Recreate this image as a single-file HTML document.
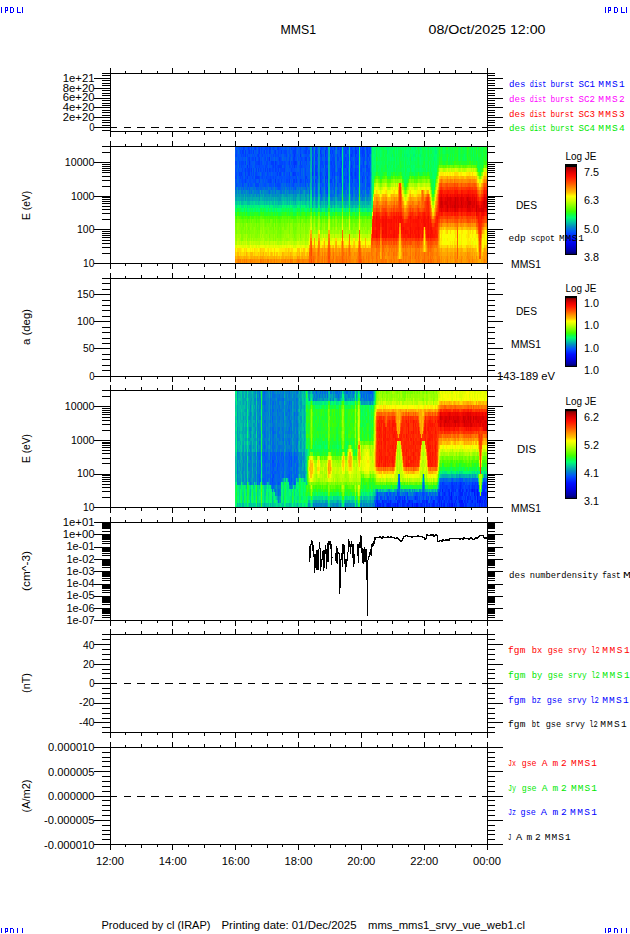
<!DOCTYPE html>
<html><head><meta charset="utf-8"><style>
html,body{margin:0;padding:0;background:#fff;width:630px;height:934px;overflow:hidden}
svg{display:block}
text{font-family:"Liberation Sans",sans-serif}
.m{font-family:"Liberation Mono",monospace}
</style></head><body>
<svg width="630" height="934" viewBox="0 0 630 934" shape-rendering="crispEdges">
<rect width="630" height="934" fill="#fff"/>
<path fill="#0033ff" d="M312 146h1v4h-1zM326 146h1v4h-1zM347 146h1v4h-1zM355 146h1v4h-1zM320 150h1v4h-1zM325 150h1v4h-1zM340 150h1v4h-1zM355 150h2v4h-2zM294 154h1v3h-1zM300 154h1v3h-1zM325 154h1v3h-1zM351 154h1v3h-1zM355 154h1v3h-1zM269 157h1v4h-1zM249 161h1v4h-1zM275 161h1v4h-1zM294 161h2v4h-2zM247 165h1v3h-1zM294 165h1v3h-1zM351 165h1v3h-1zM340 168h1v4h-1zM293 172h1v4h-1zM312 172h1v4h-1zM316 172h1v4h-1zM340 172h1v4h-1zM351 172h1v4h-1zM355 172h1v4h-1zM325 176h1v3h-1zM327 176h1v3h-1zM275 179h1v4h-1z"/>
<path fill="#003cff" d="M243 146h1v4h-1zM248 146h1v4h-1zM255 146h1v4h-1zM259 146h1v4h-1zM269 146h2v4h-2zM277 146h2v4h-2zM295 146h1v4h-1zM306 146h1v4h-1zM316 146h1v4h-1zM334 146h1v4h-1zM338 146h1v4h-1zM362 146h2v4h-2zM366 146h2v4h-2zM242 150h2v4h-2zM245 150h1v4h-1zM249 150h1v4h-1zM253 150h1v4h-1zM259 150h1v4h-1zM264 150h1v4h-1zM269 150h1v4h-1zM275 150h1v4h-1zM281 150h1v4h-1zM293 150h3v4h-3zM305 150h2v4h-2zM315 150h2v4h-2zM330 150h1v4h-1zM332 150h1v4h-1zM345 150h1v4h-1zM352 150h1v4h-1zM362 150h2v4h-2zM367 150h1v4h-1zM245 154h1v3h-1zM258 154h1v3h-1zM317 154h1v3h-1zM321 154h1v3h-1zM340 154h1v3h-1zM362 154h1v3h-1zM364 154h1v3h-1zM367 154h2v3h-2zM249 157h1v4h-1zM255 157h1v4h-1zM259 157h1v4h-1zM279 157h1v4h-1zM293 157h2v4h-2zM305 157h2v4h-2zM315 157h2v4h-2zM345 157h1v4h-1zM245 161h1v4h-1zM258 161h2v4h-2zM271 161h3v4h-3zM289 161h1v4h-1zM293 161h1v4h-1zM296 161h1v4h-1zM300 161h1v4h-1zM312 161h1v4h-1zM325 161h2v4h-2zM331 161h1v4h-1zM334 161h1v4h-1zM341 161h1v4h-1zM344 161h1v4h-1zM351 161h1v4h-1zM355 161h1v4h-1zM357 161h1v4h-1zM363 161h1v4h-1zM249 165h1v3h-1zM273 165h1v3h-1zM275 165h1v3h-1zM278 165h4v3h-4zM315 165h2v3h-2zM325 165h1v3h-1zM334 165h1v3h-1zM344 165h2v3h-2zM366 165h2v3h-2zM245 168h1v4h-1zM248 168h2v4h-2zM251 168h1v4h-1zM256 168h1v4h-1zM258 168h1v4h-1zM265 168h1v4h-1zM267 168h1v4h-1zM269 168h1v4h-1zM275 168h1v4h-1zM278 168h1v4h-1zM284 168h1v4h-1zM312 168h1v4h-1zM315 168h2v4h-2zM327 168h1v4h-1zM334 168h1v4h-1zM347 168h1v4h-1zM355 168h1v4h-1zM239 172h1v4h-1zM241 172h1v4h-1zM245 172h1v4h-1zM248 172h2v4h-2zM277 172h1v4h-1zM279 172h2v4h-2zM289 172h1v4h-1zM294 172h2v4h-2zM315 172h1v4h-1zM320 172h1v4h-1zM326 172h2v4h-2zM332 172h1v4h-1zM334 172h1v4h-1zM247 176h1v3h-1zM255 176h4v3h-4zM305 176h2v3h-2zM320 176h1v3h-1zM334 176h1v3h-1zM340 176h1v3h-1zM344 176h1v3h-1zM347 176h1v3h-1zM351 176h2v3h-2zM355 176h1v3h-1zM362 176h1v3h-1zM367 176h1v3h-1zM245 179h1v4h-1zM270 179h1v4h-1zM289 179h1v4h-1zM293 179h2v4h-2zM296 179h1v4h-1zM300 179h1v4h-1zM305 179h1v4h-1zM315 179h1v4h-1zM320 179h1v4h-1zM325 179h1v4h-1zM327 179h1v4h-1zM330 179h2v4h-2zM334 179h1v4h-1zM340 179h1v4h-1zM352 179h1v4h-1zM362 179h1v4h-1zM320 187h1v3h-1zM327 187h1v3h-1z"/>
<path fill="#0045ff" d="M235 146h1v4h-1zM244 146h1v4h-1zM249 146h1v4h-1zM251 146h1v4h-1zM254 146h1v4h-1zM258 146h1v4h-1zM261 146h1v4h-1zM265 146h3v4h-3zM273 146h1v4h-1zM291 146h1v4h-1zM294 146h1v4h-1zM300 146h1v4h-1zM305 146h1v4h-1zM307 146h1v4h-1zM321 146h1v4h-1zM327 146h1v4h-1zM331 146h1v4h-1zM337 146h1v4h-1zM340 146h2v4h-2zM345 146h1v4h-1zM351 146h1v4h-1zM358 146h1v4h-1zM360 146h1v4h-1zM369 146h1v4h-1zM236 150h1v4h-1zM240 150h1v4h-1zM248 150h1v4h-1zM251 150h1v4h-1zM258 150h1v4h-1zM261 150h1v4h-1zM266 150h1v4h-1zM270 150h1v4h-1zM274 150h1v4h-1zM278 150h1v4h-1zM284 150h3v4h-3zM300 150h1v4h-1zM304 150h1v4h-1zM308 150h2v4h-2zM312 150h1v4h-1zM326 150h1v4h-1zM346 150h1v4h-1zM351 150h1v4h-1zM361 150h1v4h-1zM364 150h1v4h-1zM369 150h1v4h-1zM236 154h1v3h-1zM241 154h1v3h-1zM243 154h1v3h-1zM247 154h1v3h-1zM257 154h1v3h-1zM262 154h1v3h-1zM273 154h1v3h-1zM275 154h1v3h-1zM278 154h1v3h-1zM286 154h1v3h-1zM293 154h1v3h-1zM295 154h1v3h-1zM315 154h2v3h-2zM320 154h1v3h-1zM331 154h1v3h-1zM333 154h1v3h-1zM337 154h1v3h-1zM344 154h1v3h-1zM347 154h1v3h-1zM350 154h1v3h-1zM352 154h1v3h-1zM363 154h1v3h-1zM248 157h1v4h-1zM252 157h2v4h-2zM258 157h1v4h-1zM265 157h1v4h-1zM267 157h1v4h-1zM280 157h1v4h-1zM289 157h1v4h-1zM301 157h1v4h-1zM309 157h1v4h-1zM312 157h1v4h-1zM321 157h1v4h-1zM325 157h2v4h-2zM332 157h3v4h-3zM337 157h2v4h-2zM344 157h1v4h-1zM348 157h1v4h-1zM350 157h1v4h-1zM355 157h3v4h-3zM363 157h2v4h-2zM367 157h1v4h-1zM369 157h1v4h-1zM235 161h2v4h-2zM239 161h1v4h-1zM241 161h3v4h-3zM255 161h3v4h-3zM261 161h1v4h-1zM266 161h2v4h-2zM276 161h1v4h-1zM279 161h4v4h-4zM284 161h1v4h-1zM291 161h1v4h-1zM306 161h1v4h-1zM316 161h1v4h-1zM320 161h3v4h-3zM327 161h1v4h-1zM330 161h1v4h-1zM333 161h1v4h-1zM340 161h1v4h-1zM346 161h1v4h-1zM356 161h1v4h-1zM367 161h1v4h-1zM239 165h1v3h-1zM241 165h1v3h-1zM255 165h1v3h-1zM259 165h1v3h-1zM265 165h2v3h-2zM272 165h1v3h-1zM277 165h1v3h-1zM284 165h1v3h-1zM289 165h1v3h-1zM292 165h1v3h-1zM296 165h1v3h-1zM300 165h2v3h-2zM312 165h1v3h-1zM317 165h1v3h-1zM320 165h1v3h-1zM323 165h1v3h-1zM331 165h2v3h-2zM341 165h1v3h-1zM352 165h1v3h-1zM355 165h1v3h-1zM361 165h1v3h-1zM363 165h1v3h-1zM242 168h1v4h-1zM247 168h1v4h-1zM253 168h1v4h-1zM260 168h1v4h-1zM263 168h1v4h-1zM270 168h1v4h-1zM272 168h2v4h-2zM276 168h1v4h-1zM280 168h4v4h-4zM291 168h1v4h-1zM300 168h1v4h-1zM305 168h1v4h-1zM320 168h1v4h-1zM325 168h2v4h-2zM331 168h3v4h-3zM338 168h2v4h-2zM350 168h3v4h-3zM356 168h2v4h-2zM361 168h1v4h-1zM366 168h4v4h-4zM236 172h1v4h-1zM240 172h1v4h-1zM251 172h1v4h-1zM253 172h1v4h-1zM255 172h2v4h-2zM262 172h1v4h-1zM267 172h1v4h-1zM284 172h1v4h-1zM292 172h1v4h-1zM300 172h1v4h-1zM305 172h1v4h-1zM317 172h1v4h-1zM321 172h1v4h-1zM337 172h1v4h-1zM339 172h1v4h-1zM347 172h1v4h-1zM350 172h1v4h-1zM352 172h1v4h-1zM354 172h1v4h-1zM356 172h2v4h-2zM363 172h1v4h-1zM368 172h1v4h-1zM235 176h2v3h-2zM240 176h1v3h-1zM242 176h1v3h-1zM245 176h1v3h-1zM252 176h1v3h-1zM259 176h1v3h-1zM262 176h1v3h-1zM266 176h1v3h-1zM270 176h1v3h-1zM273 176h1v3h-1zM275 176h1v3h-1zM289 176h1v3h-1zM296 176h1v3h-1zM317 176h1v3h-1zM326 176h1v3h-1zM332 176h1v3h-1zM339 176h1v3h-1zM356 176h2v3h-2zM364 176h1v3h-1zM242 179h1v4h-1zM255 179h1v4h-1zM259 179h1v4h-1zM268 179h2v4h-2zM271 179h1v4h-1zM278 179h1v4h-1zM281 179h1v4h-1zM286 179h2v4h-2zM301 179h1v4h-1zM307 179h1v4h-1zM316 179h1v4h-1zM321 179h1v4h-1zM339 179h1v4h-1zM347 179h1v4h-1zM357 179h1v4h-1zM367 179h1v4h-1zM236 183h1v4h-1zM242 183h1v4h-1zM248 183h1v4h-1zM255 183h4v4h-4zM275 183h1v4h-1zM277 183h3v4h-3zM293 183h1v4h-1zM305 183h1v4h-1zM316 183h1v4h-1zM326 183h1v4h-1zM334 183h1v4h-1zM337 183h1v4h-1zM341 183h1v4h-1zM344 183h1v4h-1zM351 183h1v4h-1zM367 183h3v4h-3zM320 190h1v4h-1zM327 190h1v4h-1z"/>
<path fill="#004eff" d="M239 146h1v4h-1zM241 146h1v4h-1zM247 146h1v4h-1zM256 146h1v4h-1zM262 146h1v4h-1zM264 146h1v4h-1zM272 146h1v4h-1zM274 146h1v4h-1zM279 146h2v4h-2zM285 146h1v4h-1zM289 146h1v4h-1zM292 146h2v4h-2zM296 146h1v4h-1zM315 146h1v4h-1zM320 146h1v4h-1zM322 146h2v4h-2zM325 146h1v4h-1zM330 146h1v4h-1zM332 146h1v4h-1zM339 146h1v4h-1zM344 146h1v4h-1zM346 146h1v4h-1zM348 146h1v4h-1zM350 146h1v4h-1zM352 146h1v4h-1zM356 146h2v4h-2zM364 146h1v4h-1zM368 146h1v4h-1zM241 150h1v4h-1zM250 150h1v4h-1zM255 150h1v4h-1zM263 150h1v4h-1zM267 150h1v4h-1zM279 150h2v4h-2zM283 150h1v4h-1zM289 150h1v4h-1zM292 150h1v4h-1zM303 150h1v4h-1zM321 150h1v4h-1zM327 150h1v4h-1zM331 150h1v4h-1zM333 150h2v4h-2zM341 150h1v4h-1zM344 150h1v4h-1zM350 150h1v4h-1zM353 150h2v4h-2zM357 150h2v4h-2zM360 150h1v4h-1zM366 150h1v4h-1zM368 150h1v4h-1zM370 150h1v4h-1zM235 154h1v3h-1zM242 154h1v3h-1zM244 154h1v3h-1zM249 154h1v3h-1zM252 154h1v3h-1zM254 154h1v3h-1zM259 154h1v3h-1zM261 154h1v3h-1zM264 154h2v3h-2zM267 154h1v3h-1zM269 154h1v3h-1zM271 154h1v3h-1zM276 154h2v3h-2zM280 154h1v3h-1zM284 154h2v3h-2zM289 154h2v3h-2zM305 154h4v3h-4zM312 154h1v3h-1zM323 154h1v3h-1zM326 154h2v3h-2zM334 154h1v3h-1zM348 154h1v3h-1zM353 154h1v3h-1zM356 154h3v3h-3zM361 154h1v3h-1zM238 157h1v4h-1zM242 157h1v4h-1zM245 157h1v4h-1zM247 157h1v4h-1zM251 157h1v4h-1zM261 157h1v4h-1zM264 157h1v4h-1zM268 157h1v4h-1zM271 157h1v4h-1zM275 157h1v4h-1zM278 157h1v4h-1zM281 157h1v4h-1zM286 157h1v4h-1zM295 157h2v4h-2zM298 157h1v4h-1zM300 157h1v4h-1zM302 157h1v4h-1zM304 157h1v4h-1zM313 157h1v4h-1zM320 157h1v4h-1zM327 157h1v4h-1zM330 157h2v4h-2zM340 157h2v4h-2zM346 157h2v4h-2zM351 157h2v4h-2zM361 157h2v4h-2zM366 157h1v4h-1zM240 161h1v4h-1zM247 161h2v4h-2zM250 161h1v4h-1zM260 161h1v4h-1zM264 161h1v4h-1zM269 161h2v4h-2zM277 161h1v4h-1zM283 161h1v4h-1zM285 161h1v4h-1zM288 161h1v4h-1zM292 161h1v4h-1zM302 161h1v4h-1zM304 161h1v4h-1zM315 161h1v4h-1zM317 161h1v4h-1zM332 161h1v4h-1zM337 161h1v4h-1zM347 161h2v4h-2zM352 161h2v4h-2zM362 161h1v4h-1zM368 161h1v4h-1zM236 165h1v3h-1zM242 165h2v3h-2zM250 165h2v3h-2zM256 165h3v3h-3zM260 165h4v3h-4zM267 165h1v3h-1zM269 165h1v3h-1zM274 165h1v3h-1zM276 165h1v3h-1zM285 165h1v3h-1zM290 165h1v3h-1zM293 165h1v3h-1zM295 165h1v3h-1zM299 165h1v3h-1zM302 165h1v3h-1zM304 165h2v3h-2zM309 165h1v3h-1zM313 165h1v3h-1zM321 165h2v3h-2zM326 165h2v3h-2zM330 165h1v3h-1zM333 165h1v3h-1zM337 165h1v3h-1zM339 165h2v3h-2zM343 165h1v3h-1zM346 165h2v3h-2zM356 165h1v3h-1zM362 165h1v3h-1zM364 165h1v3h-1zM369 165h1v3h-1zM235 168h2v4h-2zM238 168h1v4h-1zM244 168h1v4h-1zM246 168h1v4h-1zM250 168h1v4h-1zM261 168h1v4h-1zM271 168h1v4h-1zM277 168h1v4h-1zM292 168h3v4h-3zM330 168h1v4h-1zM343 168h2v4h-2zM360 168h1v4h-1zM235 172h1v4h-1zM242 172h1v4h-1zM247 172h1v4h-1zM257 172h1v4h-1zM263 172h2v4h-2zM268 172h1v4h-1zM270 172h1v4h-1zM273 172h1v4h-1zM275 172h2v4h-2zM281 172h1v4h-1zM283 172h1v4h-1zM286 172h2v4h-2zM297 172h2v4h-2zM313 172h1v4h-1zM325 172h1v4h-1zM330 172h2v4h-2zM333 172h1v4h-1zM338 172h1v4h-1zM341 172h1v4h-1zM345 172h1v4h-1zM361 172h1v4h-1zM366 172h1v4h-1zM369 172h1v4h-1zM239 176h1v3h-1zM241 176h1v3h-1zM246 176h1v3h-1zM249 176h2v3h-2zM253 176h1v3h-1zM261 176h1v3h-1zM264 176h1v3h-1zM267 176h3v3h-3zM271 176h2v3h-2zM276 176h1v3h-1zM279 176h4v3h-4zM284 176h1v3h-1zM286 176h3v3h-3zM290 176h1v3h-1zM292 176h2v3h-2zM295 176h1v3h-1zM300 176h1v3h-1zM312 176h1v3h-1zM316 176h1v3h-1zM321 176h2v3h-2zM331 176h1v3h-1zM345 176h2v3h-2zM354 176h1v3h-1zM363 176h1v3h-1zM366 176h1v3h-1zM368 176h1v3h-1zM236 179h1v4h-1zM239 179h1v4h-1zM241 179h1v4h-1zM243 179h2v4h-2zM246 179h1v4h-1zM249 179h2v4h-2zM253 179h2v4h-2zM263 179h1v4h-1zM265 179h1v4h-1zM267 179h1v4h-1zM273 179h1v4h-1zM277 179h1v4h-1zM279 179h1v4h-1zM284 179h1v4h-1zM288 179h1v4h-1zM291 179h1v4h-1zM295 179h1v4h-1zM303 179h1v4h-1zM309 179h1v4h-1zM312 179h2v4h-2zM345 179h1v4h-1zM348 179h1v4h-1zM350 179h2v4h-2zM355 179h2v4h-2zM363 179h1v4h-1zM368 179h2v4h-2zM243 183h1v4h-1zM250 183h2v4h-2zM264 183h2v4h-2zM269 183h3v4h-3zM273 183h1v4h-1zM276 183h1v4h-1zM280 183h1v4h-1zM286 183h1v4h-1zM289 183h1v4h-1zM292 183h1v4h-1zM300 183h1v4h-1zM308 183h1v4h-1zM312 183h1v4h-1zM320 183h1v4h-1zM322 183h1v4h-1zM325 183h1v4h-1zM327 183h1v4h-1zM330 183h1v4h-1zM332 183h1v4h-1zM347 183h1v4h-1zM355 183h1v4h-1zM358 183h1v4h-1zM364 183h1v4h-1zM366 183h1v4h-1zM278 187h2v3h-2zM295 187h1v3h-1zM316 187h1v3h-1zM325 187h2v3h-2zM334 187h1v3h-1zM344 187h2v3h-2zM351 187h1v3h-1zM355 187h2v3h-2zM362 187h1v3h-1zM366 187h1v3h-1zM369 187h1v3h-1zM316 190h1v4h-1zM326 190h1v4h-1zM334 190h1v4h-1zM352 190h1v4h-1z"/>
<path fill="#0058f8" d="M236 146h1v4h-1zM238 146h1v4h-1zM240 146h1v4h-1zM242 146h1v4h-1zM245 146h2v4h-2zM253 146h1v4h-1zM260 146h1v4h-1zM263 146h1v4h-1zM268 146h1v4h-1zM275 146h1v4h-1zM281 146h2v4h-2zM284 146h1v4h-1zM286 146h1v4h-1zM299 146h1v4h-1zM301 146h1v4h-1zM303 146h2v4h-2zM313 146h1v4h-1zM317 146h1v4h-1zM333 146h1v4h-1zM335 146h1v4h-1zM343 146h1v4h-1zM361 146h1v4h-1zM370 146h1v4h-1zM237 150h1v4h-1zM239 150h1v4h-1zM246 150h2v4h-2zM252 150h1v4h-1zM256 150h1v4h-1zM260 150h1v4h-1zM262 150h1v4h-1zM268 150h1v4h-1zM273 150h1v4h-1zM276 150h2v4h-2zM282 150h1v4h-1zM288 150h1v4h-1zM296 150h1v4h-1zM298 150h2v4h-2zM301 150h2v4h-2zM307 150h1v4h-1zM313 150h1v4h-1zM317 150h1v4h-1zM337 150h3v4h-3zM347 150h1v4h-1zM237 154h4v3h-4zM246 154h1v3h-1zM248 154h1v3h-1zM250 154h1v3h-1zM253 154h1v3h-1zM255 154h2v3h-2zM260 154h1v3h-1zM263 154h1v3h-1zM266 154h1v3h-1zM270 154h1v3h-1zM272 154h1v3h-1zM274 154h1v3h-1zM279 154h1v3h-1zM281 154h1v3h-1zM287 154h1v3h-1zM292 154h1v3h-1zM296 154h3v3h-3zM301 154h1v3h-1zM304 154h1v3h-1zM313 154h1v3h-1zM322 154h1v3h-1zM330 154h1v3h-1zM332 154h1v3h-1zM338 154h2v3h-2zM341 154h1v3h-1zM345 154h1v3h-1zM360 154h1v3h-1zM366 154h1v3h-1zM369 154h1v3h-1zM236 157h1v4h-1zM239 157h3v4h-3zM243 157h1v4h-1zM250 157h1v4h-1zM254 157h1v4h-1zM256 157h2v4h-2zM260 157h1v4h-1zM263 157h1v4h-1zM272 157h2v4h-2zM277 157h1v4h-1zM284 157h1v4h-1zM290 157h1v4h-1zM292 157h1v4h-1zM299 157h1v4h-1zM303 157h1v4h-1zM308 157h1v4h-1zM317 157h1v4h-1zM354 157h1v4h-1zM358 157h1v4h-1zM237 161h1v4h-1zM244 161h1v4h-1zM251 161h3v4h-3zM262 161h1v4h-1zM265 161h1v4h-1zM268 161h1v4h-1zM274 161h1v4h-1zM278 161h1v4h-1zM286 161h2v4h-2zM297 161h1v4h-1zM303 161h1v4h-1zM305 161h1v4h-1zM308 161h1v4h-1zM323 161h1v4h-1zM338 161h2v4h-2zM345 161h1v4h-1zM358 161h1v4h-1zM361 161h1v4h-1zM366 161h1v4h-1zM235 165h1v3h-1zM237 165h1v3h-1zM240 165h1v3h-1zM244 165h3v3h-3zM248 165h1v3h-1zM252 165h1v3h-1zM254 165h1v3h-1zM264 165h1v3h-1zM270 165h2v3h-2zM283 165h1v3h-1zM287 165h1v3h-1zM291 165h1v3h-1zM303 165h1v3h-1zM306 165h2v3h-2zM338 165h1v3h-1zM348 165h1v3h-1zM350 165h1v3h-1zM357 165h1v3h-1zM360 165h1v3h-1zM368 165h1v3h-1zM239 168h3v4h-3zM243 168h1v4h-1zM255 168h1v4h-1zM259 168h1v4h-1zM262 168h1v4h-1zM264 168h1v4h-1zM266 168h1v4h-1zM268 168h1v4h-1zM274 168h1v4h-1zM279 168h1v4h-1zM285 168h2v4h-2zM288 168h3v4h-3zM295 168h2v4h-2zM299 168h1v4h-1zM302 168h1v4h-1zM304 168h1v4h-1zM306 168h1v4h-1zM308 168h2v4h-2zM313 168h1v4h-1zM317 168h1v4h-1zM321 168h2v4h-2zM337 168h1v4h-1zM345 168h2v4h-2zM353 168h2v4h-2zM358 168h1v4h-1zM362 168h3v4h-3zM237 172h2v4h-2zM243 172h1v4h-1zM246 172h1v4h-1zM250 172h1v4h-1zM252 172h1v4h-1zM258 172h2v4h-2zM261 172h1v4h-1zM266 172h1v4h-1zM269 172h1v4h-1zM272 172h1v4h-1zM274 172h1v4h-1zM278 172h1v4h-1zM288 172h1v4h-1zM296 172h1v4h-1zM299 172h1v4h-1zM302 172h1v4h-1zM304 172h1v4h-1zM306 172h4v4h-4zM322 172h1v4h-1zM335 172h1v4h-1zM343 172h1v4h-1zM348 172h1v4h-1zM360 172h1v4h-1zM362 172h1v4h-1zM364 172h1v4h-1zM367 172h1v4h-1zM238 176h1v3h-1zM243 176h1v3h-1zM248 176h1v3h-1zM251 176h1v3h-1zM260 176h1v3h-1zM263 176h1v3h-1zM265 176h1v3h-1zM274 176h1v3h-1zM277 176h2v3h-2zM283 176h1v3h-1zM285 176h1v3h-1zM291 176h1v3h-1zM294 176h1v3h-1zM298 176h2v3h-2zM301 176h2v3h-2zM307 176h1v3h-1zM309 176h1v3h-1zM315 176h1v3h-1zM323 176h1v3h-1zM330 176h1v3h-1zM333 176h1v3h-1zM337 176h1v3h-1zM348 176h1v3h-1zM350 176h1v3h-1zM353 176h1v3h-1zM361 176h1v3h-1zM369 176h1v3h-1zM235 179h1v4h-1zM240 179h1v4h-1zM247 179h2v4h-2zM251 179h2v4h-2zM256 179h1v4h-1zM258 179h1v4h-1zM262 179h1v4h-1zM266 179h1v4h-1zM274 179h1v4h-1zM276 179h1v4h-1zM280 179h1v4h-1zM282 179h2v4h-2zM285 179h1v4h-1zM297 179h1v4h-1zM299 179h1v4h-1zM302 179h1v4h-1zM306 179h1v4h-1zM308 179h1v4h-1zM317 179h1v4h-1zM326 179h1v4h-1zM332 179h1v4h-1zM337 179h2v4h-2zM341 179h1v4h-1zM344 179h1v4h-1zM358 179h1v4h-1zM360 179h2v4h-2zM364 179h1v4h-1zM237 183h1v4h-1zM239 183h2v4h-2zM245 183h1v4h-1zM247 183h1v4h-1zM252 183h1v4h-1zM260 183h1v4h-1zM262 183h2v4h-2zM266 183h1v4h-1zM272 183h1v4h-1zM288 183h1v4h-1zM291 183h1v4h-1zM294 183h1v4h-1zM297 183h1v4h-1zM299 183h1v4h-1zM302 183h2v4h-2zM321 183h1v4h-1zM323 183h1v4h-1zM331 183h1v4h-1zM338 183h1v4h-1zM340 183h1v4h-1zM345 183h1v4h-1zM350 183h1v4h-1zM352 183h1v4h-1zM354 183h1v4h-1zM356 183h2v4h-2zM362 183h2v4h-2zM235 187h1v3h-1zM243 187h1v3h-1zM247 187h1v3h-1zM249 187h1v3h-1zM256 187h1v3h-1zM271 187h1v3h-1zM277 187h1v3h-1zM280 187h1v3h-1zM289 187h1v3h-1zM293 187h1v3h-1zM306 187h1v3h-1zM312 187h1v3h-1zM330 187h2v3h-2zM333 187h1v3h-1zM338 187h1v3h-1zM352 187h1v3h-1zM363 187h2v3h-2zM367 187h1v3h-1zM312 190h1v4h-1zM321 190h1v4h-1zM337 190h2v4h-2zM347 190h1v4h-1zM351 190h1v4h-1zM357 190h1v4h-1zM361 190h1v4h-1zM367 190h2v4h-2zM321 194h1v3h-1zM327 194h1v3h-1zM352 194h1v3h-1z"/>
<path fill="#0062ed" d="M250 146h1v4h-1zM252 146h1v4h-1zM257 146h1v4h-1zM271 146h1v4h-1zM276 146h1v4h-1zM283 146h1v4h-1zM287 146h1v4h-1zM290 146h1v4h-1zM297 146h2v4h-2zM302 146h1v4h-1zM308 146h2v4h-2zM353 146h2v4h-2zM235 150h1v4h-1zM244 150h1v4h-1zM254 150h1v4h-1zM257 150h1v4h-1zM265 150h1v4h-1zM271 150h2v4h-2zM287 150h1v4h-1zM290 150h2v4h-2zM322 150h2v4h-2zM343 150h1v4h-1zM348 150h1v4h-1zM251 154h1v3h-1zM268 154h1v3h-1zM282 154h2v3h-2zM291 154h1v3h-1zM299 154h1v3h-1zM303 154h1v3h-1zM309 154h1v3h-1zM346 154h1v3h-1zM354 154h1v3h-1zM235 157h1v4h-1zM237 157h1v4h-1zM244 157h1v4h-1zM262 157h1v4h-1zM266 157h1v4h-1zM270 157h1v4h-1zM276 157h1v4h-1zM283 157h1v4h-1zM285 157h1v4h-1zM287 157h2v4h-2zM307 157h1v4h-1zM322 157h2v4h-2zM339 157h1v4h-1zM343 157h1v4h-1zM368 157h1v4h-1zM238 161h1v4h-1zM254 161h1v4h-1zM263 161h1v4h-1zM290 161h1v4h-1zM299 161h1v4h-1zM301 161h1v4h-1zM307 161h1v4h-1zM309 161h1v4h-1zM313 161h1v4h-1zM324 161h1v4h-1zM343 161h1v4h-1zM350 161h1v4h-1zM360 161h1v4h-1zM364 161h1v4h-1zM369 161h2v4h-2zM253 165h1v3h-1zM268 165h1v3h-1zM282 165h1v3h-1zM286 165h1v3h-1zM288 165h1v3h-1zM297 165h2v3h-2zM308 165h1v3h-1zM335 165h1v3h-1zM353 165h1v3h-1zM358 165h1v3h-1zM252 168h1v4h-1zM254 168h1v4h-1zM257 168h1v4h-1zM287 168h1v4h-1zM297 168h2v4h-2zM301 168h1v4h-1zM307 168h1v4h-1zM323 168h1v4h-1zM341 168h1v4h-1zM244 172h1v4h-1zM254 172h1v4h-1zM265 172h1v4h-1zM271 172h1v4h-1zM285 172h1v4h-1zM291 172h1v4h-1zM301 172h1v4h-1zM324 172h1v4h-1zM336 172h1v4h-1zM344 172h1v4h-1zM346 172h1v4h-1zM353 172h1v4h-1zM358 172h1v4h-1zM365 172h1v4h-1zM244 176h1v3h-1zM254 176h1v3h-1zM303 176h2v3h-2zM308 176h1v3h-1zM338 176h1v3h-1zM341 176h1v3h-1zM360 176h1v3h-1zM238 179h1v4h-1zM257 179h1v4h-1zM260 179h2v4h-2zM264 179h1v4h-1zM272 179h1v4h-1zM290 179h1v4h-1zM292 179h1v4h-1zM298 179h1v4h-1zM304 179h1v4h-1zM322 179h1v4h-1zM335 179h1v4h-1zM346 179h1v4h-1zM354 179h1v4h-1zM366 179h1v4h-1zM238 183h1v4h-1zM241 183h1v4h-1zM249 183h1v4h-1zM253 183h1v4h-1zM259 183h1v4h-1zM261 183h1v4h-1zM267 183h2v4h-2zM281 183h1v4h-1zM283 183h2v4h-2zM287 183h1v4h-1zM290 183h1v4h-1zM295 183h2v4h-2zM301 183h1v4h-1zM304 183h1v4h-1zM306 183h1v4h-1zM313 183h1v4h-1zM315 183h1v4h-1zM317 183h1v4h-1zM339 183h1v4h-1zM343 183h1v4h-1zM353 183h1v4h-1zM361 183h1v4h-1zM238 187h1v3h-1zM241 187h1v3h-1zM257 187h2v3h-2zM260 187h2v3h-2zM265 187h1v3h-1zM267 187h1v3h-1zM275 187h1v3h-1zM284 187h1v3h-1zM287 187h1v3h-1zM291 187h1v3h-1zM294 187h1v3h-1zM315 187h1v3h-1zM317 187h1v3h-1zM321 187h1v3h-1zM340 187h2v3h-2zM343 187h1v3h-1zM346 187h1v3h-1zM357 187h1v3h-1zM360 187h2v3h-2zM269 190h1v4h-1zM309 190h1v4h-1zM315 190h1v4h-1zM325 190h1v4h-1zM331 190h1v4h-1zM344 190h1v4h-1zM350 190h1v4h-1zM355 190h1v4h-1zM364 190h1v4h-1zM366 190h1v4h-1zM312 194h1v3h-1zM316 194h1v3h-1zM330 194h2v3h-2zM337 194h1v3h-1zM351 194h1v3h-1zM356 194h1v3h-1zM362 194h1v3h-1z"/>
<path fill="#006ce3" d="M237 146h1v4h-1zM288 146h1v4h-1zM324 146h1v4h-1zM365 146h1v4h-1zM238 150h1v4h-1zM297 150h1v4h-1zM324 150h1v4h-1zM288 154h1v3h-1zM302 154h1v3h-1zM335 154h2v3h-2zM343 154h1v3h-1zM246 157h1v4h-1zM274 157h1v4h-1zM282 157h1v4h-1zM291 157h1v4h-1zM297 157h1v4h-1zM324 157h1v4h-1zM353 157h1v4h-1zM360 157h1v4h-1zM365 157h1v4h-1zM370 157h1v4h-1zM246 161h1v4h-1zM298 161h1v4h-1zM354 161h1v4h-1zM238 165h1v3h-1zM354 165h1v3h-1zM365 165h1v3h-1zM237 168h1v4h-1zM303 168h1v4h-1zM324 168h1v4h-1zM335 168h1v4h-1zM348 168h1v4h-1zM260 172h1v4h-1zM282 172h1v4h-1zM290 172h1v4h-1zM303 172h1v4h-1zM323 172h1v4h-1zM370 172h1v4h-1zM237 176h1v3h-1zM297 176h1v3h-1zM313 176h1v3h-1zM343 176h1v3h-1zM358 176h1v3h-1zM237 179h1v4h-1zM323 179h1v4h-1zM333 179h1v4h-1zM343 179h1v4h-1zM353 179h1v4h-1zM235 183h1v4h-1zM244 183h1v4h-1zM246 183h1v4h-1zM254 183h1v4h-1zM274 183h1v4h-1zM282 183h1v4h-1zM285 183h1v4h-1zM298 183h1v4h-1zM309 183h1v4h-1zM333 183h1v4h-1zM335 183h1v4h-1zM346 183h1v4h-1zM348 183h1v4h-1zM360 183h1v4h-1zM239 187h1v3h-1zM245 187h2v3h-2zM253 187h2v3h-2zM259 187h1v3h-1zM262 187h2v3h-2zM266 187h1v3h-1zM269 187h1v3h-1zM272 187h2v3h-2zM276 187h1v3h-1zM281 187h2v3h-2zM296 187h1v3h-1zM298 187h1v3h-1zM300 187h1v3h-1zM305 187h1v3h-1zM309 187h1v3h-1zM313 187h1v3h-1zM322 187h2v3h-2zM332 187h1v3h-1zM337 187h1v3h-1zM339 187h1v3h-1zM347 187h1v3h-1zM350 187h1v3h-1zM353 187h1v3h-1zM368 187h1v3h-1zM249 190h1v4h-1zM251 190h1v4h-1zM258 190h1v4h-1zM275 190h1v4h-1zM280 190h2v4h-2zM289 190h1v4h-1zM293 190h1v4h-1zM300 190h1v4h-1zM317 190h1v4h-1zM322 190h1v4h-1zM330 190h1v4h-1zM339 190h2v4h-2zM343 190h1v4h-1zM345 190h1v4h-1zM356 190h1v4h-1zM362 190h1v4h-1zM317 194h1v3h-1zM326 194h1v3h-1zM332 194h3v3h-3zM345 194h1v3h-1zM355 194h1v3h-1zM358 194h1v3h-1zM363 194h2v3h-2zM367 194h2v3h-2zM351 197h1v4h-1z"/>
<path fill="#0077d9" d="M335 150h1v4h-1zM365 150h1v4h-1zM324 154h1v3h-1zM365 154h1v3h-1zM370 154h1v3h-1zM335 157h2v4h-2zM335 161h2v4h-2zM370 165h1v3h-1zM365 168h1v4h-1zM370 168h1v4h-1zM335 176h1v3h-1zM370 176h1v3h-1zM365 179h1v4h-1zM370 179h1v4h-1zM307 183h1v4h-1zM324 183h1v4h-1zM370 183h1v4h-1zM236 187h1v3h-1zM242 187h1v3h-1zM244 187h1v3h-1zM248 187h1v3h-1zM250 187h3v3h-3zM255 187h1v3h-1zM264 187h1v3h-1zM270 187h1v3h-1zM283 187h1v3h-1zM286 187h1v3h-1zM288 187h1v3h-1zM290 187h1v3h-1zM292 187h1v3h-1zM302 187h3v3h-3zM348 187h1v3h-1zM358 187h1v3h-1zM365 187h1v3h-1zM236 190h1v4h-1zM241 190h2v4h-2zM254 190h1v4h-1zM256 190h2v4h-2zM259 190h1v4h-1zM261 190h1v4h-1zM268 190h1v4h-1zM272 190h1v4h-1zM283 190h2v4h-2zM286 190h1v4h-1zM295 190h1v4h-1zM301 190h1v4h-1zM306 190h1v4h-1zM313 190h1v4h-1zM323 190h1v4h-1zM332 190h2v4h-2zM341 190h1v4h-1zM348 190h1v4h-1zM354 190h1v4h-1zM360 190h1v4h-1zM363 190h1v4h-1zM369 190h1v4h-1zM313 194h1v3h-1zM315 194h1v3h-1zM320 194h1v3h-1zM322 194h1v3h-1zM325 194h1v3h-1zM338 194h1v3h-1zM344 194h1v3h-1zM360 194h1v3h-1zM320 197h2v4h-2zM331 197h1v4h-1zM340 197h1v4h-1zM352 197h1v4h-1zM355 197h1v4h-1zM357 197h1v4h-1zM362 197h1v4h-1z"/>
<path fill="#0081cf" d="M336 146h1v4h-1zM336 150h1v4h-1zM314 154h1v3h-1zM365 161h1v4h-1zM324 165h1v3h-1zM336 165h1v3h-1zM336 168h1v4h-1zM319 172h1v4h-1zM324 176h1v3h-1zM336 176h1v3h-1zM365 176h1v3h-1zM324 179h1v4h-1zM336 179h1v4h-1zM314 183h1v4h-1zM336 183h1v4h-1zM240 187h1v3h-1zM268 187h1v3h-1zM274 187h1v3h-1zM285 187h1v3h-1zM297 187h1v3h-1zM299 187h1v3h-1zM301 187h1v3h-1zM307 187h2v3h-2zM354 187h1v3h-1zM238 190h1v4h-1zM244 190h2v4h-2zM247 190h2v4h-2zM250 190h1v4h-1zM255 190h1v4h-1zM264 190h1v4h-1zM266 190h2v4h-2zM270 190h1v4h-1zM273 190h1v4h-1zM278 190h2v4h-2zM288 190h1v4h-1zM290 190h3v4h-3zM294 190h1v4h-1zM296 190h3v4h-3zM302 190h1v4h-1zM305 190h1v4h-1zM307 190h1v4h-1zM353 190h1v4h-1zM358 190h1v4h-1zM256 194h1v3h-1zM259 194h1v3h-1zM305 194h1v3h-1zM309 194h1v3h-1zM323 194h1v3h-1zM339 194h2v3h-2zM343 194h1v3h-1zM346 194h2v3h-2zM353 194h1v3h-1zM357 194h1v3h-1zM361 194h1v3h-1zM366 194h1v3h-1zM312 197h1v4h-1zM316 197h1v4h-1zM325 197h3v4h-3zM330 197h1v4h-1zM332 197h1v4h-1zM334 197h1v4h-1zM338 197h1v4h-1zM344 197h2v4h-2zM347 197h1v4h-1zM356 197h1v4h-1zM361 197h1v4h-1zM364 197h1v4h-1zM367 197h1v4h-1z"/>
<path fill="#008bc5" d="M318 146h2v4h-2zM318 150h1v4h-1zM319 154h1v3h-1zM319 157h1v4h-1zM314 161h1v4h-1zM319 165h1v3h-1zM314 168h1v4h-1zM319 168h1v4h-1zM314 176h1v3h-1zM318 176h1v3h-1zM365 183h1v4h-1zM237 187h1v3h-1zM324 187h1v3h-1zM335 187h2v3h-2zM370 187h1v3h-1zM235 190h1v4h-1zM243 190h1v4h-1zM252 190h2v4h-2zM262 190h1v4h-1zM265 190h1v4h-1zM271 190h1v4h-1zM274 190h1v4h-1zM276 190h2v4h-2zM282 190h1v4h-1zM287 190h1v4h-1zM336 190h1v4h-1zM346 190h1v4h-1zM370 190h1v4h-1zM243 194h1v3h-1zM245 194h1v3h-1zM247 194h1v3h-1zM249 194h1v3h-1zM253 194h1v3h-1zM264 194h2v3h-2zM269 194h1v3h-1zM272 194h2v3h-2zM275 194h1v3h-1zM277 194h2v3h-2zM280 194h1v3h-1zM286 194h1v3h-1zM293 194h1v3h-1zM295 194h2v3h-2zM300 194h1v3h-1zM341 194h1v3h-1zM348 194h1v3h-1zM350 194h1v3h-1zM354 194h1v3h-1zM369 194h2v3h-2zM309 197h1v4h-1zM315 197h1v4h-1zM317 197h1v4h-1zM322 197h1v4h-1zM337 197h1v4h-1zM339 197h1v4h-1zM341 197h1v4h-1zM346 197h1v4h-1zM363 197h1v4h-1zM366 197h1v4h-1z"/>
<path fill="#0096bc" d="M314 146h1v4h-1zM314 150h1v4h-1zM319 150h1v4h-1zM318 154h1v3h-1zM310 157h1v4h-1zM314 157h1v4h-1zM318 157h1v4h-1zM318 161h2v4h-2zM314 165h1v3h-1zM318 168h1v4h-1zM314 172h1v4h-1zM318 172h1v4h-1zM319 176h1v3h-1zM314 179h1v4h-1zM318 179h2v4h-2zM239 190h2v4h-2zM246 190h1v4h-1zM263 190h1v4h-1zM285 190h1v4h-1zM299 190h1v4h-1zM303 190h1v4h-1zM308 190h1v4h-1zM324 190h1v4h-1zM335 190h1v4h-1zM365 190h1v4h-1zM235 194h2v3h-2zM239 194h1v3h-1zM241 194h2v3h-2zM248 194h1v3h-1zM250 194h1v3h-1zM252 194h1v3h-1zM254 194h1v3h-1zM257 194h2v3h-2zM262 194h1v3h-1zM266 194h3v3h-3zM271 194h1v3h-1zM274 194h1v3h-1zM276 194h1v3h-1zM279 194h1v3h-1zM281 194h1v3h-1zM284 194h2v3h-2zM287 194h1v3h-1zM289 194h1v3h-1zM294 194h1v3h-1zM306 194h1v3h-1zM324 194h1v3h-1zM335 194h2v3h-2zM365 194h1v3h-1zM245 197h1v4h-1zM259 197h1v4h-1zM279 197h2v4h-2zM293 197h1v4h-1zM295 197h1v4h-1zM300 197h1v4h-1zM306 197h1v4h-1zM313 197h1v4h-1zM333 197h1v4h-1zM343 197h1v4h-1zM350 197h1v4h-1zM353 197h2v4h-2zM368 197h3v4h-3zM312 201h1v4h-1zM316 201h1v4h-1zM320 201h1v4h-1zM327 201h1v4h-1zM334 201h1v4h-1z"/>
<path fill="#00a2b6" d="M310 146h1v4h-1zM310 150h1v4h-1zM310 154h1v3h-1zM310 161h1v4h-1zM318 165h1v3h-1zM310 172h1v4h-1zM310 176h1v3h-1zM310 179h1v4h-1zM319 183h1v4h-1zM314 187h1v3h-1zM237 190h1v4h-1zM260 190h1v4h-1zM304 190h1v4h-1zM314 190h1v4h-1zM319 190h1v4h-1zM237 194h2v3h-2zM240 194h1v3h-1zM246 194h1v3h-1zM251 194h1v3h-1zM255 194h1v3h-1zM260 194h2v3h-2zM270 194h1v3h-1zM283 194h1v3h-1zM288 194h1v3h-1zM290 194h3v3h-3zM299 194h1v3h-1zM301 194h3v3h-3zM236 197h1v4h-1zM241 197h3v4h-3zM247 197h3v4h-3zM252 197h1v4h-1zM264 197h1v4h-1zM266 197h2v4h-2zM269 197h1v4h-1zM271 197h1v4h-1zM273 197h1v4h-1zM275 197h1v4h-1zM277 197h2v4h-2zM287 197h1v4h-1zM289 197h1v4h-1zM294 197h1v4h-1zM305 197h1v4h-1zM323 197h1v4h-1zM348 197h1v4h-1zM358 197h1v4h-1zM360 197h1v4h-1zM325 201h1v4h-1zM330 201h2v4h-2zM345 201h1v4h-1zM351 201h3v4h-3zM355 201h1v4h-1zM357 201h1v4h-1zM368 201h1v4h-1z"/>
<path fill="#00aeaf" d="M311 146h1v4h-1zM311 150h1v4h-1zM328 150h1v4h-1zM311 154h1v3h-1zM328 154h2v3h-2zM328 161h2v4h-2zM310 165h2v3h-2zM329 165h1v3h-1zM310 168h1v4h-1zM329 168h1v4h-1zM311 172h1v4h-1zM311 176h1v3h-1zM329 179h1v4h-1zM311 183h1v4h-1zM318 183h1v4h-1zM319 187h1v3h-1zM244 194h1v3h-1zM263 194h1v3h-1zM282 194h1v3h-1zM297 194h2v3h-2zM304 194h1v3h-1zM307 194h2v3h-2zM314 194h1v3h-1zM235 197h1v4h-1zM238 197h3v4h-3zM250 197h2v4h-2zM253 197h6v4h-6zM262 197h2v4h-2zM265 197h1v4h-1zM268 197h1v4h-1zM270 197h1v4h-1zM272 197h1v4h-1zM276 197h1v4h-1zM281 197h1v4h-1zM284 197h1v4h-1zM286 197h1v4h-1zM291 197h2v4h-2zM296 197h1v4h-1zM299 197h1v4h-1zM301 197h3v4h-3zM324 197h1v4h-1zM335 197h2v4h-2zM278 201h1v4h-1zM295 201h1v4h-1zM315 201h1v4h-1zM317 201h1v4h-1zM321 201h1v4h-1zM323 201h1v4h-1zM326 201h1v4h-1zM332 201h2v4h-2zM337 201h2v4h-2zM340 201h2v4h-2zM344 201h1v4h-1zM346 201h2v4h-2zM350 201h1v4h-1zM354 201h1v4h-1zM356 201h1v4h-1zM358 201h1v4h-1zM362 201h3v4h-3zM366 201h2v4h-2zM312 205h1v3h-1zM316 205h1v3h-1zM320 205h1v3h-1zM331 205h1v3h-1zM334 205h1v3h-1zM352 205h1v3h-1z"/>
<path fill="#00baa8" d="M328 146h2v4h-2zM329 150h1v4h-1zM371 150h1v4h-1zM311 157h1v4h-1zM328 157h2v4h-2zM311 161h1v4h-1zM328 165h1v3h-1zM311 168h1v4h-1zM328 168h1v4h-1zM328 172h2v4h-2zM371 172h1v4h-1zM328 176h2v3h-2zM311 179h1v4h-1zM310 183h1v4h-1zM310 187h2v3h-2zM318 187h1v3h-1zM318 190h1v4h-1zM319 194h1v3h-1zM237 197h1v4h-1zM244 197h1v4h-1zM246 197h1v4h-1zM260 197h2v4h-2zM274 197h1v4h-1zM282 197h2v4h-2zM285 197h1v4h-1zM288 197h1v4h-1zM290 197h1v4h-1zM297 197h2v4h-2zM304 197h1v4h-1zM307 197h2v4h-2zM365 197h1v4h-1zM241 201h2v4h-2zM247 201h3v4h-3zM258 201h1v4h-1zM264 201h1v4h-1zM266 201h1v4h-1zM269 201h1v4h-1zM272 201h2v4h-2zM275 201h1v4h-1zM279 201h3v4h-3zM287 201h1v4h-1zM289 201h1v4h-1zM293 201h1v4h-1zM305 201h1v4h-1zM309 201h1v4h-1zM322 201h1v4h-1zM335 201h1v4h-1zM339 201h1v4h-1zM343 201h1v4h-1zM348 201h1v4h-1zM360 201h2v4h-2zM369 201h2v4h-2zM317 205h1v3h-1zM325 205h2v3h-2zM340 205h2v3h-2zM344 205h2v3h-2zM351 205h1v3h-1zM355 205h2v3h-2zM362 205h1v3h-1zM364 205h1v3h-1z"/>
<path fill="#00c6a1" d="M349 146h1v4h-1zM371 146h1v4h-1zM371 154h1v3h-1zM349 157h1v4h-1zM371 157h1v4h-1zM371 161h1v4h-1zM371 165h1v3h-1zM371 168h1v4h-1zM371 176h1v3h-1zM328 179h1v4h-1zM371 179h1v4h-1zM328 183h2v4h-2zM371 183h1v4h-1zM371 187h1v3h-1zM310 190h1v4h-1zM318 194h1v3h-1zM371 194h1v3h-1zM236 201h1v4h-1zM239 201h1v4h-1zM243 201h1v4h-1zM252 201h1v4h-1zM255 201h2v4h-2zM259 201h1v4h-1zM267 201h1v4h-1zM276 201h2v4h-2zM284 201h1v4h-1zM286 201h1v4h-1zM291 201h1v4h-1zM294 201h1v4h-1zM300 201h1v4h-1zM302 201h1v4h-1zM306 201h1v4h-1zM313 201h1v4h-1zM324 201h1v4h-1zM365 201h1v4h-1zM309 205h1v3h-1zM315 205h1v3h-1zM321 205h3v3h-3zM327 205h1v3h-1zM330 205h1v3h-1zM332 205h1v3h-1zM337 205h1v3h-1zM339 205h1v3h-1zM347 205h2v3h-2zM350 205h1v3h-1zM353 205h1v3h-1zM357 205h1v3h-1zM361 205h1v3h-1zM366 205h2v3h-2z"/>
<path fill="#00d198" d="M349 150h1v4h-1zM349 154h1v3h-1zM349 165h1v3h-1zM349 168h1v4h-1zM349 172h1v4h-1zM328 187h2v3h-2zM328 190h2v4h-2zM371 190h1v4h-1zM314 197h1v4h-1zM319 197h1v4h-1zM371 197h1v4h-1zM235 201h1v4h-1zM237 201h1v4h-1zM244 201h3v4h-3zM250 201h2v4h-2zM253 201h1v4h-1zM257 201h1v4h-1zM260 201h4v4h-4zM265 201h1v4h-1zM268 201h1v4h-1zM270 201h2v4h-2zM282 201h1v4h-1zM285 201h1v4h-1zM288 201h1v4h-1zM292 201h1v4h-1zM296 201h2v4h-2zM303 201h2v4h-2zM308 201h1v4h-1zM314 201h1v4h-1zM319 201h1v4h-1zM336 201h1v4h-1zM313 205h1v3h-1zM338 205h1v3h-1zM346 205h1v3h-1zM354 205h1v3h-1zM358 205h1v3h-1zM360 205h1v3h-1zM363 205h1v3h-1zM365 205h1v3h-1zM368 205h3v3h-3z"/>
<path fill="#00dd8e" d="M349 161h1v4h-1zM349 176h1v3h-1zM349 179h1v4h-1zM311 190h1v4h-1zM310 194h1v3h-1zM328 194h1v3h-1zM318 197h1v4h-1zM238 201h1v4h-1zM240 201h1v4h-1zM254 201h1v4h-1zM274 201h1v4h-1zM283 201h1v4h-1zM290 201h1v4h-1zM298 201h2v4h-2zM301 201h1v4h-1zM307 201h1v4h-1zM236 205h1v3h-1zM247 205h1v3h-1zM269 205h1v3h-1zM273 205h1v3h-1zM275 205h1v3h-1zM277 205h2v3h-2zM281 205h1v3h-1zM294 205h1v3h-1zM296 205h1v3h-1zM300 205h1v3h-1zM306 205h1v3h-1zM324 205h1v3h-1zM333 205h1v3h-1zM335 205h1v3h-1zM343 205h1v3h-1zM320 208h2v4h-2zM325 208h2v4h-2zM334 208h1v4h-1zM351 208h1v4h-1zM355 208h1v4h-1z"/>
<path fill="#00e884" d="M342 146h1v4h-1zM342 150h1v4h-1zM342 154h1v3h-1zM342 157h1v4h-1zM342 161h1v4h-1zM342 176h1v3h-1zM349 183h1v4h-1zM349 187h1v3h-1zM311 194h1v3h-1zM329 194h1v3h-1zM310 197h1v4h-1zM318 201h1v4h-1zM371 201h1v4h-1zM241 205h3v3h-3zM245 205h1v3h-1zM249 205h1v3h-1zM251 205h1v3h-1zM253 205h1v3h-1zM259 205h1v3h-1zM264 205h1v3h-1zM274 205h1v3h-1zM276 205h1v3h-1zM279 205h2v3h-2zM286 205h1v3h-1zM289 205h1v3h-1zM292 205h2v3h-2zM295 205h1v3h-1zM305 205h1v3h-1zM314 205h1v3h-1zM336 205h1v3h-1zM371 205h1v3h-1zM312 208h1v4h-1zM315 208h2v4h-2zM327 208h1v4h-1zM331 208h1v4h-1zM345 208h1v4h-1zM352 208h1v4h-1zM362 208h1v4h-1zM367 208h2v4h-2zM370 208h1v4h-1z"/>
<path fill="#00f47a" d="M359 146h1v4h-1zM375 146h1v4h-1zM387 146h1v4h-1zM414 146h1v4h-1zM420 146h1v4h-1zM435 146h1v4h-1zM374 150h1v4h-1zM387 150h1v4h-1zM435 150h2v4h-2zM359 154h1v3h-1zM375 154h1v3h-1zM392 154h1v3h-1zM404 154h1v3h-1zM407 154h1v3h-1zM413 154h2v3h-2zM420 154h1v3h-1zM374 157h1v4h-1zM411 157h1v4h-1zM434 157h1v4h-1zM342 165h1v3h-1zM374 165h1v3h-1zM387 165h1v3h-1zM342 168h1v4h-1zM373 168h1v4h-1zM342 172h1v4h-1zM342 179h1v4h-1zM342 183h1v4h-1zM349 190h1v4h-1zM311 197h1v4h-1zM328 197h1v4h-1zM310 201h2v4h-2zM328 201h2v4h-2zM239 205h1v3h-1zM248 205h1v3h-1zM250 205h1v3h-1zM252 205h1v3h-1zM254 205h5v3h-5zM260 205h1v3h-1zM262 205h1v3h-1zM265 205h3v3h-3zM270 205h3v3h-3zM283 205h2v3h-2zM287 205h1v3h-1zM299 205h1v3h-1zM302 205h2v3h-2zM307 205h2v3h-2zM310 205h1v3h-1zM319 205h1v3h-1zM247 208h1v4h-1zM273 208h1v4h-1zM300 208h1v4h-1zM309 208h1v4h-1zM317 208h1v4h-1zM323 208h1v4h-1zM330 208h1v4h-1zM337 208h5v4h-5zM347 208h1v4h-1zM350 208h1v4h-1zM353 208h1v4h-1zM356 208h2v4h-2zM361 208h1v4h-1zM363 208h2v4h-2zM366 208h1v4h-1zM369 208h1v4h-1z"/>
<path fill="#00ff6f" d="M373 146h2v4h-2zM378 146h1v4h-1zM389 146h1v4h-1zM392 146h1v4h-1zM395 146h1v4h-1zM397 146h1v4h-1zM404 146h1v4h-1zM407 146h1v4h-1zM409 146h1v4h-1zM411 146h3v4h-3zM416 146h1v4h-1zM426 146h1v4h-1zM429 146h1v4h-1zM433 146h2v4h-2zM436 146h1v4h-1zM359 150h1v4h-1zM375 150h1v4h-1zM380 150h1v4h-1zM388 150h1v4h-1zM395 150h1v4h-1zM397 150h1v4h-1zM404 150h1v4h-1zM406 150h3v4h-3zM411 150h1v4h-1zM413 150h2v4h-2zM420 150h2v4h-2zM434 150h1v4h-1zM373 154h2v3h-2zM380 154h1v3h-1zM387 154h1v3h-1zM395 154h1v3h-1zM402 154h1v3h-1zM408 154h2v3h-2zM416 154h1v3h-1zM419 154h1v3h-1zM426 154h1v3h-1zM434 154h3v3h-3zM373 157h1v4h-1zM375 157h1v4h-1zM387 157h1v4h-1zM390 157h1v4h-1zM392 157h1v4h-1zM395 157h1v4h-1zM404 157h1v4h-1zM408 157h1v4h-1zM412 157h1v4h-1zM414 157h1v4h-1zM420 157h1v4h-1zM435 157h2v4h-2zM359 161h1v4h-1zM373 161h3v4h-3zM387 161h1v4h-1zM395 161h1v4h-1zM404 161h1v4h-1zM407 161h1v4h-1zM409 161h1v4h-1zM420 161h1v4h-1zM429 161h1v4h-1zM434 161h1v4h-1zM436 161h1v4h-1zM359 165h1v3h-1zM372 165h1v3h-1zM375 165h1v3h-1zM392 165h1v3h-1zM395 165h1v3h-1zM404 165h1v3h-1zM411 165h1v3h-1zM413 165h2v3h-2zM434 165h1v3h-1zM374 168h2v4h-2zM404 168h1v4h-1zM407 168h3v4h-3zM412 168h2v4h-2zM420 168h1v4h-1zM426 168h1v4h-1zM435 168h2v4h-2zM359 172h1v4h-1zM387 172h1v4h-1zM433 172h1v4h-1zM359 176h1v3h-1zM372 176h1v3h-1zM433 176h2v3h-2zM359 179h1v4h-1zM373 179h1v4h-1zM434 179h1v4h-1zM359 183h1v4h-1zM372 183h1v4h-1zM434 183h1v4h-1zM372 190h1v4h-1zM349 194h1v3h-1zM372 194h1v3h-1zM329 197h1v4h-1zM372 197h1v4h-1zM372 201h1v4h-1zM235 205h1v3h-1zM237 205h2v3h-2zM240 205h1v3h-1zM244 205h1v3h-1zM246 205h1v3h-1zM261 205h1v3h-1zM263 205h1v3h-1zM268 205h1v3h-1zM282 205h1v3h-1zM285 205h1v3h-1zM288 205h1v3h-1zM290 205h2v3h-2zM297 205h2v3h-2zM301 205h1v3h-1zM304 205h1v3h-1zM311 205h1v3h-1zM318 205h1v3h-1zM242 208h2v4h-2zM245 208h1v4h-1zM248 208h1v4h-1zM253 208h1v4h-1zM256 208h1v4h-1zM258 208h2v4h-2zM266 208h2v4h-2zM269 208h1v4h-1zM272 208h1v4h-1zM275 208h1v4h-1zM277 208h4v4h-4zM293 208h2v4h-2zM305 208h2v4h-2zM313 208h1v4h-1zM322 208h1v4h-1zM332 208h2v4h-2zM343 208h2v4h-2zM346 208h1v4h-1zM348 208h1v4h-1zM354 208h1v4h-1zM358 208h1v4h-1zM371 208h1v4h-1z"/>
<path fill="#06ff5e" d="M372 146h1v4h-1zM377 146h1v4h-1zM379 146h2v4h-2zM384 146h3v4h-3zM388 146h1v4h-1zM390 146h1v4h-1zM393 146h1v4h-1zM399 146h1v4h-1zM401 146h3v4h-3zM406 146h1v4h-1zM408 146h1v4h-1zM419 146h1v4h-1zM421 146h1v4h-1zM425 146h1v4h-1zM427 146h1v4h-1zM431 146h2v4h-2zM443 146h2v4h-2zM453 146h1v4h-1zM464 146h1v4h-1zM471 146h1v4h-1zM473 146h1v4h-1zM477 146h1v4h-1zM372 150h2v4h-2zM377 150h3v4h-3zM381 150h1v4h-1zM389 150h4v4h-4zM402 150h1v4h-1zM405 150h1v4h-1zM409 150h2v4h-2zM412 150h1v4h-1zM415 150h1v4h-1zM417 150h1v4h-1zM426 150h1v4h-1zM429 150h1v4h-1zM432 150h2v4h-2zM437 150h1v4h-1zM443 150h2v4h-2zM459 150h1v4h-1zM471 150h1v4h-1zM473 150h1v4h-1zM372 154h1v3h-1zM377 154h2v3h-2zM381 154h1v3h-1zM384 154h1v3h-1zM388 154h3v3h-3zM397 154h1v3h-1zM405 154h2v3h-2zM411 154h2v3h-2zM417 154h1v3h-1zM421 154h1v3h-1zM429 154h1v3h-1zM431 154h1v3h-1zM433 154h1v3h-1zM459 154h1v3h-1zM464 154h1v3h-1zM473 154h1v3h-1zM477 154h1v3h-1zM359 157h1v4h-1zM372 157h1v4h-1zM378 157h1v4h-1zM380 157h1v4h-1zM388 157h2v4h-2zM391 157h1v4h-1zM393 157h1v4h-1zM397 157h2v4h-2zM402 157h1v4h-1zM406 157h2v4h-2zM409 157h1v4h-1zM413 157h1v4h-1zM415 157h2v4h-2zM419 157h1v4h-1zM421 157h2v4h-2zM425 157h3v4h-3zM432 157h2v4h-2zM448 157h1v4h-1zM453 157h1v4h-1zM459 157h1v4h-1zM464 157h1v4h-1zM471 157h1v4h-1zM477 157h1v4h-1zM372 161h1v4h-1zM377 161h5v4h-5zM384 161h1v4h-1zM390 161h1v4h-1zM392 161h1v4h-1zM397 161h2v4h-2zM406 161h1v4h-1zM408 161h1v4h-1zM411 161h4v4h-4zM416 161h1v4h-1zM419 161h1v4h-1zM421 161h2v4h-2zM425 161h2v4h-2zM431 161h2v4h-2zM435 161h1v4h-1zM373 165h1v3h-1zM379 165h2v3h-2zM389 165h1v3h-1zM391 165h1v3h-1zM406 165h1v3h-1zM408 165h1v3h-1zM412 165h1v3h-1zM420 165h2v3h-2zM425 165h3v3h-3zM429 165h1v3h-1zM432 165h2v3h-2zM435 165h2v3h-2zM359 168h1v4h-1zM372 168h1v4h-1zM378 168h1v4h-1zM380 168h1v4h-1zM387 168h6v4h-6zM395 168h1v4h-1zM402 168h1v4h-1zM411 168h1v4h-1zM414 168h1v4h-1zM416 168h2v4h-2zM419 168h1v4h-1zM421 168h2v4h-2zM429 168h1v4h-1zM431 168h4v4h-4zM372 172h3v4h-3zM389 172h2v4h-2zM403 172h2v4h-2zM406 172h3v4h-3zM414 172h1v4h-1zM432 172h1v4h-1zM434 172h2v4h-2zM373 176h1v3h-1zM404 176h2v3h-2zM432 176h1v3h-1zM435 176h1v3h-1zM373 183h1v4h-1zM342 187h1v3h-1zM372 187h2v3h-2zM433 187h1v3h-1zM349 201h1v4h-1zM328 205h1v3h-1zM235 208h2v4h-2zM241 208h1v4h-1zM249 208h1v4h-1zM251 208h1v4h-1zM254 208h1v4h-1zM257 208h1v4h-1zM262 208h1v4h-1zM270 208h1v4h-1zM281 208h1v4h-1zM284 208h1v4h-1zM287 208h1v4h-1zM289 208h1v4h-1zM295 208h2v4h-2zM304 208h1v4h-1zM324 208h1v4h-1zM335 208h2v4h-2zM360 208h1v4h-1zM365 208h1v4h-1z"/>
<path fill="#0cff4d" d="M376 146h1v4h-1zM381 146h3v4h-3zM391 146h1v4h-1zM396 146h1v4h-1zM398 146h1v4h-1zM400 146h1v4h-1zM405 146h1v4h-1zM415 146h1v4h-1zM417 146h1v4h-1zM422 146h3v4h-3zM430 146h1v4h-1zM437 146h2v4h-2zM448 146h1v4h-1zM451 146h1v4h-1zM458 146h3v4h-3zM462 146h2v4h-2zM475 146h1v4h-1zM482 146h1v4h-1zM382 150h1v4h-1zM384 150h2v4h-2zM394 150h1v4h-1zM396 150h1v4h-1zM398 150h2v4h-2zM403 150h1v4h-1zM416 150h1v4h-1zM419 150h1v4h-1zM422 150h1v4h-1zM424 150h2v4h-2zM427 150h1v4h-1zM440 150h1v4h-1zM442 150h1v4h-1zM445 150h1v4h-1zM448 150h2v4h-2zM453 150h1v4h-1zM458 150h1v4h-1zM464 150h2v4h-2zM475 150h1v4h-1zM477 150h1v4h-1zM482 150h1v4h-1zM379 154h1v3h-1zM382 154h1v3h-1zM386 154h1v3h-1zM391 154h1v3h-1zM393 154h1v3h-1zM396 154h1v3h-1zM398 154h2v3h-2zM403 154h1v3h-1zM410 154h1v3h-1zM415 154h1v3h-1zM418 154h1v3h-1zM422 154h2v3h-2zM425 154h1v3h-1zM427 154h1v3h-1zM430 154h1v3h-1zM432 154h1v3h-1zM437 154h2v3h-2zM443 154h2v3h-2zM449 154h1v3h-1zM451 154h1v3h-1zM453 154h1v3h-1zM458 154h1v3h-1zM463 154h1v3h-1zM465 154h1v3h-1zM471 154h1v3h-1zM475 154h1v3h-1zM482 154h1v3h-1zM379 157h1v4h-1zM381 157h5v4h-5zM394 157h1v4h-1zM400 157h2v4h-2zM403 157h1v4h-1zM405 157h1v4h-1zM417 157h1v4h-1zM423 157h1v4h-1zM429 157h3v4h-3zM437 157h1v4h-1zM442 157h4v4h-4zM451 157h1v4h-1zM458 157h1v4h-1zM462 157h2v4h-2zM465 157h2v4h-2zM473 157h1v4h-1zM475 157h1v4h-1zM382 161h2v4h-2zM386 161h1v4h-1zM388 161h2v4h-2zM391 161h1v4h-1zM393 161h1v4h-1zM396 161h1v4h-1zM401 161h3v4h-3zM410 161h1v4h-1zM415 161h1v4h-1zM417 161h1v4h-1zM427 161h1v4h-1zM433 161h1v4h-1zM437 161h1v4h-1zM478 161h1v4h-1zM378 165h1v3h-1zM381 165h4v3h-4zM388 165h1v3h-1zM390 165h1v3h-1zM394 165h1v3h-1zM396 165h2v3h-2zM399 165h1v3h-1zM402 165h2v3h-2zM407 165h1v3h-1zM409 165h2v3h-2zM415 165h3v3h-3zM419 165h1v3h-1zM430 165h2v3h-2zM477 165h2v3h-2zM482 165h1v3h-1zM379 168h1v4h-1zM383 168h2v4h-2zM393 168h1v4h-1zM397 168h3v4h-3zM401 168h1v4h-1zM403 168h1v4h-1zM406 168h1v4h-1zM415 168h1v4h-1zM418 168h1v4h-1zM423 168h2v4h-2zM427 168h1v4h-1zM478 168h2v4h-2zM375 172h1v4h-1zM379 172h3v4h-3zM388 172h1v4h-1zM397 172h1v4h-1zM402 172h1v4h-1zM413 172h1v4h-1zM420 172h2v4h-2zM430 172h1v4h-1zM436 172h1v4h-1zM406 176h3v3h-3zM430 176h2v3h-2zM372 179h1v4h-1zM404 179h3v4h-3zM432 179h2v4h-2zM405 183h1v4h-1zM432 183h2v4h-2zM359 187h1v3h-1zM342 190h1v4h-1zM432 190h2v4h-2zM342 194h1v3h-1zM349 197h1v4h-1zM342 201h1v4h-1zM359 201h1v4h-1zM329 205h1v3h-1zM372 205h1v3h-1zM239 208h2v4h-2zM246 208h1v4h-1zM250 208h1v4h-1zM252 208h1v4h-1zM255 208h1v4h-1zM264 208h2v4h-2zM271 208h1v4h-1zM274 208h1v4h-1zM276 208h1v4h-1zM282 208h2v4h-2zM285 208h2v4h-2zM290 208h3v4h-3zM298 208h1v4h-1zM301 208h2v4h-2zM307 208h2v4h-2zM314 208h1v4h-1zM319 208h1v4h-1zM316 212h1v4h-1zM320 212h1v4h-1zM325 212h2v4h-2zM330 212h1v4h-1zM351 212h1v4h-1zM355 212h1v4h-1zM370 212h1v4h-1z"/>
<path fill="#13ff3d" d="M394 146h1v4h-1zM410 146h1v4h-1zM418 146h1v4h-1zM428 146h1v4h-1zM439 146h2v4h-2zM442 146h1v4h-1zM445 146h1v4h-1zM449 146h1v4h-1zM455 146h2v4h-2zM465 146h2v4h-2zM469 146h1v4h-1zM472 146h1v4h-1zM478 146h1v4h-1zM480 146h2v4h-2zM483 146h1v4h-1zM376 150h1v4h-1zM383 150h1v4h-1zM386 150h1v4h-1zM393 150h1v4h-1zM400 150h2v4h-2zM418 150h1v4h-1zM423 150h1v4h-1zM428 150h1v4h-1zM430 150h2v4h-2zM438 150h1v4h-1zM446 150h2v4h-2zM450 150h3v4h-3zM454 150h1v4h-1zM460 150h1v4h-1zM462 150h2v4h-2zM466 150h1v4h-1zM469 150h2v4h-2zM474 150h1v4h-1zM479 150h3v4h-3zM485 150h2v4h-2zM376 154h1v3h-1zM383 154h1v3h-1zM385 154h1v3h-1zM394 154h1v3h-1zM400 154h2v3h-2zM424 154h1v3h-1zM428 154h1v3h-1zM440 154h1v3h-1zM442 154h1v3h-1zM445 154h2v3h-2zM448 154h1v3h-1zM455 154h2v3h-2zM460 154h3v3h-3zM466 154h1v3h-1zM468 154h1v3h-1zM470 154h1v3h-1zM472 154h1v3h-1zM474 154h1v3h-1zM481 154h1v3h-1zM483 154h1v3h-1zM485 154h1v3h-1zM377 157h1v4h-1zM386 157h1v4h-1zM396 157h1v4h-1zM399 157h1v4h-1zM410 157h1v4h-1zM418 157h1v4h-1zM424 157h1v4h-1zM428 157h1v4h-1zM438 157h1v4h-1zM446 157h1v4h-1zM449 157h2v4h-2zM460 157h1v4h-1zM474 157h1v4h-1zM476 157h1v4h-1zM478 157h5v4h-5zM485 157h1v4h-1zM376 161h1v4h-1zM385 161h1v4h-1zM394 161h1v4h-1zM399 161h1v4h-1zM405 161h1v4h-1zM418 161h1v4h-1zM423 161h1v4h-1zM428 161h1v4h-1zM430 161h1v4h-1zM438 161h1v4h-1zM443 161h2v4h-2zM448 161h2v4h-2zM451 161h1v4h-1zM473 161h1v4h-1zM475 161h1v4h-1zM477 161h1v4h-1zM479 161h4v4h-4zM376 165h2v3h-2zM386 165h1v3h-1zM393 165h1v3h-1zM398 165h1v3h-1zM401 165h1v3h-1zM405 165h1v3h-1zM418 165h1v3h-1zM422 165h3v3h-3zM437 165h1v3h-1zM479 165h1v3h-1zM376 168h2v4h-2zM381 168h2v4h-2zM385 168h2v4h-2zM394 168h1v4h-1zM396 168h1v4h-1zM400 168h1v4h-1zM405 168h1v4h-1zM410 168h1v4h-1zM425 168h1v4h-1zM428 168h1v4h-1zM430 168h1v4h-1zM378 172h1v4h-1zM382 172h1v4h-1zM392 172h1v4h-1zM395 172h1v4h-1zM405 172h1v4h-1zM409 172h1v4h-1zM411 172h2v4h-2zM415 172h3v4h-3zM419 172h1v4h-1zM422 172h1v4h-1zM426 172h1v4h-1zM429 172h1v4h-1zM431 172h1v4h-1zM374 176h1v3h-1zM380 176h1v3h-1zM402 176h2v3h-2zM407 179h1v4h-1zM404 183h1v4h-1zM431 183h1v4h-1zM432 187h1v3h-1zM434 187h1v3h-1zM342 205h1v3h-1zM349 205h1v3h-1zM237 208h2v4h-2zM244 208h1v4h-1zM260 208h2v4h-2zM263 208h1v4h-1zM268 208h1v4h-1zM288 208h1v4h-1zM297 208h1v4h-1zM299 208h1v4h-1zM303 208h1v4h-1zM318 208h1v4h-1zM236 212h1v4h-1zM245 212h1v4h-1zM247 212h3v4h-3zM259 212h1v4h-1zM273 212h1v4h-1zM275 212h1v4h-1zM278 212h3v4h-3zM289 212h1v4h-1zM293 212h3v4h-3zM300 212h1v4h-1zM306 212h1v4h-1zM312 212h1v4h-1zM327 212h1v4h-1zM331 212h2v4h-2zM334 212h1v4h-1zM340 212h1v4h-1zM345 212h1v4h-1zM350 212h1v4h-1zM357 212h1v4h-1zM367 212h1v4h-1zM371 212h1v4h-1z"/>
<path fill="#1fff2c" d="M446 146h1v4h-1zM450 146h1v4h-1zM452 146h1v4h-1zM454 146h1v4h-1zM470 146h1v4h-1zM474 146h1v4h-1zM479 146h1v4h-1zM484 146h3v4h-3zM441 150h1v4h-1zM455 150h3v4h-3zM461 150h1v4h-1zM468 150h1v4h-1zM472 150h1v4h-1zM478 150h1v4h-1zM483 150h2v4h-2zM439 154h1v3h-1zM441 154h1v3h-1zM450 154h1v3h-1zM452 154h1v3h-1zM454 154h1v3h-1zM469 154h1v3h-1zM476 154h1v3h-1zM478 154h3v3h-3zM484 154h1v3h-1zM486 154h1v3h-1zM376 157h1v4h-1zM440 157h1v4h-1zM452 157h1v4h-1zM454 157h3v4h-3zM461 157h1v4h-1zM468 157h3v4h-3zM472 157h1v4h-1zM483 157h1v4h-1zM486 157h1v4h-1zM400 161h1v4h-1zM424 161h1v4h-1zM442 161h1v4h-1zM445 161h1v4h-1zM450 161h1v4h-1zM452 161h2v4h-2zM459 161h1v4h-1zM461 161h6v4h-6zM468 161h1v4h-1zM471 161h1v4h-1zM474 161h1v4h-1zM483 161h1v4h-1zM385 165h1v3h-1zM400 165h1v3h-1zM428 165h1v3h-1zM480 165h2v3h-2zM480 168h2v4h-2zM377 172h1v4h-1zM383 172h1v4h-1zM391 172h1v4h-1zM396 172h1v4h-1zM398 172h2v4h-2zM401 172h1v4h-1zM410 172h1v4h-1zM424 172h2v4h-2zM480 172h1v4h-1zM381 176h1v3h-1zM387 176h4v3h-4zM431 179h1v4h-1zM435 179h1v4h-1zM406 183h1v4h-1zM359 190h1v4h-1zM310 208h1v4h-1zM329 208h1v4h-1zM239 212h1v4h-1zM242 212h1v4h-1zM251 212h3v4h-3zM258 212h1v4h-1zM264 212h4v4h-4zM269 212h2v4h-2zM276 212h1v4h-1zM281 212h1v4h-1zM287 212h1v4h-1zM296 212h1v4h-1zM305 212h1v4h-1zM315 212h1v4h-1zM317 212h1v4h-1zM321 212h1v4h-1zM323 212h1v4h-1zM337 212h2v4h-2zM341 212h1v4h-1zM343 212h2v4h-2zM347 212h2v4h-2zM352 212h1v4h-1zM356 212h1v4h-1zM358 212h1v4h-1zM361 212h5v4h-5zM368 212h1v4h-1z"/>
<path fill="#2cff1b" d="M441 146h1v4h-1zM447 146h1v4h-1zM457 146h1v4h-1zM461 146h1v4h-1zM467 146h2v4h-2zM476 146h1v4h-1zM439 150h1v4h-1zM467 150h1v4h-1zM476 150h1v4h-1zM447 154h1v3h-1zM457 154h1v3h-1zM467 154h1v3h-1zM439 157h1v4h-1zM441 157h1v4h-1zM447 157h1v4h-1zM457 157h1v4h-1zM467 157h1v4h-1zM484 157h1v4h-1zM440 161h2v4h-2zM446 161h2v4h-2zM456 161h3v4h-3zM460 161h1v4h-1zM467 161h1v4h-1zM472 161h1v4h-1zM476 161h1v4h-1zM485 161h1v4h-1zM437 168h1v4h-1zM376 172h1v4h-1zM384 172h3v4h-3zM393 172h2v4h-2zM423 172h1v4h-1zM427 172h1v4h-1zM382 176h1v3h-1zM414 176h3v3h-3zM403 179h1v4h-1zM430 179h1v4h-1zM405 187h1v3h-1zM431 187h1v3h-1zM359 194h1v3h-1zM432 194h2v3h-2zM342 197h1v4h-1zM359 205h1v3h-1zM311 208h1v4h-1zM328 208h1v4h-1zM235 212h1v4h-1zM240 212h2v4h-2zM243 212h2v4h-2zM250 212h1v4h-1zM254 212h4v4h-4zM260 212h1v4h-1zM262 212h1v4h-1zM268 212h1v4h-1zM271 212h2v4h-2zM274 212h1v4h-1zM277 212h1v4h-1zM282 212h3v4h-3zM286 212h1v4h-1zM288 212h1v4h-1zM290 212h3v4h-3zM298 212h2v4h-2zM301 212h1v4h-1zM308 212h2v4h-2zM313 212h1v4h-1zM322 212h1v4h-1zM333 212h1v4h-1zM339 212h1v4h-1zM346 212h1v4h-1zM353 212h2v4h-2zM360 212h1v4h-1zM366 212h1v4h-1zM369 212h1v4h-1zM320 216h1v3h-1zM327 216h1v3h-1zM331 216h1v3h-1zM355 216h1v3h-1z"/>
<path fill="#38ff0a" d="M439 161h1v4h-1zM454 161h2v4h-2zM469 161h2v4h-2zM484 161h1v4h-1zM486 161h1v4h-1zM438 165h1v3h-1zM483 165h1v3h-1zM477 168h1v4h-1zM482 168h1v4h-1zM400 172h1v4h-1zM418 172h1v4h-1zM428 172h1v4h-1zM479 172h1v4h-1zM378 176h2v3h-2zM392 176h1v3h-1zM395 176h1v3h-1zM397 176h1v3h-1zM409 176h1v3h-1zM411 176h1v3h-1zM417 176h1v3h-1zM420 176h1v3h-1zM429 176h1v3h-1zM380 179h1v4h-1zM408 179h1v4h-1zM373 190h1v4h-1zM359 197h1v4h-1zM238 212h1v4h-1zM246 212h1v4h-1zM261 212h1v4h-1zM263 212h1v4h-1zM285 212h1v4h-1zM302 212h3v4h-3zM307 212h1v4h-1zM324 212h1v4h-1zM335 212h1v4h-1zM236 216h1v3h-1zM242 216h1v3h-1zM248 216h1v3h-1zM278 216h2v3h-2zM293 216h1v3h-1zM295 216h1v3h-1zM306 216h1v3h-1zM334 216h1v3h-1zM347 216h1v3h-1zM351 216h1v3h-1zM356 216h2v3h-2zM367 216h1v3h-1zM370 216h1v3h-1z"/>
<path fill="#45ff00" d="M476 165h1v3h-1zM437 172h1v4h-1zM375 176h1v3h-1zM383 176h2v3h-2zM391 176h1v3h-1zM398 176h2v3h-2zM412 176h2v3h-2zM419 176h1v3h-1zM421 176h1v3h-1zM425 176h2v3h-2zM436 176h1v3h-1zM381 179h1v4h-1zM402 179h1v4h-1zM407 183h1v4h-1zM434 190h1v4h-1zM349 208h1v4h-1zM237 212h1v4h-1zM297 212h1v4h-1zM336 212h1v4h-1zM241 216h1v3h-1zM243 216h1v3h-1zM245 216h1v3h-1zM247 216h1v3h-1zM249 216h1v3h-1zM251 216h3v3h-3zM256 216h1v3h-1zM258 216h2v3h-2zM264 216h2v3h-2zM267 216h1v3h-1zM269 216h5v3h-5zM275 216h1v3h-1zM277 216h1v3h-1zM280 216h2v3h-2zM287 216h1v3h-1zM291 216h2v3h-2zM294 216h1v3h-1zM300 216h1v3h-1zM305 216h1v3h-1zM312 216h1v3h-1zM316 216h2v3h-2zM321 216h1v3h-1zM323 216h1v3h-1zM325 216h2v3h-2zM330 216h1v3h-1zM337 216h1v3h-1zM340 216h2v3h-2zM343 216h3v3h-3zM350 216h1v3h-1zM352 216h2v3h-2zM362 216h1v3h-1zM371 216h1v3h-1z"/>
<path fill="#52ff00" d="M443 165h1v3h-1zM445 165h1v3h-1zM453 165h1v3h-1zM459 165h1v3h-1zM463 165h1v3h-1zM465 165h1v3h-1zM471 165h1v3h-1zM376 176h1v3h-1zM394 176h1v3h-1zM396 176h1v3h-1zM400 176h1v3h-1zM418 176h1v3h-1zM422 176h2v3h-2zM427 176h2v3h-2zM374 179h1v4h-1zM387 179h4v4h-4zM414 179h1v4h-1zM416 179h1v4h-1zM435 183h1v4h-1zM404 187h1v3h-1zM406 187h1v3h-1zM372 208h1v4h-1zM310 212h1v4h-1zM314 212h1v4h-1zM319 212h1v4h-1zM239 216h2v3h-2zM244 216h1v3h-1zM246 216h1v3h-1zM255 216h1v3h-1zM257 216h1v3h-1zM262 216h2v3h-2zM266 216h1v3h-1zM268 216h1v3h-1zM274 216h1v3h-1zM276 216h1v3h-1zM283 216h4v3h-4zM289 216h2v3h-2zM296 216h1v3h-1zM298 216h1v3h-1zM301 216h3v3h-3zM307 216h3v3h-3zM313 216h1v3h-1zM315 216h1v3h-1zM322 216h1v3h-1zM332 216h1v3h-1zM338 216h2v3h-2zM346 216h1v3h-1zM348 216h1v3h-1zM354 216h1v3h-1zM358 216h1v3h-1zM360 216h2v3h-2zM363 216h2v3h-2zM366 216h1v3h-1zM368 216h2v3h-2zM247 219h1v4h-1zM256 219h1v4h-1zM269 219h1v4h-1zM273 219h1v4h-1zM275 219h1v4h-1zM279 219h2v4h-2zM300 219h1v4h-1zM321 219h1v4h-1zM351 219h1v4h-1z"/>
<path fill="#5eff00" d="M440 165h1v3h-1zM442 165h1v3h-1zM444 165h1v3h-1zM446 165h1v3h-1zM448 165h2v3h-2zM460 165h1v3h-1zM462 165h1v3h-1zM464 165h1v3h-1zM466 165h1v3h-1zM473 165h3v3h-3zM438 168h1v4h-1zM478 172h1v4h-1zM377 176h1v3h-1zM385 176h2v3h-2zM393 176h1v3h-1zM401 176h1v3h-1zM410 176h1v3h-1zM424 176h1v3h-1zM379 179h1v4h-1zM415 179h1v4h-1zM417 179h1v4h-1zM405 190h1v4h-1zM432 197h2v4h-2zM342 208h1v4h-1zM359 208h1v4h-1zM318 212h1v4h-1zM329 212h1v4h-1zM235 216h1v3h-1zM238 216h1v3h-1zM250 216h1v3h-1zM254 216h1v3h-1zM260 216h2v3h-2zM282 216h1v3h-1zM288 216h1v3h-1zM299 216h1v3h-1zM304 216h1v3h-1zM324 216h1v3h-1zM333 216h1v3h-1zM365 216h1v3h-1zM236 219h1v4h-1zM242 219h2v4h-2zM249 219h1v4h-1zM251 219h1v4h-1zM258 219h2v4h-2zM265 219h1v4h-1zM267 219h1v4h-1zM277 219h2v4h-2zM284 219h1v4h-1zM287 219h1v4h-1zM289 219h1v4h-1zM293 219h4v4h-4zM305 219h2v4h-2zM312 219h1v4h-1zM316 219h1v4h-1zM320 219h1v4h-1zM325 219h3v4h-3zM331 219h1v4h-1zM334 219h1v4h-1zM338 219h1v4h-1zM340 219h1v4h-1zM345 219h1v4h-1zM352 219h1v4h-1zM354 219h3v4h-3zM362 219h1v4h-1zM275 223h1v4h-1zM316 223h1v4h-1z"/>
<path fill="#6bff00" d="M439 165h1v3h-1zM441 165h1v3h-1zM451 165h2v3h-2zM454 165h1v3h-1zM457 165h2v3h-2zM467 165h1v3h-1zM469 165h2v3h-2zM472 165h1v3h-1zM485 165h2v3h-2zM481 172h1v4h-1zM375 179h1v4h-1zM378 179h1v4h-1zM411 179h1v4h-1zM420 179h2v4h-2zM426 179h1v4h-1zM403 183h1v4h-1zM430 183h1v4h-1zM431 190h1v4h-1zM311 212h1v4h-1zM328 212h1v4h-1zM237 216h1v3h-1zM297 216h1v3h-1zM335 216h2v3h-2zM235 219h1v4h-1zM240 219h2v4h-2zM244 219h3v4h-3zM248 219h1v4h-1zM253 219h3v4h-3zM257 219h1v4h-1zM264 219h1v4h-1zM266 219h1v4h-1zM268 219h1v4h-1zM272 219h1v4h-1zM274 219h1v4h-1zM281 219h3v4h-3zM285 219h2v4h-2zM290 219h2v4h-2zM298 219h1v4h-1zM303 219h2v4h-2zM308 219h2v4h-2zM315 219h1v4h-1zM317 219h1v4h-1zM323 219h1v4h-1zM330 219h1v4h-1zM337 219h1v4h-1zM341 219h1v4h-1zM343 219h2v4h-2zM347 219h1v4h-1zM350 219h1v4h-1zM353 219h1v4h-1zM357 219h2v4h-2zM363 219h2v4h-2zM366 219h2v4h-2zM370 219h2v4h-2zM243 223h1v4h-1zM256 223h1v4h-1zM259 223h1v4h-1zM265 223h1v4h-1zM272 223h2v4h-2zM278 223h3v4h-3zM284 223h1v4h-1zM289 223h1v4h-1zM293 223h1v4h-1zM300 223h1v4h-1zM312 223h1v4h-1zM321 223h1v4h-1zM327 223h1v4h-1zM331 223h1v4h-1zM334 223h1v4h-1zM337 223h1v4h-1zM340 223h1v4h-1zM345 223h1v4h-1zM347 223h1v4h-1zM351 223h2v4h-2zM355 223h2v4h-2zM248 227h1v3h-1zM259 227h1v3h-1zM273 227h1v3h-1zM278 227h1v3h-1zM280 227h1v3h-1zM293 227h1v3h-1zM295 227h1v3h-1zM320 227h1v3h-1zM351 227h1v3h-1zM280 230h1v4h-1z"/>
<path fill="#78ff00" d="M447 165h1v3h-1zM450 165h1v3h-1zM455 165h2v3h-2zM461 165h1v3h-1zM468 165h1v3h-1zM484 165h1v3h-1zM437 176h1v3h-1zM479 176h2v3h-2zM382 179h2v4h-2zM391 179h2v4h-2zM395 179h1v4h-1zM397 179h1v4h-1zM409 179h1v4h-1zM412 179h2v4h-2zM419 179h1v4h-1zM429 179h1v4h-1zM436 179h1v4h-1zM380 183h1v4h-1zM388 183h1v4h-1zM435 187h1v3h-1zM434 194h1v3h-1zM349 212h1v4h-1zM237 219h3v4h-3zM250 219h1v4h-1zM252 219h1v4h-1zM260 219h3v4h-3zM270 219h2v4h-2zM276 219h1v4h-1zM288 219h1v4h-1zM292 219h1v4h-1zM297 219h1v4h-1zM299 219h1v4h-1zM301 219h1v4h-1zM307 219h1v4h-1zM313 219h1v4h-1zM322 219h1v4h-1zM332 219h1v4h-1zM339 219h1v4h-1zM348 219h1v4h-1zM361 219h1v4h-1zM368 219h2v4h-2zM235 223h2v4h-2zM240 223h1v4h-1zM242 223h1v4h-1zM245 223h1v4h-1zM247 223h3v4h-3zM252 223h3v4h-3zM258 223h1v4h-1zM264 223h1v4h-1zM266 223h1v4h-1zM268 223h2v4h-2zM271 223h1v4h-1zM277 223h1v4h-1zM281 223h2v4h-2zM285 223h2v4h-2zM294 223h3v4h-3zM302 223h1v4h-1zM305 223h2v4h-2zM315 223h1v4h-1zM317 223h1v4h-1zM320 223h1v4h-1zM325 223h2v4h-2zM330 223h1v4h-1zM332 223h1v4h-1zM343 223h1v4h-1zM350 223h1v4h-1zM357 223h1v4h-1zM361 223h3v4h-3zM367 223h1v4h-1zM370 223h2v4h-2zM236 227h1v3h-1zM241 227h3v3h-3zM245 227h1v3h-1zM249 227h1v3h-1zM252 227h1v3h-1zM256 227h3v3h-3zM269 227h3v3h-3zM275 227h1v3h-1zM277 227h1v3h-1zM281 227h1v3h-1zM284 227h2v3h-2zM289 227h1v3h-1zM294 227h1v3h-1zM296 227h1v3h-1zM300 227h1v3h-1zM305 227h1v3h-1zM316 227h1v3h-1zM321 227h1v3h-1zM325 227h3v3h-3zM331 227h1v3h-1zM334 227h1v3h-1zM352 227h1v3h-1zM367 227h1v3h-1zM236 230h1v4h-1zM241 230h1v4h-1zM245 230h1v4h-1zM247 230h1v4h-1zM249 230h1v4h-1zM257 230h1v4h-1zM259 230h1v4h-1zM266 230h1v4h-1zM273 230h1v4h-1zM277 230h3v4h-3zM281 230h1v4h-1zM289 230h1v4h-1zM293 230h3v4h-3zM269 234h1v4h-1zM277 234h1v4h-1zM280 234h1v4h-1zM294 234h1v4h-1zM300 234h1v4h-1z"/>
<path fill="#84ff00" d="M384 179h3v4h-3zM396 179h1v4h-1zM398 179h1v4h-1zM400 179h1v4h-1zM410 179h1v4h-1zM418 179h1v4h-1zM422 179h2v4h-2zM425 179h1v4h-1zM427 179h1v4h-1zM381 183h1v4h-1zM387 183h1v4h-1zM389 183h1v4h-1zM402 183h1v4h-1zM408 183h1v4h-1zM404 190h1v4h-1zM406 190h1v4h-1zM342 212h1v4h-1zM310 216h1v3h-1zM314 216h1v3h-1zM318 216h2v3h-2zM263 219h1v4h-1zM302 219h1v4h-1zM324 219h1v4h-1zM333 219h1v4h-1zM335 219h1v4h-1zM346 219h1v4h-1zM360 219h1v4h-1zM365 219h1v4h-1zM239 223h1v4h-1zM241 223h1v4h-1zM244 223h1v4h-1zM250 223h2v4h-2zM255 223h1v4h-1zM257 223h1v4h-1zM260 223h3v4h-3zM267 223h1v4h-1zM270 223h1v4h-1zM276 223h1v4h-1zM283 223h1v4h-1zM287 223h1v4h-1zM292 223h1v4h-1zM297 223h1v4h-1zM303 223h1v4h-1zM307 223h3v4h-3zM323 223h1v4h-1zM333 223h1v4h-1zM335 223h1v4h-1zM338 223h2v4h-2zM341 223h1v4h-1zM344 223h1v4h-1zM346 223h1v4h-1zM348 223h1v4h-1zM353 223h2v4h-2zM364 223h3v4h-3zM368 223h2v4h-2zM235 227h1v3h-1zM239 227h2v3h-2zM247 227h1v3h-1zM251 227h1v3h-1zM253 227h1v3h-1zM255 227h1v3h-1zM262 227h1v3h-1zM264 227h4v3h-4zM272 227h1v3h-1zM276 227h1v3h-1zM279 227h1v3h-1zM286 227h1v3h-1zM303 227h1v3h-1zM306 227h2v3h-2zM312 227h1v3h-1zM317 227h1v3h-1zM330 227h1v3h-1zM337 227h2v3h-2zM340 227h1v3h-1zM344 227h2v3h-2zM350 227h1v3h-1zM354 227h4v3h-4zM362 227h1v3h-1zM364 227h1v3h-1zM368 227h1v3h-1zM370 227h1v3h-1zM240 230h1v4h-1zM242 230h3v4h-3zM248 230h1v4h-1zM250 230h4v4h-4zM255 230h2v4h-2zM258 230h1v4h-1zM262 230h1v4h-1zM265 230h1v4h-1zM267 230h1v4h-1zM269 230h4v4h-4zM274 230h2v4h-2zM282 230h2v4h-2zM296 230h1v4h-1zM300 230h1v4h-1zM305 230h3v4h-3zM312 230h1v4h-1zM316 230h1v4h-1zM320 230h1v4h-1zM351 230h1v4h-1zM353 230h3v4h-3zM367 230h1v4h-1zM241 234h2v4h-2zM248 234h2v4h-2zM251 234h1v4h-1zM255 234h3v4h-3zM259 234h1v4h-1zM273 234h1v4h-1zM275 234h1v4h-1zM278 234h2v4h-2zM281 234h1v4h-1zM295 234h1v4h-1zM241 238h2v3h-2zM247 238h1v3h-1zM273 238h1v3h-1zM275 238h1v3h-1zM280 238h1v3h-1zM295 238h1v3h-1z"/>
<path fill="#91ff00" d="M476 168h1v4h-1zM483 168h1v4h-1zM482 172h1v4h-1zM376 179h2v4h-2zM393 179h2v4h-2zM399 179h1v4h-1zM401 179h1v4h-1zM424 179h1v4h-1zM390 183h1v4h-1zM416 183h1v4h-1zM403 187h1v3h-1zM407 187h1v3h-1zM431 194h1v3h-1zM433 201h1v4h-1zM328 216h1v3h-1zM314 219h1v4h-1zM336 219h1v4h-1zM237 223h2v4h-2zM263 223h1v4h-1zM274 223h1v4h-1zM288 223h1v4h-1zM290 223h2v4h-2zM298 223h2v4h-2zM301 223h1v4h-1zM304 223h1v4h-1zM313 223h1v4h-1zM322 223h1v4h-1zM358 223h1v4h-1zM360 223h1v4h-1zM238 227h1v3h-1zM244 227h1v3h-1zM246 227h1v3h-1zM250 227h1v3h-1zM254 227h1v3h-1zM260 227h2v3h-2zM268 227h1v3h-1zM274 227h1v3h-1zM282 227h2v3h-2zM287 227h2v3h-2zM290 227h3v3h-3zM297 227h3v3h-3zM301 227h2v3h-2zM308 227h2v3h-2zM313 227h1v3h-1zM315 227h1v3h-1zM322 227h2v3h-2zM332 227h1v3h-1zM339 227h1v3h-1zM341 227h1v3h-1zM343 227h1v3h-1zM346 227h3v3h-3zM353 227h1v3h-1zM358 227h1v3h-1zM360 227h2v3h-2zM366 227h1v3h-1zM369 227h1v3h-1zM235 230h1v4h-1zM237 230h3v4h-3zM246 230h1v4h-1zM254 230h1v4h-1zM264 230h1v4h-1zM268 230h1v4h-1zM276 230h1v4h-1zM284 230h5v4h-5zM291 230h2v4h-2zM297 230h3v4h-3zM301 230h3v4h-3zM308 230h1v4h-1zM321 230h1v4h-1zM323 230h1v4h-1zM325 230h3v4h-3zM330 230h2v4h-2zM334 230h1v4h-1zM337 230h2v4h-2zM340 230h2v4h-2zM345 230h1v4h-1zM352 230h1v4h-1zM360 230h1v4h-1zM362 230h1v4h-1zM365 230h2v4h-2zM370 230h1v4h-1zM236 234h1v4h-1zM243 234h1v4h-1zM245 234h1v4h-1zM247 234h1v4h-1zM252 234h3v4h-3zM258 234h1v4h-1zM261 234h1v4h-1zM264 234h2v4h-2zM267 234h1v4h-1zM270 234h3v4h-3zM276 234h1v4h-1zM282 234h2v4h-2zM285 234h1v4h-1zM289 234h1v4h-1zM292 234h2v4h-2zM296 234h1v4h-1zM305 234h2v4h-2zM236 238h1v3h-1zM249 238h1v3h-1zM251 238h1v3h-1zM253 238h1v3h-1zM256 238h1v3h-1zM265 238h2v3h-2zM269 238h2v3h-2zM278 238h2v3h-2zM281 238h1v3h-1zM286 238h2v3h-2zM293 238h2v3h-2zM296 238h1v3h-1zM300 238h1v3h-1zM305 238h1v3h-1z"/>
<path fill="#9dff00" d="M438 172h1v4h-1zM477 172h1v4h-1zM428 179h1v4h-1zM374 183h1v4h-1zM379 183h1v4h-1zM414 183h2v4h-2zM430 187h1v3h-1zM373 194h1v3h-1zM432 201h1v4h-1zM359 212h1v4h-1zM311 216h1v3h-1zM329 216h1v3h-1zM318 219h2v4h-2zM246 223h1v4h-1zM324 223h1v4h-1zM336 223h1v4h-1zM237 227h1v3h-1zM263 227h1v3h-1zM304 227h1v3h-1zM333 227h1v3h-1zM335 227h1v3h-1zM363 227h1v3h-1zM365 227h1v3h-1zM260 230h2v4h-2zM263 230h1v4h-1zM290 230h1v4h-1zM304 230h1v4h-1zM314 230h2v4h-2zM317 230h1v4h-1zM324 230h1v4h-1zM332 230h2v4h-2zM335 230h2v4h-2zM344 230h1v4h-1zM347 230h4v4h-4zM356 230h3v4h-3zM363 230h2v4h-2zM369 230h1v4h-1zM235 234h1v4h-1zM238 234h2v4h-2zM244 234h1v4h-1zM250 234h1v4h-1zM263 234h1v4h-1zM266 234h1v4h-1zM268 234h1v4h-1zM274 234h1v4h-1zM284 234h1v4h-1zM286 234h2v4h-2zM290 234h2v4h-2zM297 234h2v4h-2zM301 234h3v4h-3zM308 234h1v4h-1zM334 234h1v4h-1zM353 234h1v4h-1zM240 238h1v3h-1zM243 238h1v3h-1zM245 238h1v3h-1zM248 238h1v3h-1zM254 238h2v3h-2zM257 238h4v3h-4zM264 238h1v3h-1zM267 238h1v3h-1zM271 238h2v3h-2zM274 238h1v3h-1zM276 238h2v3h-2zM282 238h1v3h-1zM284 238h2v3h-2zM288 238h2v3h-2zM298 238h1v3h-1zM301 238h1v3h-1zM306 238h2v3h-2z"/>
<path fill="#aaff00" d="M443 168h2v4h-2zM459 168h1v4h-1zM464 168h1v4h-1zM437 179h1v4h-1zM375 183h1v4h-1zM378 183h1v4h-1zM382 183h1v4h-1zM395 183h1v4h-1zM397 183h1v4h-1zM412 183h1v4h-1zM420 183h2v4h-2zM436 183h1v4h-1zM380 187h1v3h-1zM402 187h1v3h-1zM408 187h1v3h-1zM405 194h1v3h-1zM434 197h1v4h-1zM349 216h1v3h-1zM311 219h1v4h-1zM314 223h1v4h-1zM319 223h1v4h-1zM319 227h1v3h-1zM324 227h1v3h-1zM313 230h1v4h-1zM322 230h1v4h-1zM339 230h1v4h-1zM343 230h1v4h-1zM346 230h1v4h-1zM361 230h1v4h-1zM368 230h1v4h-1zM237 234h1v4h-1zM240 234h1v4h-1zM246 234h1v4h-1zM260 234h1v4h-1zM262 234h1v4h-1zM288 234h1v4h-1zM299 234h1v4h-1zM304 234h1v4h-1zM307 234h1v4h-1zM320 234h1v4h-1zM323 234h1v4h-1zM340 234h2v4h-2zM354 234h2v4h-2zM367 234h1v4h-1zM235 238h1v3h-1zM239 238h1v3h-1zM244 238h1v3h-1zM250 238h1v3h-1zM252 238h1v3h-1zM261 238h2v3h-2zM268 238h1v3h-1zM283 238h1v3h-1zM290 238h3v3h-3zM297 238h1v3h-1zM302 238h1v3h-1zM304 238h1v3h-1zM308 238h1v3h-1zM236 241h1v4h-1zM241 241h1v4h-1zM247 241h2v4h-2zM259 241h1v4h-1zM264 241h1v4h-1zM269 241h1v4h-1zM277 241h2v4h-2zM280 241h2v4h-2zM284 241h1v4h-1zM294 241h1v4h-1zM305 241h1v4h-1z"/>
<path fill="#b7ff00" d="M439 168h1v4h-1zM445 168h1v4h-1zM448 168h1v4h-1zM451 168h1v4h-1zM458 168h1v4h-1zM460 168h1v4h-1zM462 168h2v4h-2zM465 168h1v4h-1zM471 168h1v4h-1zM473 168h1v4h-1zM475 168h1v4h-1zM481 176h1v3h-1zM383 183h2v4h-2zM386 183h1v4h-1zM391 183h3v4h-3zM409 183h3v4h-3zM413 183h1v4h-1zM417 183h1v4h-1zM422 183h1v4h-1zM425 183h2v4h-2zM429 183h1v4h-1zM388 187h2v3h-2zM407 190h1v4h-1zM435 190h1v4h-1zM342 216h1v3h-1zM359 216h1v3h-1zM310 219h1v4h-1zM328 219h1v4h-1zM310 223h1v4h-1zM318 223h1v4h-1zM314 227h1v3h-1zM318 227h1v3h-1zM336 227h1v3h-1zM309 230h1v4h-1zM312 234h1v4h-1zM316 234h1v4h-1zM321 234h1v4h-1zM325 234h3v4h-3zM331 234h2v4h-2zM337 234h2v4h-2zM343 234h2v4h-2zM350 234h3v4h-3zM356 234h2v4h-2zM362 234h5v4h-5zM237 238h2v3h-2zM246 238h1v3h-1zM263 238h1v3h-1zM299 238h1v3h-1zM303 238h1v3h-1zM235 241h1v4h-1zM239 241h1v4h-1zM243 241h1v4h-1zM245 241h1v4h-1zM249 241h1v4h-1zM251 241h1v4h-1zM253 241h1v4h-1zM255 241h4v4h-4zM266 241h1v4h-1zM273 241h1v4h-1zM275 241h1v4h-1zM279 241h1v4h-1zM286 241h1v4h-1zM291 241h1v4h-1zM293 241h1v4h-1zM295 241h2v4h-2zM300 241h1v4h-1zM302 241h1v4h-1zM306 241h2v4h-2z"/>
<path fill="#c3ff00" d="M442 168h1v4h-1zM446 168h1v4h-1zM449 168h1v4h-1zM452 168h3v4h-3zM466 168h1v4h-1zM478 176h1v3h-1zM419 183h1v4h-1zM423 183h1v4h-1zM427 183h2v4h-2zM379 187h1v3h-1zM381 187h1v3h-1zM387 187h1v3h-1zM414 187h2v3h-2zM403 190h1v4h-1zM430 190h1v4h-1zM404 194h1v3h-1zM406 194h1v3h-1zM431 197h1v4h-1zM433 205h1v3h-1zM329 219h1v4h-1zM371 227h1v3h-1zM313 234h1v4h-1zM315 234h1v4h-1zM317 234h1v4h-1zM330 234h1v4h-1zM333 234h1v4h-1zM335 234h2v4h-2zM339 234h1v4h-1zM345 234h4v4h-4zM361 234h1v4h-1zM368 234h3v4h-3zM316 238h1v3h-1zM355 238h1v3h-1zM238 241h1v4h-1zM240 241h1v4h-1zM242 241h1v4h-1zM244 241h1v4h-1zM252 241h1v4h-1zM254 241h1v4h-1zM260 241h4v4h-4zM265 241h1v4h-1zM267 241h2v4h-2zM270 241h3v4h-3zM276 241h1v4h-1zM282 241h2v4h-2zM285 241h1v4h-1zM287 241h1v4h-1zM289 241h2v4h-2zM292 241h1v4h-1zM299 241h1v4h-1zM301 241h1v4h-1zM303 241h2v4h-2z"/>
<path fill="#d0ff00" d="M440 168h2v4h-2zM450 168h1v4h-1zM456 168h2v4h-2zM461 168h1v4h-1zM468 168h3v4h-3zM472 168h1v4h-1zM474 168h1v4h-1zM485 168h2v4h-2zM438 176h1v3h-1zM479 179h1v4h-1zM376 183h2v4h-2zM385 183h1v4h-1zM394 183h1v4h-1zM396 183h1v4h-1zM418 183h1v4h-1zM424 183h1v4h-1zM374 187h1v3h-1zM382 187h1v3h-1zM390 187h1v3h-1zM416 187h2v3h-2zM436 187h1v3h-1zM380 190h1v4h-1zM405 197h1v4h-1zM432 205h1v3h-1zM342 219h1v4h-1zM349 219h1v4h-1zM311 223h1v4h-1zM328 223h2v4h-2zM310 227h1v3h-1zM329 227h1v3h-1zM309 234h1v4h-1zM314 234h1v4h-1zM322 234h1v4h-1zM324 234h1v4h-1zM360 234h1v4h-1zM312 238h1v3h-1zM320 238h2v3h-2zM325 238h3v3h-3zM330 238h2v3h-2zM340 238h1v3h-1zM351 238h2v3h-2zM356 238h1v3h-1zM362 238h1v3h-1zM367 238h1v3h-1zM237 241h1v4h-1zM246 241h1v4h-1zM250 241h1v4h-1zM274 241h1v4h-1zM288 241h1v4h-1zM297 241h2v4h-2zM308 241h1v4h-1zM248 245h2v3h-2zM256 245h1v3h-1zM293 245h1v3h-1zM295 245h1v3h-1zM305 245h1v3h-1z"/>
<path fill="#daff00" d="M447 168h1v4h-1zM455 168h1v4h-1zM467 168h1v4h-1zM484 168h1v4h-1zM477 176h1v3h-1zM480 179h1v4h-1zM437 183h1v4h-1zM378 187h1v3h-1zM392 187h1v3h-1zM395 187h1v3h-1zM409 187h1v3h-1zM420 187h1v3h-1zM426 187h1v3h-1zM359 219h1v4h-1zM311 227h1v3h-1zM328 227h1v3h-1zM358 234h1v4h-1zM315 238h1v3h-1zM317 238h1v3h-1zM322 238h1v3h-1zM334 238h1v3h-1zM337 238h2v3h-2zM344 238h2v3h-2zM347 238h1v3h-1zM357 238h1v3h-1zM361 238h1v3h-1zM363 238h2v3h-2zM366 238h1v3h-1zM369 238h2v3h-2zM236 245h1v3h-1zM242 245h2v3h-2zM245 245h1v3h-1zM247 245h1v3h-1zM252 245h1v3h-1zM258 245h2v3h-2zM265 245h1v3h-1zM269 245h1v3h-1zM273 245h1v3h-1zM275 245h1v3h-1zM278 245h2v3h-2zM281 245h1v3h-1zM286 245h1v3h-1zM294 245h1v3h-1zM300 245h1v3h-1zM306 245h1v3h-1z"/>
<path fill="#e4ff00" d="M476 172h1v4h-1zM482 176h1v3h-1zM375 187h1v3h-1zM377 187h1v3h-1zM397 187h1v3h-1zM411 187h3v3h-3zM421 187h1v3h-1zM425 187h1v3h-1zM429 187h1v3h-1zM381 190h1v4h-1zM387 190h1v4h-1zM408 190h1v4h-1zM416 190h1v4h-1zM435 194h1v3h-1zM406 197h1v4h-1zM434 201h1v4h-1zM433 208h1v4h-1zM342 223h1v4h-1zM349 223h1v4h-1zM359 223h1v4h-1zM349 227h1v3h-1zM459 234h1v4h-1zM313 238h1v3h-1zM332 238h2v3h-2zM339 238h1v3h-1zM346 238h1v3h-1zM348 238h1v3h-1zM350 238h1v3h-1zM368 238h1v3h-1zM316 241h1v4h-1zM320 241h1v4h-1zM334 241h1v4h-1zM351 241h1v4h-1zM235 245h1v3h-1zM239 245h3v3h-3zM244 245h1v3h-1zM251 245h1v3h-1zM253 245h1v3h-1zM255 245h1v3h-1zM264 245h1v3h-1zM266 245h1v3h-1zM268 245h1v3h-1zM270 245h3v3h-3zM276 245h2v3h-2zM280 245h1v3h-1zM283 245h2v3h-2zM287 245h1v3h-1zM289 245h1v3h-1zM291 245h1v3h-1zM296 245h1v3h-1zM301 245h1v3h-1zM304 245h1v3h-1zM307 245h1v3h-1z"/>
<path fill="#eeff00" d="M483 172h1v4h-1zM376 187h1v3h-1zM383 187h2v3h-2zM386 187h1v3h-1zM391 187h1v3h-1zM394 187h1v3h-1zM396 187h1v3h-1zM410 187h1v3h-1zM419 187h1v3h-1zM422 187h2v3h-2zM427 187h2v3h-2zM388 190h3v4h-3zM402 190h1v4h-1zM414 190h2v4h-2zM403 194h1v3h-1zM407 194h1v3h-1zM430 194h1v3h-1zM404 197h1v4h-1zM432 208h1v4h-1zM342 227h1v3h-1zM475 234h1v4h-1zM309 238h1v3h-1zM444 238h1v3h-1zM459 238h1v3h-1zM471 238h1v3h-1zM475 238h1v3h-1zM477 238h1v3h-1zM312 241h1v4h-1zM325 241h3v4h-3zM330 241h2v4h-2zM340 241h1v4h-1zM344 241h1v4h-1zM352 241h1v4h-1zM355 241h1v4h-1zM362 241h1v4h-1zM367 241h1v4h-1zM370 241h1v4h-1zM459 241h2v4h-2zM471 241h1v4h-1zM473 241h1v4h-1zM475 241h1v4h-1zM237 245h2v3h-2zM246 245h1v3h-1zM254 245h1v3h-1zM257 245h1v3h-1zM260 245h4v3h-4zM267 245h1v3h-1zM274 245h1v3h-1zM282 245h1v3h-1zM285 245h1v3h-1zM288 245h1v3h-1zM292 245h1v3h-1zM297 245h3v3h-3zM302 245h2v3h-2zM308 245h1v3h-1z"/>
<path fill="#f8ff00" d="M439 172h1v4h-1zM448 172h1v4h-1zM459 172h1v4h-1zM464 172h1v4h-1zM438 179h1v4h-1zM478 179h1v4h-1zM481 179h1v4h-1zM393 187h1v3h-1zM418 187h1v3h-1zM424 187h1v3h-1zM374 190h2v4h-2zM378 190h2v4h-2zM382 190h1v4h-1zM395 190h1v4h-1zM411 190h1v4h-1zM420 190h1v4h-1zM436 190h1v4h-1zM431 201h1v4h-1zM444 230h1v4h-1zM449 230h1v4h-1zM453 230h1v4h-1zM465 230h1v4h-1zM471 230h1v4h-1zM442 234h3v4h-3zM448 234h2v4h-2zM451 234h1v4h-1zM453 234h1v4h-1zM460 234h1v4h-1zM463 234h1v4h-1zM465 234h1v4h-1zM473 234h1v4h-1zM341 238h1v3h-1zM442 238h2v3h-2zM445 238h2v3h-2zM449 238h1v3h-1zM451 238h2v3h-2zM460 238h1v3h-1zM463 238h2v3h-2zM473 238h1v3h-1zM485 238h1v3h-1zM309 241h1v4h-1zM315 241h1v4h-1zM321 241h1v4h-1zM332 241h2v4h-2zM337 241h3v4h-3zM345 241h3v4h-3zM356 241h2v4h-2zM361 241h1v4h-1zM364 241h1v4h-1zM443 241h4v4h-4zM449 241h1v4h-1zM453 241h1v4h-1zM462 241h1v4h-1zM465 241h2v4h-2zM474 241h1v4h-1zM477 241h1v4h-1zM250 245h1v3h-1zM290 245h1v3h-1zM477 245h1v3h-1zM247 248h1v4h-1zM273 248h1v4h-1zM295 248h1v4h-1z"/>
<path fill="#fffb00" d="M444 172h1v4h-1zM446 172h1v4h-1zM451 172h1v4h-1zM453 172h1v4h-1zM462 172h2v4h-2zM465 172h1v4h-1zM471 172h1v4h-1zM473 172h3v4h-3zM385 187h1v3h-1zM383 190h2v4h-2zM391 190h2v4h-2zM396 190h2v4h-2zM412 190h2v4h-2zM429 190h1v4h-1zM380 194h1v3h-1zM388 194h2v3h-2zM408 194h1v3h-1zM373 197h1v4h-1zM405 201h1v4h-1zM434 205h1v3h-1zM372 212h1v4h-1zM359 227h1v3h-1zM319 230h1v4h-1zM443 230h1v4h-1zM448 230h1v4h-1zM451 230h2v4h-2zM458 230h3v4h-3zM463 230h2v4h-2zM466 230h1v4h-1zM474 230h2v4h-2zM485 230h1v4h-1zM440 234h1v4h-1zM445 234h3v4h-3zM450 234h1v4h-1zM452 234h1v4h-1zM454 234h1v4h-1zM458 234h1v4h-1zM462 234h1v4h-1zM464 234h1v4h-1zM470 234h2v4h-2zM474 234h1v4h-1zM485 234h2v4h-2zM323 238h1v3h-1zM343 238h1v3h-1zM360 238h1v3h-1zM448 238h1v3h-1zM450 238h1v3h-1zM453 238h1v3h-1zM456 238h1v3h-1zM458 238h1v3h-1zM462 238h1v3h-1zM465 238h2v3h-2zM469 238h1v3h-1zM472 238h1v3h-1zM476 238h1v3h-1zM482 238h2v3h-2zM313 241h1v4h-1zM317 241h1v4h-1zM322 241h1v4h-1zM350 241h1v4h-1zM363 241h1v4h-1zM366 241h1v4h-1zM368 241h2v4h-2zM424 241h1v4h-1zM442 241h1v4h-1zM447 241h2v4h-2zM451 241h1v4h-1zM458 241h1v4h-1zM463 241h2v4h-2zM476 241h1v4h-1zM482 241h2v4h-2zM485 241h1v4h-1zM482 245h2v3h-2zM236 248h1v4h-1zM242 248h2v4h-2zM248 248h2v4h-2zM251 248h1v4h-1zM253 248h1v4h-1zM258 248h1v4h-1zM265 248h2v4h-2zM269 248h1v4h-1zM272 248h1v4h-1zM275 248h4v4h-4zM293 248h2v4h-2zM296 248h1v4h-1zM300 248h1v4h-1zM306 248h1v4h-1zM477 248h1v4h-1z"/>
<path fill="#ffea00" d="M440 172h4v4h-4zM445 172h1v4h-1zM447 172h1v4h-1zM449 172h2v4h-2zM452 172h1v4h-1zM458 172h1v4h-1zM460 172h2v4h-2zM466 172h3v4h-3zM470 172h1v4h-1zM486 172h1v4h-1zM477 179h1v4h-1zM479 183h2v4h-2zM437 187h1v3h-1zM377 190h1v4h-1zM385 190h1v4h-1zM393 190h1v4h-1zM409 190h1v4h-1zM417 190h3v4h-3zM425 190h1v4h-1zM381 194h1v3h-1zM402 194h1v3h-1zM414 194h2v3h-2zM407 197h1v4h-1zM435 197h1v4h-1zM404 201h1v4h-1zM424 230h1v4h-1zM440 230h1v4h-1zM442 230h1v4h-1zM445 230h1v4h-1zM454 230h1v4h-1zM456 230h1v4h-1zM461 230h2v4h-2zM467 230h1v4h-1zM469 230h1v4h-1zM473 230h1v4h-1zM486 230h1v4h-1zM424 234h1v4h-1zM456 234h1v4h-1zM461 234h1v4h-1zM466 234h2v4h-2zM469 234h1v4h-1zM472 234h1v4h-1zM476 234h2v4h-2zM482 234h3v4h-3zM353 238h2v3h-2zM358 238h1v3h-1zM424 238h1v3h-1zM440 238h1v3h-1zM447 238h1v3h-1zM454 238h2v3h-2zM461 238h1v3h-1zM467 238h2v3h-2zM470 238h1v3h-1zM474 238h1v3h-1zM484 238h1v3h-1zM486 238h1v3h-1zM323 241h1v4h-1zM440 241h2v4h-2zM450 241h1v4h-1zM452 241h1v4h-1zM455 241h2v4h-2zM461 241h1v4h-1zM467 241h4v4h-4zM472 241h1v4h-1zM484 241h1v4h-1zM486 241h1v4h-1zM316 245h1v3h-1zM320 245h2v3h-2zM334 245h1v3h-1zM356 245h2v3h-2zM367 245h1v3h-1zM449 245h1v3h-1zM453 245h1v3h-1zM458 245h1v3h-1zM462 245h4v3h-4zM473 245h2v3h-2zM476 245h1v3h-1zM241 248h1v4h-1zM245 248h1v4h-1zM250 248h1v4h-1zM252 248h1v4h-1zM255 248h3v4h-3zM259 248h1v4h-1zM267 248h1v4h-1zM270 248h2v4h-2zM279 248h6v4h-6zM287 248h1v4h-1zM290 248h1v4h-1zM302 248h1v4h-1zM305 248h1v4h-1zM307 248h1v4h-1zM399 248h1v4h-1zM424 248h1v4h-1zM482 248h1v4h-1zM269 252h1v4h-1zM273 252h1v4h-1zM275 252h1v4h-1zM278 252h1v4h-1zM399 256h1v3h-1z"/>
<path fill="#ffda00" d="M454 172h4v4h-4zM469 172h1v4h-1zM472 172h1v4h-1zM484 172h2v4h-2zM482 179h1v4h-1zM376 190h1v4h-1zM386 190h1v4h-1zM394 190h1v4h-1zM410 190h1v4h-1zM379 194h1v3h-1zM387 194h1v3h-1zM390 194h1v3h-1zM411 194h1v3h-1zM413 194h1v3h-1zM416 194h1v3h-1zM380 197h1v4h-1zM403 197h1v4h-1zM406 201h1v4h-1zM431 205h1v3h-1zM433 212h1v4h-1zM424 227h1v3h-1zM444 227h1v3h-1zM318 230h1v4h-1zM441 230h1v4h-1zM446 230h1v4h-1zM450 230h1v4h-1zM455 230h1v4h-1zM468 230h1v4h-1zM470 230h1v4h-1zM472 230h1v4h-1zM484 230h1v4h-1zM441 234h1v4h-1zM455 234h1v4h-1zM468 234h1v4h-1zM324 238h1v3h-1zM335 238h2v3h-2zM441 238h1v3h-1zM348 241h1v4h-1zM353 241h1v4h-1zM399 241h1v4h-1zM454 241h1v4h-1zM315 245h1v3h-1zM325 245h2v3h-2zM331 245h1v3h-1zM337 245h1v3h-1zM339 245h2v3h-2zM344 245h2v3h-2zM347 245h1v3h-1zM351 245h2v3h-2zM355 245h1v3h-1zM361 245h1v3h-1zM364 245h1v3h-1zM366 245h1v3h-1zM369 245h1v3h-1zM399 245h1v3h-1zM424 245h1v3h-1zM440 245h1v3h-1zM442 245h5v3h-5zM448 245h1v3h-1zM451 245h1v3h-1zM456 245h1v3h-1zM459 245h2v3h-2zM469 245h1v3h-1zM471 245h2v3h-2zM475 245h1v3h-1zM485 245h1v3h-1zM235 248h1v4h-1zM237 248h4v4h-4zM244 248h1v4h-1zM246 248h1v4h-1zM254 248h1v4h-1zM261 248h4v4h-4zM268 248h1v4h-1zM274 248h1v4h-1zM285 248h2v4h-2zM289 248h1v4h-1zM291 248h2v4h-2zM301 248h1v4h-1zM308 248h1v4h-1zM400 248h1v4h-1zM236 252h1v4h-1zM239 252h1v4h-1zM241 252h3v4h-3zM245 252h1v4h-1zM248 252h2v4h-2zM253 252h1v4h-1zM255 252h3v4h-3zM259 252h1v4h-1zM264 252h1v4h-1zM267 252h1v4h-1zM279 252h3v4h-3zM293 252h3v4h-3zM300 252h1v4h-1zM305 252h1v4h-1zM399 252h2v4h-2z"/>
<path fill="#ffc900" d="M439 176h1v3h-1zM459 176h1v3h-1zM464 176h2v3h-2zM475 176h1v3h-1zM483 176h1v3h-1zM398 183h1v4h-1zM401 183h1v4h-1zM438 183h1v4h-1zM424 190h1v4h-1zM426 190h1v4h-1zM395 194h1v3h-1zM397 194h1v3h-1zM409 194h1v3h-1zM412 194h1v3h-1zM417 194h1v3h-1zM420 194h1v3h-1zM436 194h1v3h-1zM408 197h1v4h-1zM405 205h1v3h-1zM434 208h1v4h-1zM432 212h1v4h-1zM442 227h1v3h-1zM445 227h1v3h-1zM458 227h3v3h-3zM463 227h3v3h-3zM371 230h1v4h-1zM447 230h1v4h-1zM354 241h1v4h-1zM400 241h1v4h-1zM439 241h1v4h-1zM317 245h1v3h-1zM322 245h2v3h-2zM332 245h1v3h-1zM338 245h1v3h-1zM346 245h1v3h-1zM362 245h2v3h-2zM368 245h1v3h-1zM370 245h1v3h-1zM400 245h1v3h-1zM441 245h1v3h-1zM450 245h1v3h-1zM452 245h1v3h-1zM454 245h1v3h-1zM461 245h1v3h-1zM466 245h3v3h-3zM470 245h1v3h-1zM484 245h1v3h-1zM260 248h1v4h-1zM288 248h1v4h-1zM297 248h3v4h-3zM303 248h2v4h-2zM425 248h1v4h-1zM463 248h3v4h-3zM476 248h1v4h-1zM483 248h1v4h-1zM235 252h1v4h-1zM240 252h1v4h-1zM244 252h1v4h-1zM247 252h1v4h-1zM254 252h1v4h-1zM258 252h1v4h-1zM261 252h2v4h-2zM265 252h2v4h-2zM268 252h1v4h-1zM270 252h1v4h-1zM272 252h1v4h-1zM276 252h2v4h-2zM284 252h4v4h-4zM289 252h1v4h-1zM292 252h1v4h-1zM296 252h1v4h-1zM298 252h1v4h-1zM306 252h1v4h-1zM308 252h1v4h-1zM477 252h1v4h-1zM482 252h1v4h-1zM249 256h1v3h-1zM280 256h1v3h-1zM293 256h1v3h-1zM400 256h1v3h-1z"/>
<path fill="#ffbb00" d="M440 176h1v3h-1zM443 176h3v3h-3zM448 176h2v3h-2zM451 176h3v3h-3zM460 176h1v3h-1zM471 176h1v3h-1zM473 176h1v3h-1zM476 176h1v3h-1zM374 194h2v3h-2zM377 194h2v3h-2zM382 194h1v3h-1zM384 194h1v3h-1zM386 194h1v3h-1zM392 194h1v3h-1zM394 194h1v3h-1zM396 194h1v3h-1zM418 194h2v3h-2zM387 197h4v4h-4zM416 197h1v4h-1zM430 197h1v4h-1zM435 201h1v4h-1zM404 205h1v3h-1zM440 227h1v3h-1zM443 227h1v3h-1zM448 227h6v3h-6zM466 227h1v3h-1zM468 227h1v3h-1zM471 227h5v3h-5zM485 227h1v3h-1zM310 230h1v4h-1zM483 230h1v4h-1zM318 234h2v4h-2zM399 238h2v3h-2zM439 238h1v3h-1zM335 241h1v4h-1zM341 241h1v4h-1zM343 241h1v4h-1zM365 241h1v4h-1zM312 245h2v3h-2zM327 245h1v3h-1zM333 245h1v3h-1zM353 245h2v3h-2zM425 245h1v3h-1zM447 245h1v3h-1zM455 245h1v3h-1zM486 245h1v3h-1zM423 248h1v4h-1zM442 248h3v4h-3zM448 248h2v4h-2zM453 248h1v4h-1zM459 248h1v4h-1zM466 248h1v4h-1zM471 248h1v4h-1zM474 248h2v4h-2zM478 248h1v4h-1zM481 248h1v4h-1zM237 252h2v4h-2zM250 252h3v4h-3zM260 252h1v4h-1zM271 252h1v4h-1zM274 252h1v4h-1zM283 252h1v4h-1zM288 252h1v4h-1zM291 252h1v4h-1zM297 252h1v4h-1zM301 252h1v4h-1zM303 252h1v4h-1zM380 252h1v4h-1zM478 252h1v4h-1zM481 252h1v4h-1zM236 256h1v3h-1zM242 256h1v3h-1zM248 256h1v3h-1zM258 256h2v3h-2zM266 256h1v3h-1zM269 256h1v3h-1zM275 256h1v3h-1zM277 256h2v3h-2zM284 256h1v3h-1zM294 256h3v3h-3zM300 256h1v3h-1z"/>
<path fill="#ffb100" d="M442 176h1v3h-1zM446 176h1v3h-1zM456 176h3v3h-3zM461 176h3v3h-3zM466 176h1v3h-1zM469 176h2v3h-2zM472 176h1v3h-1zM474 176h1v3h-1zM485 176h2v3h-2zM477 183h2v4h-2zM481 183h1v4h-1zM398 187h1v3h-1zM479 187h1v3h-1zM428 190h1v4h-1zM437 190h1v4h-1zM376 194h1v3h-1zM383 194h1v3h-1zM391 194h1v3h-1zM393 194h1v3h-1zM381 197h1v4h-1zM402 197h1v4h-1zM414 197h2v4h-2zM407 201h1v4h-1zM441 227h1v3h-1zM446 227h2v3h-2zM454 227h1v3h-1zM461 227h2v3h-2zM467 227h1v3h-1zM469 227h1v3h-1zM484 227h1v3h-1zM311 230h1v4h-1zM328 230h2v4h-2zM439 230h1v4h-1zM476 230h1v4h-1zM399 234h1v4h-1zM439 234h1v4h-1zM365 238h1v3h-1zM324 241h1v4h-1zM336 241h1v4h-1zM358 241h1v4h-1zM360 241h1v4h-1zM478 241h1v4h-1zM481 241h1v4h-1zM330 245h1v3h-1zM350 245h1v3h-1zM365 245h1v3h-1zM423 245h1v3h-1zM439 245h1v3h-1zM478 245h1v3h-1zM481 245h1v3h-1zM316 248h1v4h-1zM334 248h1v4h-1zM355 248h1v4h-1zM440 248h1v4h-1zM445 248h2v4h-2zM450 248h3v4h-3zM456 248h1v4h-1zM458 248h1v4h-1zM460 248h1v4h-1zM462 248h1v4h-1zM468 248h1v4h-1zM473 248h1v4h-1zM246 252h1v4h-1zM263 252h1v4h-1zM282 252h1v4h-1zM290 252h1v4h-1zM299 252h1v4h-1zM302 252h1v4h-1zM304 252h1v4h-1zM307 252h1v4h-1zM398 252h1v4h-1zM401 252h1v4h-1zM453 252h1v4h-1zM459 252h1v4h-1zM473 252h1v4h-1zM475 252h1v4h-1zM240 256h2v3h-2zM243 256h1v3h-1zM245 256h1v3h-1zM247 256h1v3h-1zM250 256h1v3h-1zM252 256h2v3h-2zM255 256h2v3h-2zM264 256h2v3h-2zM268 256h1v3h-1zM270 256h4v3h-4zM279 256h1v3h-1zM281 256h1v3h-1zM287 256h1v3h-1zM289 256h1v3h-1zM303 256h1v3h-1zM305 256h2v3h-2zM380 256h1v3h-1zM398 256h1v3h-1zM475 256h1v3h-1zM477 256h2v3h-2zM481 256h1v3h-1zM480 259h1v4h-1z"/>
<path fill="#ffa700" d="M441 176h1v3h-1zM450 176h1v3h-1zM454 176h2v3h-2zM467 176h2v3h-2zM484 176h1v3h-1zM439 179h1v4h-1zM476 179h1v4h-1zM483 179h1v4h-1zM401 187h1v3h-1zM480 187h1v3h-1zM427 190h1v4h-1zM385 194h1v3h-1zM410 194h1v3h-1zM424 194h1v3h-1zM375 197h1v4h-1zM378 197h2v4h-2zM392 197h1v4h-1zM397 197h1v4h-1zM409 197h1v4h-1zM412 197h2v4h-2zM436 197h1v4h-1zM403 201h1v4h-1zM406 205h1v3h-1zM459 223h1v4h-1zM464 223h1v4h-1zM455 227h2v3h-2zM470 227h1v3h-1zM486 227h1v3h-1zM400 230h1v4h-1zM477 230h1v4h-1zM482 230h1v4h-1zM400 234h1v4h-1zM423 241h1v4h-1zM425 241h1v4h-1zM309 245h1v3h-1zM324 245h1v3h-1zM335 245h1v3h-1zM348 245h1v3h-1zM320 248h1v4h-1zM323 248h1v4h-1zM326 248h1v4h-1zM331 248h1v4h-1zM337 248h1v4h-1zM340 248h1v4h-1zM351 248h1v4h-1zM353 248h2v4h-2zM356 248h2v4h-2zM362 248h1v4h-1zM380 248h1v4h-1zM454 248h2v4h-2zM461 248h1v4h-1zM469 248h2v4h-2zM472 248h1v4h-1zM485 248h2v4h-2zM442 252h5v4h-5zM448 252h2v4h-2zM458 252h1v4h-1zM462 252h3v4h-3zM466 252h1v4h-1zM471 252h1v4h-1zM476 252h1v4h-1zM235 256h1v3h-1zM237 256h1v3h-1zM239 256h1v3h-1zM244 256h1v3h-1zM246 256h1v3h-1zM251 256h1v3h-1zM254 256h1v3h-1zM257 256h1v3h-1zM261 256h1v3h-1zM263 256h1v3h-1zM267 256h1v3h-1zM274 256h1v3h-1zM276 256h1v3h-1zM282 256h2v3h-2zM285 256h2v3h-2zM288 256h1v3h-1zM291 256h2v3h-2zM301 256h1v3h-1zM304 256h1v3h-1zM307 256h1v3h-1zM381 256h1v3h-1zM401 256h1v3h-1zM449 256h1v3h-1zM453 256h1v3h-1zM458 256h1v3h-1zM463 256h1v3h-1zM465 256h1v3h-1zM473 256h1v3h-1zM482 256h1v3h-1zM444 259h1v4h-1zM453 259h1v4h-1zM478 259h2v4h-2zM482 259h1v4h-1z"/>
<path fill="#ff9d00" d="M447 176h1v3h-1zM443 179h2v4h-2zM453 179h1v4h-1zM482 183h1v4h-1zM438 187h1v3h-1zM401 190h1v4h-1zM421 190h1v4h-1zM423 190h1v4h-1zM425 194h1v3h-1zM429 194h1v3h-1zM374 197h1v4h-1zM382 197h1v4h-1zM384 197h1v4h-1zM391 197h1v4h-1zM393 197h1v4h-1zM395 197h1v4h-1zM411 197h1v4h-1zM417 197h1v4h-1zM419 197h2v4h-2zM380 201h1v4h-1zM388 201h1v4h-1zM407 205h1v3h-1zM404 208h2v4h-2zM431 208h1v4h-1zM434 212h1v4h-1zM432 216h1v3h-1zM443 223h3v4h-3zM449 223h1v4h-1zM451 223h1v4h-1zM453 223h1v4h-1zM465 223h1v4h-1zM399 227h1v3h-1zM399 230h1v4h-1zM310 234h2v4h-2zM314 238h1v3h-1zM318 238h2v3h-2zM478 238h1v3h-1zM314 241h1v4h-1zM380 241h1v4h-1zM438 241h1v4h-1zM336 245h1v3h-1zM341 245h1v3h-1zM343 245h1v3h-1zM438 245h1v3h-1zM315 248h1v4h-1zM321 248h1v4h-1zM325 248h1v4h-1zM338 248h1v4h-1zM345 248h1v4h-1zM347 248h1v4h-1zM352 248h1v4h-1zM365 248h2v4h-2zM368 248h3v4h-3zM381 248h1v4h-1zM398 248h1v4h-1zM401 248h1v4h-1zM426 248h1v4h-1zM439 248h1v4h-1zM441 248h1v4h-1zM447 248h1v4h-1zM467 248h1v4h-1zM484 248h1v4h-1zM316 252h1v4h-1zM321 252h1v4h-1zM323 252h1v4h-1zM331 252h1v4h-1zM352 252h2v4h-2zM381 252h1v4h-1zM440 252h2v4h-2zM450 252h3v4h-3zM456 252h1v4h-1zM460 252h2v4h-2zM465 252h1v4h-1zM470 252h1v4h-1zM472 252h1v4h-1zM474 252h1v4h-1zM483 252h3v4h-3zM238 256h1v3h-1zM260 256h1v3h-1zM262 256h1v3h-1zM290 256h1v3h-1zM298 256h2v3h-2zM302 256h1v3h-1zM308 256h1v3h-1zM385 256h1v3h-1zM397 256h1v3h-1zM440 256h1v3h-1zM442 256h4v3h-4zM448 256h1v3h-1zM451 256h1v3h-1zM459 256h2v3h-2zM464 256h1v3h-1zM471 256h1v3h-1zM474 256h1v3h-1zM483 256h1v3h-1zM485 256h1v3h-1zM236 259h1v4h-1zM241 259h1v4h-1zM259 259h1v4h-1zM269 259h1v4h-1zM275 259h1v4h-1zM280 259h1v4h-1zM293 259h1v4h-1zM442 259h1v4h-1zM448 259h2v4h-2zM451 259h2v4h-2zM458 259h1v4h-1zM462 259h4v4h-4zM475 259h1v4h-1zM477 259h1v4h-1zM481 259h1v4h-1z"/>
<path fill="#ff9300" d="M445 179h2v4h-2zM448 179h2v4h-2zM459 179h2v4h-2zM463 179h4v4h-4zM471 179h1v4h-1zM475 179h1v4h-1zM485 179h1v4h-1zM478 187h1v3h-1zM398 190h1v4h-1zM421 194h1v3h-1zM437 194h1v3h-1zM377 197h1v4h-1zM383 197h1v4h-1zM385 197h1v4h-1zM396 197h1v4h-1zM410 197h1v4h-1zM418 197h1v4h-1zM373 201h3v4h-3zM379 201h1v4h-1zM381 201h1v4h-1zM387 201h1v4h-1zM389 201h1v4h-1zM395 201h1v4h-1zM408 201h1v4h-1zM414 201h3v4h-3zM435 205h1v3h-1zM433 216h1v3h-1zM442 223h1v4h-1zM446 223h1v4h-1zM448 223h1v4h-1zM452 223h1v4h-1zM458 223h1v4h-1zM462 223h2v4h-2zM466 223h1v4h-1zM471 223h1v4h-1zM473 223h3v4h-3zM485 223h1v4h-1zM400 227h1v3h-1zM476 227h1v3h-1zM483 227h1v3h-1zM423 238h1v3h-1zM425 238h1v3h-1zM481 238h1v3h-1zM314 245h1v3h-1zM358 245h1v3h-1zM360 245h1v3h-1zM380 245h2v3h-2zM398 245h1v3h-1zM401 245h1v3h-1zM426 245h1v3h-1zM313 248h2v4h-2zM317 248h1v4h-1zM322 248h1v4h-1zM324 248h1v4h-1zM332 248h1v4h-1zM335 248h2v4h-2zM339 248h1v4h-1zM344 248h1v4h-1zM350 248h1v4h-1zM361 248h1v4h-1zM363 248h2v4h-2zM367 248h1v4h-1zM375 248h1v4h-1zM387 248h1v4h-1zM411 248h1v4h-1zM420 248h1v4h-1zM422 248h1v4h-1zM434 248h3v4h-3zM438 248h1v4h-1zM320 252h1v4h-1zM326 252h1v4h-1zM334 252h1v4h-1zM337 252h2v4h-2zM340 252h1v4h-1zM347 252h1v4h-1zM351 252h1v4h-1zM355 252h2v4h-2zM362 252h1v4h-1zM365 252h1v4h-1zM386 252h1v4h-1zM411 252h1v4h-1zM439 252h1v4h-1zM447 252h1v4h-1zM454 252h1v4h-1zM468 252h2v4h-2zM297 256h1v3h-1zM316 256h1v3h-1zM323 256h1v3h-1zM334 256h1v3h-1zM351 256h6v3h-6zM365 256h1v3h-1zM386 256h2v3h-2zM402 256h1v3h-1zM411 256h1v3h-1zM435 256h1v3h-1zM446 256h1v3h-1zM452 256h1v3h-1zM456 256h1v3h-1zM462 256h1v3h-1zM466 256h1v3h-1zM469 256h2v3h-2zM484 256h1v3h-1zM243 259h1v4h-1zM245 259h1v4h-1zM247 259h3v4h-3zM253 259h1v4h-1zM255 259h4v4h-4zM264 259h1v4h-1zM266 259h1v4h-1zM272 259h2v4h-2zM277 259h3v4h-3zM286 259h1v4h-1zM289 259h1v4h-1zM294 259h2v4h-2zM316 259h1v4h-1zM323 259h1v4h-1zM334 259h1v4h-1zM354 259h2v4h-2zM387 259h1v4h-1zM411 259h1v4h-1zM440 259h1v4h-1zM443 259h1v4h-1zM445 259h2v4h-2zM450 259h1v4h-1zM454 259h1v4h-1zM459 259h2v4h-2zM466 259h2v4h-2zM470 259h2v4h-2zM473 259h2v4h-2zM476 259h1v4h-1zM483 259h1v4h-1zM485 259h1v4h-1z"/>
<path fill="#ff8800" d="M440 179h1v4h-1zM442 179h1v4h-1zM451 179h2v4h-2zM455 179h4v4h-4zM461 179h2v4h-2zM467 179h2v4h-2zM472 179h3v4h-3zM484 179h1v4h-1zM481 187h1v3h-1zM480 190h1v4h-1zM398 194h1v3h-1zM376 197h1v4h-1zM386 197h1v4h-1zM394 197h1v4h-1zM424 197h1v4h-1zM390 201h1v4h-1zM392 201h1v4h-1zM402 201h1v4h-1zM409 201h1v4h-1zM411 201h1v4h-1zM417 201h1v4h-1zM420 201h1v4h-1zM430 201h1v4h-1zM436 201h1v4h-1zM402 205h2v3h-2zM406 208h1v4h-1zM435 208h1v4h-1zM400 223h1v4h-1zM440 223h1v4h-1zM450 223h1v4h-1zM454 223h1v4h-1zM460 223h2v4h-2zM467 223h1v4h-1zM469 223h1v4h-1zM472 223h1v4h-1zM486 223h1v4h-1zM439 227h1v3h-1zM328 234h2v4h-2zM319 241h1v4h-1zM381 241h1v4h-1zM312 248h1v4h-1zM327 248h1v4h-1zM330 248h1v4h-1zM333 248h1v4h-1zM341 248h1v4h-1zM346 248h1v4h-1zM374 248h1v4h-1zM385 248h1v4h-1zM388 248h1v4h-1zM390 248h1v4h-1zM395 248h1v4h-1zM402 248h1v4h-1zM404 248h1v4h-1zM407 248h3v4h-3zM412 248h3v4h-3zM421 248h1v4h-1zM315 252h1v4h-1zM325 252h1v4h-1zM332 252h1v4h-1zM335 252h2v4h-2zM345 252h1v4h-1zM354 252h1v4h-1zM357 252h1v4h-1zM363 252h2v4h-2zM367 252h1v4h-1zM370 252h1v4h-1zM373 252h3v4h-3zM385 252h1v4h-1zM387 252h1v4h-1zM390 252h1v4h-1zM392 252h1v4h-1zM397 252h1v4h-1zM402 252h1v4h-1zM408 252h2v4h-2zM414 252h1v4h-1zM420 252h1v4h-1zM429 252h1v4h-1zM434 252h2v4h-2zM438 252h1v4h-1zM455 252h1v4h-1zM467 252h1v4h-1zM486 252h1v4h-1zM320 256h2v3h-2zM325 256h1v3h-1zM331 256h2v3h-2zM335 256h1v3h-1zM347 256h1v3h-1zM362 256h1v3h-1zM364 256h1v3h-1zM367 256h1v3h-1zM370 256h1v3h-1zM374 256h2v3h-2zM378 256h1v3h-1zM388 256h3v3h-3zM392 256h1v3h-1zM395 256h1v3h-1zM404 256h1v3h-1zM407 256h1v3h-1zM413 256h1v3h-1zM421 256h1v3h-1zM429 256h1v3h-1zM433 256h2v3h-2zM436 256h1v3h-1zM441 256h1v3h-1zM447 256h1v3h-1zM450 256h1v3h-1zM454 256h2v3h-2zM461 256h1v3h-1zM467 256h2v3h-2zM472 256h1v3h-1zM476 256h1v3h-1zM486 256h1v3h-1zM235 259h1v4h-1zM237 259h1v4h-1zM239 259h1v4h-1zM242 259h1v4h-1zM251 259h2v4h-2zM254 259h1v4h-1zM262 259h1v4h-1zM265 259h1v4h-1zM270 259h2v4h-2zM276 259h1v4h-1zM281 259h4v4h-4zM287 259h2v4h-2zM296 259h1v4h-1zM300 259h2v4h-2zM304 259h4v4h-4zM315 259h1v4h-1zM320 259h1v4h-1zM325 259h1v4h-1zM351 259h3v4h-3zM365 259h1v4h-1zM367 259h1v4h-1zM370 259h2v4h-2zM373 259h3v4h-3zM378 259h1v4h-1zM388 259h1v4h-1zM392 259h1v4h-1zM395 259h1v4h-1zM397 259h1v4h-1zM402 259h1v4h-1zM404 259h1v4h-1zM407 259h1v4h-1zM412 259h3v4h-3zM420 259h2v4h-2zM434 259h3v4h-3zM441 259h1v4h-1zM456 259h2v4h-2zM468 259h1v4h-1zM486 259h1v4h-1z"/>
<path fill="#ff7d00" d="M447 179h1v4h-1zM450 179h1v4h-1zM469 179h2v4h-2zM477 187h1v3h-1zM479 190h1v4h-1zM426 194h1v3h-1zM437 197h1v4h-1zM378 201h1v4h-1zM382 201h1v4h-1zM384 201h1v4h-1zM391 201h1v4h-1zM393 201h1v4h-1zM397 201h1v4h-1zM410 201h1v4h-1zM413 201h1v4h-1zM374 205h1v3h-1zM380 205h1v3h-1zM387 205h1v3h-1zM390 205h1v3h-1zM408 205h1v3h-1zM414 205h1v3h-1zM420 205h1v3h-1zM436 205h1v3h-1zM380 208h1v4h-1zM399 223h1v4h-1zM447 223h1v4h-1zM455 223h2v4h-2zM468 223h1v4h-1zM470 223h1v4h-1zM484 223h1v4h-1zM477 227h1v3h-1zM438 234h1v4h-1zM478 234h1v4h-1zM310 238h2v3h-2zM328 238h1v3h-1zM380 238h1v3h-1zM438 238h1v3h-1zM318 241h1v4h-1zM349 241h1v4h-1zM398 241h1v4h-1zM426 241h1v4h-1zM318 245h2v3h-2zM386 245h2v3h-2zM408 245h1v3h-1zM411 245h1v3h-1zM422 245h1v3h-1zM435 245h1v3h-1zM437 245h1v3h-1zM309 248h1v4h-1zM319 248h1v4h-1zM343 248h1v4h-1zM348 248h1v4h-1zM372 248h2v4h-2zM384 248h1v4h-1zM386 248h1v4h-1zM392 248h2v4h-2zM397 248h1v4h-1zM403 248h1v4h-1zM406 248h1v4h-1zM417 248h2v4h-2zM427 248h1v4h-1zM432 248h2v4h-2zM437 248h1v4h-1zM312 252h3v4h-3zM317 252h1v4h-1zM319 252h1v4h-1zM322 252h1v4h-1zM324 252h1v4h-1zM339 252h1v4h-1zM341 252h1v4h-1zM344 252h1v4h-1zM348 252h1v4h-1zM350 252h1v4h-1zM361 252h1v4h-1zM366 252h1v4h-1zM368 252h2v4h-2zM372 252h1v4h-1zM378 252h2v4h-2zM383 252h1v4h-1zM389 252h1v4h-1zM391 252h1v4h-1zM395 252h1v4h-1zM404 252h1v4h-1zM407 252h1v4h-1zM412 252h2v4h-2zM417 252h1v4h-1zM421 252h3v4h-3zM425 252h2v4h-2zM433 252h1v4h-1zM436 252h2v4h-2zM315 256h1v3h-1zM317 256h1v3h-1zM319 256h1v3h-1zM326 256h1v3h-1zM330 256h1v3h-1zM337 256h4v3h-4zM344 256h2v3h-2zM349 256h2v3h-2zM357 256h1v3h-1zM369 256h1v3h-1zM371 256h1v3h-1zM373 256h1v3h-1zM377 256h1v3h-1zM383 256h2v3h-2zM391 256h1v3h-1zM394 256h1v3h-1zM396 256h1v3h-1zM405 256h2v3h-2zM408 256h2v3h-2zM412 256h1v3h-1zM414 256h1v3h-1zM416 256h2v3h-2zM419 256h2v3h-2zM422 256h2v3h-2zM425 256h3v3h-3zM431 256h1v3h-1zM437 256h3v3h-3zM238 259h1v4h-1zM240 259h1v4h-1zM244 259h1v4h-1zM246 259h1v4h-1zM250 259h1v4h-1zM261 259h1v4h-1zM263 259h1v4h-1zM267 259h2v4h-2zM274 259h1v4h-1zM285 259h1v4h-1zM291 259h2v4h-2zM297 259h1v4h-1zM299 259h1v4h-1zM302 259h2v4h-2zM308 259h1v4h-1zM319 259h1v4h-1zM321 259h1v4h-1zM326 259h1v4h-1zM331 259h1v4h-1zM335 259h1v4h-1zM338 259h1v4h-1zM345 259h1v4h-1zM347 259h2v4h-2zM350 259h1v4h-1zM356 259h2v4h-2zM362 259h1v4h-1zM364 259h1v4h-1zM366 259h1v4h-1zM369 259h1v4h-1zM379 259h2v4h-2zM384 259h1v4h-1zM389 259h2v4h-2zM393 259h1v4h-1zM396 259h1v4h-1zM398 259h1v4h-1zM406 259h1v4h-1zM408 259h2v4h-2zM415 259h1v4h-1zM417 259h1v4h-1zM425 259h3v4h-3zM429 259h1v4h-1zM432 259h1v4h-1zM438 259h1v4h-1zM447 259h1v4h-1zM455 259h1v4h-1zM461 259h1v4h-1zM469 259h1v4h-1zM472 259h1v4h-1zM484 259h1v4h-1z"/>
<path fill="#ff7200" d="M441 179h1v4h-1zM454 179h1v4h-1zM486 179h1v4h-1zM459 183h1v4h-1zM476 183h1v4h-1zM482 187h1v3h-1zM438 190h1v4h-1zM401 194h1v3h-1zM423 194h1v3h-1zM398 197h1v4h-1zM421 197h1v4h-1zM376 201h1v4h-1zM383 201h1v4h-1zM396 201h1v4h-1zM412 201h1v4h-1zM419 201h1v4h-1zM421 201h1v4h-1zM375 205h1v3h-1zM378 205h1v3h-1zM381 205h1v3h-1zM388 205h2v3h-2zM392 205h1v3h-1zM395 205h1v3h-1zM412 205h2v3h-2zM415 205h2v3h-2zM419 205h1v3h-1zM407 208h1v4h-1zM404 212h3v4h-3zM431 212h1v4h-1zM435 212h1v4h-1zM372 216h1v3h-1zM444 219h1v4h-1zM459 219h1v4h-1zM441 223h1v4h-1zM482 227h1v3h-1zM349 234h1v4h-1zM425 234h1v4h-1zM481 234h1v4h-1zM329 238h1v3h-1zM349 238h1v3h-1zM401 241h1v4h-1zM422 241h1v4h-1zM349 245h1v3h-1zM373 245h3v3h-3zM384 245h1v3h-1zM388 245h1v3h-1zM391 245h1v3h-1zM395 245h1v3h-1zM397 245h1v3h-1zM404 245h1v3h-1zM406 245h1v3h-1zM409 245h1v3h-1zM413 245h2v3h-2zM420 245h2v3h-2zM433 245h2v3h-2zM436 245h1v3h-1zM371 248h1v4h-1zM376 248h4v4h-4zM389 248h1v4h-1zM391 248h1v4h-1zM394 248h1v4h-1zM396 248h1v4h-1zM405 248h1v4h-1zM410 248h1v4h-1zM415 248h2v4h-2zM419 248h1v4h-1zM429 248h1v4h-1zM431 248h1v4h-1zM327 252h1v4h-1zM330 252h1v4h-1zM333 252h1v4h-1zM346 252h1v4h-1zM358 252h1v4h-1zM371 252h1v4h-1zM377 252h1v4h-1zM384 252h1v4h-1zM388 252h1v4h-1zM394 252h1v4h-1zM396 252h1v4h-1zM405 252h2v4h-2zM410 252h1v4h-1zM416 252h1v4h-1zM418 252h2v4h-2zM427 252h1v4h-1zM430 252h3v4h-3zM312 256h1v3h-1zM314 256h1v3h-1zM318 256h1v3h-1zM322 256h1v3h-1zM324 256h1v3h-1zM327 256h1v3h-1zM336 256h1v3h-1zM341 256h1v3h-1zM343 256h1v3h-1zM346 256h1v3h-1zM348 256h1v3h-1zM361 256h1v3h-1zM363 256h1v3h-1zM366 256h1v3h-1zM368 256h1v3h-1zM372 256h1v3h-1zM379 256h1v3h-1zM393 256h1v3h-1zM403 256h1v3h-1zM428 256h1v3h-1zM432 256h1v3h-1zM260 259h1v4h-1zM290 259h1v4h-1zM298 259h1v4h-1zM312 259h1v4h-1zM314 259h1v4h-1zM317 259h2v4h-2zM322 259h1v4h-1zM324 259h1v4h-1zM327 259h1v4h-1zM330 259h1v4h-1zM332 259h2v4h-2zM336 259h2v4h-2zM339 259h3v4h-3zM344 259h1v4h-1zM349 259h1v4h-1zM363 259h1v4h-1zM368 259h1v4h-1zM372 259h1v4h-1zM376 259h2v4h-2zM381 259h3v4h-3zM385 259h2v4h-2zM391 259h1v4h-1zM394 259h1v4h-1zM400 259h2v4h-2zM403 259h1v4h-1zM405 259h1v4h-1zM410 259h1v4h-1zM416 259h1v4h-1zM418 259h2v4h-2zM422 259h2v4h-2zM433 259h1v4h-1zM437 259h1v4h-1zM439 259h1v4h-1z"/>
<path fill="#ff6600" d="M439 183h1v4h-1zM442 183h3v4h-3zM448 183h1v4h-1zM458 183h1v4h-1zM460 183h1v4h-1zM462 183h3v4h-3zM466 183h1v4h-1zM471 183h1v4h-1zM483 183h1v4h-1zM422 190h1v4h-1zM478 190h1v4h-1zM422 194h1v3h-1zM479 194h1v3h-1zM401 197h1v4h-1zM423 197h1v4h-1zM425 197h1v4h-1zM429 197h1v4h-1zM377 201h1v4h-1zM385 201h2v4h-2zM394 201h1v4h-1zM418 201h1v4h-1zM423 201h1v4h-1zM437 201h1v4h-1zM373 205h1v3h-1zM377 205h1v3h-1zM379 205h1v3h-1zM383 205h2v3h-2zM391 205h1v3h-1zM397 205h1v3h-1zM409 205h1v3h-1zM411 205h1v3h-1zM421 205h3v3h-3zM430 205h1v3h-1zM387 208h2v4h-2zM402 208h2v4h-2zM408 208h1v4h-1zM414 208h1v4h-1zM407 212h1v4h-1zM404 216h1v3h-1zM434 216h1v3h-1zM440 219h1v4h-1zM443 219h1v4h-1zM445 219h1v4h-1zM448 219h2v4h-2zM451 219h1v4h-1zM453 219h1v4h-1zM458 219h1v4h-1zM462 219h1v4h-1zM464 219h2v4h-2zM471 219h1v4h-1zM473 219h1v4h-1zM475 219h1v4h-1zM439 223h1v4h-1zM457 223h1v4h-1zM457 227h1v3h-1zM342 230h1v4h-1zM438 230h1v4h-1zM371 234h1v4h-1zM423 234h1v4h-1zM342 238h1v3h-1zM381 238h1v3h-1zM457 238h1v3h-1zM310 241h1v4h-1zM328 241h2v4h-2zM373 241h2v4h-2zM387 241h1v4h-1zM392 241h1v4h-1zM397 241h1v4h-1zM412 241h3v4h-3zM420 241h1v4h-1zM434 241h1v4h-1zM437 241h1v4h-1zM457 241h1v4h-1zM310 245h1v3h-1zM342 245h1v3h-1zM371 245h2v3h-2zM377 245h1v3h-1zM379 245h1v3h-1zM385 245h1v3h-1zM389 245h2v3h-2zM392 245h3v3h-3zM396 245h1v3h-1zM402 245h1v3h-1zM407 245h1v3h-1zM410 245h1v3h-1zM412 245h1v3h-1zM416 245h1v3h-1zM419 245h1v3h-1zM427 245h1v3h-1zM429 245h1v3h-1zM432 245h1v3h-1zM457 245h1v3h-1zM318 248h1v4h-1zM342 248h1v4h-1zM349 248h1v4h-1zM358 248h1v4h-1zM360 248h1v4h-1zM382 248h2v4h-2zM428 248h1v4h-1zM430 248h1v4h-1zM318 252h1v4h-1zM342 252h2v4h-2zM349 252h1v4h-1zM376 252h1v4h-1zM382 252h1v4h-1zM393 252h1v4h-1zM403 252h1v4h-1zM415 252h1v4h-1zM424 252h1v4h-1zM428 252h1v4h-1zM479 252h1v4h-1zM309 256h1v3h-1zM313 256h1v3h-1zM333 256h1v3h-1zM358 256h1v3h-1zM376 256h1v3h-1zM382 256h1v3h-1zM410 256h1v3h-1zM415 256h1v3h-1zM418 256h1v3h-1zM424 256h1v3h-1zM430 256h1v3h-1zM310 259h1v4h-1zM343 259h1v4h-1zM346 259h1v4h-1zM358 259h1v4h-1zM399 259h1v4h-1zM424 259h1v4h-1zM428 259h1v4h-1zM430 259h2v4h-2z"/>
<path fill="#ff5b00" d="M445 183h1v4h-1zM449 183h5v4h-5zM456 183h1v4h-1zM465 183h1v4h-1zM467 183h1v4h-1zM470 183h1v4h-1zM472 183h2v4h-2zM475 183h1v4h-1zM485 183h1v4h-1zM481 190h2v4h-2zM427 194h1v3h-1zM480 194h1v3h-1zM422 197h1v4h-1zM398 201h1v4h-1zM401 201h1v4h-1zM422 201h1v4h-1zM376 205h1v3h-1zM382 205h1v3h-1zM385 205h2v3h-2zM393 205h1v3h-1zM396 205h1v3h-1zM410 205h1v3h-1zM417 205h2v3h-2zM373 208h3v4h-3zM381 208h1v4h-1zM389 208h2v4h-2zM392 208h1v4h-1zM395 208h1v4h-1zM411 208h1v4h-1zM415 208h2v4h-2zM420 208h2v4h-2zM430 208h1v4h-1zM436 208h1v4h-1zM405 216h1v3h-1zM431 216h1v3h-1zM432 219h2v4h-2zM442 219h1v4h-1zM446 219h1v4h-1zM450 219h1v4h-1zM452 219h1v4h-1zM460 219h1v4h-1zM463 219h1v4h-1zM466 219h1v4h-1zM476 223h2v4h-2zM483 223h1v4h-1zM438 227h1v3h-1zM359 230h1v4h-1zM457 230h1v4h-1zM481 230h1v4h-1zM342 234h1v4h-1zM380 234h1v4h-1zM457 234h1v4h-1zM359 238h1v3h-1zM398 238h1v3h-1zM311 241h1v4h-1zM342 241h1v4h-1zM359 241h1v4h-1zM375 241h1v4h-1zM378 241h1v4h-1zM390 241h1v4h-1zM395 241h1v4h-1zM402 241h1v4h-1zM406 241h1v4h-1zM408 241h1v4h-1zM416 241h1v4h-1zM421 241h1v4h-1zM427 241h1v4h-1zM433 241h1v4h-1zM435 241h2v4h-2zM328 245h2v3h-2zM378 245h1v3h-1zM382 245h2v3h-2zM403 245h1v3h-1zM405 245h1v3h-1zM415 245h1v3h-1zM417 245h1v3h-1zM431 245h1v3h-1zM479 245h2v3h-2zM310 248h1v4h-1zM359 248h1v4h-1zM457 248h1v4h-1zM480 248h1v4h-1zM309 252h2v4h-2zM360 252h1v4h-1zM457 252h1v4h-1zM480 252h1v4h-1zM310 256h2v3h-2zM342 256h1v3h-1zM359 256h2v3h-2zM457 256h1v3h-1zM480 256h1v3h-1zM309 259h1v4h-1zM313 259h1v4h-1zM342 259h1v4h-1zM361 259h1v4h-1z"/>
<path fill="#ff5000" d="M440 183h1v4h-1zM446 183h2v4h-2zM455 183h1v4h-1zM461 183h1v4h-1zM468 183h2v4h-2zM474 183h1v4h-1zM484 183h1v4h-1zM486 183h1v4h-1zM439 187h1v3h-1zM444 187h1v3h-1zM483 187h1v3h-1zM477 190h1v4h-1zM428 194h1v3h-1zM424 201h1v4h-1zM394 205h1v3h-1zM398 205h1v3h-1zM401 205h1v3h-1zM424 205h1v3h-1zM378 208h2v4h-2zM409 208h1v4h-1zM413 208h1v4h-1zM419 208h1v4h-1zM422 208h1v4h-1zM388 212h1v4h-1zM403 212h1v4h-1zM430 212h1v4h-1zM406 216h1v3h-1zM453 216h1v3h-1zM459 216h2v3h-2zM463 216h3v3h-3zM475 216h1v3h-1zM434 219h1v4h-1zM441 219h1v4h-1zM454 219h3v4h-3zM461 219h1v4h-1zM469 219h2v4h-2zM472 219h1v4h-1zM474 219h1v4h-1zM485 219h1v4h-1zM438 223h1v4h-1zM482 223h1v4h-1zM423 230h1v4h-1zM425 230h1v4h-1zM478 230h1v4h-1zM359 234h1v4h-1zM401 238h1v3h-1zM480 238h1v3h-1zM371 241h2v4h-2zM376 241h1v4h-1zM383 241h4v4h-4zM388 241h2v4h-2zM403 241h2v4h-2zM407 241h1v4h-1zM409 241h1v4h-1zM411 241h1v4h-1zM415 241h1v4h-1zM418 241h2v4h-2zM429 241h1v4h-1zM432 241h1v4h-1zM479 241h1v4h-1zM311 245h1v3h-1zM359 245h1v3h-1zM376 245h1v3h-1zM418 245h1v3h-1zM428 245h1v3h-1zM430 245h1v3h-1zM328 248h2v4h-2zM479 248h1v4h-1zM328 252h2v4h-2zM359 252h1v4h-1zM479 256h1v3h-1zM328 259h2v4h-2zM359 259h2v4h-2z"/>
<path fill="#ff4600" d="M400 183h1v4h-1zM441 183h1v4h-1zM454 183h1v4h-1zM457 183h1v4h-1zM443 187h1v3h-1zM445 187h1v3h-1zM448 187h1v3h-1zM459 187h2v3h-2zM473 187h1v3h-1zM399 194h1v3h-1zM438 194h1v3h-1zM478 194h1v3h-1zM426 197h1v4h-1zM399 201h1v4h-1zM429 201h1v4h-1zM429 205h1v3h-1zM437 205h1v3h-1zM377 208h1v4h-1zM382 208h1v4h-1zM386 208h1v4h-1zM391 208h1v4h-1zM394 208h1v4h-1zM396 208h3v4h-3zM412 208h1v4h-1zM417 208h1v4h-1zM423 208h1v4h-1zM380 212h1v4h-1zM402 212h1v4h-1zM408 212h1v4h-1zM416 212h1v4h-1zM407 216h1v3h-1zM443 216h2v3h-2zM448 216h1v3h-1zM451 216h2v3h-2zM471 216h1v3h-1zM485 216h1v3h-1zM447 219h1v4h-1zM457 219h1v4h-1zM467 219h2v4h-2zM476 219h1v4h-1zM484 219h1v4h-1zM486 219h1v4h-1zM481 227h1v3h-1zM380 230h1v4h-1zM479 234h1v4h-1zM371 238h1v3h-1zM404 238h1v3h-1zM436 238h2v3h-2zM377 241h1v4h-1zM379 241h1v4h-1zM391 241h1v4h-1zM393 241h2v4h-2zM396 241h1v4h-1zM405 241h1v4h-1zM410 241h1v4h-1zM417 241h1v4h-1zM428 241h1v4h-1zM430 241h2v4h-2zM480 241h1v4h-1zM311 248h1v4h-1zM311 252h1v4h-1zM328 256h2v3h-2zM311 259h1v4h-1z"/>
<path fill="#ff3d00" d="M399 183h1v4h-1zM399 187h1v3h-1zM442 187h1v3h-1zM446 187h1v3h-1zM449 187h1v3h-1zM451 187h1v3h-1zM453 187h1v3h-1zM458 187h1v3h-1zM462 187h4v3h-4zM471 187h1v3h-1zM474 187h3v3h-3zM485 187h1v3h-1zM399 190h1v4h-1zM400 194h1v3h-1zM481 194h1v3h-1zM399 197h1v4h-1zM479 197h2v4h-2zM425 201h1v4h-1zM399 205h2v3h-2zM425 205h1v3h-1zM376 208h1v4h-1zM383 208h3v4h-3zM393 208h1v4h-1zM399 208h1v4h-1zM401 208h1v4h-1zM410 208h1v4h-1zM425 208h1v4h-1zM429 208h1v4h-1zM437 208h1v4h-1zM381 212h1v4h-1zM387 212h1v4h-1zM389 212h1v4h-1zM414 212h1v4h-1zM435 216h1v3h-1zM440 216h3v3h-3zM445 216h2v3h-2zM449 216h2v3h-2zM454 216h1v3h-1zM458 216h1v3h-1zM461 216h2v3h-2zM466 216h1v3h-1zM468 216h3v3h-3zM473 216h2v3h-2zM484 216h1v3h-1zM404 219h1v4h-1zM431 219h1v4h-1zM439 219h1v4h-1zM477 219h1v4h-1zM483 219h1v4h-1zM432 223h2v4h-2zM380 227h1v3h-1zM478 227h1v3h-1zM381 230h1v4h-1zM381 234h1v4h-1zM373 238h3v3h-3zM378 238h1v3h-1zM384 238h1v3h-1zM387 238h1v3h-1zM392 238h1v3h-1zM397 238h1v3h-1zM402 238h1v3h-1zM407 238h3v3h-3zM411 238h1v3h-1zM413 238h2v3h-2zM420 238h1v3h-1zM429 238h1v3h-1zM435 238h1v3h-1zM479 238h1v3h-1zM382 241h1v4h-1z"/>
<path fill="#ff3300" d="M400 187h1v3h-1zM440 187h1v3h-1zM447 187h1v3h-1zM450 187h1v3h-1zM452 187h1v3h-1zM455 187h1v3h-1zM457 187h1v3h-1zM461 187h1v3h-1zM466 187h3v3h-3zM470 187h1v3h-1zM472 187h1v3h-1zM400 190h1v4h-1zM482 194h1v3h-1zM400 197h1v4h-1zM427 197h2v4h-2zM438 197h1v4h-1zM400 201h1v4h-1zM426 201h1v4h-1zM426 205h1v3h-1zM400 208h1v4h-1zM418 208h1v4h-1zM424 208h1v4h-1zM374 212h2v4h-2zM390 212h1v4h-1zM392 212h1v4h-1zM395 212h1v4h-1zM409 212h1v4h-1zM413 212h1v4h-1zM415 212h1v4h-1zM417 212h1v4h-1zM421 212h1v4h-1zM443 212h1v4h-1zM459 212h1v4h-1zM475 212h1v4h-1zM380 216h1v3h-1zM403 216h1v3h-1zM455 216h3v3h-3zM467 216h1v3h-1zM472 216h1v3h-1zM405 219h1v4h-1zM438 219h1v4h-1zM482 219h1v4h-1zM478 223h1v4h-1zM481 223h1v4h-1zM381 227h1v3h-1zM423 227h1v3h-1zM437 227h1v3h-1zM437 230h1v4h-1zM479 230h2v4h-2zM398 234h1v4h-1zM480 234h1v4h-1zM372 238h1v3h-1zM382 238h1v3h-1zM386 238h1v3h-1zM388 238h4v3h-4zM394 238h2v3h-2zM403 238h1v3h-1zM410 238h1v3h-1zM412 238h1v3h-1zM417 238h1v3h-1zM419 238h1v3h-1zM421 238h2v3h-2zM426 238h2v3h-2zM432 238h3v3h-3z"/>
<path fill="#ff2a00" d="M441 187h1v3h-1zM454 187h1v3h-1zM456 187h1v3h-1zM469 187h1v3h-1zM484 187h1v3h-1zM486 187h1v3h-1zM439 190h1v4h-1zM443 190h1v4h-1zM453 190h1v4h-1zM458 190h3v4h-3zM483 190h1v4h-1zM477 194h1v3h-1zM428 201h1v4h-1zM438 201h1v4h-1zM427 205h1v3h-1zM426 208h2v4h-2zM373 212h1v4h-1zM379 212h1v4h-1zM382 212h3v4h-3zM397 212h1v4h-1zM399 212h1v4h-1zM411 212h1v4h-1zM420 212h1v4h-1zM426 212h1v4h-1zM429 212h1v4h-1zM436 212h2v4h-2zM444 212h1v4h-1zM453 212h1v4h-1zM460 212h1v4h-1zM463 212h1v4h-1zM465 212h1v4h-1zM387 216h1v3h-1zM389 216h1v3h-1zM402 216h1v3h-1zM414 216h1v3h-1zM430 216h1v3h-1zM439 216h1v3h-1zM447 216h1v3h-1zM486 216h1v3h-1zM372 219h1v4h-1zM406 219h1v4h-1zM435 219h1v4h-1zM380 223h1v4h-1zM434 223h1v4h-1zM480 223h1v4h-1zM375 227h1v3h-1zM425 227h1v3h-1zM436 227h1v3h-1zM479 227h2v3h-2zM401 234h1v4h-1zM420 234h1v4h-1zM437 234h1v4h-1zM376 238h2v3h-2zM379 238h1v3h-1zM383 238h1v3h-1zM393 238h1v3h-1zM396 238h1v3h-1zM405 238h2v3h-2zM415 238h2v3h-2zM428 238h1v3h-1zM431 238h1v3h-1z"/>
<path fill="#ff2000" d="M444 190h3v4h-3zM449 190h4v4h-4zM463 190h4v4h-4zM471 190h1v4h-1zM473 190h4v4h-4zM485 190h1v4h-1zM477 197h2v4h-2zM481 197h1v4h-1zM427 201h1v4h-1zM428 205h1v3h-1zM438 205h1v3h-1zM428 208h1v4h-1zM438 208h1v4h-1zM377 212h2v4h-2zM386 212h1v4h-1zM391 212h1v4h-1zM393 212h2v4h-2zM401 212h1v4h-1zM410 212h1v4h-1zM412 212h1v4h-1zM418 212h2v4h-2zM422 212h1v4h-1zM425 212h1v4h-1zM427 212h1v4h-1zM440 212h1v4h-1zM445 212h2v4h-2zM448 212h3v4h-3zM456 212h1v4h-1zM458 212h1v4h-1zM462 212h1v4h-1zM464 212h1v4h-1zM471 212h3v4h-3zM480 212h1v4h-1zM485 212h1v4h-1zM375 216h1v3h-1zM381 216h1v3h-1zM388 216h1v3h-1zM390 216h1v3h-1zM392 216h1v3h-1zM408 216h1v3h-1zM412 216h2v3h-2zM416 216h1v3h-1zM421 216h1v3h-1zM426 216h1v3h-1zM429 216h1v3h-1zM438 216h1v3h-1zM476 216h2v3h-2zM479 216h2v3h-2zM482 216h2v3h-2zM374 219h1v4h-1zM397 219h1v4h-1zM403 219h1v4h-1zM407 219h1v4h-1zM409 219h1v4h-1zM420 219h1v4h-1zM429 219h1v4h-1zM436 219h1v4h-1zM479 219h3v4h-3zM381 223h1v4h-1zM387 223h1v4h-1zM395 223h1v4h-1zM397 223h1v4h-1zM404 223h1v4h-1zM411 223h1v4h-1zM421 223h1v4h-1zM436 223h2v4h-2zM479 223h1v4h-1zM374 227h1v3h-1zM387 227h1v3h-1zM395 227h1v3h-1zM407 227h2v3h-2zM432 227h4v3h-4zM387 230h1v4h-1zM390 230h1v4h-1zM409 230h1v4h-1zM413 230h1v4h-1zM421 230h1v4h-1zM433 230h2v4h-2zM436 230h1v4h-1zM387 234h1v4h-1zM402 234h1v4h-1zM406 234h1v4h-1zM411 234h1v4h-1zM414 234h1v4h-1zM421 234h1v4h-1zM435 234h2v4h-2zM385 238h1v3h-1zM418 238h1v3h-1zM430 238h1v3h-1z"/>
<path fill="#ff1600" d="M442 190h1v4h-1zM447 190h2v4h-2zM454 190h1v4h-1zM456 190h1v4h-1zM462 190h1v4h-1zM467 190h1v4h-1zM469 190h2v4h-2zM472 190h1v4h-1zM484 190h1v4h-1zM475 194h1v3h-1zM483 194h1v3h-1zM479 201h1v4h-1zM376 212h1v4h-1zM385 212h1v4h-1zM396 212h1v4h-1zM398 212h1v4h-1zM400 212h1v4h-1zM423 212h1v4h-1zM428 212h1v4h-1zM438 212h2v4h-2zM442 212h1v4h-1zM447 212h1v4h-1zM451 212h2v4h-2zM466 212h1v4h-1zM468 212h2v4h-2zM474 212h1v4h-1zM479 212h1v4h-1zM374 216h1v3h-1zM378 216h1v3h-1zM384 216h1v3h-1zM391 216h1v3h-1zM395 216h1v3h-1zM397 216h1v3h-1zM409 216h1v3h-1zM411 216h1v3h-1zM415 216h1v3h-1zM417 216h1v3h-1zM419 216h2v3h-2zM422 216h1v3h-1zM436 216h1v3h-1zM375 219h1v4h-1zM380 219h2v4h-2zM387 219h1v4h-1zM392 219h1v4h-1zM395 219h1v4h-1zM399 219h1v4h-1zM408 219h1v4h-1zM411 219h2v4h-2zM414 219h1v4h-1zM419 219h1v4h-1zM422 219h1v4h-1zM437 219h1v4h-1zM478 219h1v4h-1zM372 223h4v4h-4zM388 223h2v4h-2zM392 223h1v4h-1zM402 223h2v4h-2zM405 223h5v4h-5zM412 223h5v4h-5zM419 223h2v4h-2zM422 223h1v4h-1zM426 223h1v4h-1zM429 223h1v4h-1zM431 223h1v4h-1zM435 223h1v4h-1zM373 227h1v3h-1zM388 227h1v3h-1zM392 227h1v3h-1zM397 227h1v3h-1zM404 227h3v3h-3zM409 227h1v3h-1zM411 227h4v3h-4zM420 227h2v3h-2zM426 227h1v3h-1zM429 227h1v3h-1zM374 230h2v4h-2zM378 230h1v4h-1zM388 230h1v4h-1zM391 230h2v4h-2zM395 230h1v4h-1zM397 230h1v4h-1zM402 230h1v4h-1zM404 230h1v4h-1zM408 230h1v4h-1zM411 230h1v4h-1zM416 230h2v4h-2zM419 230h2v4h-2zM426 230h1v4h-1zM429 230h1v4h-1zM435 230h1v4h-1zM373 234h3v4h-3zM378 234h1v4h-1zM389 234h1v4h-1zM392 234h1v4h-1zM395 234h1v4h-1zM397 234h1v4h-1zM403 234h3v4h-3zM407 234h1v4h-1zM409 234h1v4h-1zM412 234h2v4h-2zM417 234h1v4h-1zM426 234h1v4h-1zM429 234h1v4h-1zM433 234h2v4h-2z"/>
<path fill="#fd0f00" d="M440 190h2v4h-2zM455 190h1v4h-1zM457 190h1v4h-1zM461 190h1v4h-1zM468 190h1v4h-1zM486 190h1v4h-1zM439 194h1v3h-1zM442 194h1v3h-1zM444 194h2v3h-2zM448 194h2v3h-2zM451 194h1v3h-1zM453 194h1v3h-1zM460 194h1v3h-1zM463 194h1v3h-1zM471 194h1v3h-1zM482 197h1v4h-1zM480 201h1v4h-1zM459 208h1v4h-1zM424 212h1v4h-1zM441 212h1v4h-1zM454 212h2v4h-2zM457 212h1v4h-1zM461 212h1v4h-1zM467 212h1v4h-1zM470 212h1v4h-1zM484 212h1v4h-1zM486 212h1v4h-1zM373 216h1v3h-1zM377 216h1v3h-1zM379 216h1v3h-1zM382 216h2v3h-2zM385 216h1v3h-1zM393 216h1v3h-1zM396 216h1v3h-1zM398 216h2v3h-2zM423 216h1v3h-1zM425 216h1v3h-1zM427 216h1v3h-1zM437 216h1v3h-1zM478 216h1v3h-1zM481 216h1v3h-1zM373 219h1v4h-1zM377 219h3v4h-3zM384 219h1v4h-1zM388 219h3v4h-3zM393 219h2v4h-2zM401 219h2v4h-2zM410 219h1v4h-1zM413 219h1v4h-1zM415 219h4v4h-4zM421 219h1v4h-1zM425 219h3v4h-3zM430 219h1v4h-1zM377 223h2v4h-2zM384 223h1v4h-1zM390 223h2v4h-2zM393 223h2v4h-2zM396 223h1v4h-1zM410 223h1v4h-1zM417 223h2v4h-2zM423 223h1v4h-1zM427 223h1v4h-1zM430 223h1v4h-1zM372 227h1v3h-1zM376 227h3v3h-3zM382 227h3v3h-3zM389 227h2v3h-2zM393 227h2v3h-2zM396 227h1v3h-1zM398 227h1v3h-1zM402 227h1v3h-1zM415 227h3v3h-3zM419 227h1v3h-1zM422 227h1v3h-1zM427 227h1v3h-1zM372 230h2v4h-2zM377 230h1v4h-1zM379 230h1v4h-1zM384 230h1v4h-1zM389 230h1v4h-1zM393 230h1v4h-1zM396 230h1v4h-1zM398 230h1v4h-1zM401 230h1v4h-1zM403 230h1v4h-1zM406 230h2v4h-2zM412 230h1v4h-1zM414 230h2v4h-2zM422 230h1v4h-1zM427 230h2v4h-2zM430 230h1v4h-1zM432 230h1v4h-1zM372 234h1v4h-1zM377 234h1v4h-1zM379 234h1v4h-1zM383 234h3v4h-3zM388 234h1v4h-1zM390 234h2v4h-2zM396 234h1v4h-1zM408 234h1v4h-1zM415 234h2v4h-2zM419 234h1v4h-1zM427 234h1v4h-1zM431 234h2v4h-2z"/>
<path fill="#f60b00" d="M440 194h1v3h-1zM443 194h1v3h-1zM452 194h1v3h-1zM455 194h2v3h-2zM458 194h2v3h-2zM464 194h2v3h-2zM469 194h2v3h-2zM473 194h2v3h-2zM476 194h1v3h-1zM485 194h1v3h-1zM479 205h2v3h-2zM444 208h1v4h-1zM449 208h1v4h-1zM460 208h1v4h-1zM463 208h3v4h-3zM473 208h1v4h-1zM477 212h2v4h-2zM481 212h1v4h-1zM386 216h1v3h-1zM394 216h1v3h-1zM400 216h2v3h-2zM410 216h1v3h-1zM424 216h1v3h-1zM376 219h1v4h-1zM382 219h2v4h-2zM385 219h2v4h-2zM391 219h1v4h-1zM396 219h1v4h-1zM398 219h1v4h-1zM400 219h1v4h-1zM423 219h2v4h-2zM428 219h1v4h-1zM376 223h1v4h-1zM379 223h1v4h-1zM382 223h2v4h-2zM385 223h2v4h-2zM398 223h1v4h-1zM401 223h1v4h-1zM424 223h2v4h-2zM428 223h1v4h-1zM379 227h1v3h-1zM385 227h2v3h-2zM391 227h1v3h-1zM401 227h1v3h-1zM403 227h1v3h-1zM410 227h1v3h-1zM418 227h1v3h-1zM428 227h1v3h-1zM430 227h2v3h-2zM376 230h1v4h-1zM383 230h1v4h-1zM385 230h2v4h-2zM394 230h1v4h-1zM405 230h1v4h-1zM410 230h1v4h-1zM418 230h1v4h-1zM431 230h1v4h-1zM382 234h1v4h-1zM386 234h1v4h-1zM393 234h2v4h-2zM410 234h1v4h-1zM418 234h1v4h-1zM422 234h1v4h-1zM428 234h1v4h-1zM430 234h1v4h-1z"/>
<path fill="#f00800" d="M446 194h1v3h-1zM450 194h1v3h-1zM454 194h1v3h-1zM462 194h1v3h-1zM466 194h2v3h-2zM472 194h1v3h-1zM486 194h1v3h-1zM439 197h1v4h-1zM443 197h2v4h-2zM459 197h1v4h-1zM464 197h2v4h-2zM471 197h1v4h-1zM473 197h1v4h-1zM475 197h1v4h-1zM483 197h1v4h-1zM475 201h1v4h-1zM477 201h2v4h-2zM481 201h1v4h-1zM444 205h1v3h-1zM475 205h1v3h-1zM439 208h2v4h-2zM442 208h2v4h-2zM448 208h1v4h-1zM451 208h1v4h-1zM453 208h1v4h-1zM458 208h1v4h-1zM462 208h1v4h-1zM466 208h1v4h-1zM471 208h1v4h-1zM474 208h2v4h-2zM485 208h1v4h-1zM482 212h2v4h-2zM376 216h1v3h-1zM418 216h1v3h-1zM428 216h1v3h-1zM382 230h1v4h-1zM376 234h1v4h-1z"/>
<path fill="#e90500" d="M441 194h1v3h-1zM447 194h1v3h-1zM457 194h1v3h-1zM461 194h1v3h-1zM468 194h1v3h-1zM484 194h1v3h-1zM442 197h1v4h-1zM446 197h1v4h-1zM452 197h2v4h-2zM476 197h1v4h-1zM439 201h1v4h-1zM443 201h1v4h-1zM448 201h1v4h-1zM459 201h2v4h-2zM464 201h1v4h-1zM482 201h1v4h-1zM439 205h1v3h-1zM443 205h1v3h-1zM445 205h1v3h-1zM449 205h1v3h-1zM459 205h1v3h-1zM463 205h2v3h-2zM466 205h1v3h-1zM471 205h1v3h-1zM482 205h1v3h-1zM445 208h2v4h-2zM450 208h1v4h-1zM452 208h1v4h-1zM456 208h1v4h-1zM461 208h1v4h-1zM472 208h1v4h-1zM477 208h1v4h-1zM484 208h1v4h-1zM476 212h1v4h-1z"/>
<path fill="#e30100" d="M440 197h1v4h-1zM445 197h1v4h-1zM448 197h2v4h-2zM451 197h1v4h-1zM454 197h1v4h-1zM456 197h1v4h-1zM458 197h1v4h-1zM460 197h1v4h-1zM462 197h2v4h-2zM466 197h1v4h-1zM469 197h2v4h-2zM472 197h1v4h-1zM474 197h1v4h-1zM485 197h1v4h-1zM444 201h1v4h-1zM449 201h1v4h-1zM451 201h3v4h-3zM456 201h1v4h-1zM458 201h1v4h-1zM462 201h2v4h-2zM465 201h2v4h-2zM471 201h3v4h-3zM485 201h1v4h-1zM446 205h1v3h-1zM448 205h1v3h-1zM451 205h1v3h-1zM453 205h1v3h-1zM456 205h1v3h-1zM460 205h1v3h-1zM465 205h1v3h-1zM470 205h1v3h-1zM473 205h2v3h-2zM477 205h2v3h-2zM481 205h1v3h-1zM441 208h1v4h-1zM454 208h1v4h-1zM457 208h1v4h-1zM467 208h4v4h-4zM478 208h3v4h-3zM486 208h1v4h-1z"/>
<path fill="#d80000" d="M441 197h1v4h-1zM447 197h1v4h-1zM450 197h1v4h-1zM457 197h1v4h-1zM461 197h1v4h-1zM468 197h1v4h-1zM484 197h1v4h-1zM486 197h1v4h-1zM440 201h1v4h-1zM442 201h1v4h-1zM445 201h3v4h-3zM450 201h1v4h-1zM454 201h1v4h-1zM457 201h1v4h-1zM467 201h1v4h-1zM474 201h1v4h-1zM476 201h1v4h-1zM483 201h1v4h-1zM486 201h1v4h-1zM440 205h3v3h-3zM450 205h1v3h-1zM452 205h1v3h-1zM457 205h2v3h-2zM461 205h2v3h-2zM468 205h2v3h-2zM472 205h1v3h-1zM483 205h3v3h-3zM447 208h1v4h-1zM455 208h1v4h-1zM481 208h3v4h-3z"/>
<path fill="#ca0000" d="M455 197h1v4h-1zM467 197h1v4h-1zM441 201h1v4h-1zM455 201h1v4h-1zM461 201h1v4h-1zM468 201h3v4h-3zM484 201h1v4h-1zM447 205h1v3h-1zM454 205h2v3h-2zM467 205h1v3h-1zM476 205h1v3h-1zM486 205h1v3h-1zM476 208h1v4h-1z"/>
<path fill="#000dfa" d="M477 496h1v4h-1zM477 500h1v3h-1zM397 503h1v4h-1zM452 503h1v4h-1z"/>
<path fill="#0010fe" d="M472 489h1v3h-1zM477 489h1v3h-1zM451 492h1v4h-1zM474 492h1v4h-1zM477 492h1v4h-1zM451 496h1v4h-1zM461 500h2v3h-2zM479 500h2v3h-2zM377 503h1v4h-1zM412 503h1v4h-1zM416 503h2v4h-2z"/>
<path fill="#0018ff" d="M442 489h1v3h-1zM474 489h1v3h-1zM483 492h1v4h-1zM485 492h1v4h-1zM480 496h1v4h-1zM485 496h1v4h-1zM382 500h1v3h-1zM402 500h1v3h-1zM409 500h1v3h-1zM426 500h1v3h-1zM433 500h1v3h-1zM439 500h1v3h-1zM459 500h2v3h-2zM472 500h1v3h-1zM482 500h1v3h-1zM484 500h1v3h-1zM383 503h1v4h-1zM387 503h2v4h-2zM395 503h1v4h-1zM407 503h1v4h-1zM433 503h1v4h-1zM439 503h1v4h-1zM441 503h1v4h-1zM444 503h1v4h-1zM449 503h1v4h-1zM451 503h1v4h-1zM454 503h1v4h-1zM460 503h4v4h-4zM479 503h1v4h-1z"/>
<path fill="#0021ff" d="M460 485h1v4h-1zM459 489h2v3h-2zM462 489h1v3h-1zM466 489h1v3h-1zM471 489h1v3h-1zM473 489h1v3h-1zM483 489h2v3h-2zM444 492h1v4h-1zM449 492h1v4h-1zM460 492h3v4h-3zM478 492h1v4h-1zM482 492h1v4h-1zM484 492h1v4h-1zM404 496h1v4h-1zM439 496h1v4h-1zM442 496h1v4h-1zM450 496h1v4h-1zM456 496h1v4h-1zM467 496h1v4h-1zM475 496h1v4h-1zM377 500h1v3h-1zM390 500h1v3h-1zM397 500h1v3h-1zM399 500h1v3h-1zM404 500h1v3h-1zM422 500h1v3h-1zM427 500h1v3h-1zM434 500h1v3h-1zM438 500h1v3h-1zM441 500h1v3h-1zM444 500h1v3h-1zM451 500h1v3h-1zM455 500h1v3h-1zM464 500h1v3h-1zM467 500h1v3h-1zM379 503h2v4h-2zM389 503h2v4h-2zM402 503h2v4h-2zM408 503h1v4h-1zM414 503h1v4h-1zM421 503h1v4h-1zM424 503h1v4h-1zM426 503h1v4h-1zM429 503h1v4h-1zM432 503h1v4h-1zM434 503h1v4h-1zM437 503h1v4h-1zM443 503h1v4h-1zM447 503h1v4h-1zM465 503h1v4h-1zM475 503h1v4h-1zM481 503h1v4h-1zM485 503h1v4h-1z"/>
<path fill="#002aff" d="M460 482h1v3h-1zM484 482h1v3h-1zM452 485h1v4h-1zM472 485h1v4h-1zM474 485h1v4h-1zM484 485h2v4h-2zM448 489h2v3h-2zM452 489h2v3h-2zM455 489h1v3h-1zM469 489h1v3h-1zM476 489h1v3h-1zM439 492h1v4h-1zM459 492h1v4h-1zM415 496h1v4h-1zM440 496h1v4h-1zM449 496h1v4h-1zM458 496h3v4h-3zM465 496h1v4h-1zM468 496h1v4h-1zM470 496h1v4h-1zM481 496h1v4h-1zM376 500h1v3h-1zM398 500h1v3h-1zM403 500h1v3h-1zM405 500h1v3h-1zM408 500h1v3h-1zM412 500h1v3h-1zM423 500h2v3h-2zM448 500h2v3h-2zM452 500h1v3h-1zM465 500h1v3h-1zM471 500h1v3h-1zM478 500h1v3h-1zM481 500h1v3h-1zM486 500h1v3h-1zM375 503h1v4h-1zM378 503h1v4h-1zM382 503h1v4h-1zM386 503h1v4h-1zM393 503h2v4h-2zM398 503h1v4h-1zM404 503h1v4h-1zM415 503h1v4h-1zM420 503h1v4h-1zM422 503h1v4h-1zM427 503h1v4h-1zM450 503h1v4h-1zM456 503h1v4h-1zM466 503h1v4h-1zM482 503h1v4h-1zM484 503h1v4h-1z"/>
<path fill="#0033ff" d="M442 482h1v3h-1zM451 482h2v3h-2zM456 482h1v3h-1zM461 482h1v3h-1zM472 482h1v3h-1zM475 482h1v3h-1zM477 482h1v3h-1zM446 485h1v4h-1zM451 485h1v4h-1zM453 485h1v4h-1zM459 485h1v4h-1zM461 485h1v4h-1zM469 485h1v4h-1zM473 485h1v4h-1zM477 485h1v4h-1zM483 485h1v4h-1zM440 489h1v3h-1zM445 489h1v3h-1zM451 489h1v3h-1zM458 489h1v3h-1zM463 489h1v3h-1zM467 489h1v3h-1zM475 489h1v3h-1zM482 489h1v3h-1zM438 492h1v4h-1zM442 492h2v4h-2zM445 492h1v4h-1zM448 492h1v4h-1zM453 492h1v4h-1zM464 492h3v4h-3zM468 492h2v4h-2zM475 492h2v4h-2zM481 492h1v4h-1zM486 492h1v4h-1zM396 496h1v4h-1zM398 496h3v4h-3zM402 496h1v4h-1zM407 496h1v4h-1zM431 496h1v4h-1zM438 496h1v4h-1zM443 496h1v4h-1zM445 496h2v4h-2zM452 496h1v4h-1zM461 496h1v4h-1zM474 496h1v4h-1zM478 496h2v4h-2zM482 496h3v4h-3zM383 500h4v3h-4zM388 500h1v3h-1zM410 500h2v3h-2zM446 500h1v3h-1zM475 500h1v3h-1zM485 500h1v3h-1zM392 503h1v4h-1zM396 503h1v4h-1zM400 503h1v4h-1zM406 503h1v4h-1zM409 503h3v4h-3zM418 503h1v4h-1zM431 503h1v4h-1zM436 503h1v4h-1zM448 503h1v4h-1zM459 503h1v4h-1zM470 503h2v4h-2zM474 503h1v4h-1zM477 503h1v4h-1z"/>
<path fill="#003cff" d="M443 482h1v3h-1zM454 482h1v3h-1zM459 482h1v3h-1zM463 482h2v3h-2zM483 482h1v3h-1zM485 482h1v3h-1zM440 485h1v4h-1zM442 485h4v4h-4zM447 485h1v4h-1zM454 485h3v4h-3zM458 485h1v4h-1zM462 485h1v4h-1zM465 485h1v4h-1zM468 485h1v4h-1zM471 485h1v4h-1zM475 485h2v4h-2zM478 485h1v4h-1zM482 485h1v4h-1zM486 485h1v4h-1zM446 489h2v3h-2zM454 489h1v3h-1zM470 489h1v3h-1zM397 492h1v4h-1zM452 492h1v4h-1zM458 492h1v4h-1zM471 492h2v4h-2zM377 496h1v4h-1zM380 496h1v4h-1zM387 496h2v4h-2zM395 496h1v4h-1zM416 496h2v4h-2zM423 496h1v4h-1zM426 496h1v4h-1zM428 496h1v4h-1zM437 496h1v4h-1zM441 496h1v4h-1zM447 496h2v4h-2zM454 496h2v4h-2zM463 496h1v4h-1zM469 496h1v4h-1zM472 496h1v4h-1zM378 500h2v3h-2zM389 500h1v3h-1zM391 500h1v3h-1zM400 500h1v3h-1zM417 500h1v3h-1zM419 500h1v3h-1zM425 500h1v3h-1zM430 500h1v3h-1zM432 500h1v3h-1zM437 500h1v3h-1zM440 500h1v3h-1zM443 500h1v3h-1zM445 500h1v3h-1zM450 500h1v3h-1zM453 500h2v3h-2zM458 500h1v3h-1zM466 500h1v3h-1zM468 500h1v3h-1zM470 500h1v3h-1zM474 500h1v3h-1zM483 500h1v3h-1zM381 503h1v4h-1zM391 503h1v4h-1zM405 503h1v4h-1zM413 503h1v4h-1zM419 503h1v4h-1zM423 503h1v4h-1zM428 503h1v4h-1zM440 503h1v4h-1zM442 503h1v4h-1zM453 503h1v4h-1zM455 503h1v4h-1zM464 503h1v4h-1zM469 503h1v4h-1zM472 503h2v4h-2zM478 503h1v4h-1zM480 503h1v4h-1zM483 503h1v4h-1zM486 503h1v4h-1z"/>
<path fill="#0045ff" d="M272 460h2v3h-2zM273 474h1v4h-1zM272 478h1v4h-1zM399 482h1v3h-1zM440 482h1v3h-1zM444 482h1v3h-1zM449 482h1v3h-1zM453 482h1v3h-1zM455 482h1v3h-1zM458 482h1v3h-1zM462 482h1v3h-1zM466 482h1v3h-1zM469 482h1v3h-1zM473 482h2v3h-2zM476 482h1v3h-1zM399 485h1v4h-1zM441 485h1v4h-1zM448 485h3v4h-3zM457 485h1v4h-1zM463 485h1v4h-1zM466 485h2v4h-2zM439 489h1v3h-1zM443 489h2v3h-2zM461 489h1v3h-1zM465 489h1v3h-1zM468 489h1v3h-1zM377 492h1v4h-1zM398 492h1v4h-1zM407 492h1v4h-1zM416 492h1v4h-1zM422 492h2v4h-2zM446 492h2v4h-2zM450 492h1v4h-1zM455 492h3v4h-3zM376 496h1v4h-1zM381 496h1v4h-1zM384 496h1v4h-1zM414 496h1v4h-1zM419 496h1v4h-1zM435 496h2v4h-2zM444 496h1v4h-1zM453 496h1v4h-1zM462 496h1v4h-1zM464 496h1v4h-1zM471 496h1v4h-1zM473 496h1v4h-1zM486 496h1v4h-1zM387 500h1v3h-1zM394 500h2v3h-2zM407 500h1v3h-1zM416 500h1v3h-1zM418 500h1v3h-1zM431 500h1v3h-1zM442 500h1v3h-1zM447 500h1v3h-1zM456 500h2v3h-2zM463 500h1v3h-1zM469 500h1v3h-1zM473 500h1v3h-1zM476 500h1v3h-1zM376 503h1v4h-1zM384 503h1v4h-1zM399 503h1v4h-1zM401 503h1v4h-1zM430 503h1v4h-1zM435 503h1v4h-1zM438 503h1v4h-1zM445 503h2v4h-2zM467 503h2v4h-2zM476 503h1v4h-1z"/>
<path fill="#004eff" d="M370 390h1v4h-1zM264 452h1v4h-1zM289 452h1v4h-1zM272 456h1v4h-1zM283 456h1v4h-1zM291 456h1v4h-1zM294 456h1v4h-1zM278 460h1v3h-1zM289 460h1v3h-1zM291 460h1v3h-1zM272 463h2v4h-2zM277 463h1v4h-1zM291 463h1v4h-1zM273 467h1v4h-1zM277 467h1v4h-1zM272 471h1v3h-1zM272 474h1v4h-1zM289 474h1v4h-1zM289 478h1v4h-1zM291 478h1v4h-1zM452 478h1v4h-1zM460 478h1v4h-1zM462 478h1v4h-1zM272 482h1v3h-1zM278 482h1v3h-1zM294 482h1v3h-1zM441 482h1v3h-1zM445 482h4v3h-4zM450 482h1v3h-1zM457 482h1v3h-1zM470 482h2v3h-2zM486 482h1v3h-1zM464 485h1v4h-1zM470 485h1v4h-1zM456 489h1v3h-1zM464 489h1v3h-1zM478 489h1v3h-1zM485 489h1v3h-1zM386 492h2v4h-2zM389 492h2v4h-2zM399 492h1v4h-1zM417 492h1v4h-1zM424 492h1v4h-1zM426 492h1v4h-1zM440 492h1v4h-1zM463 492h1v4h-1zM467 492h1v4h-1zM473 492h1v4h-1zM390 496h1v4h-1zM393 496h1v4h-1zM401 496h1v4h-1zM403 496h1v4h-1zM405 496h1v4h-1zM408 496h1v4h-1zM427 496h1v4h-1zM432 496h2v4h-2zM457 496h1v4h-1zM466 496h1v4h-1zM375 500h1v3h-1zM381 500h1v3h-1zM392 500h2v3h-2zM401 500h1v3h-1zM414 500h1v3h-1zM420 500h1v3h-1zM435 500h2v3h-2zM385 503h1v4h-1zM425 503h1v4h-1zM457 503h2v4h-2z"/>
<path fill="#0058f8" d="M316 390h1v4h-1zM371 390h1v4h-1zM361 394h1v4h-1zM366 394h1v4h-1zM272 416h1v4h-1zM273 431h1v3h-1zM270 452h1v4h-1zM273 452h2v4h-2zM277 452h1v4h-1zM279 452h1v4h-1zM281 452h2v4h-2zM291 452h1v4h-1zM294 452h1v4h-1zM259 456h1v4h-1zM265 456h1v4h-1zM270 456h1v4h-1zM273 456h3v4h-3zM277 456h1v4h-1zM281 456h1v4h-1zM289 456h2v4h-2zM296 456h1v4h-1zM264 460h2v3h-2zM283 460h1v3h-1zM294 460h1v3h-1zM264 463h1v4h-1zM270 463h1v4h-1zM274 463h2v4h-2zM278 463h2v4h-2zM282 463h2v4h-2zM288 463h2v4h-2zM297 463h1v4h-1zM265 467h1v4h-1zM267 467h1v4h-1zM270 467h1v4h-1zM272 467h1v4h-1zM283 467h1v4h-1zM289 467h1v4h-1zM296 467h1v4h-1zM274 471h2v3h-2zM278 471h1v3h-1zM283 471h1v3h-1zM289 471h1v3h-1zM291 471h1v3h-1zM296 471h1v3h-1zM259 474h1v4h-1zM270 474h1v4h-1zM279 474h1v4h-1zM282 474h2v4h-2zM288 474h1v4h-1zM291 474h1v4h-1zM423 474h1v4h-1zM259 478h1v4h-1zM263 478h1v4h-1zM265 478h1v4h-1zM267 478h1v4h-1zM270 478h1v4h-1zM273 478h1v4h-1zM399 478h1v4h-1zM443 478h1v4h-1zM459 478h1v4h-1zM461 478h1v4h-1zM484 478h1v4h-1zM264 482h1v3h-1zM270 482h1v3h-1zM273 482h2v3h-2zM279 482h1v3h-1zM289 482h1v3h-1zM465 482h1v3h-1zM467 482h2v3h-2zM439 485h1v4h-1zM438 489h1v3h-1zM441 489h1v3h-1zM450 489h1v3h-1zM457 489h1v3h-1zM486 489h1v3h-1zM393 492h1v4h-1zM405 492h1v4h-1zM415 492h1v4h-1zM420 492h1v4h-1zM429 492h1v4h-1zM441 492h1v4h-1zM454 492h1v4h-1zM470 492h1v4h-1zM479 492h1v4h-1zM382 496h1v4h-1zM386 496h1v4h-1zM391 496h1v4h-1zM397 496h1v4h-1zM410 496h2v4h-2zM413 496h1v4h-1zM421 496h2v4h-2zM430 496h1v4h-1zM476 496h1v4h-1zM374 500h1v3h-1zM380 500h1v3h-1zM396 500h1v3h-1zM406 500h1v3h-1zM413 500h1v3h-1zM415 500h1v3h-1zM421 500h1v3h-1zM428 500h1v3h-1z"/>
<path fill="#0062ed" d="M264 390h1v4h-1zM320 390h1v4h-1zM322 390h1v4h-1zM327 390h1v4h-1zM337 390h1v4h-1zM346 390h2v4h-2zM368 390h2v4h-2zM372 390h1v4h-1zM338 394h1v4h-1zM363 394h1v4h-1zM372 394h1v4h-1zM283 398h1v3h-1zM369 398h1v3h-1zM264 401h1v4h-1zM273 401h1v4h-1zM289 401h1v4h-1zM272 405h1v4h-1zM272 409h2v3h-2zM277 409h1v3h-1zM289 409h1v3h-1zM294 412h1v4h-1zM264 420h1v3h-1zM272 420h1v3h-1zM272 427h2v4h-2zM289 427h1v4h-1zM264 431h1v3h-1zM272 431h1v3h-1zM273 434h1v4h-1zM283 438h1v3h-1zM264 441h1v4h-1zM273 441h1v4h-1zM289 441h1v4h-1zM264 445h1v4h-1zM272 445h1v4h-1zM273 449h1v3h-1zM257 452h1v4h-1zM259 452h1v4h-1zM263 452h1v4h-1zM266 452h2v4h-2zM272 452h1v4h-1zM278 452h1v4h-1zM283 452h1v4h-1zM286 452h1v4h-1zM288 452h1v4h-1zM263 456h2v4h-2zM266 456h2v4h-2zM278 456h2v4h-2zM285 456h4v4h-4zM295 456h1v4h-1zM297 456h1v4h-1zM268 460h1v3h-1zM270 460h1v3h-1zM274 460h1v3h-1zM280 460h3v3h-3zM286 460h1v3h-1zM288 460h1v3h-1zM295 460h1v3h-1zM297 460h1v3h-1zM259 463h1v4h-1zM290 463h1v4h-1zM294 463h1v4h-1zM296 463h1v4h-1zM263 467h2v4h-2zM278 467h2v4h-2zM281 467h1v4h-1zM287 467h2v4h-2zM293 467h2v4h-2zM297 467h1v4h-1zM263 471h3v3h-3zM270 471h2v3h-2zM273 471h1v3h-1zM276 471h2v3h-2zM279 471h1v3h-1zM282 471h1v3h-1zM286 471h1v3h-1zM288 471h1v3h-1zM290 471h1v3h-1zM294 471h1v3h-1zM264 474h2v4h-2zM267 474h2v4h-2zM274 474h1v4h-1zM277 474h2v4h-2zM287 474h1v4h-1zM294 474h4v4h-4zM264 478h1v4h-1zM271 478h1v4h-1zM274 478h1v4h-1zM277 478h4v4h-4zM294 478h1v4h-1zM446 478h1v4h-1zM451 478h1v4h-1zM456 478h1v4h-1zM465 478h2v4h-2zM469 478h1v4h-1zM472 478h3v4h-3zM477 478h1v4h-1zM483 478h1v4h-1zM486 478h1v4h-1zM257 482h1v3h-1zM259 482h1v3h-1zM271 482h1v3h-1zM275 482h1v3h-1zM277 482h1v3h-1zM290 482h2v3h-2zM295 482h1v3h-1zM398 482h1v3h-1zM439 482h1v3h-1zM272 485h2v4h-2zM423 485h1v4h-1zM278 489h1v3h-1zM397 489h1v3h-1zM423 489h1v3h-1zM278 492h1v4h-1zM376 492h1v4h-1zM379 492h1v4h-1zM384 492h1v4h-1zM394 492h1v4h-1zM403 492h1v4h-1zM406 492h1v4h-1zM414 492h1v4h-1zM418 492h2v4h-2zM427 492h1v4h-1zM430 492h1v4h-1zM432 492h1v4h-1zM435 492h1v4h-1zM389 496h1v4h-1zM392 496h1v4h-1zM409 496h1v4h-1zM412 496h1v4h-1zM418 496h1v4h-1zM424 496h1v4h-1zM434 496h1v4h-1zM429 500h1v3h-1z"/>
<path fill="#006ce3" d="M263 390h1v4h-1zM270 390h1v4h-1zM272 390h2v4h-2zM283 390h1v4h-1zM289 390h1v4h-1zM297 390h1v4h-1zM324 390h2v4h-2zM330 390h1v4h-1zM335 390h2v4h-2zM339 390h1v4h-1zM350 390h1v4h-1zM353 390h1v4h-1zM361 390h1v4h-1zM363 390h2v4h-2zM366 390h2v4h-2zM259 394h1v4h-1zM263 394h2v4h-2zM272 394h3v4h-3zM279 394h1v4h-1zM319 394h1v4h-1zM327 394h1v4h-1zM364 394h1v4h-1zM368 394h2v4h-2zM263 398h1v3h-1zM270 398h1v3h-1zM277 398h3v3h-3zM282 398h1v3h-1zM296 398h1v3h-1zM364 398h1v3h-1zM366 398h1v3h-1zM370 398h2v3h-2zM263 401h1v4h-1zM265 401h1v4h-1zM270 401h1v4h-1zM272 401h1v4h-1zM275 401h1v4h-1zM278 401h1v4h-1zM283 401h1v4h-1zM291 401h1v4h-1zM264 405h1v4h-1zM279 405h1v4h-1zM288 405h1v4h-1zM291 405h1v4h-1zM264 409h2v3h-2zM270 409h1v3h-1zM279 409h1v3h-1zM288 409h1v3h-1zM296 409h1v3h-1zM270 412h1v4h-1zM272 412h1v4h-1zM277 412h1v4h-1zM283 412h1v4h-1zM286 412h1v4h-1zM289 412h1v4h-1zM297 412h1v4h-1zM279 416h1v4h-1zM283 416h1v4h-1zM288 416h2v4h-2zM294 416h1v4h-1zM265 420h1v3h-1zM270 420h1v3h-1zM283 420h1v3h-1zM289 420h2v3h-2zM296 420h1v3h-1zM273 423h1v4h-1zM290 423h2v4h-2zM297 423h1v4h-1zM265 427h1v4h-1zM270 427h1v4h-1zM278 427h2v4h-2zM282 427h1v4h-1zM291 427h1v4h-1zM270 431h1v3h-1zM274 431h2v3h-2zM277 431h2v3h-2zM283 431h1v3h-1zM288 431h2v3h-2zM291 431h1v3h-1zM297 431h1v3h-1zM264 434h2v4h-2zM272 434h1v4h-1zM277 434h3v4h-3zM283 434h1v4h-1zM291 434h1v4h-1zM270 438h1v3h-1zM272 438h2v3h-2zM279 438h1v3h-1zM282 438h1v3h-1zM288 438h2v3h-2zM297 438h1v3h-1zM259 441h1v4h-1zM270 441h1v4h-1zM272 441h1v4h-1zM277 441h1v4h-1zM283 441h1v4h-1zM286 441h1v4h-1zM297 441h1v4h-1zM263 445h1v4h-1zM265 445h1v4h-1zM273 445h2v4h-2zM278 445h2v4h-2zM291 445h1v4h-1zM296 445h1v4h-1zM264 449h1v3h-1zM267 449h1v3h-1zM272 449h1v3h-1zM277 449h1v3h-1zM279 449h1v3h-1zM283 449h1v3h-1zM286 449h1v3h-1zM288 449h1v3h-1zM290 449h1v3h-1zM294 449h1v3h-1zM297 449h1v3h-1zM258 452h1v4h-1zM262 452h1v4h-1zM265 452h1v4h-1zM271 452h1v4h-1zM275 452h2v4h-2zM285 452h1v4h-1zM287 452h1v4h-1zM290 452h1v4h-1zM295 452h3v4h-3zM250 456h1v4h-1zM258 456h1v4h-1zM280 456h1v4h-1zM282 456h1v4h-1zM257 460h1v3h-1zM259 460h1v3h-1zM262 460h2v3h-2zM266 460h2v3h-2zM269 460h1v3h-1zM275 460h3v3h-3zM279 460h1v3h-1zM285 460h1v3h-1zM287 460h1v3h-1zM290 460h1v3h-1zM293 460h1v3h-1zM296 460h1v3h-1zM257 463h1v4h-1zM260 463h1v4h-1zM263 463h1v4h-1zM265 463h1v4h-1zM268 463h1v4h-1zM271 463h1v4h-1zM280 463h2v4h-2zM286 463h2v4h-2zM293 463h1v4h-1zM257 467h1v4h-1zM259 467h1v4h-1zM268 467h1v4h-1zM271 467h1v4h-1zM274 467h3v4h-3zM280 467h1v4h-1zM282 467h1v4h-1zM286 467h1v4h-1zM290 467h2v4h-2zM257 471h1v3h-1zM259 471h2v3h-2zM267 471h1v3h-1zM280 471h1v3h-1zM287 471h1v3h-1zM293 471h1v3h-1zM297 471h1v3h-1zM257 474h2v4h-2zM263 474h1v4h-1zM266 474h1v4h-1zM269 474h1v4h-1zM275 474h2v4h-2zM281 474h1v4h-1zM286 474h1v4h-1zM290 474h1v4h-1zM257 478h1v4h-1zM260 478h1v4h-1zM262 478h1v4h-1zM275 478h2v4h-2zM290 478h1v4h-1zM295 478h1v4h-1zM398 478h1v4h-1zM440 478h3v4h-3zM444 478h2v4h-2zM447 478h1v4h-1zM453 478h1v4h-1zM457 478h2v4h-2zM467 478h1v4h-1zM475 478h2v4h-2zM485 478h1v4h-1zM250 482h1v3h-1zM263 482h1v3h-1zM265 482h1v3h-1zM280 482h1v3h-1zM423 482h1v3h-1zM398 485h1v4h-1zM272 489h1v3h-1zM275 489h1v3h-1zM279 489h1v3h-1zM398 489h2v3h-2zM378 492h1v4h-1zM380 492h2v4h-2zM385 492h1v4h-1zM391 492h1v4h-1zM413 492h1v4h-1zM421 492h1v4h-1zM425 492h1v4h-1zM378 496h1v4h-1zM383 496h1v4h-1zM394 496h1v4h-1zM420 496h1v4h-1zM425 496h1v4h-1zM278 500h1v3h-1zM373 503h1v4h-1z"/>
<path fill="#0077d9" d="M259 390h1v4h-1zM265 390h1v4h-1zM277 390h1v4h-1zM280 390h1v4h-1zM296 390h1v4h-1zM313 390h1v4h-1zM331 390h1v4h-1zM333 390h1v4h-1zM352 390h1v4h-1zM360 390h1v4h-1zM365 390h1v4h-1zM270 394h1v4h-1zM275 394h1v4h-1zM277 394h2v4h-2zM282 394h2v4h-2zM286 394h1v4h-1zM288 394h2v4h-2zM294 394h1v4h-1zM314 394h1v4h-1zM317 394h1v4h-1zM322 394h1v4h-1zM325 394h1v4h-1zM336 394h1v4h-1zM348 394h1v4h-1zM353 394h1v4h-1zM370 394h1v4h-1zM257 398h1v3h-1zM264 398h2v3h-2zM272 398h3v3h-3zM280 398h2v3h-2zM289 398h1v3h-1zM297 398h1v3h-1zM313 398h1v3h-1zM316 398h1v3h-1zM365 398h1v3h-1zM368 398h1v3h-1zM372 398h1v3h-1zM277 401h1v4h-1zM282 401h1v4h-1zM287 401h1v4h-1zM290 401h1v4h-1zM294 401h1v4h-1zM296 401h2v4h-2zM265 405h1v4h-1zM267 405h1v4h-1zM270 405h1v4h-1zM273 405h1v4h-1zM275 405h1v4h-1zM278 405h1v4h-1zM282 405h2v4h-2zM286 405h1v4h-1zM289 405h1v4h-1zM294 405h1v4h-1zM296 405h2v4h-2zM259 409h1v3h-1zM267 409h1v3h-1zM275 409h1v3h-1zM280 409h2v3h-2zM285 409h1v3h-1zM287 409h1v3h-1zM291 409h1v3h-1zM263 412h2v4h-2zM268 412h1v4h-1zM273 412h1v4h-1zM278 412h1v4h-1zM282 412h1v4h-1zM285 412h1v4h-1zM287 412h1v4h-1zM296 412h1v4h-1zM259 416h1v4h-1zM263 416h1v4h-1zM265 416h1v4h-1zM270 416h1v4h-1zM273 416h3v4h-3zM277 416h2v4h-2zM282 416h1v4h-1zM291 416h1v4h-1zM296 416h1v4h-1zM257 420h1v3h-1zM273 420h1v3h-1zM277 420h3v3h-3zM287 420h1v3h-1zM294 420h1v3h-1zM297 420h1v3h-1zM264 423h2v4h-2zM267 423h1v4h-1zM272 423h1v4h-1zM274 423h1v4h-1zM277 423h1v4h-1zM283 423h1v4h-1zM289 423h1v4h-1zM294 423h1v4h-1zM296 423h1v4h-1zM263 427h2v4h-2zM275 427h1v4h-1zM277 427h1v4h-1zM283 427h1v4h-1zM286 427h1v4h-1zM288 427h1v4h-1zM294 427h1v4h-1zM296 427h2v4h-2zM257 431h1v3h-1zM263 431h1v3h-1zM265 431h1v3h-1zM267 431h1v3h-1zM282 431h1v3h-1zM285 431h3v3h-3zM290 431h1v3h-1zM296 431h1v3h-1zM259 434h1v4h-1zM263 434h1v4h-1zM267 434h1v4h-1zM270 434h1v4h-1zM282 434h1v4h-1zM287 434h1v4h-1zM289 434h1v4h-1zM294 434h1v4h-1zM297 434h1v4h-1zM263 438h2v3h-2zM267 438h1v3h-1zM275 438h1v3h-1zM280 438h1v3h-1zM285 438h1v3h-1zM287 438h1v3h-1zM290 438h1v3h-1zM296 438h1v3h-1zM267 441h2v4h-2zM275 441h1v4h-1zM288 441h1v4h-1zM291 441h1v4h-1zM296 441h1v4h-1zM257 445h1v4h-1zM267 445h1v4h-1zM275 445h1v4h-1zM280 445h4v4h-4zM286 445h1v4h-1zM290 445h1v4h-1zM259 449h1v3h-1zM270 449h1v3h-1zM275 449h1v3h-1zM278 449h1v3h-1zM282 449h1v3h-1zM289 449h1v3h-1zM291 449h1v3h-1zM237 452h1v4h-1zM249 452h1v4h-1zM254 452h1v4h-1zM260 452h1v4h-1zM268 452h1v4h-1zM280 452h1v4h-1zM293 452h1v4h-1zM255 456h1v4h-1zM257 456h1v4h-1zM260 456h1v4h-1zM262 456h1v4h-1zM268 456h1v4h-1zM271 456h1v4h-1zM292 456h2v4h-2zM271 460h1v3h-1zM292 460h1v3h-1zM301 460h1v3h-1zM249 463h1v4h-1zM255 463h1v4h-1zM266 463h2v4h-2zM284 463h2v4h-2zM292 463h1v4h-1zM298 463h1v4h-1zM237 467h1v4h-1zM258 467h1v4h-1zM260 467h1v4h-1zM269 467h1v4h-1zM284 467h2v4h-2zM295 467h1v4h-1zM237 471h1v3h-1zM255 471h1v3h-1zM258 471h1v3h-1zM262 471h1v3h-1zM266 471h1v3h-1zM268 471h2v3h-2zM281 471h1v3h-1zM285 471h1v3h-1zM292 471h1v3h-1zM298 471h1v3h-1zM250 474h1v4h-1zM255 474h1v4h-1zM280 474h1v4h-1zM285 474h1v4h-1zM293 474h1v4h-1zM399 474h1v4h-1zM249 478h1v4h-1zM255 478h1v4h-1zM258 478h1v4h-1zM266 478h1v4h-1zM268 478h1v4h-1zM281 478h1v4h-1zM288 478h1v4h-1zM292 478h2v4h-2zM423 478h1v4h-1zM448 478h3v4h-3zM454 478h2v4h-2zM463 478h2v4h-2zM468 478h1v4h-1zM470 478h2v4h-2zM276 482h1v3h-1zM293 482h1v3h-1zM482 482h1v3h-1zM274 485h1v4h-1zM277 485h2v4h-2zM422 489h1v3h-1zM279 492h1v4h-1zM382 492h1v4h-1zM392 492h1v4h-1zM395 492h1v4h-1zM401 492h2v4h-2zM404 492h1v4h-1zM410 492h1v4h-1zM433 492h2v4h-2zM436 492h1v4h-1zM375 496h1v4h-1zM379 496h1v4h-1zM385 496h1v4h-1zM406 496h1v4h-1zM429 496h1v4h-1zM313 503h1v4h-1zM316 503h1v4h-1zM345 503h1v4h-1zM361 503h1v4h-1z"/>
<path fill="#0081cf" d="M255 390h1v4h-1zM257 390h1v4h-1zM266 390h2v4h-2zM274 390h2v4h-2zM278 390h1v4h-1zM282 390h1v4h-1zM285 390h4v4h-4zM291 390h1v4h-1zM294 390h1v4h-1zM315 390h1v4h-1zM318 390h1v4h-1zM338 390h1v4h-1zM341 390h1v4h-1zM345 390h1v4h-1zM349 390h1v4h-1zM362 390h1v4h-1zM257 394h1v4h-1zM265 394h2v4h-2zM276 394h1v4h-1zM280 394h2v4h-2zM290 394h2v4h-2zM293 394h1v4h-1zM296 394h1v4h-1zM316 394h1v4h-1zM337 394h1v4h-1zM339 394h1v4h-1zM349 394h1v4h-1zM362 394h1v4h-1zM371 394h1v4h-1zM255 398h1v3h-1zM258 398h3v3h-3zM267 398h2v3h-2zM271 398h1v3h-1zM275 398h1v3h-1zM285 398h2v3h-2zM290 398h2v3h-2zM293 398h2v3h-2zM315 398h1v3h-1zM323 398h1v3h-1zM330 398h1v3h-1zM333 398h1v3h-1zM338 398h1v3h-1zM345 398h1v3h-1zM360 398h2v3h-2zM363 398h1v3h-1zM367 398h1v3h-1zM260 401h1v4h-1zM262 401h1v4h-1zM266 401h3v4h-3zM274 401h1v4h-1zM281 401h1v4h-1zM286 401h1v4h-1zM288 401h1v4h-1zM370 401h1v4h-1zM250 405h1v4h-1zM257 405h1v4h-1zM259 405h2v4h-2zM263 405h1v4h-1zM266 405h1v4h-1zM274 405h1v4h-1zM276 405h2v4h-2zM281 405h1v4h-1zM285 405h1v4h-1zM290 405h1v4h-1zM257 409h1v3h-1zM263 409h1v3h-1zM266 409h1v3h-1zM274 409h1v3h-1zM278 409h1v3h-1zM282 409h2v3h-2zM286 409h1v3h-1zM290 409h1v3h-1zM294 409h1v3h-1zM297 409h1v3h-1zM250 412h1v4h-1zM265 412h2v4h-2zM271 412h1v4h-1zM274 412h2v4h-2zM279 412h3v4h-3zM288 412h1v4h-1zM290 412h2v4h-2zM295 412h1v4h-1zM255 416h1v4h-1zM260 416h1v4h-1zM264 416h1v4h-1zM267 416h1v4h-1zM280 416h2v4h-2zM286 416h2v4h-2zM297 416h1v4h-1zM263 420h1v3h-1zM267 420h2v3h-2zM274 420h2v3h-2zM281 420h2v3h-2zM286 420h1v3h-1zM288 420h1v3h-1zM291 420h1v3h-1zM295 420h1v3h-1zM257 423h3v4h-3zM262 423h2v4h-2zM270 423h1v4h-1zM275 423h1v4h-1zM278 423h2v4h-2zM281 423h2v4h-2zM286 423h3v4h-3zM293 423h1v4h-1zM295 423h1v4h-1zM250 427h1v4h-1zM258 427h2v4h-2zM267 427h1v4h-1zM271 427h1v4h-1zM274 427h1v4h-1zM281 427h1v4h-1zM290 427h1v4h-1zM293 427h1v4h-1zM259 431h1v3h-1zM262 431h1v3h-1zM268 431h1v3h-1zM280 431h1v3h-1zM293 431h2v3h-2zM250 434h1v4h-1zM257 434h1v4h-1zM260 434h1v4h-1zM268 434h1v4h-1zM274 434h2v4h-2zM280 434h2v4h-2zM285 434h1v4h-1zM288 434h1v4h-1zM295 434h2v4h-2zM257 438h1v3h-1zM259 438h1v3h-1zM265 438h1v3h-1zM274 438h1v3h-1zM277 438h2v3h-2zM286 438h1v3h-1zM291 438h1v3h-1zM293 438h3v3h-3zM263 441h1v4h-1zM265 441h1v4h-1zM274 441h1v4h-1zM278 441h2v4h-2zM282 441h1v4h-1zM285 441h1v4h-1zM290 441h1v4h-1zM294 441h2v4h-2zM250 445h1v4h-1zM270 445h1v4h-1zM277 445h1v4h-1zM287 445h3v4h-3zM294 445h1v4h-1zM297 445h1v4h-1zM250 449h1v3h-1zM257 449h1v3h-1zM262 449h2v3h-2zM265 449h1v3h-1zM274 449h1v3h-1zM281 449h1v3h-1zM287 449h1v3h-1zM296 449h1v3h-1zM250 452h2v4h-2zM255 452h1v4h-1zM298 452h1v4h-1zM301 452h1v4h-1zM237 456h1v4h-1zM243 456h1v4h-1zM246 456h1v4h-1zM249 456h1v4h-1zM251 456h1v4h-1zM269 456h1v4h-1zM276 456h1v4h-1zM301 456h1v4h-1zM243 460h1v3h-1zM250 460h2v3h-2zM255 460h1v3h-1zM258 460h1v3h-1zM260 460h1v3h-1zM284 460h1v3h-1zM298 460h1v3h-1zM300 460h1v3h-1zM237 463h1v4h-1zM248 463h1v4h-1zM250 463h2v4h-2zM253 463h2v4h-2zM258 463h1v4h-1zM262 463h1v4h-1zM269 463h1v4h-1zM276 463h1v4h-1zM295 463h1v4h-1zM301 463h1v4h-1zM243 467h1v4h-1zM249 467h3v4h-3zM253 467h1v4h-1zM262 467h1v4h-1zM266 467h1v4h-1zM292 467h1v4h-1zM242 471h1v3h-1zM250 471h2v3h-2zM254 471h1v3h-1zM295 471h1v3h-1zM237 474h1v4h-1zM254 474h1v4h-1zM260 474h1v4h-1zM262 474h1v4h-1zM271 474h1v4h-1zM304 474h1v4h-1zM237 478h1v4h-1zM243 478h1v4h-1zM246 478h1v4h-1zM250 478h1v4h-1zM253 478h1v4h-1zM269 478h1v4h-1zM237 482h1v3h-1zM251 482h1v3h-1zM253 482h1v3h-1zM258 482h1v3h-1zM266 482h1v3h-1zM271 485h1v4h-1zM279 485h2v4h-2zM290 485h2v4h-2zM274 489h1v3h-1zM277 489h1v3h-1zM409 489h1v3h-1zM275 492h1v4h-1zM277 492h1v4h-1zM280 492h1v4h-1zM383 492h1v4h-1zM388 492h1v4h-1zM396 492h1v4h-1zM409 492h1v4h-1zM411 492h1v4h-1zM431 492h1v4h-1zM437 492h1v4h-1zM278 496h1v4h-1zM318 503h1v4h-1zM321 503h1v4h-1zM325 503h2v4h-2zM333 503h1v4h-1zM336 503h2v4h-2zM347 503h1v4h-1zM360 503h1v4h-1zM363 503h1v4h-1zM370 503h1v4h-1zM372 503h1v4h-1zM374 503h1v4h-1z"/>
<path fill="#008bc5" d="M237 390h1v4h-1zM258 390h1v4h-1zM279 390h1v4h-1zM281 390h1v4h-1zM290 390h1v4h-1zM293 390h1v4h-1zM309 390h1v4h-1zM317 390h1v4h-1zM319 390h1v4h-1zM321 390h1v4h-1zM323 390h1v4h-1zM326 390h1v4h-1zM344 390h1v4h-1zM348 390h1v4h-1zM354 390h1v4h-1zM373 390h1v4h-1zM267 394h2v4h-2zM285 394h1v4h-1zM295 394h1v4h-1zM297 394h1v4h-1zM320 394h2v4h-2zM324 394h1v4h-1zM333 394h1v4h-1zM335 394h1v4h-1zM345 394h1v4h-1zM352 394h1v4h-1zM365 394h1v4h-1zM367 394h1v4h-1zM254 398h1v3h-1zM266 398h1v3h-1zM287 398h2v3h-2zM292 398h1v3h-1zM295 398h1v3h-1zM309 398h1v3h-1zM337 398h1v3h-1zM339 398h1v3h-1zM346 398h1v3h-1zM350 398h1v3h-1zM362 398h1v3h-1zM254 401h2v4h-2zM257 401h3v4h-3zM271 401h1v4h-1zM276 401h1v4h-1zM279 401h2v4h-2zM285 401h1v4h-1zM295 401h1v4h-1zM255 405h1v4h-1zM268 405h1v4h-1zM280 405h1v4h-1zM287 405h1v4h-1zM293 405h1v4h-1zM295 405h1v4h-1zM250 409h1v3h-1zM262 409h1v3h-1zM268 409h1v3h-1zM271 409h1v3h-1zM276 409h1v3h-1zM254 412h2v4h-2zM257 412h3v4h-3zM262 412h1v4h-1zM267 412h1v4h-1zM276 412h1v4h-1zM293 412h1v4h-1zM249 416h2v4h-2zM257 416h1v4h-1zM262 416h1v4h-1zM266 416h1v4h-1zM268 416h1v4h-1zM271 416h1v4h-1zM276 416h1v4h-1zM290 416h1v4h-1zM293 416h1v4h-1zM295 416h1v4h-1zM255 420h1v3h-1zM259 420h1v3h-1zM262 420h1v3h-1zM266 420h1v3h-1zM269 420h1v3h-1zM271 420h1v3h-1zM280 420h1v3h-1zM285 420h1v3h-1zM293 420h1v3h-1zM266 423h1v4h-1zM268 423h1v4h-1zM271 423h1v4h-1zM276 423h1v4h-1zM280 423h1v4h-1zM249 427h1v4h-1zM255 427h1v4h-1zM257 427h1v4h-1zM262 427h1v4h-1zM268 427h2v4h-2zM276 427h1v4h-1zM280 427h1v4h-1zM284 427h2v4h-2zM287 427h1v4h-1zM250 431h1v3h-1zM255 431h1v3h-1zM260 431h1v3h-1zM266 431h1v3h-1zM276 431h1v3h-1zM279 431h1v3h-1zM281 431h1v3h-1zM292 431h1v3h-1zM258 434h1v4h-1zM266 434h1v4h-1zM271 434h1v4h-1zM286 434h1v4h-1zM290 434h1v4h-1zM266 438h1v3h-1zM271 438h1v3h-1zM276 438h1v3h-1zM281 438h1v3h-1zM257 441h1v4h-1zM260 441h1v4h-1zM262 441h1v4h-1zM276 441h1v4h-1zM280 441h2v4h-2zM287 441h1v4h-1zM249 445h1v4h-1zM259 445h2v4h-2zM271 445h1v4h-1zM276 445h1v4h-1zM284 445h1v4h-1zM293 445h1v4h-1zM295 445h1v4h-1zM260 449h1v3h-1zM266 449h1v3h-1zM268 449h2v3h-2zM280 449h1v3h-1zM238 452h2v4h-2zM242 452h1v4h-1zM245 452h1v4h-1zM248 452h1v4h-1zM253 452h1v4h-1zM269 452h1v4h-1zM292 452h1v4h-1zM300 452h1v4h-1zM303 452h1v4h-1zM238 456h2v4h-2zM245 456h1v4h-1zM253 456h2v4h-2zM284 456h1v4h-1zM299 456h2v4h-2zM303 456h1v4h-1zM237 460h1v3h-1zM239 460h1v3h-1zM246 460h1v3h-1zM249 460h1v3h-1zM254 460h1v3h-1zM243 463h1v4h-1zM245 463h1v4h-1zM300 463h1v4h-1zM304 463h1v4h-1zM242 467h1v4h-1zM245 467h1v4h-1zM248 467h1v4h-1zM254 467h2v4h-2zM298 467h1v4h-1zM300 467h1v4h-1zM304 467h1v4h-1zM245 471h1v3h-1zM249 471h1v3h-1zM253 471h1v3h-1zM284 471h1v3h-1zM300 471h2v3h-2zM303 471h1v3h-1zM242 474h2v4h-2zM245 474h2v4h-2zM249 474h1v4h-1zM251 474h1v4h-1zM284 474h1v4h-1zM292 474h1v4h-1zM301 474h1v4h-1zM398 474h1v4h-1zM242 478h1v4h-1zM254 478h1v4h-1zM282 478h1v4h-1zM439 478h1v4h-1zM238 482h2v3h-2zM246 482h1v3h-1zM262 482h1v3h-1zM269 482h1v3h-1zM292 482h1v3h-1zM478 482h1v3h-1zM275 485h1v4h-1zM422 485h1v4h-1zM424 485h1v4h-1zM276 489h1v3h-1zM280 489h1v3h-1zM377 489h1v3h-1zM412 489h1v3h-1zM414 489h1v3h-1zM419 489h1v3h-1zM424 489h1v3h-1zM437 489h1v3h-1zM400 492h1v4h-1zM408 492h1v4h-1zM412 492h1v4h-1zM428 492h1v4h-1zM374 496h1v4h-1zM314 503h2v4h-2zM317 503h1v4h-1zM319 503h2v4h-2zM323 503h2v4h-2zM340 503h1v4h-1zM350 503h1v4h-1zM353 503h1v4h-1zM364 503h1v4h-1zM366 503h2v4h-2zM369 503h1v4h-1z"/>
<path fill="#0096bc" d="M246 390h1v4h-1zM254 390h1v4h-1zM262 390h1v4h-1zM268 390h2v4h-2zM271 390h1v4h-1zM276 390h1v4h-1zM292 390h1v4h-1zM295 390h1v4h-1zM298 390h1v4h-1zM300 390h1v4h-1zM308 390h1v4h-1zM312 390h1v4h-1zM314 390h1v4h-1zM334 390h1v4h-1zM340 390h1v4h-1zM237 394h1v4h-1zM254 394h2v4h-2zM258 394h1v4h-1zM260 394h1v4h-1zM262 394h1v4h-1zM271 394h1v4h-1zM287 394h1v4h-1zM313 394h1v4h-1zM315 394h1v4h-1zM318 394h1v4h-1zM323 394h1v4h-1zM340 394h1v4h-1zM346 394h2v4h-2zM350 394h2v4h-2zM356 394h1v4h-1zM373 394h1v4h-1zM237 398h1v3h-1zM251 398h1v3h-1zM262 398h1v3h-1zM269 398h1v3h-1zM276 398h1v3h-1zM284 398h1v3h-1zM298 398h1v3h-1zM314 398h1v3h-1zM317 398h3v3h-3zM322 398h1v3h-1zM327 398h1v3h-1zM348 398h1v3h-1zM352 398h1v3h-1zM373 398h1v3h-1zM246 401h1v4h-1zM250 401h1v4h-1zM269 401h1v4h-1zM293 401h1v4h-1zM300 401h2v4h-2zM361 401h1v4h-1zM364 401h1v4h-1zM369 401h1v4h-1zM372 401h1v4h-1zM262 405h1v4h-1zM269 405h1v4h-1zM271 405h1v4h-1zM284 405h1v4h-1zM298 405h1v4h-1zM301 405h1v4h-1zM246 409h1v3h-1zM254 409h2v3h-2zM258 409h1v3h-1zM260 409h1v3h-1zM269 409h1v3h-1zM293 409h1v3h-1zM295 409h1v3h-1zM300 409h1v3h-1zM237 412h1v4h-1zM249 412h1v4h-1zM251 412h1v4h-1zM260 412h1v4h-1zM298 412h1v4h-1zM237 416h1v4h-1zM243 416h1v4h-1zM253 416h2v4h-2zM258 416h1v4h-1zM269 416h1v4h-1zM285 416h1v4h-1zM292 416h1v4h-1zM300 416h2v4h-2zM246 420h1v3h-1zM250 420h1v3h-1zM276 420h1v3h-1zM284 420h1v3h-1zM301 420h1v3h-1zM253 423h2v4h-2zM269 423h1v4h-1zM284 423h2v4h-2zM298 423h1v4h-1zM237 427h1v4h-1zM251 427h1v4h-1zM260 427h1v4h-1zM266 427h1v4h-1zM295 427h1v4h-1zM237 431h1v3h-1zM249 431h1v3h-1zM254 431h1v3h-1zM258 431h1v3h-1zM269 431h1v3h-1zM271 431h1v3h-1zM284 431h1v3h-1zM295 431h1v3h-1zM300 431h1v3h-1zM237 434h1v4h-1zM253 434h1v4h-1zM276 434h1v4h-1zM292 434h2v4h-2zM298 434h1v4h-1zM300 434h1v4h-1zM237 438h1v3h-1zM249 438h1v3h-1zM254 438h2v3h-2zM260 438h1v3h-1zM262 438h1v3h-1zM268 438h1v3h-1zM284 438h1v3h-1zM298 438h1v3h-1zM250 441h2v4h-2zM258 441h1v4h-1zM266 441h1v4h-1zM269 441h1v4h-1zM271 441h1v4h-1zM293 441h1v4h-1zM300 441h1v4h-1zM243 445h1v4h-1zM251 445h1v4h-1zM253 445h1v4h-1zM262 445h1v4h-1zM266 445h1v4h-1zM268 445h1v4h-1zM285 445h1v4h-1zM292 445h1v4h-1zM300 445h1v4h-1zM237 449h1v3h-1zM243 449h1v3h-1zM246 449h1v3h-1zM251 449h1v3h-1zM255 449h1v3h-1zM258 449h1v3h-1zM271 449h1v3h-1zM276 449h1v3h-1zM285 449h1v3h-1zM292 449h2v3h-2zM295 449h1v3h-1zM243 452h1v4h-1zM246 452h1v4h-1zM284 452h1v4h-1zM299 452h1v4h-1zM304 452h1v4h-1zM242 456h1v4h-1zM248 456h1v4h-1zM298 456h1v4h-1zM302 456h1v4h-1zM304 456h1v4h-1zM244 460h2v3h-2zM248 460h1v3h-1zM253 460h1v3h-1zM303 460h1v3h-1zM239 463h2v4h-2zM242 463h1v4h-1zM246 463h1v4h-1zM299 463h1v4h-1zM240 467h1v4h-1zM246 467h1v4h-1zM301 467h1v4h-1zM238 471h2v3h-2zM243 471h1v3h-1zM246 471h1v3h-1zM302 471h1v3h-1zM304 471h1v3h-1zM239 474h1v4h-1zM248 474h1v4h-1zM253 474h1v4h-1zM298 474h1v4h-1zM303 474h1v4h-1zM459 474h1v4h-1zM484 474h1v4h-1zM238 478h3v4h-3zM245 478h1v4h-1zM248 478h1v4h-1zM251 478h1v4h-1zM240 482h1v3h-1zM244 482h2v3h-2zM249 482h1v3h-1zM289 485h1v4h-1zM292 485h1v4h-1zM389 489h1v3h-1zM401 489h1v3h-1zM404 489h2v3h-2zM420 489h1v3h-1zM276 492h1v4h-1zM279 496h1v4h-1zM280 500h1v3h-1zM361 500h1v3h-1zM370 500h1v3h-1zM308 503h2v4h-2zM322 503h1v4h-1zM327 503h1v4h-1zM330 503h1v4h-1zM332 503h1v4h-1zM334 503h2v4h-2zM338 503h1v4h-1zM346 503h1v4h-1zM348 503h2v4h-2zM351 503h1v4h-1zM365 503h1v4h-1zM371 503h1v4h-1z"/>
<path fill="#00a2b6" d="M242 390h1v4h-1zM249 390h2v4h-2zM253 390h1v4h-1zM260 390h1v4h-1zM284 390h1v4h-1zM304 390h1v4h-1zM332 390h1v4h-1zM351 390h1v4h-1zM356 390h2v4h-2zM242 394h2v4h-2zM245 394h2v4h-2zM248 394h4v4h-4zM253 394h1v4h-1zM269 394h1v4h-1zM292 394h1v4h-1zM298 394h3v4h-3zM308 394h2v4h-2zM326 394h1v4h-1zM330 394h2v4h-2zM334 394h1v4h-1zM341 394h1v4h-1zM344 394h1v4h-1zM360 394h1v4h-1zM243 398h1v3h-1zM245 398h1v3h-1zM249 398h2v3h-2zM300 398h2v3h-2zM320 398h2v3h-2zM325 398h2v3h-2zM332 398h1v3h-1zM347 398h1v3h-1zM354 398h1v3h-1zM243 401h1v4h-1zM251 401h1v4h-1zM292 401h1v4h-1zM298 401h1v4h-1zM362 401h2v4h-2zM365 401h3v4h-3zM237 405h1v4h-1zM246 405h1v4h-1zM253 405h1v4h-1zM258 405h1v4h-1zM292 405h1v4h-1zM300 405h1v4h-1zM304 405h1v4h-1zM237 409h1v3h-1zM245 409h1v3h-1zM249 409h1v3h-1zM284 409h1v3h-1zM292 409h1v3h-1zM304 409h1v3h-1zM246 412h1v4h-1zM269 412h1v4h-1zM292 412h1v4h-1zM245 416h1v4h-1zM248 416h1v4h-1zM251 416h1v4h-1zM284 416h1v4h-1zM304 416h1v4h-1zM237 420h1v3h-1zM251 420h1v3h-1zM258 420h1v3h-1zM260 420h1v3h-1zM292 420h1v3h-1zM298 420h1v3h-1zM300 420h1v3h-1zM243 423h1v4h-1zM249 423h3v4h-3zM255 423h1v4h-1zM260 423h1v4h-1zM292 423h1v4h-1zM300 423h1v4h-1zM243 427h1v4h-1zM245 427h2v4h-2zM254 427h1v4h-1zM292 427h1v4h-1zM298 427h1v4h-1zM304 427h1v4h-1zM239 431h1v3h-1zM242 431h1v3h-1zM245 431h2v3h-2zM298 431h1v3h-1zM304 431h1v3h-1zM243 434h1v4h-1zM249 434h1v4h-1zM251 434h1v4h-1zM254 434h2v4h-2zM262 434h1v4h-1zM269 434h1v4h-1zM284 434h1v4h-1zM238 438h2v3h-2zM245 438h2v3h-2zM248 438h1v3h-1zM250 438h1v3h-1zM258 438h1v3h-1zM269 438h1v3h-1zM292 438h1v3h-1zM301 438h1v3h-1zM304 438h1v3h-1zM237 441h1v4h-1zM243 441h1v4h-1zM253 441h3v4h-3zM284 441h1v4h-1zM292 441h1v4h-1zM301 441h1v4h-1zM237 445h1v4h-1zM242 445h1v4h-1zM245 445h1v4h-1zM254 445h2v4h-2zM258 445h1v4h-1zM269 445h1v4h-1zM301 445h1v4h-1zM304 445h1v4h-1zM242 449h1v3h-1zM248 449h1v3h-1zM284 449h1v3h-1zM304 449h1v3h-1zM252 452h1v4h-1zM240 456h1v4h-1zM244 456h1v4h-1zM256 456h1v4h-1zM241 460h2v3h-2zM299 460h1v3h-1zM304 460h1v3h-1zM238 463h1v4h-1zM244 463h1v4h-1zM238 467h2v4h-2zM244 467h1v4h-1zM256 467h1v4h-1zM299 467h1v4h-1zM303 467h1v4h-1zM241 471h1v3h-1zM248 471h1v3h-1zM299 471h1v3h-1zM305 471h1v3h-1zM238 474h1v4h-1zM240 474h1v4h-1zM256 474h1v4h-1zM300 474h1v4h-1zM302 474h1v4h-1zM456 474h1v4h-1zM460 474h1v4h-1zM469 474h1v4h-1zM472 474h1v4h-1zM475 474h1v4h-1zM485 474h1v4h-1zM252 478h1v4h-1zM256 478h1v4h-1zM283 478h1v4h-1zM285 478h1v4h-1zM297 478h1v4h-1zM243 482h1v3h-1zM252 482h1v3h-1zM255 482h1v3h-1zM422 482h1v3h-1zM276 485h1v4h-1zM438 485h1v4h-1zM376 489h1v3h-1zM388 489h1v3h-1zM396 489h1v3h-1zM402 489h1v3h-1zM406 489h2v3h-2zM410 489h1v3h-1zM425 489h1v3h-1zM435 489h1v3h-1zM277 496h1v4h-1zM279 500h1v3h-1zM315 500h2v3h-2zM319 500h1v3h-1zM322 500h1v3h-1zM325 500h2v3h-2zM337 500h1v3h-1zM363 500h2v3h-2zM366 500h1v3h-1zM372 500h2v3h-2zM331 503h1v4h-1zM352 503h1v4h-1zM354 503h1v4h-1zM368 503h1v4h-1z"/>
<path fill="#00aeaf" d="M238 390h1v4h-1zM243 390h1v4h-1zM245 390h1v4h-1zM248 390h1v4h-1zM251 390h1v4h-1zM301 390h1v4h-1zM310 390h1v4h-1zM284 394h1v4h-1zM301 394h1v4h-1zM332 394h1v4h-1zM354 394h1v4h-1zM242 398h1v3h-1zM244 398h1v3h-1zM253 398h1v3h-1zM304 398h1v3h-1zM324 398h1v3h-1zM331 398h1v3h-1zM336 398h1v3h-1zM340 398h1v3h-1zM349 398h1v3h-1zM351 398h1v3h-1zM356 398h1v3h-1zM237 401h1v4h-1zM240 401h1v4h-1zM242 401h1v4h-1zM248 401h2v4h-2zM253 401h1v4h-1zM284 401h1v4h-1zM299 401h1v4h-1zM371 401h1v4h-1zM245 405h1v4h-1zM248 405h2v4h-2zM251 405h1v4h-1zM254 405h1v4h-1zM303 405h1v4h-1zM244 409h1v3h-1zM251 409h1v3h-1zM253 409h1v3h-1zM298 409h1v3h-1zM301 409h1v3h-1zM240 412h1v4h-1zM242 412h2v4h-2zM245 412h1v4h-1zM253 412h1v4h-1zM284 412h1v4h-1zM299 412h3v4h-3zM304 412h1v4h-1zM240 416h1v4h-1zM246 416h1v4h-1zM298 416h2v4h-2zM242 420h2v3h-2zM248 420h2v3h-2zM253 420h2v3h-2zM304 420h1v3h-1zM237 423h1v4h-1zM245 423h2v4h-2zM299 423h1v4h-1zM301 423h1v4h-1zM303 423h2v4h-2zM239 427h1v4h-1zM242 427h1v4h-1zM253 427h1v4h-1zM299 427h3v4h-3zM243 431h2v3h-2zM251 431h1v3h-1zM253 431h1v3h-1zM301 431h1v3h-1zM303 431h1v3h-1zM238 434h2v4h-2zM245 434h2v4h-2zM301 434h1v4h-1zM304 434h1v4h-1zM243 438h1v3h-1zM251 438h1v3h-1zM253 438h1v3h-1zM299 438h2v3h-2zM240 441h1v4h-1zM242 441h1v4h-1zM245 441h1v4h-1zM249 441h1v4h-1zM298 441h1v4h-1zM303 441h2v4h-2zM239 445h1v4h-1zM246 445h1v4h-1zM298 445h1v4h-1zM238 449h1v3h-1zM245 449h1v3h-1zM249 449h1v3h-1zM253 449h2v3h-2zM298 449h1v3h-1zM300 449h2v3h-2zM303 449h1v3h-1zM240 452h2v4h-2zM244 452h1v4h-1zM235 456h1v4h-1zM252 456h1v4h-1zM235 460h1v3h-1zM238 460h1v3h-1zM240 460h1v3h-1zM252 460h1v3h-1zM302 460h1v3h-1zM305 460h1v3h-1zM241 463h1v4h-1zM252 463h1v4h-1zM256 463h1v4h-1zM302 463h2v4h-2zM241 467h1v4h-1zM302 467h1v4h-1zM240 471h1v3h-1zM244 471h1v3h-1zM252 471h1v3h-1zM244 474h1v4h-1zM252 474h1v4h-1zM442 474h6v4h-6zM451 474h2v4h-2zM457 474h1v4h-1zM461 474h4v4h-4zM466 474h1v4h-1zM470 474h1v4h-1zM474 474h1v4h-1zM244 478h1v4h-1zM298 478h1v4h-1zM304 478h1v4h-1zM268 482h1v3h-1zM424 482h1v3h-1zM294 485h1v4h-1zM380 489h1v3h-1zM394 489h2v3h-2zM400 489h1v3h-1zM416 489h1v3h-1zM427 489h1v3h-1zM429 489h1v3h-1zM432 489h1v3h-1zM375 492h1v4h-1zM280 496h1v4h-1zM361 496h1v4h-1zM370 496h1v4h-1zM313 500h2v3h-2zM317 500h2v3h-2zM327 500h1v3h-1zM338 500h1v3h-1zM345 500h1v3h-1zM348 500h2v3h-2zM360 500h1v3h-1zM362 500h1v3h-1zM365 500h1v3h-1zM368 500h2v3h-2zM371 500h1v3h-1zM257 503h1v4h-1zM264 503h1v4h-1zM339 503h1v4h-1zM344 503h1v4h-1zM356 503h1v4h-1zM362 503h1v4h-1z"/>
<path fill="#00baa8" d="M239 390h1v4h-1zM256 390h1v4h-1zM299 390h1v4h-1zM302 390h1v4h-1zM343 390h1v4h-1zM374 390h1v4h-1zM238 394h3v4h-3zM252 394h1v4h-1zM303 394h2v4h-2zM328 394h1v4h-1zM246 398h1v3h-1zM248 398h1v3h-1zM252 398h1v3h-1zM299 398h1v3h-1zM329 398h1v3h-1zM335 398h1v3h-1zM344 398h1v3h-1zM353 398h1v3h-1zM238 401h2v4h-2zM244 401h2v4h-2zM252 401h1v4h-1zM304 401h1v4h-1zM368 401h1v4h-1zM238 405h2v4h-2zM241 405h3v4h-3zM299 405h1v4h-1zM302 405h1v4h-1zM238 409h3v3h-3zM242 409h2v3h-2zM248 409h1v3h-1zM256 409h1v3h-1zM303 409h1v3h-1zM238 412h2v4h-2zM248 412h1v4h-1zM303 412h1v4h-1zM238 416h2v4h-2zM242 416h1v4h-1zM244 416h1v4h-1zM252 416h1v4h-1zM303 416h1v4h-1zM238 420h1v3h-1zM240 420h2v3h-2zM244 420h2v3h-2zM252 420h1v3h-1zM299 420h1v3h-1zM303 420h1v3h-1zM238 423h2v4h-2zM242 423h1v4h-1zM248 423h1v4h-1zM252 423h1v4h-1zM238 427h1v4h-1zM244 427h1v4h-1zM248 427h1v4h-1zM256 427h1v4h-1zM238 431h1v3h-1zM240 431h2v3h-2zM248 431h1v3h-1zM302 431h1v3h-1zM242 434h1v4h-1zM248 434h1v4h-1zM299 434h1v4h-1zM303 434h1v4h-1zM242 438h1v3h-1zM244 438h1v3h-1zM252 438h1v3h-1zM256 438h1v3h-1zM302 438h1v3h-1zM238 441h2v4h-2zM246 441h1v4h-1zM248 441h1v4h-1zM238 445h1v4h-1zM248 445h1v4h-1zM252 445h1v4h-1zM299 445h1v4h-1zM303 445h1v4h-1zM239 449h2v3h-2zM302 449h1v3h-1zM256 452h1v4h-1zM302 452h1v4h-1zM241 456h1v4h-1zM305 456h1v4h-1zM256 460h1v3h-1zM235 463h1v4h-1zM235 467h1v4h-1zM252 467h1v4h-1zM305 467h1v4h-1zM235 471h1v3h-1zM256 471h1v3h-1zM235 474h1v4h-1zM241 474h1v4h-1zM305 474h1v4h-1zM441 474h1v4h-1zM448 474h2v4h-2zM453 474h2v4h-2zM458 474h1v4h-1zM465 474h1v4h-1zM467 474h2v4h-2zM473 474h1v4h-1zM486 474h1v4h-1zM241 478h1v4h-1zM242 482h1v3h-1zM256 482h1v3h-1zM246 485h1v4h-1zM250 489h1v3h-1zM375 489h1v3h-1zM382 489h1v3h-1zM387 489h1v3h-1zM403 489h1v3h-1zM408 489h1v3h-1zM413 489h1v3h-1zM415 489h1v3h-1zM417 489h1v3h-1zM421 489h1v3h-1zM426 489h1v3h-1zM431 489h1v3h-1zM433 489h1v3h-1zM250 492h1v4h-1zM272 496h1v4h-1zM364 496h1v4h-1zM372 496h2v4h-2zM250 500h1v3h-1zM272 500h1v3h-1zM308 500h2v3h-2zM320 500h1v3h-1zM323 500h1v3h-1zM330 500h4v3h-4zM336 500h1v3h-1zM340 500h1v3h-1zM346 500h2v3h-2zM352 500h1v3h-1zM237 503h1v4h-1zM242 503h2v4h-2zM249 503h1v4h-1zM259 503h1v4h-1zM270 503h1v4h-1zM272 503h1v4h-1zM289 503h1v4h-1zM297 503h1v4h-1zM310 503h1v4h-1zM341 503h1v4h-1z"/>
<path fill="#00c6a1" d="M240 390h1v4h-1zM244 390h1v4h-1zM252 390h1v4h-1zM303 390h1v4h-1zM328 390h1v4h-1zM305 394h1v4h-1zM312 394h1v4h-1zM329 394h1v4h-1zM357 394h1v4h-1zM374 394h1v4h-1zM238 398h4v3h-4zM256 398h1v3h-1zM303 398h1v3h-1zM308 398h1v3h-1zM312 398h1v3h-1zM328 398h1v3h-1zM334 398h1v3h-1zM235 401h1v4h-1zM241 401h1v4h-1zM302 401h2v4h-2zM373 401h1v4h-1zM235 405h1v4h-1zM240 405h1v4h-1zM244 405h1v4h-1zM256 405h1v4h-1zM252 409h1v3h-1zM299 409h1v3h-1zM302 409h1v3h-1zM241 412h1v4h-1zM244 412h1v4h-1zM252 412h1v4h-1zM256 412h1v4h-1zM302 412h1v4h-1zM305 412h1v4h-1zM235 416h1v4h-1zM241 416h1v4h-1zM305 416h1v4h-1zM239 420h1v3h-1zM302 420h1v3h-1zM305 420h1v3h-1zM235 423h1v4h-1zM240 423h2v4h-2zM256 423h1v4h-1zM302 423h1v4h-1zM240 427h1v4h-1zM252 427h1v4h-1zM302 427h2v4h-2zM235 431h1v3h-1zM252 431h1v3h-1zM299 431h1v3h-1zM305 431h1v3h-1zM241 434h1v4h-1zM244 434h1v4h-1zM252 434h1v4h-1zM305 434h1v4h-1zM235 438h1v3h-1zM240 438h1v3h-1zM303 438h1v3h-1zM305 438h1v3h-1zM235 441h1v4h-1zM252 441h1v4h-1zM299 441h1v4h-1zM302 441h1v4h-1zM240 445h1v4h-1zM244 445h1v4h-1zM302 445h1v4h-1zM244 449h1v3h-1zM252 449h1v3h-1zM299 449h1v3h-1zM235 452h1v4h-1zM247 452h1v4h-1zM305 452h1v4h-1zM236 460h1v3h-1zM236 463h1v4h-1zM305 463h1v4h-1zM236 471h1v3h-1zM299 474h1v4h-1zM440 474h1v4h-1zM450 474h1v4h-1zM455 474h1v4h-1zM471 474h1v4h-1zM476 474h1v4h-1zM235 478h1v4h-1zM287 478h1v4h-1zM305 478h1v4h-1zM267 482h1v3h-1zM306 482h1v3h-1zM259 485h1v4h-1zM264 485h2v4h-2zM295 485h1v4h-1zM397 485h1v4h-1zM264 489h2v3h-2zM379 489h1v3h-1zM383 489h1v3h-1zM386 489h1v3h-1zM390 489h2v3h-2zM265 492h1v4h-1zM363 496h1v4h-1zM365 496h3v4h-3zM369 496h1v4h-1zM321 500h1v3h-1zM324 500h1v3h-1zM334 500h2v3h-2zM339 500h1v3h-1zM351 500h1v3h-1zM353 500h1v3h-1zM356 500h1v3h-1zM367 500h1v3h-1zM239 503h2v4h-2zM250 503h2v4h-2zM253 503h1v4h-1zM260 503h1v4h-1zM263 503h1v4h-1zM265 503h2v4h-2zM268 503h1v4h-1zM273 503h1v4h-1zM278 503h1v4h-1zM282 503h2v4h-2zM286 503h1v4h-1zM290 503h1v4h-1zM312 503h1v4h-1zM357 503h1v4h-1z"/>
<path fill="#00d198" d="M241 390h1v4h-1zM311 390h1v4h-1zM329 390h1v4h-1zM235 394h1v4h-1zM241 394h1v4h-1zM244 394h1v4h-1zM256 394h1v4h-1zM302 394h1v4h-1zM310 394h1v4h-1zM302 398h1v3h-1zM305 398h1v3h-1zM310 398h1v3h-1zM341 398h1v3h-1zM357 398h1v3h-1zM374 398h1v3h-1zM256 401h1v4h-1zM305 401h1v4h-1zM252 405h1v4h-1zM305 405h1v4h-1zM235 409h1v3h-1zM241 409h1v3h-1zM256 416h1v4h-1zM302 416h1v4h-1zM235 420h1v3h-1zM256 420h1v3h-1zM244 423h1v4h-1zM235 427h1v4h-1zM241 427h1v4h-1zM235 434h1v4h-1zM240 434h1v4h-1zM302 434h1v4h-1zM241 438h1v3h-1zM241 441h1v4h-1zM244 441h1v4h-1zM305 441h1v4h-1zM235 445h1v4h-1zM241 445h1v4h-1zM256 445h1v4h-1zM305 445h1v4h-1zM235 449h1v3h-1zM241 449h1v3h-1zM306 449h1v3h-1zM306 452h1v4h-1zM236 456h1v4h-1zM247 460h1v3h-1zM306 460h1v3h-1zM247 463h1v4h-1zM236 467h1v4h-1zM247 467h1v4h-1zM247 471h1v3h-1zM306 471h1v3h-1zM477 474h1v4h-1zM236 478h1v4h-1zM247 478h1v4h-1zM296 478h1v4h-1zM248 482h1v3h-1zM283 482h1v3h-1zM438 482h1v3h-1zM250 485h1v4h-1zM253 485h1v4h-1zM257 485h1v4h-1zM266 485h1v4h-1zM257 489h1v3h-1zM273 489h1v3h-1zM411 489h1v3h-1zM428 489h1v3h-1zM434 489h1v3h-1zM246 492h1v4h-1zM257 492h1v4h-1zM264 492h1v4h-1zM272 492h1v4h-1zM294 492h1v4h-1zM373 492h2v4h-2zM243 496h1v4h-1zM250 496h1v4h-1zM257 496h1v4h-1zM264 496h1v4h-1zM276 496h1v4h-1zM283 496h1v4h-1zM322 496h1v4h-1zM326 496h1v4h-1zM333 496h1v4h-1zM337 496h1v4h-1zM360 496h1v4h-1zM371 496h1v4h-1zM242 500h1v3h-1zM257 500h1v3h-1zM264 500h1v3h-1zM273 500h1v3h-1zM277 500h1v3h-1zM283 500h1v3h-1zM294 500h1v3h-1zM350 500h1v3h-1zM246 503h1v4h-1zM254 503h2v4h-2zM258 503h1v4h-1zM262 503h1v4h-1zM267 503h1v4h-1zM274 503h2v4h-2zM279 503h1v4h-1zM287 503h2v4h-2zM291 503h1v4h-1zM294 503h1v4h-1zM296 503h1v4h-1zM301 503h1v4h-1zM329 503h1v4h-1z"/>
<path fill="#00dd8e" d="M305 390h1v4h-1zM359 390h1v4h-1zM247 394h1v4h-1zM311 394h1v4h-1zM235 398h1v3h-1zM247 401h1v4h-1zM313 401h1v4h-1zM315 401h1v4h-1zM330 401h1v4h-1zM336 401h1v4h-1zM360 401h1v4h-1zM236 405h1v4h-1zM247 405h1v4h-1zM236 409h1v3h-1zM305 409h1v3h-1zM235 412h1v4h-1zM236 416h1v4h-1zM305 423h1v4h-1zM305 427h1v4h-1zM236 431h1v3h-1zM256 431h1v3h-1zM256 434h1v4h-1zM247 438h1v3h-1zM256 441h1v4h-1zM247 445h1v4h-1zM256 449h1v3h-1zM305 449h1v3h-1zM236 452h1v4h-1zM306 456h1v4h-1zM306 463h1v4h-1zM306 467h1v4h-1zM451 471h1v3h-1zM459 471h1v3h-1zM461 471h1v3h-1zM474 471h1v3h-1zM477 471h1v3h-1zM481 471h1v3h-1zM484 471h1v3h-1zM236 474h1v4h-1zM247 474h1v4h-1zM483 474h1v4h-1zM284 478h1v4h-1zM301 478h1v4h-1zM303 478h1v4h-1zM306 478h1v4h-1zM254 482h1v3h-1zM260 482h1v3h-1zM239 485h2v4h-2zM254 485h1v4h-1zM268 485h1v4h-1zM400 485h1v4h-1zM239 489h1v3h-1zM246 489h1v3h-1zM258 489h1v3h-1zM283 489h1v3h-1zM291 489h1v3h-1zM294 489h1v3h-1zM297 489h1v3h-1zM373 489h1v3h-1zM378 489h1v3h-1zM381 489h1v3h-1zM384 489h2v3h-2zM392 489h1v3h-1zM418 489h1v3h-1zM430 489h1v3h-1zM436 489h1v3h-1zM239 492h1v4h-1zM242 492h2v4h-2zM249 492h1v4h-1zM254 492h1v4h-1zM268 492h1v4h-1zM283 492h1v4h-1zM291 492h1v4h-1zM239 496h1v4h-1zM249 496h1v4h-1zM254 496h1v4h-1zM265 496h1v4h-1zM291 496h1v4h-1zM297 496h1v4h-1zM314 496h3v4h-3zM318 496h4v4h-4zM325 496h1v4h-1zM334 496h3v4h-3zM338 496h1v4h-1zM345 496h1v4h-1zM353 496h1v4h-1zM368 496h1v4h-1zM239 500h1v3h-1zM243 500h1v3h-1zM291 500h1v3h-1zM312 500h1v3h-1zM341 500h1v3h-1zM344 500h1v3h-1zM354 500h1v3h-1zM238 503h1v4h-1zM245 503h1v4h-1zM248 503h1v4h-1zM252 503h1v4h-1zM271 503h1v4h-1zM277 503h1v4h-1zM281 503h1v4h-1zM293 503h1v4h-1zM298 503h1v4h-1zM300 503h1v4h-1zM304 503h1v4h-1zM307 503h1v4h-1zM328 503h1v4h-1z"/>
<path fill="#00e884" d="M235 390h1v4h-1zM247 390h1v4h-1zM307 390h1v4h-1zM355 390h1v4h-1zM236 394h1v4h-1zM247 398h1v3h-1zM342 398h1v3h-1zM316 401h6v4h-6zM324 401h2v4h-2zM333 401h1v4h-1zM337 401h2v4h-2zM340 401h1v4h-1zM345 401h3v4h-3zM236 412h1v4h-1zM247 412h1v4h-1zM247 416h1v4h-1zM236 423h1v4h-1zM247 427h1v4h-1zM236 434h1v4h-1zM307 449h1v3h-1zM261 452h1v4h-1zM307 452h1v4h-1zM247 456h1v4h-1zM261 467h1v4h-1zM442 471h1v3h-1zM444 471h3v3h-3zM456 471h2v3h-2zM460 471h1v3h-1zM462 471h1v3h-1zM472 471h1v3h-1zM306 474h1v4h-1zM439 474h1v4h-1zM478 478h1v4h-1zM482 478h1v4h-1zM235 482h1v3h-1zM298 482h1v3h-1zM243 485h1v4h-1zM245 485h1v4h-1zM249 485h1v4h-1zM258 485h1v4h-1zM263 485h1v4h-1zM283 485h1v4h-1zM287 485h1v4h-1zM242 489h2v3h-2zM249 489h1v3h-1zM253 489h2v3h-2zM287 489h1v3h-1zM393 489h1v3h-1zM237 492h1v4h-1zM253 492h1v4h-1zM258 492h2v4h-2zM273 492h1v4h-1zM298 492h1v4h-1zM361 492h1v4h-1zM363 492h1v4h-1zM365 492h1v4h-1zM369 492h2v4h-2zM372 492h1v4h-1zM242 496h1v4h-1zM246 496h1v4h-1zM258 496h1v4h-1zM268 496h1v4h-1zM273 496h1v4h-1zM275 496h1v4h-1zM290 496h1v4h-1zM294 496h1v4h-1zM298 496h1v4h-1zM301 496h1v4h-1zM308 496h2v4h-2zM313 496h1v4h-1zM317 496h1v4h-1zM324 496h1v4h-1zM327 496h1v4h-1zM330 496h2v4h-2zM339 496h2v4h-2zM346 496h2v4h-2zM349 496h1v4h-1zM351 496h2v4h-2zM362 496h1v4h-1zM237 500h1v3h-1zM246 500h1v3h-1zM254 500h1v3h-1zM258 500h3v3h-3zM265 500h1v3h-1zM268 500h1v3h-1zM289 500h2v3h-2zM297 500h1v3h-1zM310 500h1v3h-1zM329 500h1v3h-1zM357 500h1v3h-1zM241 503h1v4h-1zM244 503h1v4h-1zM269 503h1v4h-1zM276 503h1v4h-1zM280 503h1v4h-1zM285 503h1v4h-1zM295 503h1v4h-1zM299 503h1v4h-1zM311 503h1v4h-1z"/>
<path fill="#00f47a" d="M342 390h1v4h-1zM236 398h1v3h-1zM355 398h1v3h-1zM236 401h1v4h-1zM314 401h1v4h-1zM322 401h1v4h-1zM326 401h2v4h-2zM350 401h1v4h-1zM353 401h1v4h-1zM370 405h1v4h-1zM247 409h1v3h-1zM361 409h1v3h-1zM236 420h1v3h-1zM236 427h1v4h-1zM236 438h1v3h-1zM236 441h1v4h-1zM247 441h1v4h-1zM236 445h1v4h-1zM236 449h1v3h-1zM247 449h1v3h-1zM261 460h1v3h-1zM440 471h1v3h-1zM443 471h1v3h-1zM450 471h1v3h-1zM452 471h2v3h-2zM469 471h1v3h-1zM471 471h1v3h-1zM473 471h1v3h-1zM476 471h1v3h-1zM478 471h2v3h-2zM482 471h1v3h-1zM485 471h1v3h-1zM261 478h1v4h-1zM286 478h1v4h-1zM302 478h1v4h-1zM282 482h1v3h-1zM286 482h3v3h-3zM297 482h1v3h-1zM235 485h1v4h-1zM237 485h2v4h-2zM242 485h1v4h-1zM269 485h2v4h-2zM286 485h1v4h-1zM437 485h1v4h-1zM237 489h2v3h-2zM245 489h1v3h-1zM251 489h1v3h-1zM259 489h1v3h-1zM266 489h1v3h-1zM268 489h1v3h-1zM270 489h2v3h-2zM288 489h1v3h-1zM290 489h1v3h-1zM479 489h1v3h-1zM481 489h1v3h-1zM255 492h1v4h-1zM262 492h2v4h-2zM286 492h3v4h-3zM296 492h2v4h-2zM366 492h1v4h-1zM237 496h1v4h-1zM253 496h1v4h-1zM255 496h1v4h-1zM262 496h2v4h-2zM287 496h3v4h-3zM295 496h2v4h-2zM302 496h1v4h-1zM323 496h1v4h-1zM356 496h1v4h-1zM245 500h1v3h-1zM249 500h1v3h-1zM253 500h1v3h-1zM262 500h2v3h-2zM276 500h1v3h-1zM282 500h1v3h-1zM287 500h1v3h-1zM298 500h1v3h-1zM303 503h1v4h-1zM305 503h1v4h-1zM342 503h2v4h-2z"/>
<path fill="#00ff6f" d="M236 390h1v4h-1zM307 394h1v4h-1zM342 394h2v4h-2zM359 394h1v4h-1zM307 398h1v3h-1zM308 401h2v4h-2zM323 401h1v4h-1zM331 401h2v4h-2zM335 401h1v4h-1zM339 401h1v4h-1zM348 401h2v4h-2zM351 401h2v4h-2zM374 401h1v4h-1zM320 405h1v4h-1zM369 405h1v4h-1zM372 405h1v4h-1zM369 409h1v3h-1zM261 412h1v4h-1zM361 412h1v4h-1zM366 412h1v4h-1zM247 420h1v3h-1zM247 423h1v4h-1zM247 431h1v3h-1zM247 434h1v4h-1zM313 445h1v4h-1zM319 445h2v4h-2zM325 445h2v4h-2zM337 445h1v4h-1zM308 449h1v3h-1zM261 456h1v4h-1zM477 467h1v4h-1zM261 471h1v3h-1zM454 471h1v3h-1zM463 471h6v3h-6zM475 471h1v3h-1zM483 471h1v3h-1zM486 471h1v3h-1zM261 474h1v4h-1zM422 478h1v4h-1zM236 482h1v3h-1zM296 482h1v3h-1zM301 482h1v3h-1zM305 482h1v3h-1zM397 482h1v3h-1zM251 485h1v4h-1zM255 485h1v4h-1zM260 485h1v4h-1zM267 485h1v4h-1zM282 485h1v4h-1zM293 485h1v4h-1zM297 485h2v4h-2zM301 485h1v4h-1zM304 485h1v4h-1zM240 489h1v3h-1zM260 489h1v3h-1zM263 489h1v3h-1zM267 489h1v3h-1zM269 489h1v3h-1zM281 489h2v3h-2zM286 489h1v3h-1zM289 489h1v3h-1zM292 489h1v3h-1zM295 489h1v3h-1zM298 489h1v3h-1zM301 489h2v3h-2zM304 489h1v3h-1zM361 489h1v3h-1zM370 489h1v3h-1zM374 489h1v3h-1zM240 492h1v4h-1zM245 492h1v4h-1zM251 492h1v4h-1zM260 492h1v4h-1zM267 492h1v4h-1zM270 492h1v4h-1zM274 492h1v4h-1zM282 492h1v4h-1zM290 492h1v4h-1zM301 492h2v4h-2zM316 492h1v4h-1zM362 492h1v4h-1zM364 492h1v4h-1zM371 492h1v4h-1zM238 496h1v4h-1zM251 496h1v4h-1zM259 496h2v4h-2zM270 496h1v4h-1zM274 496h1v4h-1zM286 496h1v4h-1zM332 496h1v4h-1zM341 496h1v4h-1zM344 496h1v4h-1zM348 496h1v4h-1zM350 496h1v4h-1zM354 496h1v4h-1zM238 500h1v3h-1zM240 500h1v3h-1zM251 500h1v3h-1zM255 500h1v3h-1zM266 500h2v3h-2zM269 500h3v3h-3zM275 500h1v3h-1zM286 500h1v3h-1zM288 500h1v3h-1zM295 500h1v3h-1zM301 500h1v3h-1zM235 503h1v4h-1zM284 503h1v4h-1zM292 503h1v4h-1zM302 503h1v4h-1zM355 503h1v4h-1z"/>
<path fill="#06ff5e" d="M358 390h1v4h-1zM375 390h1v4h-1zM355 394h1v4h-1zM306 398h1v3h-1zM311 398h1v3h-1zM334 401h1v4h-1zM344 401h1v4h-1zM354 401h1v4h-1zM315 405h4v4h-4zM325 405h1v4h-1zM336 405h2v4h-2zM361 405h1v4h-1zM363 405h2v4h-2zM261 409h1v3h-1zM363 409h1v3h-1zM370 409h1v3h-1zM363 412h1v4h-1zM370 412h1v4h-1zM361 416h1v4h-1zM364 416h1v4h-1zM369 416h2v4h-2zM372 416h1v4h-1zM361 420h1v3h-1zM366 420h1v3h-1zM361 423h1v4h-1zM363 427h1v4h-1zM261 431h1v3h-1zM313 438h1v3h-1zM315 441h2v4h-2zM322 441h1v4h-1zM324 441h1v4h-1zM326 441h1v4h-1zM337 441h1v4h-1zM346 441h1v4h-1zM308 445h1v4h-1zM316 445h3v4h-3zM324 445h1v4h-1zM338 445h1v4h-1zM340 445h1v4h-1zM347 445h1v4h-1zM346 449h1v3h-1zM356 449h1v3h-1zM308 452h1v4h-1zM261 463h1v4h-1zM451 467h1v4h-1zM459 467h1v4h-1zM462 467h1v4h-1zM484 467h1v4h-1zM441 471h1v3h-1zM447 471h3v3h-3zM455 471h1v3h-1zM458 471h1v3h-1zM470 471h1v3h-1zM438 478h1v4h-1zM241 482h1v3h-1zM281 482h1v3h-1zM302 482h1v3h-1zM304 482h1v3h-1zM252 485h1v4h-1zM262 485h1v4h-1zM285 485h1v4h-1zM288 485h1v4h-1zM296 485h1v4h-1zM302 485h1v4h-1zM235 489h1v3h-1zM255 489h1v3h-1zM262 489h1v3h-1zM284 489h1v3h-1zM296 489h1v3h-1zM305 489h1v3h-1zM364 489h1v3h-1zM235 492h1v4h-1zM238 492h1v4h-1zM269 492h1v4h-1zM271 492h1v4h-1zM281 492h1v4h-1zM289 492h1v4h-1zM293 492h1v4h-1zM295 492h1v4h-1zM304 492h1v4h-1zM313 492h1v4h-1zM318 492h2v4h-2zM322 492h1v4h-1zM325 492h1v4h-1zM337 492h2v4h-2zM367 492h2v4h-2zM235 496h1v4h-1zM240 496h1v4h-1zM245 496h1v4h-1zM266 496h2v4h-2zM269 496h1v4h-1zM271 496h1v4h-1zM281 496h2v4h-2zM285 496h1v4h-1zM303 496h3v4h-3zM307 496h1v4h-1zM310 496h1v4h-1zM312 496h1v4h-1zM235 500h1v3h-1zM248 500h1v3h-1zM281 500h1v3h-1zM284 500h1v3h-1zM293 500h1v3h-1zM302 500h2v3h-2zM307 500h1v3h-1zM311 500h1v3h-1zM328 500h1v3h-1zM236 503h1v4h-1zM247 503h1v4h-1zM256 503h1v4h-1zM306 503h1v4h-1zM359 503h1v4h-1z"/>
<path fill="#0cff4d" d="M261 390h1v4h-1zM375 394h1v4h-1zM343 398h1v3h-1zM375 398h1v3h-1zM261 401h1v4h-1zM306 401h2v4h-2zM312 401h1v4h-1zM356 401h1v4h-1zM308 405h2v4h-2zM319 405h1v4h-1zM321 405h1v4h-1zM324 405h1v4h-1zM327 405h1v4h-1zM330 405h1v4h-1zM333 405h1v4h-1zM338 405h1v4h-1zM345 405h3v4h-3zM349 405h1v4h-1zM360 405h1v4h-1zM366 405h2v4h-2zM313 409h1v3h-1zM362 409h1v3h-1zM364 409h1v3h-1zM366 409h1v3h-1zM372 409h1v3h-1zM362 412h1v4h-1zM364 412h1v4h-1zM369 412h1v4h-1zM261 416h1v4h-1zM316 416h1v4h-1zM319 416h1v4h-1zM363 416h1v4h-1zM319 420h1v3h-1zM345 420h1v3h-1zM369 420h1v3h-1zM261 423h1v4h-1zM364 423h2v4h-2zM372 423h1v4h-1zM369 427h2v4h-2zM345 431h1v3h-1zM361 431h1v3h-1zM364 431h1v3h-1zM261 434h1v4h-1zM337 434h1v4h-1zM369 434h2v4h-2zM261 438h1v3h-1zM308 438h1v3h-1zM317 438h1v3h-1zM321 438h1v3h-1zM326 438h1v3h-1zM336 438h2v3h-2zM345 438h1v3h-1zM361 438h1v3h-1zM261 441h1v4h-1zM313 441h1v4h-1zM318 441h3v4h-3zM323 441h1v4h-1zM327 441h1v4h-1zM340 441h1v4h-1zM345 441h1v4h-1zM347 441h1v4h-1zM353 441h1v4h-1zM314 445h2v4h-2zM321 445h2v4h-2zM327 445h1v4h-1zM330 445h1v4h-1zM332 445h2v4h-2zM335 445h2v4h-2zM345 445h2v4h-2zM311 449h3v3h-3zM315 449h2v3h-2zM319 449h4v3h-4zM324 449h1v3h-1zM326 449h2v3h-2zM338 449h1v3h-1zM340 449h1v3h-1zM354 449h1v3h-1zM313 452h1v4h-1zM320 452h1v4h-1zM442 467h3v4h-3zM450 467h1v4h-1zM460 467h1v4h-1zM463 467h1v4h-1zM466 467h1v4h-1zM469 467h1v4h-1zM473 467h1v4h-1zM482 467h1v4h-1zM300 478h1v4h-1zM424 478h1v4h-1zM284 482h1v3h-1zM300 482h1v3h-1zM303 482h1v3h-1zM400 482h1v3h-1zM241 485h1v4h-1zM244 485h1v4h-1zM281 485h1v4h-1zM284 485h1v4h-1zM299 485h1v4h-1zM303 485h1v4h-1zM305 485h1v4h-1zM364 485h1v4h-1zM386 485h1v4h-1zM391 485h1v4h-1zM402 485h1v4h-1zM405 485h1v4h-1zM407 485h1v4h-1zM410 485h1v4h-1zM427 485h1v4h-1zM241 489h1v3h-1zM244 489h1v3h-1zM300 489h1v3h-1zM303 489h1v3h-1zM363 489h1v3h-1zM368 489h1v3h-1zM241 492h1v4h-1zM266 492h1v4h-1zM284 492h2v4h-2zM300 492h1v4h-1zM308 492h1v4h-1zM315 492h1v4h-1zM320 492h2v4h-2zM326 492h2v4h-2zM330 492h2v4h-2zM336 492h1v4h-1zM340 492h1v4h-1zM345 492h1v4h-1zM351 492h1v4h-1zM248 496h1v4h-1zM293 496h1v4h-1zM299 496h1v4h-1zM329 496h1v4h-1zM252 500h1v3h-1zM274 500h1v3h-1zM285 500h1v3h-1zM296 500h1v3h-1zM300 500h1v3h-1zM305 500h2v3h-2zM343 500h1v3h-1z"/>
<path fill="#13ff3d" d="M306 390h1v4h-1zM261 394h1v4h-1zM358 394h1v4h-1zM261 398h1v3h-1zM310 401h1v4h-1zM341 401h1v4h-1zM261 405h1v4h-1zM313 405h1v4h-1zM322 405h1v4h-1zM326 405h1v4h-1zM331 405h2v4h-2zM340 405h1v4h-1zM348 405h1v4h-1zM350 405h1v4h-1zM353 405h1v4h-1zM362 405h1v4h-1zM365 405h1v4h-1zM368 405h1v4h-1zM371 405h1v4h-1zM373 405h1v4h-1zM308 409h1v3h-1zM324 409h1v3h-1zM326 409h1v3h-1zM338 409h1v3h-1zM345 409h1v3h-1zM365 409h1v3h-1zM373 409h1v3h-1zM315 412h1v4h-1zM318 412h1v4h-1zM325 412h2v4h-2zM330 412h1v4h-1zM336 412h1v4h-1zM338 412h1v4h-1zM345 412h1v4h-1zM365 412h1v4h-1zM372 412h1v4h-1zM313 416h1v4h-1zM315 416h1v4h-1zM322 416h1v4h-1zM325 416h1v4h-1zM336 416h1v4h-1zM345 416h1v4h-1zM360 416h1v4h-1zM362 416h1v4h-1zM365 416h3v4h-3zM371 416h1v4h-1zM261 420h1v3h-1zM313 420h2v3h-2zM325 420h2v3h-2zM346 420h1v3h-1zM363 420h2v3h-2zM367 420h1v3h-1zM370 420h1v3h-1zM372 420h1v3h-1zM308 423h1v4h-1zM313 423h1v4h-1zM315 423h1v4h-1zM318 423h1v4h-1zM320 423h1v4h-1zM327 423h1v4h-1zM338 423h1v4h-1zM360 423h1v4h-1zM362 423h2v4h-2zM369 423h2v4h-2zM261 427h1v4h-1zM317 427h4v4h-4zM330 427h1v4h-1zM336 427h2v4h-2zM361 427h1v4h-1zM365 427h1v4h-1zM308 431h1v3h-1zM326 431h1v3h-1zM336 431h2v3h-2zM347 431h1v3h-1zM369 431h2v3h-2zM372 431h1v3h-1zM316 434h1v4h-1zM319 434h2v4h-2zM322 434h1v4h-1zM324 434h1v4h-1zM336 434h1v4h-1zM345 434h1v4h-1zM347 434h1v4h-1zM360 434h1v4h-1zM364 434h1v4h-1zM366 434h1v4h-1zM306 438h1v3h-1zM316 438h1v3h-1zM318 438h3v3h-3zM325 438h1v3h-1zM327 438h1v3h-1zM332 438h1v3h-1zM340 438h1v3h-1zM347 438h1v3h-1zM351 438h1v3h-1zM353 438h1v3h-1zM369 438h1v3h-1zM306 441h1v4h-1zM308 441h1v4h-1zM321 441h1v4h-1zM325 441h1v4h-1zM330 441h1v4h-1zM333 441h4v4h-4zM338 441h1v4h-1zM348 441h1v4h-1zM351 441h1v4h-1zM261 445h1v4h-1zM309 445h1v4h-1zM323 445h1v4h-1zM334 445h1v4h-1zM339 445h1v4h-1zM353 445h1v4h-1zM261 449h1v3h-1zM314 449h1v3h-1zM317 449h2v3h-2zM325 449h1v3h-1zM330 449h1v3h-1zM333 449h1v3h-1zM336 449h2v3h-2zM341 449h1v3h-1zM344 449h2v3h-2zM315 452h1v4h-1zM321 452h1v4h-1zM326 452h2v4h-2zM336 452h1v4h-1zM345 452h2v4h-2zM353 452h2v4h-2zM356 452h1v4h-1zM307 456h1v4h-1zM442 463h1v4h-1zM459 463h1v4h-1zM440 467h1v4h-1zM447 467h1v4h-1zM449 467h1v4h-1zM452 467h3v4h-3zM456 467h3v4h-3zM461 467h1v4h-1zM464 467h1v4h-1zM467 467h1v4h-1zM470 467h1v4h-1zM472 467h1v4h-1zM474 467h2v4h-2zM478 467h1v4h-1zM483 467h1v4h-1zM485 467h1v4h-1zM439 471h1v3h-1zM285 482h1v3h-1zM307 482h1v3h-1zM361 482h1v3h-1zM248 485h1v4h-1zM300 485h1v4h-1zM363 485h1v4h-1zM365 485h1v4h-1zM369 485h2v4h-2zM373 485h1v4h-1zM376 485h1v4h-1zM380 485h1v4h-1zM384 485h1v4h-1zM394 485h1v4h-1zM396 485h1v4h-1zM409 485h1v4h-1zM411 485h2v4h-2zM417 485h1v4h-1zM419 485h3v4h-3zM425 485h2v4h-2zM433 485h2v4h-2zM236 489h1v3h-1zM248 489h1v3h-1zM252 489h1v3h-1zM285 489h1v3h-1zM293 489h1v3h-1zM315 489h1v3h-1zM318 489h1v3h-1zM362 489h1v3h-1zM365 489h2v3h-2zM369 489h1v3h-1zM371 489h2v3h-2zM244 492h1v4h-1zM248 492h1v4h-1zM256 492h1v4h-1zM292 492h1v4h-1zM303 492h1v4h-1zM305 492h1v4h-1zM314 492h1v4h-1zM323 492h2v4h-2zM333 492h3v4h-3zM346 492h2v4h-2zM350 492h1v4h-1zM356 492h1v4h-1zM241 496h1v4h-1zM244 496h1v4h-1zM284 496h1v4h-1zM300 496h1v4h-1zM306 496h1v4h-1zM328 496h1v4h-1zM357 496h1v4h-1zM236 500h1v3h-1zM241 500h1v3h-1zM244 500h1v3h-1zM299 500h1v3h-1zM304 500h1v3h-1zM342 500h1v3h-1zM355 500h1v3h-1z"/>
<path fill="#1fff2c" d="M359 398h1v3h-1zM357 401h1v4h-1zM307 405h1v4h-1zM314 405h1v4h-1zM323 405h1v4h-1zM334 405h2v4h-2zM354 405h1v4h-1zM314 409h2v3h-2zM317 409h3v3h-3zM330 409h1v3h-1zM335 409h2v3h-2zM340 409h1v3h-1zM347 409h1v3h-1zM360 409h1v3h-1zM367 409h2v3h-2zM371 409h1v3h-1zM306 412h3v4h-3zM314 412h1v4h-1zM317 412h1v4h-1zM319 412h1v4h-1zM322 412h1v4h-1zM324 412h1v4h-1zM333 412h1v4h-1zM335 412h1v4h-1zM340 412h1v4h-1zM346 412h2v4h-2zM353 412h1v4h-1zM360 412h1v4h-1zM367 412h2v4h-2zM371 412h1v4h-1zM309 416h1v4h-1zM314 416h1v4h-1zM321 416h1v4h-1zM323 416h2v4h-2zM326 416h2v4h-2zM338 416h2v4h-2zM346 416h2v4h-2zM317 420h1v3h-1zM320 420h2v3h-2zM327 420h1v3h-1zM333 420h1v3h-1zM336 420h1v3h-1zM338 420h1v3h-1zM353 420h1v3h-1zM362 420h1v3h-1zM365 420h1v3h-1zM368 420h1v3h-1zM306 423h1v4h-1zM309 423h1v4h-1zM316 423h1v4h-1zM319 423h1v4h-1zM321 423h2v4h-2zM324 423h1v4h-1zM337 423h1v4h-1zM345 423h2v4h-2zM349 423h1v4h-1zM353 423h1v4h-1zM366 423h1v4h-1zM371 423h1v4h-1zM307 427h3v4h-3zM315 427h2v4h-2zM321 427h4v4h-4zM327 427h1v4h-1zM340 427h1v4h-1zM345 427h3v4h-3zM360 427h1v4h-1zM364 427h1v4h-1zM366 427h1v4h-1zM372 427h1v4h-1zM314 431h3v3h-3zM318 431h3v3h-3zM322 431h1v3h-1zM325 431h1v3h-1zM327 431h1v3h-1zM346 431h1v3h-1zM363 431h1v3h-1zM365 431h2v3h-2zM368 431h1v3h-1zM313 434h2v4h-2zM323 434h1v4h-1zM327 434h1v4h-1zM330 434h1v4h-1zM333 434h1v4h-1zM338 434h1v4h-1zM361 434h1v4h-1zM363 434h1v4h-1zM309 438h1v3h-1zM315 438h1v3h-1zM322 438h1v3h-1zM324 438h1v3h-1zM331 438h1v3h-1zM333 438h1v3h-1zM338 438h1v3h-1zM346 438h1v3h-1zM360 438h1v3h-1zM364 438h1v3h-1zM366 438h1v3h-1zM370 438h1v3h-1zM372 438h1v3h-1zM307 441h1v4h-1zM309 441h1v4h-1zM314 441h1v4h-1zM317 441h1v4h-1zM331 441h2v4h-2zM339 441h1v4h-1zM350 441h1v4h-1zM352 441h1v4h-1zM306 445h1v4h-1zM331 445h1v4h-1zM344 445h1v4h-1zM352 445h1v4h-1zM309 449h2v3h-2zM334 449h1v3h-1zM355 449h1v3h-1zM309 452h1v4h-1zM316 452h1v4h-1zM319 452h1v4h-1zM322 452h2v4h-2zM325 452h1v4h-1zM337 452h2v4h-2zM340 452h1v4h-1zM443 463h1v4h-1zM451 463h1v4h-1zM456 463h1v4h-1zM460 463h1v4h-1zM472 463h1v4h-1zM474 463h2v4h-2zM477 463h1v4h-1zM483 463h1v4h-1zM485 463h1v4h-1zM441 467h1v4h-1zM445 467h2v4h-2zM448 467h1v4h-1zM471 467h1v4h-1zM476 467h1v4h-1zM486 467h1v4h-1zM299 478h1v4h-1zM361 478h1v4h-1zM247 482h1v3h-1zM299 482h1v3h-1zM363 482h1v3h-1zM366 482h1v3h-1zM369 482h2v3h-2zM372 482h1v3h-1zM437 482h1v3h-1zM236 485h1v4h-1zM361 485h1v4h-1zM366 485h1v4h-1zM372 485h1v4h-1zM374 485h2v4h-2zM378 485h1v4h-1zM382 485h2v4h-2zM388 485h1v4h-1zM395 485h1v4h-1zM401 485h1v4h-1zM403 485h2v4h-2zM406 485h1v4h-1zM408 485h1v4h-1zM413 485h4v4h-4zM418 485h1v4h-1zM436 485h1v4h-1zM481 485h1v4h-1zM247 489h1v3h-1zM299 489h1v3h-1zM308 489h1v3h-1zM313 489h2v3h-2zM319 489h2v3h-2zM322 489h1v3h-1zM325 489h1v3h-1zM327 489h1v3h-1zM333 489h1v3h-1zM337 489h1v3h-1zM345 489h1v3h-1zM347 489h1v3h-1zM367 489h1v3h-1zM236 492h1v4h-1zM247 492h1v4h-1zM252 492h1v4h-1zM299 492h1v4h-1zM307 492h1v4h-1zM309 492h1v4h-1zM317 492h1v4h-1zM332 492h1v4h-1zM349 492h1v4h-1zM353 492h1v4h-1zM360 492h1v4h-1zM236 496h1v4h-1zM247 496h1v4h-1zM252 496h1v4h-1zM247 500h1v3h-1zM292 500h1v3h-1zM358 503h1v4h-1z"/>
<path fill="#2cff1b" d="M306 394h1v4h-1zM358 398h1v3h-1zM328 401h2v4h-2zM375 401h1v4h-1zM306 405h1v4h-1zM339 405h1v4h-1zM344 405h1v4h-1zM351 405h2v4h-2zM356 405h1v4h-1zM306 409h1v3h-1zM309 409h1v3h-1zM316 409h1v3h-1zM320 409h1v3h-1zM322 409h2v3h-2zM325 409h1v3h-1zM327 409h1v3h-1zM331 409h1v3h-1zM337 409h1v3h-1zM346 409h1v3h-1zM348 409h1v3h-1zM309 412h1v4h-1zM313 412h1v4h-1zM316 412h1v4h-1zM320 412h1v4h-1zM323 412h1v4h-1zM327 412h1v4h-1zM331 412h1v4h-1zM337 412h1v4h-1zM350 412h1v4h-1zM373 412h1v4h-1zM306 416h3v4h-3zM317 416h2v4h-2zM320 416h1v4h-1zM330 416h1v4h-1zM332 416h2v4h-2zM337 416h1v4h-1zM349 416h1v4h-1zM351 416h3v4h-3zM368 416h1v4h-1zM373 416h1v4h-1zM306 420h1v3h-1zM308 420h2v3h-2zM315 420h2v3h-2zM318 420h1v3h-1zM322 420h3v3h-3zM337 420h1v3h-1zM339 420h2v3h-2zM347 420h1v3h-1zM350 420h3v3h-3zM360 420h1v3h-1zM371 420h1v3h-1zM314 423h1v4h-1zM317 423h1v4h-1zM325 423h2v4h-2zM331 423h1v4h-1zM336 423h1v4h-1zM347 423h1v4h-1zM367 423h2v4h-2zM306 427h1v4h-1zM313 427h2v4h-2zM325 427h2v4h-2zM331 427h2v4h-2zM334 427h2v4h-2zM338 427h2v4h-2zM348 427h1v4h-1zM350 427h2v4h-2zM353 427h1v4h-1zM356 427h1v4h-1zM368 427h1v4h-1zM371 427h1v4h-1zM306 431h2v3h-2zM309 431h1v3h-1zM313 431h1v3h-1zM321 431h1v3h-1zM323 431h2v3h-2zM330 431h3v3h-3zM334 431h2v3h-2zM338 431h1v3h-1zM340 431h1v3h-1zM356 431h1v3h-1zM360 431h1v3h-1zM367 431h1v3h-1zM371 431h1v3h-1zM308 434h2v4h-2zM315 434h1v4h-1zM317 434h2v4h-2zM321 434h1v4h-1zM325 434h2v4h-2zM331 434h2v4h-2zM335 434h1v4h-1zM339 434h2v4h-2zM346 434h1v4h-1zM351 434h3v4h-3zM356 434h1v4h-1zM365 434h1v4h-1zM371 434h2v4h-2zM307 438h1v3h-1zM314 438h1v3h-1zM330 438h1v3h-1zM335 438h1v3h-1zM348 438h3v3h-3zM354 438h1v3h-1zM362 438h2v3h-2zM365 438h1v3h-1zM367 438h1v3h-1zM354 441h1v4h-1zM356 441h1v4h-1zM307 445h1v4h-1zM312 445h1v4h-1zM341 445h1v4h-1zM354 445h1v4h-1zM356 445h1v4h-1zM323 449h1v3h-1zM328 449h1v3h-1zM331 449h2v3h-2zM335 449h1v3h-1zM339 449h1v3h-1zM342 449h1v3h-1zM353 449h1v3h-1zM314 452h1v4h-1zM317 452h2v4h-2zM324 452h1v4h-1zM332 452h3v4h-3zM339 452h1v4h-1zM341 452h1v4h-1zM307 460h1v3h-1zM307 463h1v4h-1zM450 463h1v4h-1zM461 463h1v4h-1zM463 463h2v4h-2zM478 463h1v4h-1zM484 463h1v4h-1zM455 467h1v4h-1zM465 467h1v4h-1zM468 467h1v4h-1zM481 467h1v4h-1zM307 471h1v3h-1zM363 478h1v4h-1zM369 478h1v4h-1zM372 478h1v4h-1zM261 482h1v3h-1zM371 482h1v3h-1zM373 482h2v3h-2zM247 485h1v4h-1zM256 485h1v4h-1zM306 485h1v4h-1zM308 485h1v4h-1zM345 485h1v4h-1zM362 485h1v4h-1zM367 485h1v4h-1zM377 485h1v4h-1zM379 485h1v4h-1zM385 485h1v4h-1zM387 485h1v4h-1zM389 485h2v4h-2zM392 485h1v4h-1zM430 485h2v4h-2zM435 485h1v4h-1zM256 489h1v3h-1zM306 489h1v3h-1zM316 489h1v3h-1zM336 489h1v3h-1zM338 489h1v3h-1zM346 489h1v3h-1zM348 489h3v3h-3zM360 489h1v3h-1zM306 492h1v4h-1zM312 492h1v4h-1zM339 492h1v4h-1zM341 492h1v4h-1zM348 492h1v4h-1zM352 492h1v4h-1zM354 492h1v4h-1zM292 496h1v4h-1zM256 500h1v3h-1zM359 500h1v3h-1z"/>
<path fill="#38ff0a" d="M343 401h1v4h-1zM310 405h1v4h-1zM307 409h1v3h-1zM321 409h1v3h-1zM333 409h1v3h-1zM339 409h1v3h-1zM349 409h3v3h-3zM353 409h1v3h-1zM321 412h1v4h-1zM339 412h1v4h-1zM344 412h1v4h-1zM348 412h2v4h-2zM352 412h1v4h-1zM356 412h1v4h-1zM331 416h1v4h-1zM334 416h2v4h-2zM340 416h1v4h-1zM344 416h1v4h-1zM348 416h1v4h-1zM356 416h1v4h-1zM307 420h1v3h-1zM330 420h3v3h-3zM334 420h2v3h-2zM348 420h2v3h-2zM354 420h1v3h-1zM307 423h1v4h-1zM323 423h1v4h-1zM330 423h1v4h-1zM333 423h3v4h-3zM339 423h2v4h-2zM348 423h1v4h-1zM350 423h3v4h-3zM356 423h1v4h-1zM333 427h1v4h-1zM349 427h1v4h-1zM362 427h1v4h-1zM367 427h1v4h-1zM317 431h1v3h-1zM333 431h1v3h-1zM339 431h1v3h-1zM348 431h2v3h-2zM351 431h4v3h-4zM362 431h1v3h-1zM306 434h1v4h-1zM334 434h1v4h-1zM362 434h1v4h-1zM367 434h2v4h-2zM323 438h1v3h-1zM334 438h1v3h-1zM339 438h1v3h-1zM352 438h1v3h-1zM356 438h1v3h-1zM310 441h1v4h-1zM344 441h1v4h-1zM349 441h1v4h-1zM329 445h1v4h-1zM329 449h1v3h-1zM335 452h1v4h-1zM355 452h1v4h-1zM308 456h1v4h-1zM451 460h2v3h-2zM456 460h1v3h-1zM460 460h2v3h-2zM472 460h1v3h-1zM477 460h1v3h-1zM482 460h1v3h-1zM484 460h1v3h-1zM447 463h1v4h-1zM449 463h1v4h-1zM452 463h1v4h-1zM457 463h2v4h-2zM462 463h1v4h-1zM465 463h2v4h-2zM468 463h2v4h-2zM473 463h1v4h-1zM476 463h1v4h-1zM482 463h1v4h-1zM307 474h1v4h-1zM438 474h1v4h-1zM307 478h1v4h-1zM370 478h1v4h-1zM373 478h1v4h-1zM364 482h2v3h-2zM368 482h1v3h-1zM315 485h2v4h-2zM320 485h1v4h-1zM322 485h1v4h-1zM326 485h1v4h-1zM340 485h1v4h-1zM368 485h1v4h-1zM371 485h1v4h-1zM381 485h1v4h-1zM393 485h1v4h-1zM428 485h2v4h-2zM432 485h1v4h-1zM479 485h1v4h-1zM309 489h1v3h-1zM317 489h1v3h-1zM321 489h1v3h-1zM324 489h1v3h-1zM326 489h1v3h-1zM330 489h1v3h-1zM335 489h1v3h-1zM340 489h1v3h-1zM344 492h1v4h-1zM256 496h1v4h-1zM311 496h1v4h-1zM342 496h2v4h-2zM261 503h1v4h-1z"/>
<path fill="#45ff00" d="M311 401h1v4h-1zM342 401h1v4h-1zM312 405h1v4h-1zM329 405h1v4h-1zM312 409h1v3h-1zM332 409h1v3h-1zM334 409h1v3h-1zM344 409h1v3h-1zM352 409h1v3h-1zM354 409h1v3h-1zM332 412h1v4h-1zM334 412h1v4h-1zM351 412h1v4h-1zM354 412h1v4h-1zM341 416h1v4h-1zM350 416h1v4h-1zM354 416h1v4h-1zM344 420h1v3h-1zM373 420h1v3h-1zM332 423h1v4h-1zM344 423h1v4h-1zM341 427h1v4h-1zM352 427h1v4h-1zM373 427h1v4h-1zM312 431h1v3h-1zM350 431h1v3h-1zM307 434h1v4h-1zM344 434h1v4h-1zM348 434h3v4h-3zM310 438h1v3h-1zM312 438h1v3h-1zM341 438h1v3h-1zM344 438h1v3h-1zM368 438h1v3h-1zM371 438h1v3h-1zM312 441h1v4h-1zM341 441h1v4h-1zM357 441h1v4h-1zM310 445h1v4h-1zM343 449h1v3h-1zM331 452h1v4h-1zM316 456h1v4h-1zM320 456h1v4h-1zM442 460h2v3h-2zM447 460h1v3h-1zM450 460h1v3h-1zM454 460h1v3h-1zM457 460h1v3h-1zM459 460h1v3h-1zM462 460h1v3h-1zM469 460h1v3h-1zM476 460h1v3h-1zM483 460h1v3h-1zM440 463h1v4h-1zM444 463h3v4h-3zM448 463h1v4h-1zM453 463h1v4h-1zM455 463h1v4h-1zM471 463h1v4h-1zM486 463h1v4h-1zM307 467h1v4h-1zM439 467h1v4h-1zM479 467h1v4h-1zM478 474h1v4h-1zM482 474h1v4h-1zM362 478h1v4h-1zM364 478h1v4h-1zM362 482h1v3h-1zM367 482h1v3h-1zM386 482h1v3h-1zM404 482h1v3h-1zM309 485h1v4h-1zM313 485h1v4h-1zM318 485h2v4h-2zM327 485h1v4h-1zM336 485h2v4h-2zM346 485h2v4h-2zM353 485h1v4h-1zM307 489h1v3h-1zM323 489h1v3h-1zM331 489h2v3h-2zM334 489h1v3h-1zM339 489h1v3h-1zM351 489h3v3h-3zM355 496h1v4h-1z"/>
<path fill="#52ff00" d="M355 401h1v4h-1zM341 405h1v4h-1zM357 405h1v4h-1zM310 409h1v3h-1zM356 409h2v3h-2zM310 412h1v4h-1zM329 412h1v4h-1zM341 412h1v4h-1zM312 416h1v4h-1zM310 420h1v3h-1zM312 420h1v3h-1zM356 420h1v3h-1zM312 423h1v4h-1zM341 423h1v4h-1zM354 423h1v4h-1zM373 423h1v4h-1zM312 427h1v4h-1zM344 427h1v4h-1zM344 431h1v3h-1zM373 431h1v3h-1zM310 434h1v4h-1zM312 434h1v4h-1zM354 434h1v4h-1zM329 438h1v3h-1zM328 441h2v4h-2zM364 441h1v4h-1zM369 441h2v4h-2zM372 441h1v4h-1zM351 445h1v4h-1zM347 449h1v3h-1zM324 456h1v4h-1zM440 460h1v3h-1zM444 460h2v3h-2zM448 460h1v3h-1zM463 460h1v3h-1zM465 460h2v3h-2zM471 460h1v3h-1zM473 460h3v3h-3zM478 460h1v3h-1zM485 460h1v3h-1zM441 463h1v4h-1zM454 463h1v4h-1zM467 463h1v4h-1zM470 463h1v4h-1zM370 474h1v4h-1zM365 478h1v4h-1zM368 478h1v4h-1zM371 478h1v4h-1zM308 482h1v3h-1zM375 482h1v3h-1zM391 482h1v3h-1zM407 482h1v3h-1zM416 482h1v3h-1zM426 482h2v3h-2zM433 482h1v3h-1zM307 485h1v4h-1zM314 485h1v4h-1zM317 485h1v4h-1zM324 485h2v4h-2zM330 485h1v4h-1zM335 485h1v4h-1zM338 485h1v4h-1zM352 485h1v4h-1zM360 485h1v4h-1zM261 489h1v3h-1zM310 489h1v3h-1zM354 489h1v3h-1zM356 489h1v3h-1zM310 492h1v4h-1zM329 492h1v4h-1zM357 492h1v4h-1zM359 496h1v4h-1zM358 500h1v3h-1z"/>
<path fill="#5eff00" d="M376 390h1v4h-1zM359 401h1v4h-1zM328 405h1v4h-1zM374 405h1v4h-1zM329 409h1v3h-1zM341 409h1v3h-1zM312 412h1v4h-1zM310 416h1v4h-1zM357 416h1v4h-1zM329 420h1v3h-1zM341 420h1v3h-1zM357 420h1v3h-1zM310 423h1v4h-1zM329 423h1v4h-1zM310 427h1v4h-1zM354 427h1v4h-1zM310 431h1v3h-1zM329 431h1v3h-1zM341 431h1v3h-1zM357 431h1v3h-1zM341 434h1v4h-1zM357 434h1v4h-1zM357 438h1v3h-1zM373 438h1v3h-1zM361 441h1v4h-1zM363 441h1v4h-1zM328 445h1v4h-1zM348 445h1v4h-1zM355 445h1v4h-1zM322 456h1v4h-1zM325 456h2v4h-2zM335 456h1v4h-1zM337 456h1v4h-1zM340 456h1v4h-1zM354 456h1v4h-1zM356 456h1v4h-1zM442 456h1v4h-1zM452 456h1v4h-1zM459 456h1v4h-1zM462 456h1v4h-1zM469 456h1v4h-1zM473 456h2v4h-2zM483 456h3v4h-3zM446 460h1v3h-1zM449 460h1v3h-1zM453 460h1v3h-1zM455 460h1v3h-1zM458 460h1v3h-1zM486 460h1v3h-1zM361 474h1v4h-1zM363 474h1v4h-1zM422 474h1v4h-1zM366 478h2v4h-2zM374 478h1v4h-1zM318 482h1v3h-1zM327 482h1v3h-1zM346 482h1v3h-1zM376 482h1v3h-1zM380 482h1v3h-1zM382 482h1v3h-1zM387 482h4v3h-4zM401 482h3v3h-3zM409 482h2v3h-2zM415 482h1v3h-1zM419 482h3v3h-3zM431 482h1v3h-1zM436 482h1v3h-1zM261 485h1v4h-1zM321 485h1v4h-1zM323 485h1v4h-1zM332 485h2v4h-2zM339 485h1v4h-1zM348 485h2v4h-2zM351 485h1v4h-1zM344 489h1v3h-1zM261 496h1v4h-1zM261 500h1v3h-1z"/>
<path fill="#6bff00" d="M386 390h1v4h-1zM405 390h1v4h-1zM426 390h1v4h-1zM376 394h1v4h-1zM311 405h1v4h-1zM342 405h1v4h-1zM328 416h1v4h-1zM328 427h2v4h-2zM357 427h1v4h-1zM329 434h1v4h-1zM373 434h1v4h-1zM342 441h1v4h-1zM365 441h4v4h-4zM371 441h1v4h-1zM352 449h1v3h-1zM311 452h2v4h-2zM315 456h1v4h-1zM321 456h1v4h-1zM332 456h2v4h-2zM336 456h1v4h-1zM338 456h1v4h-1zM353 456h1v4h-1zM355 456h1v4h-1zM443 456h1v4h-1zM446 456h2v4h-2zM450 456h2v4h-2zM456 456h1v4h-1zM460 456h2v4h-2zM465 456h1v4h-1zM472 456h1v4h-1zM477 456h2v4h-2zM441 460h1v3h-1zM464 460h1v3h-1zM467 460h2v3h-2zM470 460h1v3h-1zM439 463h1v4h-1zM373 474h1v4h-1zM424 474h1v4h-1zM375 478h1v4h-1zM316 482h2v3h-2zM319 482h1v3h-1zM322 482h1v3h-1zM326 482h1v3h-1zM335 482h1v3h-1zM337 482h1v3h-1zM345 482h1v3h-1zM356 482h1v3h-1zM377 482h3v3h-3zM381 482h1v3h-1zM384 482h1v3h-1zM392 482h5v3h-5zM405 482h2v3h-2zM411 482h2v3h-2zM414 482h1v3h-1zM417 482h1v3h-1zM425 482h1v3h-1zM428 482h1v3h-1zM434 482h1v3h-1zM481 482h1v3h-1zM312 485h1v4h-1zM331 485h1v4h-1zM334 485h1v4h-1zM350 485h1v4h-1zM356 485h1v4h-1zM312 489h1v3h-1zM341 489h1v3h-1zM261 492h1v4h-1zM328 492h1v4h-1zM342 492h1v4h-1z"/>
<path fill="#78ff00" d="M382 390h1v4h-1zM387 390h1v4h-1zM397 390h1v4h-1zM402 390h3v4h-3zM407 390h1v4h-1zM410 390h3v4h-3zM414 390h1v4h-1zM417 390h1v4h-1zM419 390h1v4h-1zM423 390h1v4h-1zM433 390h1v4h-1zM382 394h1v4h-1zM403 394h3v4h-3zM376 398h1v3h-1zM404 398h1v3h-1zM423 398h1v3h-1zM374 409h1v3h-1zM328 412h1v4h-1zM357 412h1v4h-1zM329 416h1v4h-1zM328 420h1v3h-1zM357 423h1v4h-1zM328 431h1v3h-1zM328 434h1v4h-1zM328 438h1v3h-1zM355 438h1v3h-1zM343 441h1v4h-1zM362 441h1v4h-1zM311 445h1v4h-1zM343 445h1v4h-1zM310 452h1v4h-1zM314 456h1v4h-1zM334 456h1v4h-1zM345 456h2v4h-2zM441 456h1v4h-1zM445 456h1v4h-1zM448 456h2v4h-2zM454 456h1v4h-1zM458 456h1v4h-1zM464 456h1v4h-1zM466 456h1v4h-1zM468 456h1v4h-1zM476 456h1v4h-1zM486 456h1v4h-1zM438 471h1v3h-1zM362 474h1v4h-1zM372 474h1v4h-1zM309 482h1v3h-1zM311 482h1v3h-1zM313 482h1v3h-1zM315 482h1v3h-1zM320 482h1v3h-1zM331 482h1v3h-1zM340 482h1v3h-1zM344 482h1v3h-1zM349 482h1v3h-1zM351 482h1v3h-1zM354 482h1v3h-1zM360 482h1v3h-1zM383 482h1v3h-1zM413 482h1v3h-1zM418 482h1v3h-1zM429 482h2v3h-2zM435 482h1v3h-1zM329 485h1v4h-1zM344 485h1v4h-1zM354 485h1v4h-1zM329 489h1v3h-1zM357 489h1v3h-1zM358 496h1v4h-1z"/>
<path fill="#84ff00" d="M377 390h2v4h-2zM380 390h1v4h-1zM383 390h1v4h-1zM388 390h2v4h-2zM391 390h1v4h-1zM396 390h1v4h-1zM399 390h1v4h-1zM408 390h2v4h-2zM416 390h1v4h-1zM422 390h1v4h-1zM427 390h1v4h-1zM436 390h1v4h-1zM387 394h1v4h-1zM391 394h1v4h-1zM399 394h1v4h-1zM402 394h1v4h-1zM407 394h1v4h-1zM410 394h1v4h-1zM386 398h1v3h-1zM422 398h1v3h-1zM433 398h1v3h-1zM358 401h1v4h-1zM343 405h1v4h-1zM355 405h1v4h-1zM359 405h1v4h-1zM328 409h1v3h-1zM343 416h1v4h-1zM343 420h1v3h-1zM328 423h1v4h-1zM355 423h1v4h-1zM311 427h1v4h-1zM342 427h2v4h-2zM311 431h1v3h-1zM343 434h1v4h-1zM342 438h1v3h-1zM311 441h1v4h-1zM355 441h1v4h-1zM360 441h1v4h-1zM342 445h1v4h-1zM357 445h1v4h-1zM361 445h1v4h-1zM361 449h1v3h-1zM344 452h1v4h-1zM347 452h1v4h-1zM456 452h1v4h-1zM459 452h1v4h-1zM477 452h1v4h-1zM484 452h1v4h-1zM323 456h1v4h-1zM339 456h1v4h-1zM440 456h1v4h-1zM444 456h1v4h-1zM455 456h1v4h-1zM457 456h1v4h-1zM463 456h1v4h-1zM470 456h2v4h-2zM475 456h1v4h-1zM482 456h1v4h-1zM338 460h1v3h-1zM371 474h1v4h-1zM308 478h1v4h-1zM437 478h1v4h-1zM312 482h1v3h-1zM314 482h1v3h-1zM321 482h1v3h-1zM323 482h3v3h-3zM328 482h1v3h-1zM332 482h2v3h-2zM336 482h1v3h-1zM338 482h2v3h-2zM341 482h1v3h-1zM343 482h1v3h-1zM347 482h2v3h-2zM359 482h1v3h-1zM385 482h1v3h-1zM408 482h1v3h-1zM432 482h1v3h-1zM479 482h1v3h-1zM310 485h1v4h-1zM341 485h1v4h-1zM357 485h1v4h-1zM328 489h1v3h-1zM480 489h1v3h-1zM343 492h1v4h-1zM355 492h1v4h-1z"/>
<path fill="#91ff00" d="M384 390h2v4h-2zM390 390h1v4h-1zM395 390h1v4h-1zM398 390h1v4h-1zM406 390h1v4h-1zM413 390h1v4h-1zM415 390h1v4h-1zM418 390h1v4h-1zM424 390h1v4h-1zM429 390h4v4h-4zM377 394h1v4h-1zM384 394h1v4h-1zM386 394h1v4h-1zM389 394h2v4h-2zM392 394h1v4h-1zM394 394h1v4h-1zM396 394h2v4h-2zM409 394h1v4h-1zM412 394h1v4h-1zM414 394h4v4h-4zM419 394h1v4h-1zM422 394h2v4h-2zM426 394h2v4h-2zM431 394h1v4h-1zM433 394h2v4h-2zM437 394h1v4h-1zM378 398h1v3h-1zM382 398h1v3h-1zM387 398h1v3h-1zM389 398h3v3h-3zM398 398h2v3h-2zM401 398h3v3h-3zM405 398h1v3h-1zM411 398h2v3h-2zM415 398h1v3h-1zM426 398h2v3h-2zM434 398h1v3h-1zM376 401h1v4h-1zM342 409h2v3h-2zM355 412h1v4h-1zM374 412h1v4h-1zM311 416h1v4h-1zM355 416h1v4h-1zM343 423h1v4h-1zM355 427h1v4h-1zM355 431h1v3h-1zM311 434h1v4h-1zM342 434h1v4h-1zM311 438h1v3h-1zM343 438h1v3h-1zM373 441h1v4h-1zM349 445h1v4h-1zM363 445h1v4h-1zM369 445h1v4h-1zM357 449h1v3h-1zM370 449h1v3h-1zM328 452h1v4h-1zM330 452h1v4h-1zM342 452h1v4h-1zM460 452h1v4h-1zM462 452h1v4h-1zM469 452h1v4h-1zM473 452h2v4h-2zM485 452h1v4h-1zM313 456h1v4h-1zM453 456h1v4h-1zM467 456h1v4h-1zM316 460h1v3h-1zM320 460h2v3h-2zM336 460h1v3h-1zM356 460h1v3h-1zM308 474h1v4h-1zM316 474h1v4h-1zM345 474h1v4h-1zM369 474h1v4h-1zM374 474h1v4h-1zM318 478h2v4h-2zM337 478h1v4h-1zM481 478h1v4h-1zM329 482h2v3h-2zM334 482h1v3h-1zM350 482h1v3h-1zM352 482h2v3h-2zM355 482h1v3h-1zM357 482h2v3h-2zM328 485h1v4h-1zM311 489h1v3h-1zM342 489h2v3h-2zM311 492h1v4h-1zM359 492h1v4h-1z"/>
<path fill="#9dff00" d="M381 390h1v4h-1zM394 390h1v4h-1zM400 390h2v4h-2zM420 390h2v4h-2zM425 390h1v4h-1zM428 390h1v4h-1zM434 390h2v4h-2zM378 394h1v4h-1zM380 394h2v4h-2zM383 394h1v4h-1zM385 394h1v4h-1zM388 394h1v4h-1zM393 394h1v4h-1zM395 394h1v4h-1zM400 394h1v4h-1zM408 394h1v4h-1zM411 394h1v4h-1zM413 394h1v4h-1zM418 394h1v4h-1zM420 394h2v4h-2zM430 394h1v4h-1zM432 394h1v4h-1zM435 394h2v4h-2zM377 398h1v3h-1zM380 398h1v3h-1zM383 398h2v3h-2zM392 398h1v3h-1zM394 398h1v3h-1zM396 398h2v3h-2zM400 398h1v3h-1zM407 398h1v3h-1zM409 398h1v3h-1zM414 398h1v3h-1zM416 398h2v3h-2zM419 398h3v3h-3zM425 398h1v3h-1zM431 398h1v3h-1zM437 398h1v3h-1zM426 401h1v4h-1zM433 401h1v4h-1zM375 405h1v4h-1zM311 409h1v3h-1zM355 409h1v3h-1zM311 412h1v4h-1zM342 412h2v4h-2zM342 416h1v4h-1zM311 420h1v3h-1zM311 423h1v4h-1zM342 423h1v4h-1zM359 427h1v4h-1zM342 431h2v3h-2zM359 431h1v3h-1zM355 434h1v4h-1zM350 445h1v4h-1zM370 445h1v4h-1zM372 445h1v4h-1zM397 449h1v3h-1zM361 452h1v4h-1zM370 452h1v4h-1zM397 452h1v4h-1zM399 452h1v4h-1zM423 452h1v4h-1zM441 452h1v4h-1zM443 452h2v4h-2zM449 452h5v4h-5zM461 452h1v4h-1zM463 452h1v4h-1zM472 452h1v4h-1zM475 452h1v4h-1zM483 452h1v4h-1zM486 452h1v4h-1zM327 456h1v4h-1zM341 456h1v4h-1zM397 456h1v4h-1zM399 456h1v4h-1zM314 460h2v3h-2zM324 460h1v3h-1zM326 460h1v3h-1zM333 460h1v3h-1zM337 460h1v3h-1zM339 460h2v3h-2zM346 460h1v3h-1zM439 460h1v3h-1zM321 463h1v4h-1zM337 463h1v4h-1zM340 463h1v4h-1zM397 467h1v4h-1zM320 471h1v3h-1zM322 471h1v3h-1zM326 471h1v3h-1zM345 471h1v3h-1zM360 471h2v3h-2zM370 471h1v3h-1zM399 471h1v3h-1zM324 474h3v4h-3zM336 474h1v4h-1zM346 474h1v4h-1zM356 474h1v4h-1zM364 474h2v4h-2zM316 478h1v4h-1zM322 478h1v4h-1zM324 478h1v4h-1zM333 478h1v4h-1zM346 478h3v4h-3zM360 478h1v4h-1zM386 478h1v4h-1zM397 478h1v4h-1zM402 478h2v4h-2zM407 478h1v4h-1zM409 478h1v4h-1zM426 478h1v4h-1zM433 478h1v4h-1zM479 478h1v4h-1zM310 482h1v3h-1zM342 482h1v3h-1zM480 492h1v4h-1z"/>
<path fill="#aaff00" d="M379 390h1v4h-1zM392 390h2v4h-2zM437 390h1v4h-1zM379 394h1v4h-1zM398 394h1v4h-1zM401 394h1v4h-1zM406 394h1v4h-1zM424 394h2v4h-2zM428 394h2v4h-2zM379 398h1v3h-1zM388 398h1v3h-1zM395 398h1v3h-1zM408 398h1v3h-1zM410 398h1v3h-1zM418 398h1v3h-1zM424 398h1v3h-1zM428 398h1v3h-1zM430 398h1v3h-1zM432 398h1v3h-1zM435 398h2v3h-2zM377 401h1v4h-1zM399 401h1v4h-1zM402 401h2v4h-2zM412 401h1v4h-1zM416 401h2v4h-2zM423 401h1v4h-1zM359 409h1v3h-1zM359 412h1v4h-1zM342 420h1v3h-1zM355 420h1v3h-1zM374 423h1v4h-1zM359 434h1v4h-1zM399 441h1v4h-1zM423 441h1v4h-1zM373 445h1v4h-1zM397 445h1v4h-1zM399 445h1v4h-1zM372 449h1v3h-1zM398 449h2v3h-2zM452 449h1v3h-1zM329 452h1v4h-1zM352 452h1v4h-1zM357 452h1v4h-1zM371 452h1v4h-1zM442 452h1v4h-1zM445 452h3v4h-3zM455 452h1v4h-1zM458 452h1v4h-1zM464 452h1v4h-1zM466 452h1v4h-1zM476 452h1v4h-1zM478 452h1v4h-1zM482 452h1v4h-1zM361 456h1v4h-1zM308 460h1v3h-1zM322 460h2v3h-2zM325 460h1v3h-1zM332 460h1v3h-1zM334 460h2v3h-2zM345 460h1v3h-1zM353 460h2v3h-2zM372 460h1v3h-1zM397 460h1v3h-1zM422 460h2v3h-2zM315 463h1v4h-1zM322 463h1v4h-1zM325 463h1v4h-1zM333 463h1v4h-1zM335 463h1v4h-1zM338 463h2v4h-2zM353 463h2v4h-2zM397 463h1v4h-1zM400 463h1v4h-1zM316 467h1v4h-1zM324 467h3v4h-3zM345 467h1v4h-1zM356 467h1v4h-1zM399 467h1v4h-1zM321 471h1v3h-1zM324 471h1v3h-1zM346 471h2v3h-2zM363 471h1v3h-1zM372 471h2v3h-2zM422 471h1v3h-1zM315 474h1v4h-1zM322 474h1v4h-1zM335 474h1v4h-1zM337 474h2v4h-2zM344 474h1v4h-1zM347 474h2v4h-2zM360 474h1v4h-1zM366 474h1v4h-1zM375 474h1v4h-1zM426 474h1v4h-1zM480 474h2v4h-2zM317 478h1v4h-1zM320 478h2v4h-2zM335 478h2v4h-2zM338 478h2v4h-2zM342 478h1v4h-1zM344 478h2v4h-2zM353 478h4v4h-4zM380 478h1v4h-1zM387 478h1v4h-1zM390 478h1v4h-1zM400 478h1v4h-1zM405 478h1v4h-1zM417 478h1v4h-1zM419 478h1v4h-1zM421 478h1v4h-1zM427 478h1v4h-1zM480 478h1v4h-1zM480 482h1v3h-1zM355 489h1v3h-1zM359 489h1v3h-1z"/>
<path fill="#b7ff00" d="M438 390h1v4h-1zM381 398h1v3h-1zM385 398h1v3h-1zM393 398h1v3h-1zM406 398h1v3h-1zM429 398h1v3h-1zM380 401h1v4h-1zM382 401h1v4h-1zM386 401h1v4h-1zM388 401h1v4h-1zM390 401h2v4h-2zM396 401h2v4h-2zM407 401h1v4h-1zM414 401h2v4h-2zM427 401h1v4h-1zM359 416h1v4h-1zM374 416h1v4h-1zM359 420h1v3h-1zM359 423h1v4h-1zM374 427h1v4h-1zM374 431h1v3h-1zM398 441h1v4h-1zM422 441h1v4h-1zM362 445h1v4h-1zM364 445h2v4h-2zM371 445h1v4h-1zM422 445h2v4h-2zM348 449h1v3h-1zM362 449h1v3h-1zM423 449h1v3h-1zM442 449h1v3h-1zM462 449h1v3h-1zM484 449h1v3h-1zM372 452h1v4h-1zM422 452h1v4h-1zM440 452h1v4h-1zM454 452h1v4h-1zM457 452h1v4h-1zM465 452h1v4h-1zM467 452h2v4h-2zM471 452h1v4h-1zM317 456h1v4h-1zM319 456h1v4h-1zM372 456h1v4h-1zM439 456h1v4h-1zM355 460h1v3h-1zM399 460h1v3h-1zM401 460h1v3h-1zM308 463h1v4h-1zM316 463h1v4h-1zM320 463h1v4h-1zM323 463h1v4h-1zM326 463h1v4h-1zM332 463h1v4h-1zM334 463h1v4h-1zM336 463h1v4h-1zM345 463h2v4h-2zM356 463h2v4h-2zM396 463h1v4h-1zM399 463h1v4h-1zM421 463h2v4h-2zM424 463h1v4h-1zM481 463h1v4h-1zM315 467h1v4h-1zM320 467h1v4h-1zM322 467h1v4h-1zM337 467h2v4h-2zM401 467h1v4h-1zM422 467h2v4h-2zM426 467h1v4h-1zM308 471h1v3h-1zM315 471h2v3h-2zM332 471h2v3h-2zM336 471h2v3h-2zM340 471h2v3h-2zM356 471h1v3h-1zM362 471h1v3h-1zM369 471h1v3h-1zM397 471h1v3h-1zM420 471h1v3h-1zM426 471h1v3h-1zM314 474h1v4h-1zM320 474h1v4h-1zM323 474h1v4h-1zM333 474h2v4h-2zM339 474h1v4h-1zM353 474h3v4h-3zM367 474h2v4h-2zM397 474h1v4h-1zM401 474h1v4h-1zM437 474h1v4h-1zM479 474h1v4h-1zM314 478h2v4h-2zM323 478h1v4h-1zM325 478h3v4h-3zM340 478h1v4h-1zM343 478h1v4h-1zM352 478h1v4h-1zM357 478h2v4h-2zM376 478h2v4h-2zM379 478h1v4h-1zM382 478h2v4h-2zM389 478h1v4h-1zM392 478h1v4h-1zM394 478h1v4h-1zM396 478h1v4h-1zM404 478h1v4h-1zM410 478h2v4h-2zM414 478h3v4h-3zM418 478h1v4h-1zM425 478h1v4h-1zM429 478h1v4h-1zM431 478h1v4h-1zM434 478h1v4h-1zM343 485h1v4h-1zM355 485h1v4h-1z"/>
<path fill="#c3ff00" d="M439 390h1v4h-1zM413 398h1v3h-1zM378 401h1v4h-1zM387 401h1v4h-1zM389 401h1v4h-1zM404 401h3v4h-3zM408 401h4v4h-4zM422 401h1v4h-1zM424 401h1v4h-1zM429 401h3v4h-3zM435 401h2v4h-2zM358 405h1v4h-1zM375 409h1v3h-1zM358 416h1v4h-1zM374 420h1v3h-1zM374 434h1v4h-1zM367 445h2v4h-2zM398 445h1v4h-1zM400 445h1v4h-1zM351 449h1v3h-1zM363 449h1v3h-1zM369 449h1v3h-1zM371 449h1v3h-1zM373 449h1v3h-1zM400 449h1v3h-1zM422 449h1v3h-1zM424 449h1v3h-1zM450 449h1v3h-1zM459 449h2v3h-2zM474 449h2v3h-2zM483 449h1v3h-1zM485 449h1v3h-1zM362 452h2v4h-2zM369 452h1v4h-1zM398 452h1v4h-1zM400 452h1v4h-1zM425 452h1v4h-1zM448 452h1v4h-1zM470 452h1v4h-1zM309 456h1v4h-1zM331 456h1v4h-1zM347 456h1v4h-1zM370 456h1v4h-1zM398 456h1v4h-1zM400 456h1v4h-1zM422 456h2v4h-2zM341 460h1v3h-1zM357 460h1v3h-1zM396 460h1v3h-1zM400 460h1v3h-1zM425 460h1v3h-1zM314 463h1v4h-1zM324 463h1v4h-1zM361 463h1v4h-1zM401 463h1v4h-1zM423 463h1v4h-1zM479 463h1v4h-1zM321 467h1v4h-1zM333 467h2v4h-2zM336 467h1v4h-1zM340 467h1v4h-1zM354 467h2v4h-2zM361 467h1v4h-1zM396 467h1v4h-1zM398 467h1v4h-1zM400 467h1v4h-1zM438 467h1v4h-1zM323 471h1v3h-1zM325 471h1v3h-1zM334 471h1v3h-1zM338 471h1v3h-1zM354 471h2v3h-2zM371 471h1v3h-1zM396 471h1v3h-1zM400 471h1v3h-1zM421 471h1v3h-1zM423 471h1v3h-1zM425 471h1v3h-1zM317 474h1v4h-1zM319 474h1v4h-1zM321 474h1v4h-1zM332 474h1v4h-1zM340 474h4v4h-4zM351 474h1v4h-1zM358 474h1v4h-1zM395 474h2v4h-2zM400 474h1v4h-1zM402 474h1v4h-1zM420 474h2v4h-2zM309 478h1v4h-1zM313 478h1v4h-1zM331 478h2v4h-2zM341 478h1v4h-1zM349 478h3v4h-3zM359 478h1v4h-1zM378 478h1v4h-1zM388 478h1v4h-1zM391 478h1v4h-1zM395 478h1v4h-1zM401 478h1v4h-1zM412 478h2v4h-2zM420 478h1v4h-1zM436 478h1v4h-1zM342 485h1v4h-1zM480 485h1v4h-1zM358 492h1v4h-1z"/>
<path fill="#d0ff00" d="M451 390h2v4h-2zM438 394h2v4h-2zM381 401h1v4h-1zM393 401h3v4h-3zM398 401h1v4h-1zM413 401h1v4h-1zM418 401h4v4h-4zM434 401h1v4h-1zM437 401h1v4h-1zM358 409h1v3h-1zM358 412h1v4h-1zM374 438h1v3h-1zM424 441h1v4h-1zM366 445h1v4h-1zM424 445h1v4h-1zM366 449h1v3h-1zM441 449h1v3h-1zM443 449h2v3h-2zM447 449h1v3h-1zM451 449h1v3h-1zM453 449h1v3h-1zM456 449h2v3h-2zM461 449h1v3h-1zM463 449h1v3h-1zM468 449h1v3h-1zM472 449h2v3h-2zM477 449h1v3h-1zM343 452h1v4h-1zM421 452h1v4h-1zM424 452h1v4h-1zM357 456h1v4h-1zM362 456h1v4h-1zM371 456h1v4h-1zM396 456h1v4h-1zM424 456h1v4h-1zM361 460h1v3h-1zM371 460h1v3h-1zM373 460h1v3h-1zM398 460h1v3h-1zM424 460h1v3h-1zM355 463h1v4h-1zM370 463h4v4h-4zM398 463h1v4h-1zM308 467h1v4h-1zM332 467h1v4h-1zM335 467h1v4h-1zM339 467h1v4h-1zM341 467h1v4h-1zM346 467h2v4h-2zM353 467h1v4h-1zM360 467h1v4h-1zM371 467h2v4h-2zM420 467h1v4h-1zM335 471h1v3h-1zM339 471h1v3h-1zM353 471h1v3h-1zM357 471h3v3h-3zM374 471h1v3h-1zM398 471h1v3h-1zM401 471h2v3h-2zM349 474h1v4h-1zM352 474h1v4h-1zM357 474h1v4h-1zM359 474h1v4h-1zM403 474h1v4h-1zM425 474h1v4h-1zM334 478h1v4h-1zM381 478h1v4h-1zM384 478h2v4h-2zM393 478h1v4h-1zM406 478h1v4h-1zM408 478h1v4h-1zM428 478h1v4h-1zM430 478h1v4h-1zM435 478h1v4h-1zM311 485h1v4h-1zM358 489h1v3h-1z"/>
<path fill="#daff00" d="M442 390h1v4h-1zM445 390h1v4h-1zM459 390h2v4h-2zM462 390h1v4h-1zM474 390h2v4h-2zM480 390h1v4h-1zM485 390h1v4h-1zM456 394h1v4h-1zM459 394h3v4h-3zM469 394h1v4h-1zM474 394h1v4h-1zM477 394h1v4h-1zM438 398h1v3h-1zM452 398h1v3h-1zM461 398h1v3h-1zM484 398h1v3h-1zM379 401h1v4h-1zM383 401h3v4h-3zM392 401h1v4h-1zM400 401h2v4h-2zM425 401h1v4h-1zM428 401h1v4h-1zM432 401h1v4h-1zM376 405h1v4h-1zM358 420h1v3h-1zM358 423h1v4h-1zM358 427h1v4h-1zM358 431h1v3h-1zM358 434h1v4h-1zM359 438h1v3h-1zM364 449h1v3h-1zM368 449h1v3h-1zM440 449h1v3h-1zM448 449h2v3h-2zM454 449h2v3h-2zM464 449h2v3h-2zM467 449h1v3h-1zM469 449h1v3h-1zM478 449h1v3h-1zM364 452h1v4h-1zM373 452h1v4h-1zM318 456h1v4h-1zM344 456h1v4h-1zM352 456h1v4h-1zM369 456h1v4h-1zM373 456h1v4h-1zM401 456h1v4h-1zM421 456h1v4h-1zM425 456h1v4h-1zM313 460h1v3h-1zM363 460h1v3h-1zM370 460h1v3h-1zM421 460h1v3h-1zM347 463h1v4h-1zM420 463h1v4h-1zM425 463h2v4h-2zM314 467h1v4h-1zM323 467h1v4h-1zM357 467h2v4h-2zM369 467h2v4h-2zM373 467h1v4h-1zM421 467h1v4h-1zM424 467h1v4h-1zM314 471h1v3h-1zM348 471h1v3h-1zM352 471h1v3h-1zM364 471h2v3h-2zM424 471h1v3h-1zM427 471h1v3h-1zM313 474h1v4h-1zM318 474h1v4h-1zM331 474h1v4h-1zM376 474h1v4h-1zM386 474h1v4h-1zM394 474h1v4h-1zM407 474h1v4h-1zM419 474h1v4h-1zM329 478h2v4h-2zM432 478h1v4h-1zM359 485h1v4h-1z"/>
<path fill="#e4ff00" d="M441 390h1v4h-1zM447 390h1v4h-1zM449 390h1v4h-1zM455 390h3v4h-3zM461 390h1v4h-1zM463 390h3v4h-3zM469 390h2v4h-2zM472 390h1v4h-1zM477 390h3v4h-3zM481 390h1v4h-1zM484 390h1v4h-1zM486 390h1v4h-1zM440 394h1v4h-1zM442 394h1v4h-1zM451 394h2v4h-2zM462 394h1v4h-1zM472 394h1v4h-1zM480 394h1v4h-1zM483 394h3v4h-3zM439 398h1v3h-1zM442 398h1v3h-1zM451 398h1v3h-1zM456 398h1v3h-1zM472 398h1v3h-1zM475 398h1v3h-1zM477 398h1v3h-1zM407 405h1v4h-1zM423 405h1v4h-1zM360 445h1v4h-1zM443 445h1v4h-1zM452 445h1v4h-1zM460 445h2v4h-2zM472 445h1v4h-1zM484 445h1v4h-1zM365 449h1v3h-1zM421 449h1v3h-1zM445 449h2v3h-2zM458 449h1v3h-1zM466 449h1v3h-1zM470 449h2v3h-2zM476 449h1v3h-1zM482 449h1v3h-1zM486 449h1v3h-1zM365 452h1v4h-1zM439 452h1v4h-1zM310 456h1v4h-1zM312 456h1v4h-1zM363 456h2v4h-2zM366 456h1v4h-1zM327 460h1v3h-1zM347 460h1v3h-1zM369 460h1v3h-1zM341 463h1v4h-1zM362 463h3v4h-3zM362 467h2v4h-2zM402 467h1v4h-1zM425 467h1v4h-1zM317 471h1v3h-1zM319 471h1v3h-1zM343 471h2v3h-2zM351 471h1v3h-1zM366 471h2v3h-2zM375 471h1v3h-1zM395 471h1v3h-1zM327 474h1v4h-1zM350 474h1v4h-1zM382 474h1v4h-1zM391 474h1v4h-1zM404 474h1v4h-1zM427 474h1v4h-1zM436 474h1v4h-1zM312 478h1v4h-1zM328 478h1v4h-1z"/>
<path fill="#eeff00" d="M443 390h2v4h-2zM446 390h1v4h-1zM448 390h1v4h-1zM450 390h1v4h-1zM453 390h1v4h-1zM471 390h1v4h-1zM473 390h1v4h-1zM476 390h1v4h-1zM482 390h2v4h-2zM447 394h2v4h-2zM450 394h1v4h-1zM453 394h2v4h-2zM457 394h2v4h-2zM463 394h2v4h-2zM466 394h1v4h-1zM470 394h1v4h-1zM475 394h1v4h-1zM479 394h1v4h-1zM481 394h2v4h-2zM440 398h1v3h-1zM443 398h2v3h-2zM454 398h1v3h-1zM459 398h2v3h-2zM462 398h2v3h-2zM466 398h1v3h-1zM469 398h1v3h-1zM474 398h1v3h-1zM481 398h1v3h-1zM485 398h1v3h-1zM438 401h1v4h-1zM378 405h1v4h-1zM382 405h1v4h-1zM391 405h1v4h-1zM402 405h1v4h-1zM414 405h1v4h-1zM416 405h2v4h-2zM419 405h1v4h-1zM375 412h1v4h-1zM358 438h1v3h-1zM374 441h1v4h-1zM442 445h1v4h-1zM450 445h1v4h-1zM457 445h1v4h-1zM462 445h1v4h-1zM466 445h1v4h-1zM476 445h1v4h-1zM483 445h1v4h-1zM486 445h1v4h-1zM349 449h1v3h-1zM367 449h1v3h-1zM439 449h1v3h-1zM368 452h1v4h-1zM309 460h1v3h-1zM317 460h1v3h-1zM352 460h1v3h-1zM362 460h1v3h-1zM364 460h2v3h-2zM426 460h1v3h-1zM481 460h1v3h-1zM352 463h1v4h-1zM360 463h1v4h-1zM365 463h1v4h-1zM369 463h1v4h-1zM352 467h1v4h-1zM365 467h1v4h-1zM313 471h1v3h-1zM327 471h1v3h-1zM368 471h1v3h-1zM403 471h1v3h-1zM419 471h1v3h-1zM377 474h1v4h-1zM387 474h4v4h-4zM405 474h1v4h-1zM409 474h3v4h-3zM414 474h5v4h-5zM428 474h1v4h-1zM433 474h1v4h-1zM358 485h1v4h-1z"/>
<path fill="#f8ff00" d="M440 390h1v4h-1zM454 390h1v4h-1zM458 390h1v4h-1zM466 390h2v4h-2zM441 394h1v4h-1zM443 394h1v4h-1zM445 394h2v4h-2zM465 394h1v4h-1zM467 394h1v4h-1zM471 394h1v4h-1zM473 394h1v4h-1zM478 394h1v4h-1zM486 394h1v4h-1zM445 398h2v3h-2zM453 398h1v3h-1zM455 398h1v3h-1zM457 398h1v3h-1zM465 398h1v3h-1zM467 398h1v3h-1zM471 398h1v3h-1zM479 398h2v3h-2zM482 398h2v3h-2zM386 405h1v4h-1zM390 405h1v4h-1zM394 405h1v4h-1zM396 405h1v4h-1zM398 405h4v4h-4zM404 405h2v4h-2zM410 405h1v4h-1zM415 405h1v4h-1zM422 405h1v4h-1zM426 405h1v4h-1zM429 405h1v4h-1zM433 405h2v4h-2zM374 445h1v4h-1zM447 445h1v4h-1zM451 445h1v4h-1zM454 445h1v4h-1zM456 445h1v4h-1zM458 445h2v4h-2zM468 445h2v4h-2zM471 445h1v4h-1zM474 445h1v4h-1zM477 445h1v4h-1zM485 445h1v4h-1zM351 452h1v4h-1zM366 452h2v4h-2zM311 456h1v4h-1zM328 456h1v4h-1zM342 456h1v4h-1zM319 460h1v3h-1zM331 460h1v3h-1zM366 460h1v3h-1zM420 460h1v3h-1zM313 463h1v4h-1zM317 463h1v4h-1zM331 463h1v4h-1zM366 463h1v4h-1zM344 467h1v4h-1zM364 467h1v4h-1zM366 467h2v4h-2zM342 471h1v3h-1zM349 471h2v3h-2zM394 471h1v3h-1zM309 474h1v4h-1zM312 474h1v4h-1zM378 474h1v4h-1zM383 474h1v4h-1zM385 474h1v4h-1zM393 474h1v4h-1zM412 474h2v4h-2zM429 474h1v4h-1zM431 474h2v4h-2zM434 474h1v4h-1zM310 478h2v4h-2z"/>
<path fill="#fffb00" d="M468 390h1v4h-1zM444 394h1v4h-1zM449 394h1v4h-1zM455 394h1v4h-1zM468 394h1v4h-1zM476 394h1v4h-1zM441 398h1v3h-1zM447 398h4v3h-4zM458 398h1v3h-1zM464 398h1v3h-1zM468 398h1v3h-1zM473 398h1v3h-1zM476 398h1v3h-1zM478 398h1v3h-1zM486 398h1v3h-1zM377 405h1v4h-1zM388 405h1v4h-1zM392 405h2v4h-2zM397 405h1v4h-1zM403 405h1v4h-1zM406 405h1v4h-1zM408 405h2v4h-2zM411 405h3v4h-3zM420 405h2v4h-2zM436 405h1v4h-1zM440 445h2v4h-2zM444 445h2v4h-2zM448 445h2v4h-2zM453 445h1v4h-1zM463 445h1v4h-1zM465 445h1v4h-1zM467 445h1v4h-1zM473 445h1v4h-1zM475 445h1v4h-1zM350 449h1v3h-1zM425 449h1v3h-1zM348 452h1v4h-1zM329 456h2v4h-2zM365 456h1v4h-1zM367 456h2v4h-2zM360 460h1v3h-1zM319 463h1v4h-1zM327 463h1v4h-1zM344 463h1v4h-1zM367 463h2v4h-2zM438 463h1v4h-1zM313 467h1v4h-1zM342 467h1v4h-1zM359 467h1v4h-1zM368 467h1v4h-1zM395 467h1v4h-1zM309 471h1v3h-1zM318 471h1v3h-1zM331 471h1v3h-1zM437 471h1v3h-1zM330 474h1v4h-1zM379 474h2v4h-2zM384 474h1v4h-1zM392 474h1v4h-1zM406 474h1v4h-1zM408 474h1v4h-1zM435 474h1v4h-1z"/>
<path fill="#ffea00" d="M470 398h1v3h-1zM379 405h3v4h-3zM384 405h1v4h-1zM387 405h1v4h-1zM389 405h1v4h-1zM395 405h1v4h-1zM418 405h1v4h-1zM424 405h2v4h-2zM427 405h2v4h-2zM430 405h3v4h-3zM397 441h1v4h-1zM451 441h1v4h-1zM460 441h1v4h-1zM474 441h1v4h-1zM477 441h1v4h-1zM446 445h1v4h-1zM455 445h1v4h-1zM464 445h1v4h-1zM470 445h1v4h-1zM482 445h1v4h-1zM360 449h1v3h-1zM374 449h1v3h-1zM396 452h1v4h-1zM401 452h1v4h-1zM374 456h1v4h-1zM426 456h1v4h-1zM344 460h1v3h-1zM367 460h2v3h-2zM374 460h1v3h-1zM438 460h1v3h-1zM479 460h1v3h-1zM309 463h1v4h-1zM318 463h1v4h-1zM358 463h1v4h-1zM402 463h1v4h-1zM319 467h1v4h-1zM327 467h1v4h-1zM348 467h1v4h-1zM374 467h1v4h-1zM419 467h1v4h-1zM427 467h1v4h-1zM382 471h1v3h-1zM329 474h1v4h-1zM381 474h1v4h-1zM430 474h1v4h-1z"/>
<path fill="#ffda00" d="M452 401h1v4h-1zM460 401h2v4h-2zM474 401h2v4h-2zM477 401h1v4h-1zM383 405h1v4h-1zM385 405h1v4h-1zM435 405h1v4h-1zM437 405h1v4h-1zM376 409h1v3h-1zM375 416h1v4h-1zM375 431h1v3h-1zM358 441h1v4h-1zM452 441h1v4h-1zM456 441h1v4h-1zM459 441h1v4h-1zM461 441h2v4h-2zM472 441h1v4h-1zM421 445h1v4h-1zM360 452h1v4h-1zM374 452h1v4h-1zM348 456h1v4h-1zM311 460h2v3h-2zM318 460h1v3h-1zM358 460h1v3h-1zM342 463h1v4h-1zM348 463h1v4h-1zM374 463h1v4h-1zM317 467h2v4h-2zM331 467h1v4h-1zM343 467h1v4h-1zM349 467h3v4h-3zM375 467h1v4h-1zM376 471h2v3h-2zM404 471h2v3h-2zM415 471h4v3h-4zM436 471h1v3h-1z"/>
<path fill="#ffc900" d="M439 401h1v4h-1zM443 401h1v4h-1zM445 401h1v4h-1zM456 401h2v4h-2zM459 401h1v4h-1zM462 401h1v4h-1zM473 401h1v4h-1zM481 401h1v4h-1zM484 401h2v4h-2zM382 409h1v3h-1zM397 409h1v3h-1zM407 409h1v3h-1zM417 409h1v3h-1zM422 409h1v3h-1zM422 412h2v4h-2zM399 420h1v3h-1zM422 427h1v4h-1zM375 434h1v4h-1zM375 438h1v3h-1zM400 441h1v4h-1zM442 441h2v4h-2zM445 441h1v4h-1zM450 441h1v4h-1zM453 441h1v4h-1zM457 441h2v4h-2zM463 441h1v4h-1zM484 441h1v4h-1zM439 445h1v4h-1zM478 445h1v4h-1zM358 449h1v3h-1zM438 456h1v4h-1zM481 456h1v4h-1zM342 460h2v3h-2zM343 463h1v4h-1zM351 463h1v4h-1zM359 463h1v4h-1zM309 467h1v4h-1zM311 467h1v4h-1zM312 471h1v3h-1zM330 471h1v3h-1zM378 471h1v3h-1zM386 471h1v3h-1zM388 471h4v3h-4zM407 471h1v3h-1zM409 471h1v3h-1zM433 471h3v3h-3zM310 474h2v4h-2zM328 474h1v4h-1z"/>
<path fill="#ffbb00" d="M440 401h1v4h-1zM442 401h1v4h-1zM446 401h3v4h-3zM450 401h2v4h-2zM453 401h1v4h-1zM455 401h1v4h-1zM464 401h2v4h-2zM469 401h1v4h-1zM471 401h2v4h-2zM482 401h1v4h-1zM390 409h1v3h-1zM396 409h1v3h-1zM404 409h1v3h-1zM416 409h1v3h-1zM419 409h1v3h-1zM423 409h1v3h-1zM426 409h1v3h-1zM433 409h1v3h-1zM397 412h1v4h-1zM375 420h1v3h-1zM420 420h1v3h-1zM422 420h1v3h-1zM375 423h1v4h-1zM422 423h1v4h-1zM375 427h1v4h-1zM397 427h1v4h-1zM399 427h1v4h-1zM359 441h1v4h-1zM375 441h1v4h-1zM444 441h1v4h-1zM446 441h1v4h-1zM448 441h2v4h-2zM465 441h1v4h-1zM467 441h1v4h-1zM469 441h2v4h-2zM473 441h1v4h-1zM475 441h1v4h-1zM483 441h1v4h-1zM485 441h2v4h-2zM396 449h1v3h-1zM401 449h1v3h-1zM349 452h1v4h-1zM438 452h1v4h-1zM343 456h1v4h-1zM360 456h1v4h-1zM420 456h1v4h-1zM310 460h1v3h-1zM328 460h1v3h-1zM330 460h1v3h-1zM348 460h1v3h-1zM351 460h1v3h-1zM402 460h1v3h-1zM310 463h3v4h-3zM395 463h1v4h-1zM310 467h1v4h-1zM312 467h1v4h-1zM310 471h2v3h-2zM380 471h1v3h-1zM383 471h1v3h-1zM385 471h1v3h-1zM392 471h1v3h-1zM406 471h1v3h-1zM410 471h2v3h-2zM414 471h1v3h-1zM428 471h1v3h-1z"/>
<path fill="#ffb100" d="M458 401h1v4h-1zM463 401h1v4h-1zM466 401h1v4h-1zM478 401h3v4h-3zM483 401h1v4h-1zM486 401h1v4h-1zM438 405h1v4h-1zM386 409h2v3h-2zM389 409h1v3h-1zM391 409h1v3h-1zM394 409h1v3h-1zM398 409h2v3h-2zM401 409h3v3h-3zM409 409h1v3h-1zM414 409h1v3h-1zM421 409h1v3h-1zM399 412h1v4h-1zM399 416h1v4h-1zM420 416h1v4h-1zM422 416h1v4h-1zM397 420h1v3h-1zM397 423h3v4h-3zM398 431h1v3h-1zM422 431h1v3h-1zM421 434h1v4h-1zM461 438h1v3h-1zM484 438h1v3h-1zM447 441h1v4h-1zM454 441h2v4h-2zM466 441h1v4h-1zM468 441h1v4h-1zM471 441h1v4h-1zM476 441h1v4h-1zM425 445h1v4h-1zM350 452h1v4h-1zM349 456h1v4h-1zM351 456h1v4h-1zM358 456h1v4h-1zM350 460h1v3h-1zM359 460h1v3h-1zM330 463h1v4h-1zM349 463h1v4h-1zM329 467h1v4h-1zM403 467h1v4h-1zM437 467h1v4h-1zM328 471h1v3h-1zM379 471h1v3h-1zM381 471h1v3h-1zM384 471h1v3h-1zM387 471h1v3h-1zM393 471h1v3h-1zM412 471h1v3h-1zM430 471h2v3h-2z"/>
<path fill="#ffa700" d="M441 401h1v4h-1zM444 401h1v4h-1zM449 401h1v4h-1zM454 401h1v4h-1zM467 401h2v4h-2zM470 401h1v4h-1zM476 401h1v4h-1zM377 409h5v3h-5zM385 409h1v3h-1zM388 409h1v3h-1zM395 409h1v3h-1zM405 409h1v3h-1zM408 409h1v3h-1zM410 409h4v3h-4zM415 409h1v3h-1zM418 409h1v3h-1zM420 409h1v3h-1zM427 409h1v3h-1zM431 409h2v3h-2zM434 409h1v3h-1zM436 409h2v3h-2zM398 412h1v4h-1zM419 412h3v4h-3zM397 416h1v4h-1zM419 416h1v4h-1zM421 416h1v4h-1zM398 420h1v3h-1zM423 420h1v3h-1zM420 423h2v4h-2zM421 427h1v4h-1zM399 431h1v3h-1zM421 431h1v3h-1zM398 434h1v4h-1zM442 438h1v3h-1zM447 438h1v3h-1zM450 438h1v3h-1zM456 438h1v3h-1zM459 438h1v3h-1zM475 438h1v3h-1zM439 441h3v4h-3zM464 441h1v4h-1zM375 445h1v4h-1zM438 449h1v3h-1zM358 452h1v4h-1zM350 456h1v4h-1zM359 456h1v4h-1zM479 456h1v4h-1zM329 460h1v3h-1zM349 460h1v3h-1zM329 463h1v4h-1zM350 463h1v4h-1zM329 471h1v3h-1zM408 471h1v3h-1zM413 471h1v3h-1zM429 471h1v3h-1zM432 471h1v3h-1z"/>
<path fill="#ff9d00" d="M383 409h2v3h-2zM392 409h1v3h-1zM400 409h1v3h-1zM424 409h2v3h-2zM428 409h1v3h-1zM430 409h1v3h-1zM396 412h1v4h-1zM400 412h1v4h-1zM398 416h1v4h-1zM423 416h1v4h-1zM396 420h1v3h-1zM419 420h1v3h-1zM421 420h1v3h-1zM398 427h1v4h-1zM420 427h1v4h-1zM397 431h1v3h-1zM420 431h1v3h-1zM451 438h2v3h-2zM460 438h1v3h-1zM462 438h1v3h-1zM469 438h1v3h-1zM472 438h1v3h-1zM474 438h1v3h-1zM476 438h2v3h-2zM483 438h1v3h-1zM485 438h1v3h-1zM478 441h1v4h-1zM482 441h1v4h-1zM359 449h1v3h-1zM375 449h1v3h-1zM359 452h1v4h-1zM426 452h1v4h-1zM481 452h1v4h-1zM328 463h1v4h-1zM330 467h1v4h-1zM394 467h1v4h-1z"/>
<path fill="#ff9300" d="M439 405h1v4h-1zM393 409h1v3h-1zM406 409h1v3h-1zM429 409h1v3h-1zM435 409h1v3h-1zM396 416h1v4h-1zM400 416h1v4h-1zM439 438h2v3h-2zM443 438h2v3h-2zM446 438h1v3h-1zM449 438h1v3h-1zM453 438h1v3h-1zM457 438h1v3h-1zM463 438h1v3h-1zM465 438h3v3h-3zM486 438h1v3h-1zM438 445h1v4h-1zM375 452h1v4h-1zM479 452h1v4h-1zM402 456h1v4h-1zM395 460h1v3h-1zM375 463h1v4h-1zM328 467h1v4h-1zM376 467h1v4h-1z"/>
<path fill="#ff8800" d="M472 405h1v4h-1zM480 405h1v4h-1zM483 405h1v4h-1zM376 412h1v4h-1zM401 412h1v4h-1zM404 412h1v4h-1zM418 412h1v4h-1zM424 412h1v4h-1zM400 420h1v3h-1zM423 423h1v4h-1zM460 434h1v4h-1zM441 438h1v3h-1zM445 438h1v3h-1zM448 438h1v3h-1zM454 438h1v3h-1zM464 438h1v3h-1zM470 438h2v3h-2zM473 438h1v3h-1zM420 452h1v4h-1zM375 456h1v4h-1zM375 460h1v3h-1zM419 463h1v4h-1zM427 463h1v4h-1zM404 467h1v4h-1zM407 467h1v4h-1zM417 467h2v4h-2z"/>
<path fill="#ff7d00" d="M440 405h1v4h-1zM447 405h1v4h-1zM462 405h2v4h-2zM474 405h1v4h-1zM477 405h1v4h-1zM479 405h1v4h-1zM482 405h1v4h-1zM484 405h2v4h-2zM386 412h1v4h-1zM395 412h1v4h-1zM402 412h1v4h-1zM407 412h1v4h-1zM412 412h1v4h-1zM414 412h1v4h-1zM416 412h2v4h-2zM436 412h1v4h-1zM419 423h1v4h-1zM442 434h1v4h-1zM451 434h1v4h-1zM456 434h1v4h-1zM459 434h1v4h-1zM461 434h2v4h-2zM474 434h1v4h-1zM477 434h1v4h-1zM483 434h1v4h-1zM455 438h1v3h-1zM458 438h1v3h-1zM468 438h1v3h-1zM438 441h1v4h-1zM358 445h1v4h-1zM481 449h1v3h-1zM427 460h1v3h-1zM377 467h1v4h-1zM382 467h1v4h-1zM386 467h1v4h-1zM388 467h2v4h-2zM409 467h1v4h-1zM412 467h1v4h-1zM428 467h1v4h-1zM431 467h1v4h-1z"/>
<path fill="#ff7200" d="M441 405h3v4h-3zM446 405h1v4h-1zM448 405h2v4h-2zM452 405h2v4h-2zM456 405h6v4h-6zM464 405h3v4h-3zM469 405h2v4h-2zM475 405h2v4h-2zM481 405h1v4h-1zM486 405h1v4h-1zM382 412h2v4h-2zM387 412h1v4h-1zM390 412h1v4h-1zM409 412h3v4h-3zM426 412h2v4h-2zM431 412h1v4h-1zM433 412h1v4h-1zM386 416h1v4h-1zM396 423h1v4h-1zM452 434h1v4h-1zM472 434h2v4h-2zM476 434h1v4h-1zM484 434h2v4h-2zM426 449h1v3h-1zM395 456h1v4h-1zM379 467h2v4h-2zM384 467h1v4h-1zM391 467h1v4h-1zM405 467h1v4h-1zM410 467h1v4h-1zM416 467h1v4h-1zM429 467h1v4h-1zM432 467h3v4h-3z"/>
<path fill="#ff6600" d="M450 405h2v4h-2zM454 405h1v4h-1zM467 405h1v4h-1zM478 405h1v4h-1zM438 409h1v3h-1zM377 412h1v4h-1zM380 412h1v4h-1zM384 412h2v4h-2zM389 412h1v4h-1zM391 412h1v4h-1zM394 412h1v4h-1zM403 412h1v4h-1zM405 412h1v4h-1zM425 412h1v4h-1zM434 412h1v4h-1zM401 416h1v4h-1zM424 416h1v4h-1zM386 420h1v3h-1zM400 423h1v4h-1zM423 427h1v4h-1zM443 434h2v4h-2zM446 434h1v4h-1zM448 434h2v4h-2zM453 434h1v4h-1zM455 434h1v4h-1zM463 434h1v4h-1zM465 434h1v4h-1zM467 434h1v4h-1zM469 434h1v4h-1zM471 434h1v4h-1zM475 434h1v4h-1zM438 438h1v3h-1zM478 438h1v3h-1zM482 438h1v3h-1zM359 445h1v4h-1zM401 445h1v4h-1zM479 449h1v3h-1zM419 460h1v3h-1zM437 463h1v4h-1zM378 467h1v4h-1zM381 467h1v4h-1zM387 467h1v4h-1zM390 467h1v4h-1zM393 467h1v4h-1zM408 467h1v4h-1zM411 467h1v4h-1zM414 467h2v4h-2zM435 467h2v4h-2z"/>
<path fill="#ff5b00" d="M444 405h2v4h-2zM455 405h1v4h-1zM468 405h1v4h-1zM471 405h1v4h-1zM473 405h1v4h-1zM378 412h2v4h-2zM381 412h1v4h-1zM388 412h1v4h-1zM392 412h2v4h-2zM406 412h1v4h-1zM413 412h1v4h-1zM415 412h1v4h-1zM429 412h2v4h-2zM376 416h1v4h-1zM395 416h1v4h-1zM418 416h1v4h-1zM376 420h1v3h-1zM385 420h1v3h-1zM386 423h1v4h-1zM396 427h1v4h-1zM439 434h1v4h-1zM441 434h1v4h-1zM445 434h1v4h-1zM447 434h1v4h-1zM450 434h1v4h-1zM454 434h1v4h-1zM457 434h2v4h-2zM464 434h1v4h-1zM466 434h1v4h-1zM468 434h1v4h-1zM376 438h1v3h-1zM396 445h1v4h-1zM479 445h1v4h-1zM437 452h1v4h-1zM383 467h1v4h-1zM385 467h1v4h-1zM392 467h1v4h-1zM406 467h1v4h-1zM430 467h1v4h-1z"/>
<path fill="#ff5000" d="M439 409h1v3h-1zM408 412h1v4h-1zM428 412h1v4h-1zM432 412h1v4h-1zM435 412h1v4h-1zM437 412h1v4h-1zM385 416h1v4h-1zM401 420h1v3h-1zM376 423h1v4h-1zM419 427h1v4h-1zM376 431h1v3h-1zM460 431h1v3h-1zM477 431h1v3h-1zM440 434h1v4h-1zM470 434h1v4h-1zM482 434h1v4h-1zM486 434h1v4h-1zM376 441h1v4h-1zM481 445h1v4h-1zM420 449h1v3h-1zM437 456h1v4h-1zM437 460h1v3h-1zM403 463h1v4h-1zM413 467h1v4h-1z"/>
<path fill="#ff4600" d="M442 409h1v3h-1zM452 409h1v3h-1zM460 409h1v3h-1zM474 409h1v3h-1zM382 416h1v4h-1zM387 416h1v4h-1zM390 416h1v4h-1zM404 416h1v4h-1zM409 416h1v4h-1zM414 416h1v4h-1zM426 416h1v4h-1zM395 420h1v3h-1zM385 423h1v4h-1zM376 427h1v4h-1zM400 427h1v4h-1zM443 431h1v3h-1zM452 431h1v3h-1zM456 431h1v3h-1zM474 431h2v3h-2zM480 431h2v3h-2zM483 431h1v3h-1zM376 434h1v4h-1zM478 434h1v4h-1zM480 434h1v4h-1zM421 441h1v4h-1zM481 441h1v4h-1zM376 445h1v4h-1zM437 445h1v4h-1zM480 445h1v4h-1zM376 449h1v3h-1zM480 449h1v3h-1zM395 452h1v4h-1zM402 452h1v4h-1z"/>
<path fill="#ff3d00" d="M451 409h1v3h-1zM459 409h1v3h-1zM472 409h2v3h-2zM478 409h1v3h-1zM480 409h1v3h-1zM483 409h1v3h-1zM485 409h1v3h-1zM377 416h2v4h-2zM384 416h1v4h-1zM388 416h2v4h-2zM391 416h1v4h-1zM407 416h1v4h-1zM415 416h2v4h-2zM427 416h1v4h-1zM433 416h1v4h-1zM409 420h1v3h-1zM418 420h1v3h-1zM382 423h1v4h-1zM382 427h1v4h-1zM439 431h1v3h-1zM451 431h1v3h-1zM457 431h1v3h-1zM459 431h1v3h-1zM461 431h2v3h-2zM479 431h1v3h-1zM482 431h1v3h-1zM484 431h3v3h-3zM397 434h1v4h-1zM437 434h2v4h-2zM382 438h1v3h-1zM409 438h1v3h-1zM426 438h1v3h-1zM479 438h3v3h-3zM437 441h1v4h-1zM479 441h2v4h-2zM437 449h1v3h-1zM376 456h1v4h-1zM404 456h1v4h-1zM419 456h1v4h-1zM427 456h1v4h-1zM480 456h1v4h-1zM404 460h1v3h-1zM409 460h1v3h-1zM394 463h1v4h-1zM480 463h1v4h-1z"/>
<path fill="#ff3300" d="M456 409h1v3h-1zM461 409h2v3h-2zM469 409h1v3h-1zM475 409h3v3h-3zM481 409h2v3h-2zM484 409h1v3h-1zM438 412h1v4h-1zM393 416h1v4h-1zM402 416h2v4h-2zM405 416h2v4h-2zM411 416h3v4h-3zM417 416h1v4h-1zM428 416h1v4h-1zM431 416h1v4h-1zM434 416h1v4h-1zM436 416h1v4h-1zM384 420h1v3h-1zM387 420h1v3h-1zM391 420h1v3h-1zM404 420h1v3h-1zM407 420h1v3h-1zM417 420h1v3h-1zM424 420h1v3h-1zM426 420h1v3h-1zM433 420h2v3h-2zM436 420h1v3h-1zM405 423h1v4h-1zM409 423h4v4h-4zM414 423h1v4h-1zM416 423h1v4h-1zM426 423h1v4h-1zM404 427h2v4h-2zM407 427h1v4h-1zM409 427h4v4h-4zM417 427h1v4h-1zM426 427h1v4h-1zM382 431h1v3h-1zM403 431h3v3h-3zM407 431h1v3h-1zM417 431h1v3h-1zM423 431h1v3h-1zM427 431h1v3h-1zM437 431h1v3h-1zM440 431h1v3h-1zM442 431h1v3h-1zM446 431h1v3h-1zM450 431h1v3h-1zM454 431h2v3h-2zM465 431h3v3h-3zM469 431h1v3h-1zM472 431h2v3h-2zM476 431h1v3h-1zM382 434h1v4h-1zM386 434h1v4h-1zM402 434h1v4h-1zM405 434h1v4h-1zM411 434h1v4h-1zM415 434h1v4h-1zM422 434h2v4h-2zM426 434h1v4h-1zM481 434h1v4h-1zM378 438h1v3h-1zM403 438h1v3h-1zM414 438h1v3h-1zM417 438h1v3h-1zM433 438h1v3h-1zM436 438h2v3h-2zM382 441h1v4h-1zM386 441h1v4h-1zM402 441h1v4h-1zM410 441h1v4h-1zM425 441h2v4h-2zM433 441h1v4h-1zM382 445h1v4h-1zM386 445h1v4h-1zM416 445h1v4h-1zM433 445h1v4h-1zM436 445h1v4h-1zM386 449h1v3h-1zM405 449h1v3h-1zM409 449h1v3h-1zM412 449h1v3h-1zM419 449h1v3h-1zM434 449h1v3h-1zM376 452h1v4h-1zM386 452h1v4h-1zM407 452h1v4h-1zM409 452h1v4h-1zM416 452h1v4h-1zM436 452h1v4h-1zM480 452h1v4h-1zM405 456h1v4h-1zM412 456h1v4h-1zM417 456h1v4h-1zM376 460h1v3h-1zM382 460h1v3h-1zM403 460h1v3h-1zM416 460h1v3h-1zM434 460h1v3h-1zM436 460h1v3h-1zM480 460h1v3h-1zM376 463h2v4h-2zM380 463h1v4h-1zM382 463h1v4h-1zM386 463h1v4h-1zM390 463h2v4h-2zM404 463h1v4h-1zM416 463h1v4h-1zM436 463h1v4h-1zM480 467h1v4h-1zM480 471h1v3h-1z"/>
<path fill="#ff2a00" d="M440 409h2v3h-2zM443 409h3v3h-3zM447 409h4v3h-4zM454 409h1v3h-1zM457 409h1v3h-1zM465 409h2v3h-2zM479 409h1v3h-1zM380 416h2v4h-2zM383 416h1v4h-1zM392 416h1v4h-1zM394 416h1v4h-1zM410 416h1v4h-1zM429 416h1v4h-1zM432 416h1v4h-1zM435 416h1v4h-1zM377 420h1v3h-1zM388 420h1v3h-1zM390 420h1v3h-1zM402 420h2v3h-2zM405 420h1v3h-1zM411 420h2v3h-2zM415 420h1v3h-1zM427 420h1v3h-1zM377 423h2v4h-2zM380 423h1v4h-1zM390 423h2v4h-2zM401 423h4v4h-4zM417 423h2v4h-2zM424 423h1v4h-1zM435 423h3v4h-3zM386 427h3v4h-3zM393 427h1v4h-1zM403 427h1v4h-1zM414 427h1v4h-1zM434 427h1v4h-1zM436 427h2v4h-2zM439 427h1v4h-1zM459 427h2v4h-2zM480 427h1v4h-1zM377 431h1v3h-1zM386 431h1v3h-1zM400 431h1v3h-1zM409 431h2v3h-2zM414 431h1v3h-1zM419 431h1v3h-1zM426 431h1v3h-1zM431 431h1v3h-1zM433 431h2v3h-2zM438 431h1v3h-1zM441 431h1v3h-1zM445 431h1v3h-1zM447 431h3v3h-3zM453 431h1v3h-1zM458 431h1v3h-1zM463 431h2v3h-2zM468 431h1v3h-1zM470 431h2v3h-2zM478 431h1v3h-1zM377 434h1v4h-1zM388 434h1v4h-1zM390 434h2v4h-2zM396 434h1v4h-1zM399 434h1v4h-1zM409 434h1v4h-1zM414 434h1v4h-1zM416 434h2v4h-2zM419 434h2v4h-2zM427 434h1v4h-1zM433 434h1v4h-1zM479 434h1v4h-1zM391 438h1v3h-1zM394 438h1v3h-1zM399 438h1v3h-1zM402 438h1v3h-1zM404 438h2v3h-2zM412 438h1v3h-1zM418 438h2v3h-2zM422 438h3v3h-3zM377 441h1v4h-1zM387 441h1v4h-1zM390 441h1v4h-1zM403 441h1v4h-1zM407 441h1v4h-1zM409 441h1v4h-1zM412 441h1v4h-1zM415 441h1v4h-1zM431 441h1v4h-1zM434 441h1v4h-1zM378 445h1v4h-1zM380 445h1v4h-1zM394 445h1v4h-1zM402 445h1v4h-1zM405 445h1v4h-1zM407 445h1v4h-1zM414 445h1v4h-1zM417 445h3v4h-3zM426 445h2v4h-2zM431 445h1v4h-1zM377 449h2v3h-2zM382 449h1v3h-1zM389 449h2v3h-2zM414 449h1v3h-1zM431 449h1v3h-1zM433 449h1v3h-1zM436 449h1v3h-1zM377 452h2v4h-2zM382 452h1v4h-1zM387 452h1v4h-1zM391 452h1v4h-1zM404 452h1v4h-1zM410 452h1v4h-1zM415 452h1v4h-1zM417 452h1v4h-1zM427 452h1v4h-1zM431 452h1v4h-1zM434 452h1v4h-1zM377 456h2v4h-2zM389 456h1v4h-1zM407 456h1v4h-1zM411 456h1v4h-1zM416 456h1v4h-1zM433 456h1v4h-1zM436 456h1v4h-1zM378 460h1v3h-1zM380 460h1v3h-1zM386 460h1v3h-1zM388 460h1v3h-1zM390 460h1v3h-1zM394 460h1v3h-1zM405 460h1v3h-1zM414 460h1v3h-1zM418 460h1v3h-1zM431 460h1v3h-1zM433 460h1v3h-1zM389 463h1v4h-1zM405 463h1v4h-1zM412 463h1v4h-1zM414 463h2v4h-2zM417 463h2v4h-2zM433 463h2v4h-2z"/>
<path fill="#ff2000" d="M446 409h1v3h-1zM453 409h1v3h-1zM455 409h1v3h-1zM458 409h1v3h-1zM463 409h2v3h-2zM467 409h1v3h-1zM470 409h2v3h-2zM486 409h1v3h-1zM379 416h1v4h-1zM408 416h1v4h-1zM425 416h1v4h-1zM430 416h1v4h-1zM437 416h1v4h-1zM379 420h2v3h-2zM382 420h2v3h-2zM410 420h1v3h-1zM414 420h1v3h-1zM416 420h1v3h-1zM425 420h1v3h-1zM428 420h1v3h-1zM431 420h2v3h-2zM387 423h2v4h-2zM406 423h2v4h-2zM427 423h1v4h-1zM433 423h1v4h-1zM378 427h1v4h-1zM381 427h1v4h-1zM390 427h2v4h-2zM394 427h2v4h-2zM401 427h2v4h-2zM406 427h1v4h-1zM415 427h2v4h-2zM429 427h2v4h-2zM432 427h2v4h-2zM438 427h1v4h-1zM442 427h2v4h-2zM455 427h1v4h-1zM461 427h3v4h-3zM479 427h1v4h-1zM481 427h1v4h-1zM378 431h2v3h-2zM381 431h1v3h-1zM384 431h1v3h-1zM387 431h5v3h-5zM393 431h1v3h-1zM395 431h1v3h-1zM401 431h2v3h-2zM406 431h1v3h-1zM412 431h1v3h-1zM415 431h2v3h-2zM432 431h1v3h-1zM436 431h1v3h-1zM444 431h1v3h-1zM378 434h1v4h-1zM380 434h1v4h-1zM387 434h1v4h-1zM392 434h1v4h-1zM400 434h1v4h-1zM403 434h2v4h-2zM407 434h2v4h-2zM410 434h1v4h-1zM412 434h2v4h-2zM418 434h1v4h-1zM424 434h2v4h-2zM428 434h1v4h-1zM434 434h3v4h-3zM377 438h1v3h-1zM379 438h3v3h-3zM386 438h1v3h-1zM389 438h2v3h-2zM392 438h2v3h-2zM397 438h2v3h-2zM401 438h1v3h-1zM406 438h2v3h-2zM415 438h2v3h-2zM421 438h1v3h-1zM427 438h1v3h-1zM431 438h1v3h-1zM434 438h2v3h-2zM379 441h2v4h-2zM383 441h1v4h-1zM388 441h2v4h-2zM391 441h2v4h-2zM394 441h3v4h-3zM401 441h1v4h-1zM404 441h3v4h-3zM408 441h1v4h-1zM411 441h1v4h-1zM414 441h1v4h-1zM416 441h4v4h-4zM429 441h2v4h-2zM432 441h1v4h-1zM436 441h1v4h-1zM377 445h1v4h-1zM379 445h1v4h-1zM383 445h1v4h-1zM387 445h3v4h-3zM391 445h1v4h-1zM403 445h2v4h-2zM406 445h1v4h-1zM408 445h6v4h-6zM420 445h1v4h-1zM434 445h1v4h-1zM380 449h1v3h-1zM383 449h2v3h-2zM391 449h2v3h-2zM394 449h1v3h-1zM402 449h3v3h-3zM407 449h2v3h-2zM410 449h2v3h-2zM413 449h1v3h-1zM416 449h3v3h-3zM430 449h1v3h-1zM432 449h1v3h-1zM379 452h1v4h-1zM383 452h3v4h-3zM388 452h1v4h-1zM390 452h1v4h-1zM392 452h2v4h-2zM403 452h1v4h-1zM405 452h1v4h-1zM408 452h1v4h-1zM411 452h2v4h-2zM414 452h1v4h-1zM418 452h2v4h-2zM429 452h1v4h-1zM433 452h1v4h-1zM380 456h1v4h-1zM382 456h3v4h-3zM386 456h1v4h-1zM388 456h1v4h-1zM390 456h2v4h-2zM393 456h2v4h-2zM403 456h1v4h-1zM406 456h1v4h-1zM409 456h1v4h-1zM414 456h1v4h-1zM418 456h1v4h-1zM431 456h1v4h-1zM434 456h2v4h-2zM377 460h1v3h-1zM383 460h2v3h-2zM391 460h1v3h-1zM407 460h2v3h-2zM412 460h1v3h-1zM415 460h1v3h-1zM417 460h1v3h-1zM429 460h1v3h-1zM381 463h1v4h-1zM384 463h1v4h-1zM387 463h2v4h-2zM392 463h1v4h-1zM407 463h1v4h-1zM409 463h3v4h-3zM413 463h1v4h-1zM429 463h2v4h-2zM432 463h1v4h-1zM435 463h1v4h-1z"/>
<path fill="#ff1600" d="M468 409h1v3h-1zM439 412h1v4h-1zM438 416h1v4h-1zM378 420h1v3h-1zM381 420h1v3h-1zM389 420h1v3h-1zM392 420h3v3h-3zM408 420h1v3h-1zM430 420h1v3h-1zM381 423h1v4h-1zM383 423h2v4h-2zM389 423h1v4h-1zM394 423h2v4h-2zM415 423h1v4h-1zM428 423h2v4h-2zM431 423h1v4h-1zM434 423h1v4h-1zM377 427h1v4h-1zM380 427h1v4h-1zM383 427h2v4h-2zM389 427h1v4h-1zM413 427h1v4h-1zM418 427h1v4h-1zM424 427h1v4h-1zM427 427h1v4h-1zM431 427h1v4h-1zM435 427h1v4h-1zM441 427h1v4h-1zM450 427h3v4h-3zM456 427h2v4h-2zM464 427h2v4h-2zM467 427h1v4h-1zM469 427h1v4h-1zM472 427h4v4h-4zM477 427h2v4h-2zM482 427h1v4h-1zM380 431h1v3h-1zM383 431h1v3h-1zM392 431h1v3h-1zM396 431h1v3h-1zM411 431h1v3h-1zM418 431h1v3h-1zM424 431h1v3h-1zM428 431h3v3h-3zM381 434h1v4h-1zM383 434h2v4h-2zM389 434h1v4h-1zM394 434h2v4h-2zM401 434h1v4h-1zM429 434h4v4h-4zM384 438h2v3h-2zM387 438h2v3h-2zM396 438h1v3h-1zM400 438h1v3h-1zM408 438h1v3h-1zM410 438h2v3h-2zM413 438h1v3h-1zM420 438h1v3h-1zM425 438h1v3h-1zM428 438h1v3h-1zM430 438h1v3h-1zM432 438h1v3h-1zM378 441h1v4h-1zM384 441h1v4h-1zM393 441h1v4h-1zM420 441h1v4h-1zM427 441h2v4h-2zM435 441h1v4h-1zM381 445h1v4h-1zM384 445h2v4h-2zM390 445h1v4h-1zM393 445h1v4h-1zM415 445h1v4h-1zM429 445h1v4h-1zM432 445h1v4h-1zM381 449h1v3h-1zM385 449h1v3h-1zM387 449h2v3h-2zM393 449h1v3h-1zM395 449h1v3h-1zM415 449h1v3h-1zM427 449h1v3h-1zM429 449h1v3h-1zM380 452h2v4h-2zM389 452h1v4h-1zM394 452h1v4h-1zM406 452h1v4h-1zM428 452h1v4h-1zM435 452h1v4h-1zM387 456h1v4h-1zM410 456h1v4h-1zM413 456h1v4h-1zM415 456h1v4h-1zM428 456h1v4h-1zM430 456h1v4h-1zM432 456h1v4h-1zM387 460h1v3h-1zM389 460h1v3h-1zM393 460h1v3h-1zM406 460h1v3h-1zM410 460h2v3h-2zM413 460h1v3h-1zM428 460h1v3h-1zM432 460h1v3h-1zM435 460h1v3h-1zM378 463h2v4h-2zM383 463h1v4h-1zM393 463h1v4h-1zM431 463h1v4h-1z"/>
<path fill="#fd0f00" d="M460 412h1v4h-1zM484 412h1v4h-1zM406 420h1v3h-1zM413 420h1v3h-1zM429 420h1v3h-1zM435 420h1v3h-1zM437 420h1v3h-1zM379 423h1v4h-1zM392 423h2v4h-2zM408 423h1v4h-1zM413 423h1v4h-1zM425 423h1v4h-1zM430 423h1v4h-1zM432 423h1v4h-1zM379 427h1v4h-1zM385 427h1v4h-1zM392 427h1v4h-1zM408 427h1v4h-1zM425 427h1v4h-1zM428 427h1v4h-1zM440 427h1v4h-1zM445 427h4v4h-4zM453 427h1v4h-1zM458 427h1v4h-1zM471 427h1v4h-1zM476 427h1v4h-1zM385 431h1v3h-1zM394 431h1v3h-1zM408 431h1v3h-1zM413 431h1v3h-1zM425 431h1v3h-1zM435 431h1v3h-1zM379 434h1v4h-1zM385 434h1v4h-1zM393 434h1v4h-1zM406 434h1v4h-1zM383 438h1v3h-1zM395 438h1v3h-1zM429 438h1v3h-1zM381 441h1v4h-1zM385 441h1v4h-1zM413 441h1v4h-1zM392 445h1v4h-1zM395 445h1v4h-1zM428 445h1v4h-1zM430 445h1v4h-1zM435 445h1v4h-1zM379 449h1v3h-1zM406 449h1v3h-1zM428 449h1v3h-1zM435 449h1v3h-1zM413 452h1v4h-1zM430 452h1v4h-1zM432 452h1v4h-1zM379 456h1v4h-1zM381 456h1v4h-1zM385 456h1v4h-1zM392 456h1v4h-1zM408 456h1v4h-1zM429 456h1v4h-1zM379 460h1v3h-1zM381 460h1v3h-1zM385 460h1v3h-1zM392 460h1v3h-1zM430 460h1v3h-1zM385 463h1v4h-1zM406 463h1v4h-1zM408 463h1v4h-1zM428 463h1v4h-1z"/>
<path fill="#f60b00" d="M442 412h2v4h-2zM446 412h1v4h-1zM451 412h1v4h-1zM459 412h1v4h-1zM461 412h1v4h-1zM474 412h1v4h-1zM477 412h1v4h-1zM480 412h2v4h-2zM483 412h1v4h-1zM486 412h1v4h-1zM438 423h2v4h-2zM442 423h1v4h-1zM456 423h1v4h-1zM460 423h2v4h-2zM477 423h1v4h-1zM481 423h1v4h-1zM444 427h1v4h-1zM449 427h1v4h-1zM454 427h1v4h-1zM466 427h1v4h-1zM468 427h1v4h-1zM470 427h1v4h-1z"/>
<path fill="#f00800" d="M441 412h1v4h-1zM444 412h2v4h-2zM447 412h1v4h-1zM452 412h3v4h-3zM456 412h1v4h-1zM458 412h1v4h-1zM462 412h1v4h-1zM464 412h1v4h-1zM471 412h3v4h-3zM475 412h1v4h-1zM478 412h2v4h-2zM439 416h1v4h-1zM461 416h1v4h-1zM472 416h1v4h-1zM438 420h2v3h-2zM442 420h1v3h-1zM460 420h1v3h-1zM474 420h1v3h-1zM443 423h1v4h-1zM452 423h1v4h-1zM462 423h1v4h-1zM473 423h1v4h-1zM475 423h1v4h-1zM478 423h1v4h-1z"/>
<path fill="#e90500" d="M448 412h1v4h-1zM450 412h1v4h-1zM455 412h1v4h-1zM457 412h1v4h-1zM463 412h1v4h-1zM465 412h2v4h-2zM469 412h1v4h-1zM476 412h1v4h-1zM482 412h1v4h-1zM485 412h1v4h-1zM443 416h1v4h-1zM452 416h1v4h-1zM459 416h2v4h-2zM462 416h1v4h-1zM466 416h1v4h-1zM474 416h1v4h-1zM484 416h2v4h-2zM443 420h1v3h-1zM450 420h2v3h-2zM461 420h1v3h-1zM471 420h2v3h-2zM475 420h1v3h-1zM479 420h1v3h-1zM482 420h2v3h-2zM441 423h1v4h-1zM445 423h2v4h-2zM448 423h1v4h-1zM450 423h2v4h-2zM453 423h2v4h-2zM457 423h1v4h-1zM459 423h1v4h-1zM463 423h1v4h-1zM469 423h1v4h-1zM472 423h1v4h-1zM474 423h1v4h-1zM476 423h1v4h-1zM479 423h1v4h-1zM484 423h1v4h-1zM483 427h2v4h-2z"/>
<path fill="#e30100" d="M440 412h1v4h-1zM449 412h1v4h-1zM467 412h2v4h-2zM470 412h1v4h-1zM442 416h1v4h-1zM444 416h1v4h-1zM447 416h2v4h-2zM450 416h2v4h-2zM454 416h3v4h-3zM469 416h1v4h-1zM471 416h1v4h-1zM477 416h5v4h-5zM486 416h1v4h-1zM440 420h2v3h-2zM447 420h1v3h-1zM449 420h1v3h-1zM452 420h2v3h-2zM459 420h1v3h-1zM462 420h1v3h-1zM465 420h1v3h-1zM467 420h1v3h-1zM469 420h1v3h-1zM476 420h2v3h-2zM481 420h1v3h-1zM484 420h1v3h-1zM486 420h1v3h-1zM447 423h1v4h-1zM449 423h1v4h-1zM458 423h1v4h-1zM465 423h4v4h-4zM480 423h1v4h-1zM482 423h2v4h-2zM485 423h2v4h-2zM485 427h1v4h-1z"/>
<path fill="#d80000" d="M441 416h1v4h-1zM445 416h2v4h-2zM453 416h1v4h-1zM457 416h2v4h-2zM464 416h2v4h-2zM467 416h1v4h-1zM475 416h2v4h-2zM482 416h2v4h-2zM444 420h1v3h-1zM446 420h1v3h-1zM448 420h1v3h-1zM456 420h3v3h-3zM463 420h1v3h-1zM466 420h1v3h-1zM468 420h1v3h-1zM473 420h1v3h-1zM478 420h1v3h-1zM480 420h1v3h-1zM485 420h1v3h-1zM440 423h1v4h-1zM444 423h1v4h-1zM455 423h1v4h-1zM464 423h1v4h-1zM470 423h2v4h-2z"/>
<path fill="#ca0000" d="M440 416h1v4h-1zM449 416h1v4h-1zM463 416h1v4h-1zM468 416h1v4h-1zM470 416h1v4h-1zM473 416h1v4h-1zM445 420h1v3h-1zM454 420h2v3h-2zM464 420h1v3h-1zM470 420h1v3h-1zM486 427h1v4h-1z"/>
<path fill="#000" d="M309 546h1v16h-1zM310 544h1v14h-1zM311 540h1v5h-1zM312 541h1v10h-1zM313 545h1v12h-1zM314 554h1v19h-1zM315 554h1v14h-1zM316 550h1v20h-1zM317 550h1v20h-1zM318 549h1v21h-1zM319 542h1v7h-1zM320 548h1v23h-1zM321 559h1v8h-1zM322 551h1v9h-1zM323 550h1v21h-1zM324 550h1v18h-1zM325 545h1v9h-1zM326 549h1v20h-1zM327 543h1v19h-1zM328 541h1v21h-1zM329 541h1v4h-1zM330 541h1v8h-1zM331 544h1v21h-1zM332 557h1v1h-1zM335 553h1v8h-1zM336 546h1v17h-1zM337 548h1v16h-1zM338 552h1v2h-1zM339 553h1v41h-1zM340 559h1v29h-1zM341 553h1v7h-1zM342 544h1v23h-1zM343 544h1v10h-1zM344 545h1v19h-1zM345 559h1v13h-1zM346 559h1v8h-1zM347 552h1v9h-1zM348 539h1v13h-1zM349 541h1v6h-1zM350 544h1v10h-1zM351 541h1v6h-1zM352 544h1v14h-1zM353 544h1v23h-1zM354 554h1v10h-1zM357 544h1v12h-1zM358 544h1v19h-1zM359 542h1v6h-1zM360 535h1v13h-1zM361 536h1v17h-1zM362 548h1v15h-1zM363 549h1v15h-1zM364 547h1v15h-1zM365 549h1v13h-1zM366 549h1v31h-1zM367 560h1v56h-1zM368 556h1v4h-1zM369 552h1v5h-1zM370 549h1v6h-1zM371 544h1v12h-1zM372 543h1v4h-1zM373 541h1v5h-1zM374 537h1v7h-1zM375 537h1v3h-1z"/>
<path fill="#000" d="M375 537h1v1h-1zM376 537h1v1h-1zM377 537h1v1h-1zM378 537h1v1h-1zM379 536h1v2h-1zM380 536h1v2h-1zM381 537h1v2h-1zM382 536h1v3h-1zM383 536h1v2h-1zM384 537h1v1h-1zM385 537h1v1h-1zM386 537h1v1h-1zM387 536h1v2h-1zM388 536h1v2h-1zM389 537h1v1h-1zM390 536h1v2h-1zM391 536h1v2h-1zM392 537h1v1h-1zM393 537h1v1h-1zM394 537h1v2h-1zM395 538h1v1h-1zM396 537h1v2h-1zM397 537h1v2h-1zM398 538h1v2h-1zM399 539h1v2h-1zM400 540h1v2h-1zM401 540h1v2h-1zM402 538h1v3h-1zM403 536h1v3h-1zM404 536h1v1h-1zM405 535h1v2h-1zM406 535h1v1h-1zM407 535h1v2h-1zM408 536h1v1h-1zM409 536h1v1h-1zM410 536h1v1h-1zM411 536h1v2h-1zM412 536h1v2h-1zM413 536h1v1h-1zM414 536h1v1h-1zM415 536h1v1h-1zM416 536h1v1h-1zM417 535h1v2h-1zM418 535h1v2h-1zM419 536h1v1h-1zM420 536h1v1h-1zM421 536h1v1h-1zM422 536h1v2h-1zM423 537h1v1h-1zM424 537h1v3h-1zM425 538h1v2h-1zM426 534h1v5h-1zM427 534h1v2h-1zM428 535h1v1h-1zM429 535h1v1h-1zM430 534h1v2h-1zM431 534h1v2h-1zM432 534h1v2h-1zM433 534h1v3h-1zM434 535h1v2h-1zM435 534h1v2h-1zM436 534h1v2h-1zM437 535h1v7h-1zM438 541h1v1h-1zM439 540h1v2h-1zM440 540h1v1h-1zM441 540h1v2h-1zM442 539h1v3h-1zM443 539h1v2h-1zM444 540h1v1h-1zM445 539h1v2h-1zM446 539h1v2h-1zM447 539h1v2h-1zM448 539h1v2h-1zM449 538h1v3h-1zM450 538h1v1h-1zM451 538h1v1h-1zM452 538h1v1h-1zM453 538h1v1h-1zM454 538h1v1h-1zM455 538h1v1h-1zM456 538h1v1h-1zM457 538h1v1h-1zM458 538h1v1h-1zM459 538h1v2h-1zM460 538h1v2h-1zM461 538h1v1h-1zM462 538h1v2h-1zM463 537h1v3h-1zM464 537h1v2h-1zM465 538h1v1h-1zM466 538h1v1h-1zM467 538h1v1h-1zM468 538h1v2h-1zM469 538h1v2h-1zM470 537h1v2h-1zM471 537h1v2h-1zM472 538h1v2h-1zM473 539h1v1h-1zM474 538h1v2h-1zM475 537h1v2h-1zM476 537h1v2h-1zM477 537h1v2h-1zM478 536h1v2h-1zM479 535h1v2h-1zM480 535h1v1h-1zM481 535h1v1h-1zM482 535h1v1h-1zM483 535h1v3h-1zM484 537h1v2h-1zM485 537h1v2h-1zM486 537h1v2h-1zM487 537h1v2h-1z"/>
<path fill="#0000ff" d="M1 7h1v1h-1zM1 8h1v1h-1zM1 9h1v1h-1zM1 10h1v1h-1zM1 11h1v1h-1zM1 12h1v1h-1zM5 7h1v1h-1zM5 8h1v1h-1zM5 9h1v1h-1zM5 10h1v1h-1zM5 11h1v1h-1zM5 12h1v1h-1zM6 7h1v1h-1zM7 7h1v1h-1zM7 8h1v1h-1zM7 9h1v1h-1zM7 10h1v1h-1zM6 10h1v1h-1zM10 7h1v1h-1zM10 8h1v1h-1zM10 9h1v1h-1zM10 10h1v1h-1zM10 11h1v1h-1zM10 12h1v1h-1zM11 7h1v1h-1zM12 7h1v1h-1zM13 8h1v1h-1zM13 9h1v1h-1zM13 10h1v1h-1zM13 11h1v1h-1zM11 12h1v1h-1zM12 12h1v1h-1zM17 7h1v1h-1zM17 8h1v1h-1zM17 9h1v1h-1zM17 10h1v1h-1zM17 11h1v1h-1zM17 12h1v1h-1zM18 12h1v1h-1zM19 12h1v1h-1zM20 12h1v1h-1zM22 7h1v1h-1zM22 8h1v1h-1zM22 9h1v1h-1zM22 10h1v1h-1zM22 11h1v1h-1zM22 12h1v1h-1z"/>
<path fill="#0000ff" d="M605 7h1v1h-1zM605 8h1v1h-1zM605 9h1v1h-1zM605 10h1v1h-1zM605 11h1v1h-1zM605 12h1v1h-1zM608 7h1v1h-1zM608 8h1v1h-1zM608 9h1v1h-1zM608 10h1v1h-1zM608 11h1v1h-1zM608 12h1v1h-1zM609 7h1v1h-1zM610 7h1v1h-1zM610 8h1v1h-1zM610 9h1v1h-1zM610 10h1v1h-1zM609 10h1v1h-1zM614 7h1v1h-1zM614 8h1v1h-1zM614 9h1v1h-1zM614 10h1v1h-1zM614 11h1v1h-1zM614 12h1v1h-1zM615 7h1v1h-1zM616 7h1v1h-1zM617 8h1v1h-1zM617 9h1v1h-1zM617 10h1v1h-1zM617 11h1v1h-1zM615 12h1v1h-1zM616 12h1v1h-1zM621 7h1v1h-1zM621 8h1v1h-1zM621 9h1v1h-1zM621 10h1v1h-1zM621 11h1v1h-1zM621 12h1v1h-1zM622 12h1v1h-1zM623 12h1v1h-1zM624 12h1v1h-1zM626 7h1v1h-1zM626 8h1v1h-1zM626 9h1v1h-1zM626 10h1v1h-1zM626 11h1v1h-1zM626 12h1v1h-1z"/>
<text x="280.5" y="33.8" font-size="13" textLength="35.5" lengthAdjust="spacingAndGlyphs">MMS1</text>
<text x="428.5" y="33.8" font-size="13" textLength="117" lengthAdjust="spacingAndGlyphs">08/Oct/2025 12:00</text>
<rect x="110" y="73" width="378" height="1" fill="#000"/>
<rect x="110" y="131" width="378" height="1" fill="#000"/>
<rect x="110" y="73" width="1" height="59" fill="#000"/>
<rect x="487" y="73" width="1" height="59" fill="#000"/>
<rect x="110" y="68" width="1" height="5" fill="#000"/>
<rect x="110" y="132" width="1" height="5" fill="#000"/>
<rect x="125" y="71" width="1" height="2" fill="#000"/>
<rect x="125" y="132" width="1" height="2" fill="#000"/>
<rect x="141" y="70" width="1" height="3" fill="#000"/>
<rect x="141" y="132" width="1" height="3" fill="#000"/>
<rect x="157" y="71" width="1" height="2" fill="#000"/>
<rect x="157" y="132" width="1" height="2" fill="#000"/>
<rect x="172" y="68" width="1" height="5" fill="#000"/>
<rect x="172" y="132" width="1" height="5" fill="#000"/>
<rect x="188" y="71" width="1" height="2" fill="#000"/>
<rect x="188" y="132" width="1" height="2" fill="#000"/>
<rect x="204" y="70" width="1" height="3" fill="#000"/>
<rect x="204" y="132" width="1" height="3" fill="#000"/>
<rect x="220" y="71" width="1" height="2" fill="#000"/>
<rect x="220" y="132" width="1" height="2" fill="#000"/>
<rect x="235" y="68" width="1" height="5" fill="#000"/>
<rect x="235" y="132" width="1" height="5" fill="#000"/>
<rect x="251" y="71" width="1" height="2" fill="#000"/>
<rect x="251" y="132" width="1" height="2" fill="#000"/>
<rect x="267" y="70" width="1" height="3" fill="#000"/>
<rect x="267" y="132" width="1" height="3" fill="#000"/>
<rect x="282" y="71" width="1" height="2" fill="#000"/>
<rect x="282" y="132" width="1" height="2" fill="#000"/>
<rect x="298" y="68" width="1" height="5" fill="#000"/>
<rect x="298" y="132" width="1" height="5" fill="#000"/>
<rect x="314" y="71" width="1" height="2" fill="#000"/>
<rect x="314" y="132" width="1" height="2" fill="#000"/>
<rect x="330" y="70" width="1" height="3" fill="#000"/>
<rect x="330" y="132" width="1" height="3" fill="#000"/>
<rect x="345" y="71" width="1" height="2" fill="#000"/>
<rect x="345" y="132" width="1" height="2" fill="#000"/>
<rect x="361" y="68" width="1" height="5" fill="#000"/>
<rect x="361" y="132" width="1" height="5" fill="#000"/>
<rect x="377" y="71" width="1" height="2" fill="#000"/>
<rect x="377" y="132" width="1" height="2" fill="#000"/>
<rect x="392" y="70" width="1" height="3" fill="#000"/>
<rect x="392" y="132" width="1" height="3" fill="#000"/>
<rect x="408" y="71" width="1" height="2" fill="#000"/>
<rect x="408" y="132" width="1" height="2" fill="#000"/>
<rect x="424" y="68" width="1" height="5" fill="#000"/>
<rect x="424" y="132" width="1" height="5" fill="#000"/>
<rect x="439" y="71" width="1" height="2" fill="#000"/>
<rect x="439" y="132" width="1" height="2" fill="#000"/>
<rect x="455" y="70" width="1" height="3" fill="#000"/>
<rect x="455" y="132" width="1" height="3" fill="#000"/>
<rect x="471" y="71" width="1" height="2" fill="#000"/>
<rect x="471" y="132" width="1" height="2" fill="#000"/>
<rect x="487" y="68" width="1" height="5" fill="#000"/>
<rect x="487" y="132" width="1" height="5" fill="#000"/>
<rect x="110" y="146" width="378" height="1" fill="#000"/>
<rect x="110" y="263" width="378" height="1" fill="#000"/>
<rect x="110" y="146" width="1" height="118" fill="#000"/>
<rect x="487" y="146" width="1" height="118" fill="#000"/>
<rect x="110" y="141" width="1" height="5" fill="#000"/>
<rect x="110" y="264" width="1" height="5" fill="#000"/>
<rect x="125" y="144" width="1" height="2" fill="#000"/>
<rect x="125" y="264" width="1" height="2" fill="#000"/>
<rect x="141" y="143" width="1" height="3" fill="#000"/>
<rect x="141" y="264" width="1" height="3" fill="#000"/>
<rect x="157" y="144" width="1" height="2" fill="#000"/>
<rect x="157" y="264" width="1" height="2" fill="#000"/>
<rect x="172" y="141" width="1" height="5" fill="#000"/>
<rect x="172" y="264" width="1" height="5" fill="#000"/>
<rect x="188" y="144" width="1" height="2" fill="#000"/>
<rect x="188" y="264" width="1" height="2" fill="#000"/>
<rect x="204" y="143" width="1" height="3" fill="#000"/>
<rect x="204" y="264" width="1" height="3" fill="#000"/>
<rect x="220" y="144" width="1" height="2" fill="#000"/>
<rect x="220" y="264" width="1" height="2" fill="#000"/>
<rect x="235" y="141" width="1" height="5" fill="#000"/>
<rect x="235" y="264" width="1" height="5" fill="#000"/>
<rect x="251" y="144" width="1" height="2" fill="#000"/>
<rect x="251" y="264" width="1" height="2" fill="#000"/>
<rect x="267" y="143" width="1" height="3" fill="#000"/>
<rect x="267" y="264" width="1" height="3" fill="#000"/>
<rect x="282" y="144" width="1" height="2" fill="#000"/>
<rect x="282" y="264" width="1" height="2" fill="#000"/>
<rect x="298" y="141" width="1" height="5" fill="#000"/>
<rect x="298" y="264" width="1" height="5" fill="#000"/>
<rect x="314" y="144" width="1" height="2" fill="#000"/>
<rect x="314" y="264" width="1" height="2" fill="#000"/>
<rect x="330" y="143" width="1" height="3" fill="#000"/>
<rect x="330" y="264" width="1" height="3" fill="#000"/>
<rect x="345" y="144" width="1" height="2" fill="#000"/>
<rect x="345" y="264" width="1" height="2" fill="#000"/>
<rect x="361" y="141" width="1" height="5" fill="#000"/>
<rect x="361" y="264" width="1" height="5" fill="#000"/>
<rect x="377" y="144" width="1" height="2" fill="#000"/>
<rect x="377" y="264" width="1" height="2" fill="#000"/>
<rect x="392" y="143" width="1" height="3" fill="#000"/>
<rect x="392" y="264" width="1" height="3" fill="#000"/>
<rect x="408" y="144" width="1" height="2" fill="#000"/>
<rect x="408" y="264" width="1" height="2" fill="#000"/>
<rect x="424" y="141" width="1" height="5" fill="#000"/>
<rect x="424" y="264" width="1" height="5" fill="#000"/>
<rect x="439" y="144" width="1" height="2" fill="#000"/>
<rect x="439" y="264" width="1" height="2" fill="#000"/>
<rect x="455" y="143" width="1" height="3" fill="#000"/>
<rect x="455" y="264" width="1" height="3" fill="#000"/>
<rect x="471" y="144" width="1" height="2" fill="#000"/>
<rect x="471" y="264" width="1" height="2" fill="#000"/>
<rect x="487" y="141" width="1" height="5" fill="#000"/>
<rect x="487" y="264" width="1" height="5" fill="#000"/>
<rect x="110" y="278" width="378" height="1" fill="#000"/>
<rect x="110" y="376" width="378" height="1" fill="#000"/>
<rect x="110" y="278" width="1" height="99" fill="#000"/>
<rect x="487" y="278" width="1" height="99" fill="#000"/>
<rect x="110" y="273" width="1" height="5" fill="#000"/>
<rect x="110" y="377" width="1" height="5" fill="#000"/>
<rect x="125" y="276" width="1" height="2" fill="#000"/>
<rect x="125" y="377" width="1" height="2" fill="#000"/>
<rect x="141" y="275" width="1" height="3" fill="#000"/>
<rect x="141" y="377" width="1" height="3" fill="#000"/>
<rect x="157" y="276" width="1" height="2" fill="#000"/>
<rect x="157" y="377" width="1" height="2" fill="#000"/>
<rect x="172" y="273" width="1" height="5" fill="#000"/>
<rect x="172" y="377" width="1" height="5" fill="#000"/>
<rect x="188" y="276" width="1" height="2" fill="#000"/>
<rect x="188" y="377" width="1" height="2" fill="#000"/>
<rect x="204" y="275" width="1" height="3" fill="#000"/>
<rect x="204" y="377" width="1" height="3" fill="#000"/>
<rect x="220" y="276" width="1" height="2" fill="#000"/>
<rect x="220" y="377" width="1" height="2" fill="#000"/>
<rect x="235" y="273" width="1" height="5" fill="#000"/>
<rect x="235" y="377" width="1" height="5" fill="#000"/>
<rect x="251" y="276" width="1" height="2" fill="#000"/>
<rect x="251" y="377" width="1" height="2" fill="#000"/>
<rect x="267" y="275" width="1" height="3" fill="#000"/>
<rect x="267" y="377" width="1" height="3" fill="#000"/>
<rect x="282" y="276" width="1" height="2" fill="#000"/>
<rect x="282" y="377" width="1" height="2" fill="#000"/>
<rect x="298" y="273" width="1" height="5" fill="#000"/>
<rect x="298" y="377" width="1" height="5" fill="#000"/>
<rect x="314" y="276" width="1" height="2" fill="#000"/>
<rect x="314" y="377" width="1" height="2" fill="#000"/>
<rect x="330" y="275" width="1" height="3" fill="#000"/>
<rect x="330" y="377" width="1" height="3" fill="#000"/>
<rect x="345" y="276" width="1" height="2" fill="#000"/>
<rect x="345" y="377" width="1" height="2" fill="#000"/>
<rect x="361" y="273" width="1" height="5" fill="#000"/>
<rect x="361" y="377" width="1" height="5" fill="#000"/>
<rect x="377" y="276" width="1" height="2" fill="#000"/>
<rect x="377" y="377" width="1" height="2" fill="#000"/>
<rect x="392" y="275" width="1" height="3" fill="#000"/>
<rect x="392" y="377" width="1" height="3" fill="#000"/>
<rect x="408" y="276" width="1" height="2" fill="#000"/>
<rect x="408" y="377" width="1" height="2" fill="#000"/>
<rect x="424" y="273" width="1" height="5" fill="#000"/>
<rect x="424" y="377" width="1" height="5" fill="#000"/>
<rect x="439" y="276" width="1" height="2" fill="#000"/>
<rect x="439" y="377" width="1" height="2" fill="#000"/>
<rect x="455" y="275" width="1" height="3" fill="#000"/>
<rect x="455" y="377" width="1" height="3" fill="#000"/>
<rect x="471" y="276" width="1" height="2" fill="#000"/>
<rect x="471" y="377" width="1" height="2" fill="#000"/>
<rect x="487" y="273" width="1" height="5" fill="#000"/>
<rect x="487" y="377" width="1" height="5" fill="#000"/>
<rect x="110" y="390" width="378" height="1" fill="#000"/>
<rect x="110" y="507" width="378" height="1" fill="#000"/>
<rect x="110" y="390" width="1" height="118" fill="#000"/>
<rect x="487" y="390" width="1" height="118" fill="#000"/>
<rect x="110" y="385" width="1" height="5" fill="#000"/>
<rect x="110" y="508" width="1" height="5" fill="#000"/>
<rect x="125" y="388" width="1" height="2" fill="#000"/>
<rect x="125" y="508" width="1" height="2" fill="#000"/>
<rect x="141" y="387" width="1" height="3" fill="#000"/>
<rect x="141" y="508" width="1" height="3" fill="#000"/>
<rect x="157" y="388" width="1" height="2" fill="#000"/>
<rect x="157" y="508" width="1" height="2" fill="#000"/>
<rect x="172" y="385" width="1" height="5" fill="#000"/>
<rect x="172" y="508" width="1" height="5" fill="#000"/>
<rect x="188" y="388" width="1" height="2" fill="#000"/>
<rect x="188" y="508" width="1" height="2" fill="#000"/>
<rect x="204" y="387" width="1" height="3" fill="#000"/>
<rect x="204" y="508" width="1" height="3" fill="#000"/>
<rect x="220" y="388" width="1" height="2" fill="#000"/>
<rect x="220" y="508" width="1" height="2" fill="#000"/>
<rect x="235" y="385" width="1" height="5" fill="#000"/>
<rect x="235" y="508" width="1" height="5" fill="#000"/>
<rect x="251" y="388" width="1" height="2" fill="#000"/>
<rect x="251" y="508" width="1" height="2" fill="#000"/>
<rect x="267" y="387" width="1" height="3" fill="#000"/>
<rect x="267" y="508" width="1" height="3" fill="#000"/>
<rect x="282" y="388" width="1" height="2" fill="#000"/>
<rect x="282" y="508" width="1" height="2" fill="#000"/>
<rect x="298" y="385" width="1" height="5" fill="#000"/>
<rect x="298" y="508" width="1" height="5" fill="#000"/>
<rect x="314" y="388" width="1" height="2" fill="#000"/>
<rect x="314" y="508" width="1" height="2" fill="#000"/>
<rect x="330" y="387" width="1" height="3" fill="#000"/>
<rect x="330" y="508" width="1" height="3" fill="#000"/>
<rect x="345" y="388" width="1" height="2" fill="#000"/>
<rect x="345" y="508" width="1" height="2" fill="#000"/>
<rect x="361" y="385" width="1" height="5" fill="#000"/>
<rect x="361" y="508" width="1" height="5" fill="#000"/>
<rect x="377" y="388" width="1" height="2" fill="#000"/>
<rect x="377" y="508" width="1" height="2" fill="#000"/>
<rect x="392" y="387" width="1" height="3" fill="#000"/>
<rect x="392" y="508" width="1" height="3" fill="#000"/>
<rect x="408" y="388" width="1" height="2" fill="#000"/>
<rect x="408" y="508" width="1" height="2" fill="#000"/>
<rect x="424" y="385" width="1" height="5" fill="#000"/>
<rect x="424" y="508" width="1" height="5" fill="#000"/>
<rect x="439" y="388" width="1" height="2" fill="#000"/>
<rect x="439" y="508" width="1" height="2" fill="#000"/>
<rect x="455" y="387" width="1" height="3" fill="#000"/>
<rect x="455" y="508" width="1" height="3" fill="#000"/>
<rect x="471" y="388" width="1" height="2" fill="#000"/>
<rect x="471" y="508" width="1" height="2" fill="#000"/>
<rect x="487" y="385" width="1" height="5" fill="#000"/>
<rect x="487" y="508" width="1" height="5" fill="#000"/>
<rect x="110" y="522" width="378" height="1" fill="#000"/>
<rect x="110" y="620" width="378" height="1" fill="#000"/>
<rect x="110" y="522" width="1" height="99" fill="#000"/>
<rect x="487" y="522" width="1" height="99" fill="#000"/>
<rect x="110" y="517" width="1" height="5" fill="#000"/>
<rect x="110" y="621" width="1" height="5" fill="#000"/>
<rect x="125" y="520" width="1" height="2" fill="#000"/>
<rect x="125" y="621" width="1" height="2" fill="#000"/>
<rect x="141" y="519" width="1" height="3" fill="#000"/>
<rect x="141" y="621" width="1" height="3" fill="#000"/>
<rect x="157" y="520" width="1" height="2" fill="#000"/>
<rect x="157" y="621" width="1" height="2" fill="#000"/>
<rect x="172" y="517" width="1" height="5" fill="#000"/>
<rect x="172" y="621" width="1" height="5" fill="#000"/>
<rect x="188" y="520" width="1" height="2" fill="#000"/>
<rect x="188" y="621" width="1" height="2" fill="#000"/>
<rect x="204" y="519" width="1" height="3" fill="#000"/>
<rect x="204" y="621" width="1" height="3" fill="#000"/>
<rect x="220" y="520" width="1" height="2" fill="#000"/>
<rect x="220" y="621" width="1" height="2" fill="#000"/>
<rect x="235" y="517" width="1" height="5" fill="#000"/>
<rect x="235" y="621" width="1" height="5" fill="#000"/>
<rect x="251" y="520" width="1" height="2" fill="#000"/>
<rect x="251" y="621" width="1" height="2" fill="#000"/>
<rect x="267" y="519" width="1" height="3" fill="#000"/>
<rect x="267" y="621" width="1" height="3" fill="#000"/>
<rect x="282" y="520" width="1" height="2" fill="#000"/>
<rect x="282" y="621" width="1" height="2" fill="#000"/>
<rect x="298" y="517" width="1" height="5" fill="#000"/>
<rect x="298" y="621" width="1" height="5" fill="#000"/>
<rect x="314" y="520" width="1" height="2" fill="#000"/>
<rect x="314" y="621" width="1" height="2" fill="#000"/>
<rect x="330" y="519" width="1" height="3" fill="#000"/>
<rect x="330" y="621" width="1" height="3" fill="#000"/>
<rect x="345" y="520" width="1" height="2" fill="#000"/>
<rect x="345" y="621" width="1" height="2" fill="#000"/>
<rect x="361" y="517" width="1" height="5" fill="#000"/>
<rect x="361" y="621" width="1" height="5" fill="#000"/>
<rect x="377" y="520" width="1" height="2" fill="#000"/>
<rect x="377" y="621" width="1" height="2" fill="#000"/>
<rect x="392" y="519" width="1" height="3" fill="#000"/>
<rect x="392" y="621" width="1" height="3" fill="#000"/>
<rect x="408" y="520" width="1" height="2" fill="#000"/>
<rect x="408" y="621" width="1" height="2" fill="#000"/>
<rect x="424" y="517" width="1" height="5" fill="#000"/>
<rect x="424" y="621" width="1" height="5" fill="#000"/>
<rect x="439" y="520" width="1" height="2" fill="#000"/>
<rect x="439" y="621" width="1" height="2" fill="#000"/>
<rect x="455" y="519" width="1" height="3" fill="#000"/>
<rect x="455" y="621" width="1" height="3" fill="#000"/>
<rect x="471" y="520" width="1" height="2" fill="#000"/>
<rect x="471" y="621" width="1" height="2" fill="#000"/>
<rect x="487" y="517" width="1" height="5" fill="#000"/>
<rect x="487" y="621" width="1" height="5" fill="#000"/>
<rect x="110" y="634" width="378" height="1" fill="#000"/>
<rect x="110" y="732" width="378" height="1" fill="#000"/>
<rect x="110" y="634" width="1" height="99" fill="#000"/>
<rect x="487" y="634" width="1" height="99" fill="#000"/>
<rect x="110" y="629" width="1" height="5" fill="#000"/>
<rect x="110" y="733" width="1" height="5" fill="#000"/>
<rect x="125" y="632" width="1" height="2" fill="#000"/>
<rect x="125" y="733" width="1" height="2" fill="#000"/>
<rect x="141" y="631" width="1" height="3" fill="#000"/>
<rect x="141" y="733" width="1" height="3" fill="#000"/>
<rect x="157" y="632" width="1" height="2" fill="#000"/>
<rect x="157" y="733" width="1" height="2" fill="#000"/>
<rect x="172" y="629" width="1" height="5" fill="#000"/>
<rect x="172" y="733" width="1" height="5" fill="#000"/>
<rect x="188" y="632" width="1" height="2" fill="#000"/>
<rect x="188" y="733" width="1" height="2" fill="#000"/>
<rect x="204" y="631" width="1" height="3" fill="#000"/>
<rect x="204" y="733" width="1" height="3" fill="#000"/>
<rect x="220" y="632" width="1" height="2" fill="#000"/>
<rect x="220" y="733" width="1" height="2" fill="#000"/>
<rect x="235" y="629" width="1" height="5" fill="#000"/>
<rect x="235" y="733" width="1" height="5" fill="#000"/>
<rect x="251" y="632" width="1" height="2" fill="#000"/>
<rect x="251" y="733" width="1" height="2" fill="#000"/>
<rect x="267" y="631" width="1" height="3" fill="#000"/>
<rect x="267" y="733" width="1" height="3" fill="#000"/>
<rect x="282" y="632" width="1" height="2" fill="#000"/>
<rect x="282" y="733" width="1" height="2" fill="#000"/>
<rect x="298" y="629" width="1" height="5" fill="#000"/>
<rect x="298" y="733" width="1" height="5" fill="#000"/>
<rect x="314" y="632" width="1" height="2" fill="#000"/>
<rect x="314" y="733" width="1" height="2" fill="#000"/>
<rect x="330" y="631" width="1" height="3" fill="#000"/>
<rect x="330" y="733" width="1" height="3" fill="#000"/>
<rect x="345" y="632" width="1" height="2" fill="#000"/>
<rect x="345" y="733" width="1" height="2" fill="#000"/>
<rect x="361" y="629" width="1" height="5" fill="#000"/>
<rect x="361" y="733" width="1" height="5" fill="#000"/>
<rect x="377" y="632" width="1" height="2" fill="#000"/>
<rect x="377" y="733" width="1" height="2" fill="#000"/>
<rect x="392" y="631" width="1" height="3" fill="#000"/>
<rect x="392" y="733" width="1" height="3" fill="#000"/>
<rect x="408" y="632" width="1" height="2" fill="#000"/>
<rect x="408" y="733" width="1" height="2" fill="#000"/>
<rect x="424" y="629" width="1" height="5" fill="#000"/>
<rect x="424" y="733" width="1" height="5" fill="#000"/>
<rect x="439" y="632" width="1" height="2" fill="#000"/>
<rect x="439" y="733" width="1" height="2" fill="#000"/>
<rect x="455" y="631" width="1" height="3" fill="#000"/>
<rect x="455" y="733" width="1" height="3" fill="#000"/>
<rect x="471" y="632" width="1" height="2" fill="#000"/>
<rect x="471" y="733" width="1" height="2" fill="#000"/>
<rect x="487" y="629" width="1" height="5" fill="#000"/>
<rect x="487" y="733" width="1" height="5" fill="#000"/>
<rect x="110" y="747" width="378" height="1" fill="#000"/>
<rect x="110" y="844" width="378" height="1" fill="#000"/>
<rect x="110" y="747" width="1" height="98" fill="#000"/>
<rect x="487" y="747" width="1" height="98" fill="#000"/>
<rect x="110" y="742" width="1" height="5" fill="#000"/>
<rect x="110" y="845" width="1" height="5" fill="#000"/>
<rect x="125" y="745" width="1" height="2" fill="#000"/>
<rect x="125" y="845" width="1" height="2" fill="#000"/>
<rect x="141" y="744" width="1" height="3" fill="#000"/>
<rect x="141" y="845" width="1" height="3" fill="#000"/>
<rect x="157" y="745" width="1" height="2" fill="#000"/>
<rect x="157" y="845" width="1" height="2" fill="#000"/>
<rect x="172" y="742" width="1" height="5" fill="#000"/>
<rect x="172" y="845" width="1" height="5" fill="#000"/>
<rect x="188" y="745" width="1" height="2" fill="#000"/>
<rect x="188" y="845" width="1" height="2" fill="#000"/>
<rect x="204" y="744" width="1" height="3" fill="#000"/>
<rect x="204" y="845" width="1" height="3" fill="#000"/>
<rect x="220" y="745" width="1" height="2" fill="#000"/>
<rect x="220" y="845" width="1" height="2" fill="#000"/>
<rect x="235" y="742" width="1" height="5" fill="#000"/>
<rect x="235" y="845" width="1" height="5" fill="#000"/>
<rect x="251" y="745" width="1" height="2" fill="#000"/>
<rect x="251" y="845" width="1" height="2" fill="#000"/>
<rect x="267" y="744" width="1" height="3" fill="#000"/>
<rect x="267" y="845" width="1" height="3" fill="#000"/>
<rect x="282" y="745" width="1" height="2" fill="#000"/>
<rect x="282" y="845" width="1" height="2" fill="#000"/>
<rect x="298" y="742" width="1" height="5" fill="#000"/>
<rect x="298" y="845" width="1" height="5" fill="#000"/>
<rect x="314" y="745" width="1" height="2" fill="#000"/>
<rect x="314" y="845" width="1" height="2" fill="#000"/>
<rect x="330" y="744" width="1" height="3" fill="#000"/>
<rect x="330" y="845" width="1" height="3" fill="#000"/>
<rect x="345" y="745" width="1" height="2" fill="#000"/>
<rect x="345" y="845" width="1" height="2" fill="#000"/>
<rect x="361" y="742" width="1" height="5" fill="#000"/>
<rect x="361" y="845" width="1" height="5" fill="#000"/>
<rect x="377" y="745" width="1" height="2" fill="#000"/>
<rect x="377" y="845" width="1" height="2" fill="#000"/>
<rect x="392" y="744" width="1" height="3" fill="#000"/>
<rect x="392" y="845" width="1" height="3" fill="#000"/>
<rect x="408" y="745" width="1" height="2" fill="#000"/>
<rect x="408" y="845" width="1" height="2" fill="#000"/>
<rect x="424" y="742" width="1" height="5" fill="#000"/>
<rect x="424" y="845" width="1" height="5" fill="#000"/>
<rect x="439" y="745" width="1" height="2" fill="#000"/>
<rect x="439" y="845" width="1" height="2" fill="#000"/>
<rect x="455" y="744" width="1" height="3" fill="#000"/>
<rect x="455" y="845" width="1" height="3" fill="#000"/>
<rect x="471" y="745" width="1" height="2" fill="#000"/>
<rect x="471" y="845" width="1" height="2" fill="#000"/>
<rect x="487" y="742" width="1" height="5" fill="#000"/>
<rect x="487" y="845" width="1" height="5" fill="#000"/>
<rect x="102" y="130" width="8" height="1" fill="#000"/>
<rect x="488" y="130" width="7" height="1" fill="#000"/>
<rect x="102" y="127" width="8" height="1" fill="#000"/>
<rect x="488" y="127" width="7" height="1" fill="#000"/>
<rect x="102" y="125" width="8" height="1" fill="#000"/>
<rect x="488" y="125" width="7" height="1" fill="#000"/>
<rect x="102" y="122" width="8" height="1" fill="#000"/>
<rect x="488" y="122" width="7" height="1" fill="#000"/>
<rect x="102" y="120" width="8" height="1" fill="#000"/>
<rect x="488" y="120" width="7" height="1" fill="#000"/>
<rect x="102" y="117" width="8" height="1" fill="#000"/>
<rect x="488" y="117" width="7" height="1" fill="#000"/>
<rect x="102" y="115" width="8" height="1" fill="#000"/>
<rect x="488" y="115" width="7" height="1" fill="#000"/>
<rect x="102" y="112" width="8" height="1" fill="#000"/>
<rect x="488" y="112" width="7" height="1" fill="#000"/>
<rect x="102" y="110" width="8" height="1" fill="#000"/>
<rect x="488" y="110" width="7" height="1" fill="#000"/>
<rect x="102" y="107" width="8" height="1" fill="#000"/>
<rect x="488" y="107" width="7" height="1" fill="#000"/>
<rect x="102" y="105" width="8" height="1" fill="#000"/>
<rect x="488" y="105" width="7" height="1" fill="#000"/>
<rect x="102" y="103" width="8" height="1" fill="#000"/>
<rect x="488" y="103" width="7" height="1" fill="#000"/>
<rect x="102" y="100" width="8" height="1" fill="#000"/>
<rect x="488" y="100" width="7" height="1" fill="#000"/>
<rect x="102" y="98" width="8" height="1" fill="#000"/>
<rect x="488" y="98" width="7" height="1" fill="#000"/>
<rect x="102" y="95" width="8" height="1" fill="#000"/>
<rect x="488" y="95" width="7" height="1" fill="#000"/>
<rect x="102" y="93" width="8" height="1" fill="#000"/>
<rect x="488" y="93" width="7" height="1" fill="#000"/>
<rect x="102" y="90" width="8" height="1" fill="#000"/>
<rect x="488" y="90" width="7" height="1" fill="#000"/>
<rect x="102" y="88" width="8" height="1" fill="#000"/>
<rect x="488" y="88" width="7" height="1" fill="#000"/>
<rect x="102" y="85" width="8" height="1" fill="#000"/>
<rect x="488" y="85" width="7" height="1" fill="#000"/>
<rect x="102" y="83" width="8" height="1" fill="#000"/>
<rect x="488" y="83" width="7" height="1" fill="#000"/>
<rect x="102" y="80" width="8" height="1" fill="#000"/>
<rect x="488" y="80" width="7" height="1" fill="#000"/>
<rect x="102" y="78" width="8" height="1" fill="#000"/>
<rect x="488" y="78" width="7" height="1" fill="#000"/>
<rect x="102" y="75" width="8" height="1" fill="#000"/>
<rect x="488" y="75" width="7" height="1" fill="#000"/>
<rect x="102" y="73" width="8" height="1" fill="#000"/>
<rect x="488" y="73" width="7" height="1" fill="#000"/>
<rect x="94" y="127" width="16" height="1" fill="#000"/>
<rect x="488" y="127" width="15" height="1" fill="#000"/>
<rect x="94" y="117" width="16" height="1" fill="#000"/>
<rect x="488" y="117" width="15" height="1" fill="#000"/>
<rect x="94" y="107" width="16" height="1" fill="#000"/>
<rect x="488" y="107" width="15" height="1" fill="#000"/>
<rect x="94" y="98" width="16" height="1" fill="#000"/>
<rect x="488" y="98" width="15" height="1" fill="#000"/>
<rect x="94" y="88" width="16" height="1" fill="#000"/>
<rect x="488" y="88" width="15" height="1" fill="#000"/>
<rect x="94" y="78" width="16" height="1" fill="#000"/>
<rect x="488" y="78" width="15" height="1" fill="#000"/>
<rect x="111" y="127" width="6" height="1" fill="#000"/>
<rect x="124" y="127" width="7" height="1" fill="#000"/>
<rect x="137" y="127" width="8" height="1" fill="#000"/>
<rect x="151" y="127" width="8" height="1" fill="#000"/>
<rect x="165" y="127" width="8" height="1" fill="#000"/>
<rect x="179" y="127" width="7" height="1" fill="#000"/>
<rect x="193" y="127" width="7" height="1" fill="#000"/>
<rect x="206" y="127" width="8" height="1" fill="#000"/>
<rect x="220" y="127" width="8" height="1" fill="#000"/>
<rect x="234" y="127" width="8" height="1" fill="#000"/>
<rect x="248" y="127" width="7" height="1" fill="#000"/>
<rect x="262" y="127" width="7" height="1" fill="#000"/>
<rect x="275" y="127" width="8" height="1" fill="#000"/>
<rect x="289" y="127" width="8" height="1" fill="#000"/>
<rect x="303" y="127" width="8" height="1" fill="#000"/>
<rect x="317" y="127" width="7" height="1" fill="#000"/>
<rect x="331" y="127" width="7" height="1" fill="#000"/>
<rect x="344" y="127" width="8" height="1" fill="#000"/>
<rect x="358" y="127" width="8" height="1" fill="#000"/>
<rect x="372" y="127" width="8" height="1" fill="#000"/>
<rect x="386" y="127" width="7" height="1" fill="#000"/>
<rect x="400" y="127" width="7" height="1" fill="#000"/>
<rect x="413" y="127" width="8" height="1" fill="#000"/>
<rect x="427" y="127" width="8" height="1" fill="#000"/>
<rect x="441" y="127" width="8" height="1" fill="#000"/>
<rect x="455" y="127" width="7" height="1" fill="#000"/>
<rect x="469" y="127" width="7" height="1" fill="#000"/>
<rect x="482" y="127" width="5" height="1" fill="#000"/>
<text x="94.5" y="131.1" font-size="10.5" text-anchor="end" textLength="5.3" lengthAdjust="spacingAndGlyphs">0</text>
<text x="94.5" y="121.22000000000001" font-size="10.5" text-anchor="end" textLength="31.7" lengthAdjust="spacingAndGlyphs">2e+20</text>
<text x="94.5" y="111.34" font-size="10.5" text-anchor="end" textLength="31.7" lengthAdjust="spacingAndGlyphs">4e+20</text>
<text x="94.5" y="101.46000000000001" font-size="10.5" text-anchor="end" textLength="31.7" lengthAdjust="spacingAndGlyphs">6e+20</text>
<text x="94.5" y="91.58000000000001" font-size="10.5" text-anchor="end" textLength="31.7" lengthAdjust="spacingAndGlyphs">8e+20</text>
<text x="94.5" y="81.7" font-size="10.5" text-anchor="end" textLength="31.7" lengthAdjust="spacingAndGlyphs">1e+21</text>
<rect x="102" y="253" width="8" height="1" fill="#000"/>
<rect x="488" y="253" width="7" height="1" fill="#000"/>
<rect x="102" y="247" width="8" height="1" fill="#000"/>
<rect x="488" y="247" width="7" height="1" fill="#000"/>
<rect x="102" y="243" width="8" height="1" fill="#000"/>
<rect x="488" y="243" width="7" height="1" fill="#000"/>
<rect x="102" y="240" width="8" height="1" fill="#000"/>
<rect x="488" y="240" width="7" height="1" fill="#000"/>
<rect x="102" y="237" width="8" height="1" fill="#000"/>
<rect x="488" y="237" width="7" height="1" fill="#000"/>
<rect x="102" y="235" width="8" height="1" fill="#000"/>
<rect x="488" y="235" width="7" height="1" fill="#000"/>
<rect x="102" y="233" width="8" height="1" fill="#000"/>
<rect x="488" y="233" width="7" height="1" fill="#000"/>
<rect x="102" y="231" width="8" height="1" fill="#000"/>
<rect x="488" y="231" width="7" height="1" fill="#000"/>
<rect x="102" y="219" width="8" height="1" fill="#000"/>
<rect x="488" y="219" width="7" height="1" fill="#000"/>
<rect x="102" y="213" width="8" height="1" fill="#000"/>
<rect x="488" y="213" width="7" height="1" fill="#000"/>
<rect x="102" y="209" width="8" height="1" fill="#000"/>
<rect x="488" y="209" width="7" height="1" fill="#000"/>
<rect x="102" y="206" width="8" height="1" fill="#000"/>
<rect x="488" y="206" width="7" height="1" fill="#000"/>
<rect x="102" y="203" width="8" height="1" fill="#000"/>
<rect x="488" y="203" width="7" height="1" fill="#000"/>
<rect x="102" y="201" width="8" height="1" fill="#000"/>
<rect x="488" y="201" width="7" height="1" fill="#000"/>
<rect x="102" y="199" width="8" height="1" fill="#000"/>
<rect x="488" y="199" width="7" height="1" fill="#000"/>
<rect x="102" y="197" width="8" height="1" fill="#000"/>
<rect x="488" y="197" width="7" height="1" fill="#000"/>
<rect x="102" y="186" width="8" height="1" fill="#000"/>
<rect x="488" y="186" width="7" height="1" fill="#000"/>
<rect x="102" y="180" width="8" height="1" fill="#000"/>
<rect x="488" y="180" width="7" height="1" fill="#000"/>
<rect x="102" y="176" width="8" height="1" fill="#000"/>
<rect x="488" y="176" width="7" height="1" fill="#000"/>
<rect x="102" y="172" width="8" height="1" fill="#000"/>
<rect x="488" y="172" width="7" height="1" fill="#000"/>
<rect x="102" y="170" width="8" height="1" fill="#000"/>
<rect x="488" y="170" width="7" height="1" fill="#000"/>
<rect x="102" y="168" width="8" height="1" fill="#000"/>
<rect x="488" y="168" width="7" height="1" fill="#000"/>
<rect x="102" y="166" width="8" height="1" fill="#000"/>
<rect x="488" y="166" width="7" height="1" fill="#000"/>
<rect x="102" y="164" width="8" height="1" fill="#000"/>
<rect x="488" y="164" width="7" height="1" fill="#000"/>
<rect x="102" y="152" width="8" height="1" fill="#000"/>
<rect x="488" y="152" width="7" height="1" fill="#000"/>
<rect x="102" y="146" width="8" height="1" fill="#000"/>
<rect x="488" y="146" width="7" height="1" fill="#000"/>
<rect x="94" y="263" width="16" height="1" fill="#000"/>
<rect x="488" y="263" width="15" height="1" fill="#000"/>
<rect x="94" y="229" width="16" height="1" fill="#000"/>
<rect x="488" y="229" width="15" height="1" fill="#000"/>
<rect x="94" y="196" width="16" height="1" fill="#000"/>
<rect x="488" y="196" width="15" height="1" fill="#000"/>
<rect x="94" y="162" width="16" height="1" fill="#000"/>
<rect x="488" y="162" width="15" height="1" fill="#000"/>
<text x="94.5" y="266.6" font-size="10.5" text-anchor="end" textLength="11.4" lengthAdjust="spacingAndGlyphs">10</text>
<text x="94.5" y="233.04999999999998" font-size="10.5" text-anchor="end" textLength="17.5" lengthAdjust="spacingAndGlyphs">100</text>
<text x="94.5" y="199.5" font-size="10.5" text-anchor="end" textLength="23.6" lengthAdjust="spacingAndGlyphs">1000</text>
<text x="94.5" y="165.95000000000002" font-size="10.5" text-anchor="end" textLength="29.7" lengthAdjust="spacingAndGlyphs">10000</text>
<rect x="102" y="497" width="8" height="1" fill="#000"/>
<rect x="488" y="497" width="7" height="1" fill="#000"/>
<rect x="102" y="491" width="8" height="1" fill="#000"/>
<rect x="488" y="491" width="7" height="1" fill="#000"/>
<rect x="102" y="487" width="8" height="1" fill="#000"/>
<rect x="488" y="487" width="7" height="1" fill="#000"/>
<rect x="102" y="484" width="8" height="1" fill="#000"/>
<rect x="488" y="484" width="7" height="1" fill="#000"/>
<rect x="102" y="481" width="8" height="1" fill="#000"/>
<rect x="488" y="481" width="7" height="1" fill="#000"/>
<rect x="102" y="479" width="8" height="1" fill="#000"/>
<rect x="488" y="479" width="7" height="1" fill="#000"/>
<rect x="102" y="477" width="8" height="1" fill="#000"/>
<rect x="488" y="477" width="7" height="1" fill="#000"/>
<rect x="102" y="475" width="8" height="1" fill="#000"/>
<rect x="488" y="475" width="7" height="1" fill="#000"/>
<rect x="102" y="463" width="8" height="1" fill="#000"/>
<rect x="488" y="463" width="7" height="1" fill="#000"/>
<rect x="102" y="458" width="8" height="1" fill="#000"/>
<rect x="488" y="458" width="7" height="1" fill="#000"/>
<rect x="102" y="453" width="8" height="1" fill="#000"/>
<rect x="488" y="453" width="7" height="1" fill="#000"/>
<rect x="102" y="450" width="8" height="1" fill="#000"/>
<rect x="488" y="450" width="7" height="1" fill="#000"/>
<rect x="102" y="447" width="8" height="1" fill="#000"/>
<rect x="488" y="447" width="7" height="1" fill="#000"/>
<rect x="102" y="445" width="8" height="1" fill="#000"/>
<rect x="488" y="445" width="7" height="1" fill="#000"/>
<rect x="102" y="443" width="8" height="1" fill="#000"/>
<rect x="488" y="443" width="7" height="1" fill="#000"/>
<rect x="102" y="442" width="8" height="1" fill="#000"/>
<rect x="488" y="442" width="7" height="1" fill="#000"/>
<rect x="102" y="430" width="8" height="1" fill="#000"/>
<rect x="488" y="430" width="7" height="1" fill="#000"/>
<rect x="102" y="424" width="8" height="1" fill="#000"/>
<rect x="488" y="424" width="7" height="1" fill="#000"/>
<rect x="102" y="420" width="8" height="1" fill="#000"/>
<rect x="488" y="420" width="7" height="1" fill="#000"/>
<rect x="102" y="417" width="8" height="1" fill="#000"/>
<rect x="488" y="417" width="7" height="1" fill="#000"/>
<rect x="102" y="414" width="8" height="1" fill="#000"/>
<rect x="488" y="414" width="7" height="1" fill="#000"/>
<rect x="102" y="412" width="8" height="1" fill="#000"/>
<rect x="488" y="412" width="7" height="1" fill="#000"/>
<rect x="102" y="410" width="8" height="1" fill="#000"/>
<rect x="488" y="410" width="7" height="1" fill="#000"/>
<rect x="102" y="408" width="8" height="1" fill="#000"/>
<rect x="488" y="408" width="7" height="1" fill="#000"/>
<rect x="102" y="396" width="8" height="1" fill="#000"/>
<rect x="488" y="396" width="7" height="1" fill="#000"/>
<rect x="102" y="390" width="8" height="1" fill="#000"/>
<rect x="488" y="390" width="7" height="1" fill="#000"/>
<rect x="94" y="507" width="16" height="1" fill="#000"/>
<rect x="488" y="507" width="15" height="1" fill="#000"/>
<rect x="94" y="474" width="16" height="1" fill="#000"/>
<rect x="488" y="474" width="15" height="1" fill="#000"/>
<rect x="94" y="440" width="16" height="1" fill="#000"/>
<rect x="488" y="440" width="15" height="1" fill="#000"/>
<rect x="94" y="406" width="16" height="1" fill="#000"/>
<rect x="488" y="406" width="15" height="1" fill="#000"/>
<text x="94.5" y="510.8" font-size="10.5" text-anchor="end" textLength="11.4" lengthAdjust="spacingAndGlyphs">10</text>
<text x="94.5" y="477.2" font-size="10.5" text-anchor="end" textLength="17.5" lengthAdjust="spacingAndGlyphs">100</text>
<text x="94.5" y="443.6" font-size="10.5" text-anchor="end" textLength="23.6" lengthAdjust="spacingAndGlyphs">1000</text>
<text x="94.5" y="410.0" font-size="10.5" text-anchor="end" textLength="29.7" lengthAdjust="spacingAndGlyphs">10000</text>
<text transform="translate(29.5,205.4) rotate(-90)" font-size="10.5" text-anchor="middle" textLength="29" lengthAdjust="spacingAndGlyphs">E (eV)</text>
<text transform="translate(29.5,327) rotate(-90)" font-size="10.5" text-anchor="middle" textLength="36" lengthAdjust="spacingAndGlyphs">a (deg)</text>
<text transform="translate(29.5,448.5) rotate(-90)" font-size="10.5" text-anchor="middle" textLength="29" lengthAdjust="spacingAndGlyphs">E (eV)</text>
<text transform="translate(29.5,571) rotate(-90)" font-size="10.5" text-anchor="middle" textLength="40" lengthAdjust="spacingAndGlyphs">(cm^-3)</text>
<text transform="translate(29.5,683) rotate(-90)" font-size="10.5" text-anchor="middle" textLength="20" lengthAdjust="spacingAndGlyphs">(nT)</text>
<text transform="translate(29.5,796) rotate(-90)" font-size="10.5" text-anchor="middle" textLength="33" lengthAdjust="spacingAndGlyphs">(A/m2)</text>
<rect x="102" y="376" width="8" height="1" fill="#000"/>
<rect x="488" y="376" width="7" height="1" fill="#000"/>
<rect x="102" y="370" width="8" height="1" fill="#000"/>
<rect x="488" y="370" width="7" height="1" fill="#000"/>
<rect x="102" y="365" width="8" height="1" fill="#000"/>
<rect x="488" y="365" width="7" height="1" fill="#000"/>
<rect x="102" y="359" width="8" height="1" fill="#000"/>
<rect x="488" y="359" width="7" height="1" fill="#000"/>
<rect x="102" y="354" width="8" height="1" fill="#000"/>
<rect x="488" y="354" width="7" height="1" fill="#000"/>
<rect x="102" y="348" width="8" height="1" fill="#000"/>
<rect x="488" y="348" width="7" height="1" fill="#000"/>
<rect x="102" y="343" width="8" height="1" fill="#000"/>
<rect x="488" y="343" width="7" height="1" fill="#000"/>
<rect x="102" y="338" width="8" height="1" fill="#000"/>
<rect x="488" y="338" width="7" height="1" fill="#000"/>
<rect x="102" y="332" width="8" height="1" fill="#000"/>
<rect x="488" y="332" width="7" height="1" fill="#000"/>
<rect x="102" y="327" width="8" height="1" fill="#000"/>
<rect x="488" y="327" width="7" height="1" fill="#000"/>
<rect x="102" y="321" width="8" height="1" fill="#000"/>
<rect x="488" y="321" width="7" height="1" fill="#000"/>
<rect x="102" y="316" width="8" height="1" fill="#000"/>
<rect x="488" y="316" width="7" height="1" fill="#000"/>
<rect x="102" y="310" width="8" height="1" fill="#000"/>
<rect x="488" y="310" width="7" height="1" fill="#000"/>
<rect x="102" y="305" width="8" height="1" fill="#000"/>
<rect x="488" y="305" width="7" height="1" fill="#000"/>
<rect x="102" y="300" width="8" height="1" fill="#000"/>
<rect x="488" y="300" width="7" height="1" fill="#000"/>
<rect x="102" y="294" width="8" height="1" fill="#000"/>
<rect x="488" y="294" width="7" height="1" fill="#000"/>
<rect x="102" y="289" width="8" height="1" fill="#000"/>
<rect x="488" y="289" width="7" height="1" fill="#000"/>
<rect x="102" y="283" width="8" height="1" fill="#000"/>
<rect x="488" y="283" width="7" height="1" fill="#000"/>
<rect x="102" y="278" width="8" height="1" fill="#000"/>
<rect x="488" y="278" width="7" height="1" fill="#000"/>
<rect x="94" y="376" width="16" height="1" fill="#000"/>
<rect x="488" y="376" width="15" height="1" fill="#000"/>
<rect x="94" y="348" width="16" height="1" fill="#000"/>
<rect x="488" y="348" width="15" height="1" fill="#000"/>
<rect x="94" y="321" width="16" height="1" fill="#000"/>
<rect x="488" y="321" width="15" height="1" fill="#000"/>
<rect x="94" y="294" width="16" height="1" fill="#000"/>
<rect x="488" y="294" width="15" height="1" fill="#000"/>
<text x="94.5" y="379.6" font-size="10.5" text-anchor="end" textLength="5.3" lengthAdjust="spacingAndGlyphs">0</text>
<text x="94.5" y="352.46500000000003" font-size="10.5" text-anchor="end" textLength="11.4" lengthAdjust="spacingAndGlyphs">50</text>
<text x="94.5" y="325.33000000000004" font-size="10.5" text-anchor="end" textLength="17.5" lengthAdjust="spacingAndGlyphs">100</text>
<text x="94.5" y="298.19500000000005" font-size="10.5" text-anchor="end" textLength="17.5" lengthAdjust="spacingAndGlyphs">150</text>
<rect x="102" y="617" width="8" height="1" fill="#000"/>
<rect x="488" y="617" width="7" height="1" fill="#000"/>
<rect x="102" y="615" width="8" height="1" fill="#000"/>
<rect x="488" y="615" width="7" height="1" fill="#000"/>
<rect x="102" y="613" width="8" height="1" fill="#000"/>
<rect x="488" y="613" width="7" height="1" fill="#000"/>
<rect x="102" y="612" width="8" height="1" fill="#000"/>
<rect x="488" y="612" width="7" height="1" fill="#000"/>
<rect x="102" y="611" width="8" height="1" fill="#000"/>
<rect x="488" y="611" width="7" height="1" fill="#000"/>
<rect x="102" y="610" width="8" height="1" fill="#000"/>
<rect x="488" y="610" width="7" height="1" fill="#000"/>
<rect x="102" y="609" width="8" height="1" fill="#000"/>
<rect x="488" y="609" width="7" height="1" fill="#000"/>
<rect x="102" y="609" width="8" height="1" fill="#000"/>
<rect x="488" y="609" width="7" height="1" fill="#000"/>
<rect x="102" y="604" width="8" height="1" fill="#000"/>
<rect x="488" y="604" width="7" height="1" fill="#000"/>
<rect x="102" y="602" width="8" height="1" fill="#000"/>
<rect x="488" y="602" width="7" height="1" fill="#000"/>
<rect x="102" y="601" width="8" height="1" fill="#000"/>
<rect x="488" y="601" width="7" height="1" fill="#000"/>
<rect x="102" y="600" width="8" height="1" fill="#000"/>
<rect x="488" y="600" width="7" height="1" fill="#000"/>
<rect x="102" y="599" width="8" height="1" fill="#000"/>
<rect x="488" y="599" width="7" height="1" fill="#000"/>
<rect x="102" y="598" width="8" height="1" fill="#000"/>
<rect x="488" y="598" width="7" height="1" fill="#000"/>
<rect x="102" y="597" width="8" height="1" fill="#000"/>
<rect x="488" y="597" width="7" height="1" fill="#000"/>
<rect x="102" y="596" width="8" height="1" fill="#000"/>
<rect x="488" y="596" width="7" height="1" fill="#000"/>
<rect x="102" y="592" width="8" height="1" fill="#000"/>
<rect x="488" y="592" width="7" height="1" fill="#000"/>
<rect x="102" y="590" width="8" height="1" fill="#000"/>
<rect x="488" y="590" width="7" height="1" fill="#000"/>
<rect x="102" y="588" width="8" height="1" fill="#000"/>
<rect x="488" y="588" width="7" height="1" fill="#000"/>
<rect x="102" y="587" width="8" height="1" fill="#000"/>
<rect x="488" y="587" width="7" height="1" fill="#000"/>
<rect x="102" y="586" width="8" height="1" fill="#000"/>
<rect x="488" y="586" width="7" height="1" fill="#000"/>
<rect x="102" y="585" width="8" height="1" fill="#000"/>
<rect x="488" y="585" width="7" height="1" fill="#000"/>
<rect x="102" y="585" width="8" height="1" fill="#000"/>
<rect x="488" y="585" width="7" height="1" fill="#000"/>
<rect x="102" y="584" width="8" height="1" fill="#000"/>
<rect x="488" y="584" width="7" height="1" fill="#000"/>
<rect x="102" y="580" width="8" height="1" fill="#000"/>
<rect x="488" y="580" width="7" height="1" fill="#000"/>
<rect x="102" y="578" width="8" height="1" fill="#000"/>
<rect x="488" y="578" width="7" height="1" fill="#000"/>
<rect x="102" y="576" width="8" height="1" fill="#000"/>
<rect x="488" y="576" width="7" height="1" fill="#000"/>
<rect x="102" y="575" width="8" height="1" fill="#000"/>
<rect x="488" y="575" width="7" height="1" fill="#000"/>
<rect x="102" y="574" width="8" height="1" fill="#000"/>
<rect x="488" y="574" width="7" height="1" fill="#000"/>
<rect x="102" y="573" width="8" height="1" fill="#000"/>
<rect x="488" y="573" width="7" height="1" fill="#000"/>
<rect x="102" y="572" width="8" height="1" fill="#000"/>
<rect x="488" y="572" width="7" height="1" fill="#000"/>
<rect x="102" y="572" width="8" height="1" fill="#000"/>
<rect x="488" y="572" width="7" height="1" fill="#000"/>
<rect x="102" y="567" width="8" height="1" fill="#000"/>
<rect x="488" y="567" width="7" height="1" fill="#000"/>
<rect x="102" y="565" width="8" height="1" fill="#000"/>
<rect x="488" y="565" width="7" height="1" fill="#000"/>
<rect x="102" y="564" width="8" height="1" fill="#000"/>
<rect x="488" y="564" width="7" height="1" fill="#000"/>
<rect x="102" y="563" width="8" height="1" fill="#000"/>
<rect x="488" y="563" width="7" height="1" fill="#000"/>
<rect x="102" y="562" width="8" height="1" fill="#000"/>
<rect x="488" y="562" width="7" height="1" fill="#000"/>
<rect x="102" y="561" width="8" height="1" fill="#000"/>
<rect x="488" y="561" width="7" height="1" fill="#000"/>
<rect x="102" y="560" width="8" height="1" fill="#000"/>
<rect x="488" y="560" width="7" height="1" fill="#000"/>
<rect x="102" y="559" width="8" height="1" fill="#000"/>
<rect x="488" y="559" width="7" height="1" fill="#000"/>
<rect x="102" y="555" width="8" height="1" fill="#000"/>
<rect x="488" y="555" width="7" height="1" fill="#000"/>
<rect x="102" y="553" width="8" height="1" fill="#000"/>
<rect x="488" y="553" width="7" height="1" fill="#000"/>
<rect x="102" y="551" width="8" height="1" fill="#000"/>
<rect x="488" y="551" width="7" height="1" fill="#000"/>
<rect x="102" y="550" width="8" height="1" fill="#000"/>
<rect x="488" y="550" width="7" height="1" fill="#000"/>
<rect x="102" y="549" width="8" height="1" fill="#000"/>
<rect x="488" y="549" width="7" height="1" fill="#000"/>
<rect x="102" y="549" width="8" height="1" fill="#000"/>
<rect x="488" y="549" width="7" height="1" fill="#000"/>
<rect x="102" y="548" width="8" height="1" fill="#000"/>
<rect x="488" y="548" width="7" height="1" fill="#000"/>
<rect x="102" y="547" width="8" height="1" fill="#000"/>
<rect x="488" y="547" width="7" height="1" fill="#000"/>
<rect x="102" y="543" width="8" height="1" fill="#000"/>
<rect x="488" y="543" width="7" height="1" fill="#000"/>
<rect x="102" y="541" width="8" height="1" fill="#000"/>
<rect x="488" y="541" width="7" height="1" fill="#000"/>
<rect x="102" y="539" width="8" height="1" fill="#000"/>
<rect x="488" y="539" width="7" height="1" fill="#000"/>
<rect x="102" y="538" width="8" height="1" fill="#000"/>
<rect x="488" y="538" width="7" height="1" fill="#000"/>
<rect x="102" y="537" width="8" height="1" fill="#000"/>
<rect x="488" y="537" width="7" height="1" fill="#000"/>
<rect x="102" y="536" width="8" height="1" fill="#000"/>
<rect x="488" y="536" width="7" height="1" fill="#000"/>
<rect x="102" y="535" width="8" height="1" fill="#000"/>
<rect x="488" y="535" width="7" height="1" fill="#000"/>
<rect x="102" y="535" width="8" height="1" fill="#000"/>
<rect x="488" y="535" width="7" height="1" fill="#000"/>
<rect x="102" y="531" width="8" height="1" fill="#000"/>
<rect x="488" y="531" width="7" height="1" fill="#000"/>
<rect x="102" y="528" width="8" height="1" fill="#000"/>
<rect x="488" y="528" width="7" height="1" fill="#000"/>
<rect x="102" y="527" width="8" height="1" fill="#000"/>
<rect x="488" y="527" width="7" height="1" fill="#000"/>
<rect x="102" y="526" width="8" height="1" fill="#000"/>
<rect x="488" y="526" width="7" height="1" fill="#000"/>
<rect x="102" y="525" width="8" height="1" fill="#000"/>
<rect x="488" y="525" width="7" height="1" fill="#000"/>
<rect x="102" y="524" width="8" height="1" fill="#000"/>
<rect x="488" y="524" width="7" height="1" fill="#000"/>
<rect x="102" y="523" width="8" height="1" fill="#000"/>
<rect x="488" y="523" width="7" height="1" fill="#000"/>
<rect x="102" y="523" width="8" height="1" fill="#000"/>
<rect x="488" y="523" width="7" height="1" fill="#000"/>
<rect x="94" y="620" width="16" height="1" fill="#000"/>
<rect x="488" y="620" width="15" height="1" fill="#000"/>
<rect x="94" y="608" width="16" height="1" fill="#000"/>
<rect x="488" y="608" width="15" height="1" fill="#000"/>
<rect x="94" y="596" width="16" height="1" fill="#000"/>
<rect x="488" y="596" width="15" height="1" fill="#000"/>
<rect x="94" y="584" width="16" height="1" fill="#000"/>
<rect x="488" y="584" width="15" height="1" fill="#000"/>
<rect x="94" y="571" width="16" height="1" fill="#000"/>
<rect x="488" y="571" width="15" height="1" fill="#000"/>
<rect x="94" y="559" width="16" height="1" fill="#000"/>
<rect x="488" y="559" width="15" height="1" fill="#000"/>
<rect x="94" y="547" width="16" height="1" fill="#000"/>
<rect x="488" y="547" width="15" height="1" fill="#000"/>
<rect x="94" y="534" width="16" height="1" fill="#000"/>
<rect x="488" y="534" width="15" height="1" fill="#000"/>
<rect x="94" y="522" width="16" height="1" fill="#000"/>
<rect x="488" y="522" width="15" height="1" fill="#000"/>
<text x="94.5" y="624.0" font-size="10.5" text-anchor="end" textLength="28.1" lengthAdjust="spacingAndGlyphs">1e-07</text>
<text x="94.5" y="611.7" font-size="10.5" text-anchor="end" textLength="28.1" lengthAdjust="spacingAndGlyphs">1e-06</text>
<text x="94.5" y="599.4" font-size="10.5" text-anchor="end" textLength="28.1" lengthAdjust="spacingAndGlyphs">1e-05</text>
<text x="94.5" y="587.1" font-size="10.5" text-anchor="end" textLength="28.1" lengthAdjust="spacingAndGlyphs">1e-04</text>
<text x="94.5" y="574.8" font-size="10.5" text-anchor="end" textLength="28.1" lengthAdjust="spacingAndGlyphs">1e-03</text>
<text x="94.5" y="562.5" font-size="10.5" text-anchor="end" textLength="28.1" lengthAdjust="spacingAndGlyphs">1e-02</text>
<text x="94.5" y="550.1999999999999" font-size="10.5" text-anchor="end" textLength="28.1" lengthAdjust="spacingAndGlyphs">1e-01</text>
<text x="94.5" y="537.9" font-size="10.5" text-anchor="end" textLength="31.7" lengthAdjust="spacingAndGlyphs">1e+00</text>
<text x="94.5" y="525.6" font-size="10.5" text-anchor="end" textLength="31.7" lengthAdjust="spacingAndGlyphs">1e+01</text>
<rect x="102" y="732" width="8" height="1" fill="#000"/>
<rect x="488" y="732" width="7" height="1" fill="#000"/>
<rect x="102" y="727" width="8" height="1" fill="#000"/>
<rect x="488" y="727" width="7" height="1" fill="#000"/>
<rect x="102" y="722" width="8" height="1" fill="#000"/>
<rect x="488" y="722" width="7" height="1" fill="#000"/>
<rect x="102" y="718" width="8" height="1" fill="#000"/>
<rect x="488" y="718" width="7" height="1" fill="#000"/>
<rect x="102" y="713" width="8" height="1" fill="#000"/>
<rect x="488" y="713" width="7" height="1" fill="#000"/>
<rect x="102" y="708" width="8" height="1" fill="#000"/>
<rect x="488" y="708" width="7" height="1" fill="#000"/>
<rect x="102" y="703" width="8" height="1" fill="#000"/>
<rect x="488" y="703" width="7" height="1" fill="#000"/>
<rect x="102" y="698" width="8" height="1" fill="#000"/>
<rect x="488" y="698" width="7" height="1" fill="#000"/>
<rect x="102" y="693" width="8" height="1" fill="#000"/>
<rect x="488" y="693" width="7" height="1" fill="#000"/>
<rect x="102" y="688" width="8" height="1" fill="#000"/>
<rect x="488" y="688" width="7" height="1" fill="#000"/>
<rect x="102" y="683" width="8" height="1" fill="#000"/>
<rect x="488" y="683" width="7" height="1" fill="#000"/>
<rect x="102" y="678" width="8" height="1" fill="#000"/>
<rect x="488" y="678" width="7" height="1" fill="#000"/>
<rect x="102" y="673" width="8" height="1" fill="#000"/>
<rect x="488" y="673" width="7" height="1" fill="#000"/>
<rect x="102" y="669" width="8" height="1" fill="#000"/>
<rect x="488" y="669" width="7" height="1" fill="#000"/>
<rect x="102" y="664" width="8" height="1" fill="#000"/>
<rect x="488" y="664" width="7" height="1" fill="#000"/>
<rect x="102" y="659" width="8" height="1" fill="#000"/>
<rect x="488" y="659" width="7" height="1" fill="#000"/>
<rect x="102" y="654" width="8" height="1" fill="#000"/>
<rect x="488" y="654" width="7" height="1" fill="#000"/>
<rect x="102" y="649" width="8" height="1" fill="#000"/>
<rect x="488" y="649" width="7" height="1" fill="#000"/>
<rect x="102" y="644" width="8" height="1" fill="#000"/>
<rect x="488" y="644" width="7" height="1" fill="#000"/>
<rect x="102" y="639" width="8" height="1" fill="#000"/>
<rect x="488" y="639" width="7" height="1" fill="#000"/>
<rect x="102" y="634" width="8" height="1" fill="#000"/>
<rect x="488" y="634" width="7" height="1" fill="#000"/>
<rect x="94" y="722" width="16" height="1" fill="#000"/>
<rect x="488" y="722" width="15" height="1" fill="#000"/>
<rect x="94" y="703" width="16" height="1" fill="#000"/>
<rect x="488" y="703" width="15" height="1" fill="#000"/>
<rect x="94" y="683" width="16" height="1" fill="#000"/>
<rect x="488" y="683" width="15" height="1" fill="#000"/>
<rect x="94" y="664" width="16" height="1" fill="#000"/>
<rect x="488" y="664" width="15" height="1" fill="#000"/>
<rect x="94" y="644" width="16" height="1" fill="#000"/>
<rect x="488" y="644" width="15" height="1" fill="#000"/>
<text x="94.5" y="725.7" font-size="10.5" text-anchor="end" textLength="15.4" lengthAdjust="spacingAndGlyphs">-40</text>
<text x="94.5" y="706.45" font-size="10.5" text-anchor="end" textLength="15.4" lengthAdjust="spacingAndGlyphs">-20</text>
<text x="94.5" y="687.2" font-size="10.5" text-anchor="end" textLength="5.3" lengthAdjust="spacingAndGlyphs">0</text>
<text x="94.5" y="667.95" font-size="10.5" text-anchor="end" textLength="11.4" lengthAdjust="spacingAndGlyphs">20</text>
<text x="94.5" y="648.7" font-size="10.5" text-anchor="end" textLength="11.4" lengthAdjust="spacingAndGlyphs">40</text>
<rect x="111" y="683" width="6" height="1" fill="#000"/>
<rect x="124" y="683" width="7" height="1" fill="#000"/>
<rect x="137" y="683" width="8" height="1" fill="#000"/>
<rect x="151" y="683" width="8" height="1" fill="#000"/>
<rect x="165" y="683" width="8" height="1" fill="#000"/>
<rect x="179" y="683" width="7" height="1" fill="#000"/>
<rect x="193" y="683" width="7" height="1" fill="#000"/>
<rect x="206" y="683" width="8" height="1" fill="#000"/>
<rect x="220" y="683" width="8" height="1" fill="#000"/>
<rect x="234" y="683" width="8" height="1" fill="#000"/>
<rect x="248" y="683" width="7" height="1" fill="#000"/>
<rect x="262" y="683" width="7" height="1" fill="#000"/>
<rect x="275" y="683" width="8" height="1" fill="#000"/>
<rect x="289" y="683" width="8" height="1" fill="#000"/>
<rect x="303" y="683" width="8" height="1" fill="#000"/>
<rect x="317" y="683" width="7" height="1" fill="#000"/>
<rect x="331" y="683" width="7" height="1" fill="#000"/>
<rect x="344" y="683" width="8" height="1" fill="#000"/>
<rect x="358" y="683" width="8" height="1" fill="#000"/>
<rect x="372" y="683" width="8" height="1" fill="#000"/>
<rect x="386" y="683" width="7" height="1" fill="#000"/>
<rect x="400" y="683" width="7" height="1" fill="#000"/>
<rect x="413" y="683" width="8" height="1" fill="#000"/>
<rect x="427" y="683" width="8" height="1" fill="#000"/>
<rect x="441" y="683" width="8" height="1" fill="#000"/>
<rect x="455" y="683" width="7" height="1" fill="#000"/>
<rect x="469" y="683" width="7" height="1" fill="#000"/>
<rect x="482" y="683" width="5" height="1" fill="#000"/>
<rect x="102" y="844" width="8" height="1" fill="#000"/>
<rect x="488" y="844" width="7" height="1" fill="#000"/>
<rect x="102" y="839" width="8" height="1" fill="#000"/>
<rect x="488" y="839" width="7" height="1" fill="#000"/>
<rect x="102" y="834" width="8" height="1" fill="#000"/>
<rect x="488" y="834" width="7" height="1" fill="#000"/>
<rect x="102" y="830" width="8" height="1" fill="#000"/>
<rect x="488" y="830" width="7" height="1" fill="#000"/>
<rect x="102" y="825" width="8" height="1" fill="#000"/>
<rect x="488" y="825" width="7" height="1" fill="#000"/>
<rect x="102" y="820" width="8" height="1" fill="#000"/>
<rect x="488" y="820" width="7" height="1" fill="#000"/>
<rect x="102" y="815" width="8" height="1" fill="#000"/>
<rect x="488" y="815" width="7" height="1" fill="#000"/>
<rect x="102" y="810" width="8" height="1" fill="#000"/>
<rect x="488" y="810" width="7" height="1" fill="#000"/>
<rect x="102" y="805" width="8" height="1" fill="#000"/>
<rect x="488" y="805" width="7" height="1" fill="#000"/>
<rect x="102" y="800" width="8" height="1" fill="#000"/>
<rect x="488" y="800" width="7" height="1" fill="#000"/>
<rect x="102" y="796" width="8" height="1" fill="#000"/>
<rect x="488" y="796" width="7" height="1" fill="#000"/>
<rect x="102" y="791" width="8" height="1" fill="#000"/>
<rect x="488" y="791" width="7" height="1" fill="#000"/>
<rect x="102" y="786" width="8" height="1" fill="#000"/>
<rect x="488" y="786" width="7" height="1" fill="#000"/>
<rect x="102" y="781" width="8" height="1" fill="#000"/>
<rect x="488" y="781" width="7" height="1" fill="#000"/>
<rect x="102" y="776" width="8" height="1" fill="#000"/>
<rect x="488" y="776" width="7" height="1" fill="#000"/>
<rect x="102" y="771" width="8" height="1" fill="#000"/>
<rect x="488" y="771" width="7" height="1" fill="#000"/>
<rect x="102" y="766" width="8" height="1" fill="#000"/>
<rect x="488" y="766" width="7" height="1" fill="#000"/>
<rect x="102" y="761" width="8" height="1" fill="#000"/>
<rect x="488" y="761" width="7" height="1" fill="#000"/>
<rect x="102" y="757" width="8" height="1" fill="#000"/>
<rect x="488" y="757" width="7" height="1" fill="#000"/>
<rect x="102" y="752" width="8" height="1" fill="#000"/>
<rect x="488" y="752" width="7" height="1" fill="#000"/>
<rect x="102" y="747" width="8" height="1" fill="#000"/>
<rect x="488" y="747" width="7" height="1" fill="#000"/>
<rect x="94" y="844" width="16" height="1" fill="#000"/>
<rect x="488" y="844" width="15" height="1" fill="#000"/>
<rect x="94" y="820" width="16" height="1" fill="#000"/>
<rect x="488" y="820" width="15" height="1" fill="#000"/>
<rect x="94" y="796" width="16" height="1" fill="#000"/>
<rect x="488" y="796" width="15" height="1" fill="#000"/>
<rect x="94" y="771" width="16" height="1" fill="#000"/>
<rect x="488" y="771" width="15" height="1" fill="#000"/>
<rect x="94" y="747" width="16" height="1" fill="#000"/>
<rect x="488" y="747" width="15" height="1" fill="#000"/>
<text x="94.5" y="751.1999999999999" font-size="10.5" text-anchor="end" textLength="46.4" lengthAdjust="spacingAndGlyphs">0.000010</text>
<text x="94.5" y="775.55" font-size="10.5" text-anchor="end" textLength="46.4" lengthAdjust="spacingAndGlyphs">0.000005</text>
<text x="94.5" y="799.9" font-size="10.5" text-anchor="end" textLength="46.4" lengthAdjust="spacingAndGlyphs">0.000000</text>
<text x="94.5" y="824.25" font-size="10.5" text-anchor="end" textLength="50.4" lengthAdjust="spacingAndGlyphs">-0.000005</text>
<text x="94.5" y="848.6" font-size="10.5" text-anchor="end" textLength="50.4" lengthAdjust="spacingAndGlyphs">-0.000010</text>
<rect x="111" y="796" width="6" height="1" fill="#000"/>
<rect x="124" y="796" width="7" height="1" fill="#000"/>
<rect x="137" y="796" width="8" height="1" fill="#000"/>
<rect x="151" y="796" width="8" height="1" fill="#000"/>
<rect x="165" y="796" width="8" height="1" fill="#000"/>
<rect x="179" y="796" width="7" height="1" fill="#000"/>
<rect x="193" y="796" width="7" height="1" fill="#000"/>
<rect x="206" y="796" width="8" height="1" fill="#000"/>
<rect x="220" y="796" width="8" height="1" fill="#000"/>
<rect x="234" y="796" width="8" height="1" fill="#000"/>
<rect x="248" y="796" width="7" height="1" fill="#000"/>
<rect x="262" y="796" width="7" height="1" fill="#000"/>
<rect x="275" y="796" width="8" height="1" fill="#000"/>
<rect x="289" y="796" width="8" height="1" fill="#000"/>
<rect x="303" y="796" width="8" height="1" fill="#000"/>
<rect x="317" y="796" width="7" height="1" fill="#000"/>
<rect x="331" y="796" width="7" height="1" fill="#000"/>
<rect x="344" y="796" width="8" height="1" fill="#000"/>
<rect x="358" y="796" width="8" height="1" fill="#000"/>
<rect x="372" y="796" width="8" height="1" fill="#000"/>
<rect x="386" y="796" width="7" height="1" fill="#000"/>
<rect x="400" y="796" width="7" height="1" fill="#000"/>
<rect x="413" y="796" width="8" height="1" fill="#000"/>
<rect x="427" y="796" width="8" height="1" fill="#000"/>
<rect x="441" y="796" width="8" height="1" fill="#000"/>
<rect x="455" y="796" width="7" height="1" fill="#000"/>
<rect x="469" y="796" width="7" height="1" fill="#000"/>
<rect x="482" y="796" width="5" height="1" fill="#000"/>
<text x="509" y="87" font-size="9.5" textLength="16.4" lengthAdjust="spacingAndGlyphs" fill="#0000ff" class="m">des</text>
<text x="529.8" y="87" font-size="9.5" textLength="16.5" lengthAdjust="spacingAndGlyphs" fill="#0000ff" class="m">dist</text>
<text x="550.6" y="87" font-size="9.5" textLength="23.5" lengthAdjust="spacingAndGlyphs" fill="#0000ff" class="m">burst</text>
<text x="578.4" y="87" font-size="9.5" textLength="16.5" lengthAdjust="spacingAndGlyphs" fill="#0000ff" class="m">SC1</text>
<text x="598.3" y="87" font-size="9.5" textLength="26.3" lengthAdjust="spacing" fill="#0000ff" class="m">MMS1</text>
<text x="509" y="102" font-size="9.5" textLength="16.4" lengthAdjust="spacingAndGlyphs" fill="#ff00ff" class="m">des</text>
<text x="529.8" y="102" font-size="9.5" textLength="16.5" lengthAdjust="spacingAndGlyphs" fill="#ff00ff" class="m">dist</text>
<text x="550.6" y="102" font-size="9.5" textLength="23.5" lengthAdjust="spacingAndGlyphs" fill="#ff00ff" class="m">burst</text>
<text x="578.4" y="102" font-size="9.5" textLength="16.5" lengthAdjust="spacingAndGlyphs" fill="#ff00ff" class="m">SC2</text>
<text x="598.3" y="102" font-size="9.5" textLength="26.3" lengthAdjust="spacing" fill="#ff00ff" class="m">MMS2</text>
<text x="509" y="117" font-size="9.5" textLength="16.4" lengthAdjust="spacingAndGlyphs" fill="#ff0000" class="m">des</text>
<text x="529.8" y="117" font-size="9.5" textLength="16.5" lengthAdjust="spacingAndGlyphs" fill="#ff0000" class="m">dist</text>
<text x="550.6" y="117" font-size="9.5" textLength="23.5" lengthAdjust="spacingAndGlyphs" fill="#ff0000" class="m">burst</text>
<text x="578.4" y="117" font-size="9.5" textLength="16.5" lengthAdjust="spacingAndGlyphs" fill="#ff0000" class="m">SC3</text>
<text x="598.3" y="117" font-size="9.5" textLength="26.3" lengthAdjust="spacing" fill="#ff0000" class="m">MMS3</text>
<text x="509" y="131" font-size="9.5" textLength="16.4" lengthAdjust="spacingAndGlyphs" fill="#00e800" class="m">des</text>
<text x="529.8" y="131" font-size="9.5" textLength="16.5" lengthAdjust="spacingAndGlyphs" fill="#00e800" class="m">dist</text>
<text x="550.6" y="131" font-size="9.5" textLength="23.5" lengthAdjust="spacingAndGlyphs" fill="#00e800" class="m">burst</text>
<text x="578.4" y="131" font-size="9.5" textLength="16.5" lengthAdjust="spacingAndGlyphs" fill="#00e800" class="m">SC4</text>
<text x="598.3" y="131" font-size="9.5" textLength="26.3" lengthAdjust="spacing" fill="#00e800" class="m">MMS4</text>
<text x="508" y="653.3" font-size="9.5" textLength="17.4" lengthAdjust="spacing" fill="#ff0000" class="m">fgm</text>
<text x="531.8" y="653.3" font-size="9.5" textLength="10.5" lengthAdjust="spacingAndGlyphs" fill="#ff0000" class="m">bx</text>
<text x="547.7" y="653.3" font-size="9.5" textLength="15.4" lengthAdjust="spacingAndGlyphs" fill="#ff0000" class="m">gse</text>
<text x="568" y="653.3" font-size="9.5" textLength="18.6" lengthAdjust="spacingAndGlyphs" fill="#ff0000" class="m">srvy</text>
<text x="591.3" y="653.3" font-size="9.5" textLength="8.5" lengthAdjust="spacingAndGlyphs" fill="#ff0000" class="m">l2</text>
<text x="602.2" y="653.3" font-size="9.5" textLength="27.4" lengthAdjust="spacing" fill="#ff0000" class="m">MMS1</text>
<text x="508" y="677.7" font-size="9.5" textLength="17.4" lengthAdjust="spacing" fill="#00e800" class="m">fgm</text>
<text x="531.8" y="677.7" font-size="9.5" textLength="10.5" lengthAdjust="spacingAndGlyphs" fill="#00e800" class="m">by</text>
<text x="547.7" y="677.7" font-size="9.5" textLength="15.4" lengthAdjust="spacingAndGlyphs" fill="#00e800" class="m">gse</text>
<text x="568" y="677.7" font-size="9.5" textLength="18.6" lengthAdjust="spacingAndGlyphs" fill="#00e800" class="m">srvy</text>
<text x="591.3" y="677.7" font-size="9.5" textLength="8.5" lengthAdjust="spacingAndGlyphs" fill="#00e800" class="m">l2</text>
<text x="602.2" y="677.7" font-size="9.5" textLength="27.4" lengthAdjust="spacing" fill="#00e800" class="m">MMS1</text>
<text x="508" y="702.9" font-size="9.5" textLength="17.4" lengthAdjust="spacing" fill="#0000ff" class="m">fgm</text>
<text x="531.8" y="702.9" font-size="9.5" textLength="9.5" lengthAdjust="spacingAndGlyphs" fill="#0000ff" class="m">bz</text>
<text x="546.7" y="702.9" font-size="9.5" textLength="15.4" lengthAdjust="spacingAndGlyphs" fill="#0000ff" class="m">gse</text>
<text x="567.5" y="702.9" font-size="9.5" textLength="19.1" lengthAdjust="spacingAndGlyphs" fill="#0000ff" class="m">srvy</text>
<text x="590.3" y="702.9" font-size="9.5" textLength="8.6" lengthAdjust="spacingAndGlyphs" fill="#0000ff" class="m">l2</text>
<text x="602.2" y="702.9" font-size="9.5" textLength="26.4" lengthAdjust="spacing" fill="#0000ff" class="m">MMS1</text>
<text x="508" y="726.7" font-size="9.5" textLength="17.4" lengthAdjust="spacing" class="m">fgm</text>
<text x="531.8" y="726.7" font-size="9.5" textLength="8.5" lengthAdjust="spacingAndGlyphs" class="m">bt</text>
<text x="545.7" y="726.7" font-size="9.5" textLength="15.5" lengthAdjust="spacingAndGlyphs" class="m">gse</text>
<text x="565.5" y="726.7" font-size="9.5" textLength="19.5" lengthAdjust="spacingAndGlyphs" class="m">srvy</text>
<text x="589.3" y="726.7" font-size="9.5" textLength="8.6" lengthAdjust="spacingAndGlyphs" class="m">l2</text>
<text x="600.2" y="726.7" font-size="9.5" textLength="26.4" lengthAdjust="spacing" class="m">MMS1</text>
<text x="507.9" y="766.1" font-size="9.5" textLength="8.0" lengthAdjust="spacingAndGlyphs" fill="#ff0000" class="m">Jx</text>
<text x="521.7" y="766.1" font-size="9.5" textLength="14.9" lengthAdjust="spacingAndGlyphs" fill="#ff0000" class="m">gse</text>
<text x="541.8" y="766.1" font-size="9.5" textLength="5.8" lengthAdjust="spacingAndGlyphs" fill="#ff0000" class="m">A</text>
<text x="552.6" y="766.1" font-size="9.5" textLength="14.1" lengthAdjust="spacing" fill="#ff0000" class="m">m2</text>
<text x="570.9" y="766.1" font-size="9.5" textLength="26.0" lengthAdjust="spacing" fill="#ff0000" class="m">MMS1</text>
<text x="507.9" y="790.7" font-size="9.5" textLength="8.0" lengthAdjust="spacingAndGlyphs" fill="#00e800" class="m">Jy</text>
<text x="521.7" y="790.7" font-size="9.5" textLength="14.9" lengthAdjust="spacingAndGlyphs" fill="#00e800" class="m">gse</text>
<text x="541.8" y="790.7" font-size="9.5" textLength="5.8" lengthAdjust="spacingAndGlyphs" fill="#00e800" class="m">A</text>
<text x="552.6" y="790.7" font-size="9.5" textLength="14.1" lengthAdjust="spacing" fill="#00e800" class="m">m2</text>
<text x="570.9" y="790.7" font-size="9.5" textLength="26.0" lengthAdjust="spacing" fill="#00e800" class="m">MMS1</text>
<text x="507.9" y="814.8" font-size="9.5" textLength="8.0" lengthAdjust="spacingAndGlyphs" fill="#0000ff" class="m">Jz</text>
<text x="520.6" y="814.8" font-size="9.5" textLength="15.2" lengthAdjust="spacingAndGlyphs" fill="#0000ff" class="m">gse</text>
<text x="540.7" y="814.8" font-size="9.5" textLength="6.2" lengthAdjust="spacingAndGlyphs" fill="#0000ff" class="m">A</text>
<text x="552.6" y="814.8" font-size="9.5" textLength="14.1" lengthAdjust="spacing" fill="#0000ff" class="m">m2</text>
<text x="570.1" y="814.8" font-size="9.5" textLength="26.8" lengthAdjust="spacing" fill="#0000ff" class="m">MMS1</text>
<text x="507.9" y="839.6" font-size="9.5" textLength="3.3" lengthAdjust="spacingAndGlyphs" class="m">J</text>
<text x="516.1" y="839.6" font-size="9.5" textLength="6.2" lengthAdjust="spacingAndGlyphs" class="m">A</text>
<text x="526.4" y="839.6" font-size="9.5" textLength="14.2" lengthAdjust="spacing" class="m">m2</text>
<text x="544.7" y="839.6" font-size="9.5" textLength="26.0" lengthAdjust="spacing" class="m">MMS1</text>
<text x="509" y="577.9" font-size="9.5" textLength="16.4" lengthAdjust="spacingAndGlyphs" class="m">des</text>
<text x="529.8" y="577.9" font-size="9.5" textLength="68.1" lengthAdjust="spacingAndGlyphs" class="m">numberdensity</text>
<text x="602.2" y="577.9" font-size="9.5" textLength="18.5" lengthAdjust="spacingAndGlyphs" class="m">fast</text>
<text x="623" y="577.9" font-size="9.5" textLength="8.1" lengthAdjust="spacingAndGlyphs" class="m">M</text>
<text x="516" y="209" font-size="10.5" textLength="21" lengthAdjust="spacingAndGlyphs">DES</text>
<text x="511" y="268" font-size="10.5" textLength="30" lengthAdjust="spacingAndGlyphs">MMS1</text>
<text x="516" y="315" font-size="10.5" textLength="21" lengthAdjust="spacingAndGlyphs">DES</text>
<text x="511" y="348" font-size="10.5" textLength="30" lengthAdjust="spacingAndGlyphs">MMS1</text>
<text x="497" y="380" font-size="10.5" textLength="58" lengthAdjust="spacingAndGlyphs">143-189 eV</text>
<text x="517" y="453" font-size="10.5" textLength="19" lengthAdjust="spacingAndGlyphs">DIS</text>
<text x="511" y="512" font-size="10.5" textLength="30" lengthAdjust="spacingAndGlyphs">MMS1</text>
<rect x="566" y="165" width="10" height="1" fill="#520000"/>
<rect x="566" y="166" width="10" height="1" fill="#760000"/>
<rect x="566" y="167" width="10" height="1" fill="#9a0000"/>
<rect x="566" y="168" width="10" height="1" fill="#ac0000"/>
<rect x="566" y="169" width="10" height="1" fill="#ba0000"/>
<rect x="566" y="170" width="10" height="1" fill="#c90000"/>
<rect x="566" y="171" width="10" height="1" fill="#d70000"/>
<rect x="566" y="172" width="10" height="1" fill="#e30100"/>
<rect x="566" y="173" width="10" height="1" fill="#ea0500"/>
<rect x="566" y="174" width="10" height="1" fill="#f10900"/>
<rect x="566" y="175" width="10" height="1" fill="#f80c00"/>
<rect x="566" y="176" width="10" height="1" fill="#ff1000"/>
<rect x="566" y="177" width="10" height="1" fill="#ff1a00"/>
<rect x="566" y="178" width="10" height="1" fill="#ff2400"/>
<rect x="566" y="179" width="10" height="1" fill="#ff2e00"/>
<rect x="566" y="180" width="10" height="1" fill="#ff3800"/>
<rect x="566" y="181" width="10" height="1" fill="#ff4300"/>
<rect x="566" y="182" width="10" height="1" fill="#ff4d00"/>
<rect x="566" y="183" width="10" height="1" fill="#ff5800"/>
<rect x="566" y="184" width="10" height="1" fill="#ff6400"/>
<rect x="566" y="185" width="10" height="1" fill="#ff7000"/>
<rect x="566" y="186" width="10" height="1" fill="#ff7c00"/>
<rect x="566" y="187" width="10" height="1" fill="#ff8800"/>
<rect x="566" y="188" width="10" height="1" fill="#ff9400"/>
<rect x="566" y="189" width="10" height="1" fill="#ff9f00"/>
<rect x="566" y="190" width="10" height="1" fill="#ffa900"/>
<rect x="566" y="191" width="10" height="1" fill="#ffb400"/>
<rect x="566" y="192" width="10" height="1" fill="#ffbf00"/>
<rect x="566" y="193" width="10" height="1" fill="#ffd000"/>
<rect x="566" y="194" width="10" height="1" fill="#ffe200"/>
<rect x="566" y="195" width="10" height="1" fill="#fff300"/>
<rect x="566" y="196" width="10" height="1" fill="#fbff00"/>
<rect x="566" y="197" width="10" height="1" fill="#f1ff00"/>
<rect x="566" y="198" width="10" height="1" fill="#e6ff00"/>
<rect x="566" y="199" width="10" height="1" fill="#dcff00"/>
<rect x="566" y="200" width="10" height="1" fill="#d1ff00"/>
<rect x="566" y="201" width="10" height="1" fill="#c4ff00"/>
<rect x="566" y="202" width="10" height="1" fill="#b6ff00"/>
<rect x="566" y="203" width="10" height="1" fill="#a9ff00"/>
<rect x="566" y="204" width="10" height="1" fill="#9bff00"/>
<rect x="566" y="205" width="10" height="1" fill="#8eff00"/>
<rect x="566" y="206" width="10" height="1" fill="#80ff00"/>
<rect x="566" y="207" width="10" height="1" fill="#73ff00"/>
<rect x="566" y="208" width="10" height="1" fill="#65ff00"/>
<rect x="566" y="209" width="10" height="1" fill="#58ff00"/>
<rect x="566" y="210" width="10" height="1" fill="#4bff00"/>
<rect x="566" y="211" width="10" height="1" fill="#3dff04"/>
<rect x="566" y="212" width="10" height="1" fill="#30ff16"/>
<rect x="566" y="213" width="10" height="1" fill="#22ff28"/>
<rect x="566" y="214" width="10" height="1" fill="#15ff3a"/>
<rect x="566" y="215" width="10" height="1" fill="#0cff4c"/>
<rect x="566" y="216" width="10" height="1" fill="#06ff5e"/>
<rect x="566" y="217" width="10" height="1" fill="#00ff70"/>
<rect x="566" y="218" width="10" height="1" fill="#00f37b"/>
<rect x="566" y="219" width="10" height="1" fill="#00e685"/>
<rect x="566" y="220" width="10" height="1" fill="#00da90"/>
<rect x="566" y="221" width="10" height="1" fill="#00ce9b"/>
<rect x="566" y="222" width="10" height="1" fill="#00c1a4"/>
<rect x="566" y="223" width="10" height="1" fill="#00b5ab"/>
<rect x="566" y="224" width="10" height="1" fill="#00a8b2"/>
<rect x="566" y="225" width="10" height="1" fill="#009bb9"/>
<rect x="566" y="226" width="10" height="1" fill="#008fc1"/>
<rect x="566" y="227" width="10" height="1" fill="#0084cc"/>
<rect x="566" y="228" width="10" height="1" fill="#0079d7"/>
<rect x="566" y="229" width="10" height="1" fill="#006ee2"/>
<rect x="566" y="230" width="10" height="1" fill="#0063ed"/>
<rect x="566" y="231" width="10" height="1" fill="#0058f7"/>
<rect x="566" y="232" width="10" height="1" fill="#004dff"/>
<rect x="566" y="233" width="10" height="1" fill="#0043ff"/>
<rect x="566" y="234" width="10" height="1" fill="#003aff"/>
<rect x="566" y="235" width="10" height="1" fill="#0030ff"/>
<rect x="566" y="236" width="10" height="1" fill="#0027ff"/>
<rect x="566" y="237" width="10" height="1" fill="#001dff"/>
<rect x="566" y="238" width="10" height="1" fill="#0014ff"/>
<rect x="566" y="239" width="10" height="1" fill="#000efc"/>
<rect x="566" y="240" width="10" height="1" fill="#000cf7"/>
<rect x="566" y="241" width="10" height="1" fill="#0009f2"/>
<rect x="566" y="242" width="10" height="1" fill="#0007ed"/>
<rect x="566" y="243" width="10" height="1" fill="#0004e8"/>
<rect x="566" y="244" width="10" height="1" fill="#0002e3"/>
<rect x="566" y="245" width="10" height="1" fill="#0000dc"/>
<rect x="566" y="246" width="10" height="1" fill="#0000d2"/>
<rect x="566" y="247" width="10" height="1" fill="#0000c7"/>
<rect x="566" y="248" width="10" height="1" fill="#0000bd"/>
<rect x="566" y="249" width="10" height="1" fill="#0000b3"/>
<rect x="566" y="250" width="10" height="1" fill="#0000a9"/>
<rect x="566" y="251" width="10" height="1" fill="#00009c"/>
<rect x="566" y="252" width="10" height="1" fill="#000084"/>
<rect x="566" y="253" width="10" height="1" fill="#00006c"/>
<rect x="565" y="164" width="12" height="3" fill="#000"/>
<rect x="565" y="164" width="12" height="1" fill="#000"/>
<rect x="565" y="254" width="12" height="1" fill="#000"/>
<rect x="565" y="164" width="1" height="91" fill="#000"/>
<rect x="576" y="164" width="1" height="91" fill="#000"/>
<text x="565.5" y="160" font-size="10.5" textLength="31" lengthAdjust="spacingAndGlyphs">Log JE</text>
<text x="584" y="175.9" font-size="10.5" textLength="15" lengthAdjust="spacingAndGlyphs">7.5</text>
<text x="584" y="204.2" font-size="10.5" textLength="15" lengthAdjust="spacingAndGlyphs">6.3</text>
<text x="584" y="232.5" font-size="10.5" textLength="15" lengthAdjust="spacingAndGlyphs">5.0</text>
<text x="584" y="260.8" font-size="10.5" textLength="15" lengthAdjust="spacingAndGlyphs">3.8</text>
<rect x="566" y="297" width="10" height="1" fill="#570000"/>
<rect x="566" y="298" width="10" height="1" fill="#860000"/>
<rect x="566" y="299" width="10" height="1" fill="#a80000"/>
<rect x="566" y="300" width="10" height="1" fill="#bb0000"/>
<rect x="566" y="301" width="10" height="1" fill="#cd0000"/>
<rect x="566" y="302" width="10" height="1" fill="#e00000"/>
<rect x="566" y="303" width="10" height="1" fill="#e90500"/>
<rect x="566" y="304" width="10" height="1" fill="#f20900"/>
<rect x="566" y="305" width="10" height="1" fill="#fb0e00"/>
<rect x="566" y="306" width="10" height="1" fill="#ff1700"/>
<rect x="566" y="307" width="10" height="1" fill="#ff2400"/>
<rect x="566" y="308" width="10" height="1" fill="#ff3200"/>
<rect x="566" y="309" width="10" height="1" fill="#ff3f00"/>
<rect x="566" y="310" width="10" height="1" fill="#ff4c00"/>
<rect x="566" y="311" width="10" height="1" fill="#ff5b00"/>
<rect x="566" y="312" width="10" height="1" fill="#ff6a00"/>
<rect x="566" y="313" width="10" height="1" fill="#ff7a00"/>
<rect x="566" y="314" width="10" height="1" fill="#ff8900"/>
<rect x="566" y="315" width="10" height="1" fill="#ff9800"/>
<rect x="566" y="316" width="10" height="1" fill="#ffa600"/>
<rect x="566" y="317" width="10" height="1" fill="#ffb400"/>
<rect x="566" y="318" width="10" height="1" fill="#ffc300"/>
<rect x="566" y="319" width="10" height="1" fill="#ffd900"/>
<rect x="566" y="320" width="10" height="1" fill="#fff000"/>
<rect x="566" y="321" width="10" height="1" fill="#faff00"/>
<rect x="566" y="322" width="10" height="1" fill="#edff00"/>
<rect x="566" y="323" width="10" height="1" fill="#dfff00"/>
<rect x="566" y="324" width="10" height="1" fill="#d1ff00"/>
<rect x="566" y="325" width="10" height="1" fill="#c0ff00"/>
<rect x="566" y="326" width="10" height="1" fill="#afff00"/>
<rect x="566" y="327" width="10" height="1" fill="#9eff00"/>
<rect x="566" y="328" width="10" height="1" fill="#8cff00"/>
<rect x="566" y="329" width="10" height="1" fill="#7bff00"/>
<rect x="566" y="330" width="10" height="1" fill="#69ff00"/>
<rect x="566" y="331" width="10" height="1" fill="#58ff00"/>
<rect x="566" y="332" width="10" height="1" fill="#47ff00"/>
<rect x="566" y="333" width="10" height="1" fill="#35ff0e"/>
<rect x="566" y="334" width="10" height="1" fill="#24ff26"/>
<rect x="566" y="335" width="10" height="1" fill="#12ff3d"/>
<rect x="566" y="336" width="10" height="1" fill="#09ff54"/>
<rect x="566" y="337" width="10" height="1" fill="#02ff6b"/>
<rect x="566" y="338" width="10" height="1" fill="#00f27b"/>
<rect x="566" y="339" width="10" height="1" fill="#00e289"/>
<rect x="566" y="340" width="10" height="1" fill="#00d397"/>
<rect x="566" y="341" width="10" height="1" fill="#00c2a3"/>
<rect x="566" y="342" width="10" height="1" fill="#00b2ac"/>
<rect x="566" y="343" width="10" height="1" fill="#00a2b6"/>
<rect x="566" y="344" width="10" height="1" fill="#0092bf"/>
<rect x="566" y="345" width="10" height="1" fill="#0083cd"/>
<rect x="566" y="346" width="10" height="1" fill="#0075db"/>
<rect x="566" y="347" width="10" height="1" fill="#0067e9"/>
<rect x="566" y="348" width="10" height="1" fill="#0058f7"/>
<rect x="566" y="349" width="10" height="1" fill="#004bff"/>
<rect x="566" y="350" width="10" height="1" fill="#003fff"/>
<rect x="566" y="351" width="10" height="1" fill="#0032ff"/>
<rect x="566" y="352" width="10" height="1" fill="#0026ff"/>
<rect x="566" y="353" width="10" height="1" fill="#001aff"/>
<rect x="566" y="354" width="10" height="1" fill="#000ffe"/>
<rect x="566" y="355" width="10" height="1" fill="#000cf7"/>
<rect x="566" y="356" width="10" height="1" fill="#0009f1"/>
<rect x="566" y="357" width="10" height="1" fill="#0005ea"/>
<rect x="566" y="358" width="10" height="1" fill="#0002e4"/>
<rect x="566" y="359" width="10" height="1" fill="#0000db"/>
<rect x="566" y="360" width="10" height="1" fill="#0000cd"/>
<rect x="566" y="361" width="10" height="1" fill="#0000c0"/>
<rect x="566" y="362" width="10" height="1" fill="#0000b3"/>
<rect x="566" y="363" width="10" height="1" fill="#0000a6"/>
<rect x="566" y="364" width="10" height="1" fill="#00008e"/>
<rect x="566" y="365" width="10" height="1" fill="#00006f"/>
<rect x="565" y="296" width="12" height="2" fill="#000"/>
<rect x="565" y="296" width="12" height="1" fill="#000"/>
<rect x="565" y="366" width="12" height="1" fill="#000"/>
<rect x="565" y="296" width="1" height="71" fill="#000"/>
<rect x="576" y="296" width="1" height="71" fill="#000"/>
<text x="565.5" y="292" font-size="10.5" textLength="31" lengthAdjust="spacingAndGlyphs">Log JE</text>
<text x="584" y="306.7" font-size="10.5" textLength="15" lengthAdjust="spacingAndGlyphs">1.0</text>
<text x="584" y="329.2" font-size="10.5" textLength="15" lengthAdjust="spacingAndGlyphs">1.0</text>
<text x="584" y="351.7" font-size="10.5" textLength="15" lengthAdjust="spacingAndGlyphs">1.0</text>
<text x="584" y="374.2" font-size="10.5" textLength="15" lengthAdjust="spacingAndGlyphs">1.0</text>
<rect x="566" y="410" width="10" height="1" fill="#520000"/>
<rect x="566" y="411" width="10" height="1" fill="#770000"/>
<rect x="566" y="412" width="10" height="1" fill="#9b0000"/>
<rect x="566" y="413" width="10" height="1" fill="#ad0000"/>
<rect x="566" y="414" width="10" height="1" fill="#bb0000"/>
<rect x="566" y="415" width="10" height="1" fill="#ca0000"/>
<rect x="566" y="416" width="10" height="1" fill="#d80000"/>
<rect x="566" y="417" width="10" height="1" fill="#e30200"/>
<rect x="566" y="418" width="10" height="1" fill="#ea0500"/>
<rect x="566" y="419" width="10" height="1" fill="#f10900"/>
<rect x="566" y="420" width="10" height="1" fill="#f80d00"/>
<rect x="566" y="421" width="10" height="1" fill="#ff1100"/>
<rect x="566" y="422" width="10" height="1" fill="#ff1b00"/>
<rect x="566" y="423" width="10" height="1" fill="#ff2500"/>
<rect x="566" y="424" width="10" height="1" fill="#ff3000"/>
<rect x="566" y="425" width="10" height="1" fill="#ff3a00"/>
<rect x="566" y="426" width="10" height="1" fill="#ff4500"/>
<rect x="566" y="427" width="10" height="1" fill="#ff4f00"/>
<rect x="566" y="428" width="10" height="1" fill="#ff5b00"/>
<rect x="566" y="429" width="10" height="1" fill="#ff6700"/>
<rect x="566" y="430" width="10" height="1" fill="#ff7300"/>
<rect x="566" y="431" width="10" height="1" fill="#ff7f00"/>
<rect x="566" y="432" width="10" height="1" fill="#ff8b00"/>
<rect x="566" y="433" width="10" height="1" fill="#ff9700"/>
<rect x="566" y="434" width="10" height="1" fill="#ffa200"/>
<rect x="566" y="435" width="10" height="1" fill="#ffad00"/>
<rect x="566" y="436" width="10" height="1" fill="#ffb700"/>
<rect x="566" y="437" width="10" height="1" fill="#ffc400"/>
<rect x="566" y="438" width="10" height="1" fill="#ffd600"/>
<rect x="566" y="439" width="10" height="1" fill="#ffe800"/>
<rect x="566" y="440" width="10" height="1" fill="#fffa00"/>
<rect x="566" y="441" width="10" height="1" fill="#f8ff00"/>
<rect x="566" y="442" width="10" height="1" fill="#edff00"/>
<rect x="566" y="443" width="10" height="1" fill="#e2ff00"/>
<rect x="566" y="444" width="10" height="1" fill="#d7ff00"/>
<rect x="566" y="445" width="10" height="1" fill="#ccff00"/>
<rect x="566" y="446" width="10" height="1" fill="#beff00"/>
<rect x="566" y="447" width="10" height="1" fill="#b1ff00"/>
<rect x="566" y="448" width="10" height="1" fill="#a3ff00"/>
<rect x="566" y="449" width="10" height="1" fill="#95ff00"/>
<rect x="566" y="450" width="10" height="1" fill="#88ff00"/>
<rect x="566" y="451" width="10" height="1" fill="#7aff00"/>
<rect x="566" y="452" width="10" height="1" fill="#6cff00"/>
<rect x="566" y="453" width="10" height="1" fill="#5fff00"/>
<rect x="566" y="454" width="10" height="1" fill="#51ff00"/>
<rect x="566" y="455" width="10" height="1" fill="#44ff00"/>
<rect x="566" y="456" width="10" height="1" fill="#36ff0d"/>
<rect x="566" y="457" width="10" height="1" fill="#28ff20"/>
<rect x="566" y="458" width="10" height="1" fill="#1bff32"/>
<rect x="566" y="459" width="10" height="1" fill="#0fff44"/>
<rect x="566" y="460" width="10" height="1" fill="#09ff56"/>
<rect x="566" y="461" width="10" height="1" fill="#03ff68"/>
<rect x="566" y="462" width="10" height="1" fill="#00f876"/>
<rect x="566" y="463" width="10" height="1" fill="#00eb81"/>
<rect x="566" y="464" width="10" height="1" fill="#00df8c"/>
<rect x="566" y="465" width="10" height="1" fill="#00d297"/>
<rect x="566" y="466" width="10" height="1" fill="#00c6a1"/>
<rect x="566" y="467" width="10" height="1" fill="#00b9a9"/>
<rect x="566" y="468" width="10" height="1" fill="#00acb0"/>
<rect x="566" y="469" width="10" height="1" fill="#00a0b7"/>
<rect x="566" y="470" width="10" height="1" fill="#0093be"/>
<rect x="566" y="471" width="10" height="1" fill="#0087c9"/>
<rect x="566" y="472" width="10" height="1" fill="#007cd4"/>
<rect x="566" y="473" width="10" height="1" fill="#0071df"/>
<rect x="566" y="474" width="10" height="1" fill="#0066ea"/>
<rect x="566" y="475" width="10" height="1" fill="#005bf5"/>
<rect x="566" y="476" width="10" height="1" fill="#004fff"/>
<rect x="566" y="477" width="10" height="1" fill="#0046ff"/>
<rect x="566" y="478" width="10" height="1" fill="#003cff"/>
<rect x="566" y="479" width="10" height="1" fill="#0032ff"/>
<rect x="566" y="480" width="10" height="1" fill="#0029ff"/>
<rect x="566" y="481" width="10" height="1" fill="#001fff"/>
<rect x="566" y="482" width="10" height="1" fill="#0015ff"/>
<rect x="566" y="483" width="10" height="1" fill="#000ffd"/>
<rect x="566" y="484" width="10" height="1" fill="#000cf8"/>
<rect x="566" y="485" width="10" height="1" fill="#000af3"/>
<rect x="566" y="486" width="10" height="1" fill="#0007ee"/>
<rect x="566" y="487" width="10" height="1" fill="#0004e9"/>
<rect x="566" y="488" width="10" height="1" fill="#0002e4"/>
<rect x="566" y="489" width="10" height="1" fill="#0000dd"/>
<rect x="566" y="490" width="10" height="1" fill="#0000d2"/>
<rect x="566" y="491" width="10" height="1" fill="#0000c8"/>
<rect x="566" y="492" width="10" height="1" fill="#0000be"/>
<rect x="566" y="493" width="10" height="1" fill="#0000b3"/>
<rect x="566" y="494" width="10" height="1" fill="#0000a9"/>
<rect x="566" y="495" width="10" height="1" fill="#00009d"/>
<rect x="566" y="496" width="10" height="1" fill="#000084"/>
<rect x="566" y="497" width="10" height="1" fill="#00006c"/>
<rect x="565" y="409" width="12" height="2" fill="#000"/>
<rect x="565" y="409" width="12" height="1" fill="#000"/>
<rect x="565" y="498" width="12" height="1" fill="#000"/>
<rect x="565" y="409" width="1" height="90" fill="#000"/>
<rect x="576" y="409" width="1" height="90" fill="#000"/>
<text x="565.5" y="405" font-size="10.5" textLength="31" lengthAdjust="spacingAndGlyphs">Log JE</text>
<text x="584" y="420.5" font-size="10.5" textLength="15" lengthAdjust="spacingAndGlyphs">6.2</text>
<text x="584" y="448.5" font-size="10.5" textLength="15" lengthAdjust="spacingAndGlyphs">5.2</text>
<text x="584" y="476.7" font-size="10.5" textLength="15" lengthAdjust="spacingAndGlyphs">4.1</text>
<text x="584" y="504.9" font-size="10.5" textLength="15" lengthAdjust="spacingAndGlyphs">3.1</text>
<text x="508.4" y="240.8" font-size="9.5" textLength="17.4" lengthAdjust="spacing" class="m">edp</text>
<text x="530.6" y="240.8" font-size="9.5" textLength="24.3" lengthAdjust="spacingAndGlyphs" class="m">scpot</text>
<text x="559" y="240.8" font-size="9.5" textLength="24.9" lengthAdjust="spacing" class="m">MMS1</text>
<text x="110.0" y="864.6" font-size="10.5" text-anchor="middle" textLength="28" lengthAdjust="spacingAndGlyphs">12:00</text>
<text x="172.83333333333334" y="864.6" font-size="10.5" text-anchor="middle" textLength="28" lengthAdjust="spacingAndGlyphs">14:00</text>
<text x="235.66666666666669" y="864.6" font-size="10.5" text-anchor="middle" textLength="28" lengthAdjust="spacingAndGlyphs">16:00</text>
<text x="298.5" y="864.6" font-size="10.5" text-anchor="middle" textLength="28" lengthAdjust="spacingAndGlyphs">18:00</text>
<text x="361.33333333333337" y="864.6" font-size="10.5" text-anchor="middle" textLength="28" lengthAdjust="spacingAndGlyphs">20:00</text>
<text x="424.1666666666667" y="864.6" font-size="10.5" text-anchor="middle" textLength="28" lengthAdjust="spacingAndGlyphs">22:00</text>
<text x="487.0" y="864.6" font-size="10.5" text-anchor="middle" textLength="28" lengthAdjust="spacingAndGlyphs">00:00</text>
<text x="101.5" y="929" font-size="11" textLength="109" lengthAdjust="spacingAndGlyphs">Produced by cl (IRAP)</text>
<text x="221.5" y="929" font-size="11" textLength="135" lengthAdjust="spacingAndGlyphs">Printing date: 01/Dec/2025</text>
<text x="368" y="929" font-size="11" textLength="157" lengthAdjust="spacingAndGlyphs">mms_mms1_srvy_vue_web1.cl</text>
<path fill="#0000ff" d="M1 928h1v1h-1zM1 929h1v1h-1zM1 930h1v1h-1zM1 931h1v1h-1zM1 932h1v1h-1zM5 928h1v1h-1zM5 929h1v1h-1zM5 930h1v1h-1zM5 931h1v1h-1zM5 932h1v1h-1zM6 928h1v1h-1zM7 928h1v1h-1zM7 929h1v1h-1zM7 930h1v1h-1zM7 931h1v1h-1zM6 931h1v1h-1zM10 928h1v1h-1zM10 929h1v1h-1zM10 930h1v1h-1zM10 931h1v1h-1zM10 932h1v1h-1zM11 928h1v1h-1zM12 928h1v1h-1zM13 929h1v1h-1zM13 930h1v1h-1zM13 931h1v1h-1zM13 932h1v1h-1zM17 928h1v1h-1zM17 929h1v1h-1zM17 930h1v1h-1zM17 931h1v1h-1zM17 932h1v1h-1zM22 928h1v1h-1zM22 929h1v1h-1zM22 930h1v1h-1zM22 931h1v1h-1zM22 932h1v1h-1z"/>
<path fill="#0000ff" d="M605 928h1v1h-1zM605 929h1v1h-1zM605 930h1v1h-1zM605 931h1v1h-1zM605 932h1v1h-1zM608 928h1v1h-1zM608 929h1v1h-1zM608 930h1v1h-1zM608 931h1v1h-1zM608 932h1v1h-1zM609 928h1v1h-1zM610 928h1v1h-1zM610 929h1v1h-1zM610 930h1v1h-1zM610 931h1v1h-1zM609 931h1v1h-1zM614 928h1v1h-1zM614 929h1v1h-1zM614 930h1v1h-1zM614 931h1v1h-1zM614 932h1v1h-1zM615 928h1v1h-1zM616 928h1v1h-1zM617 929h1v1h-1zM617 930h1v1h-1zM617 931h1v1h-1zM617 932h1v1h-1zM621 928h1v1h-1zM621 929h1v1h-1zM621 930h1v1h-1zM621 931h1v1h-1zM621 932h1v1h-1zM626 928h1v1h-1zM626 929h1v1h-1zM626 930h1v1h-1zM626 931h1v1h-1zM626 932h1v1h-1z"/>
</svg></body></html>
